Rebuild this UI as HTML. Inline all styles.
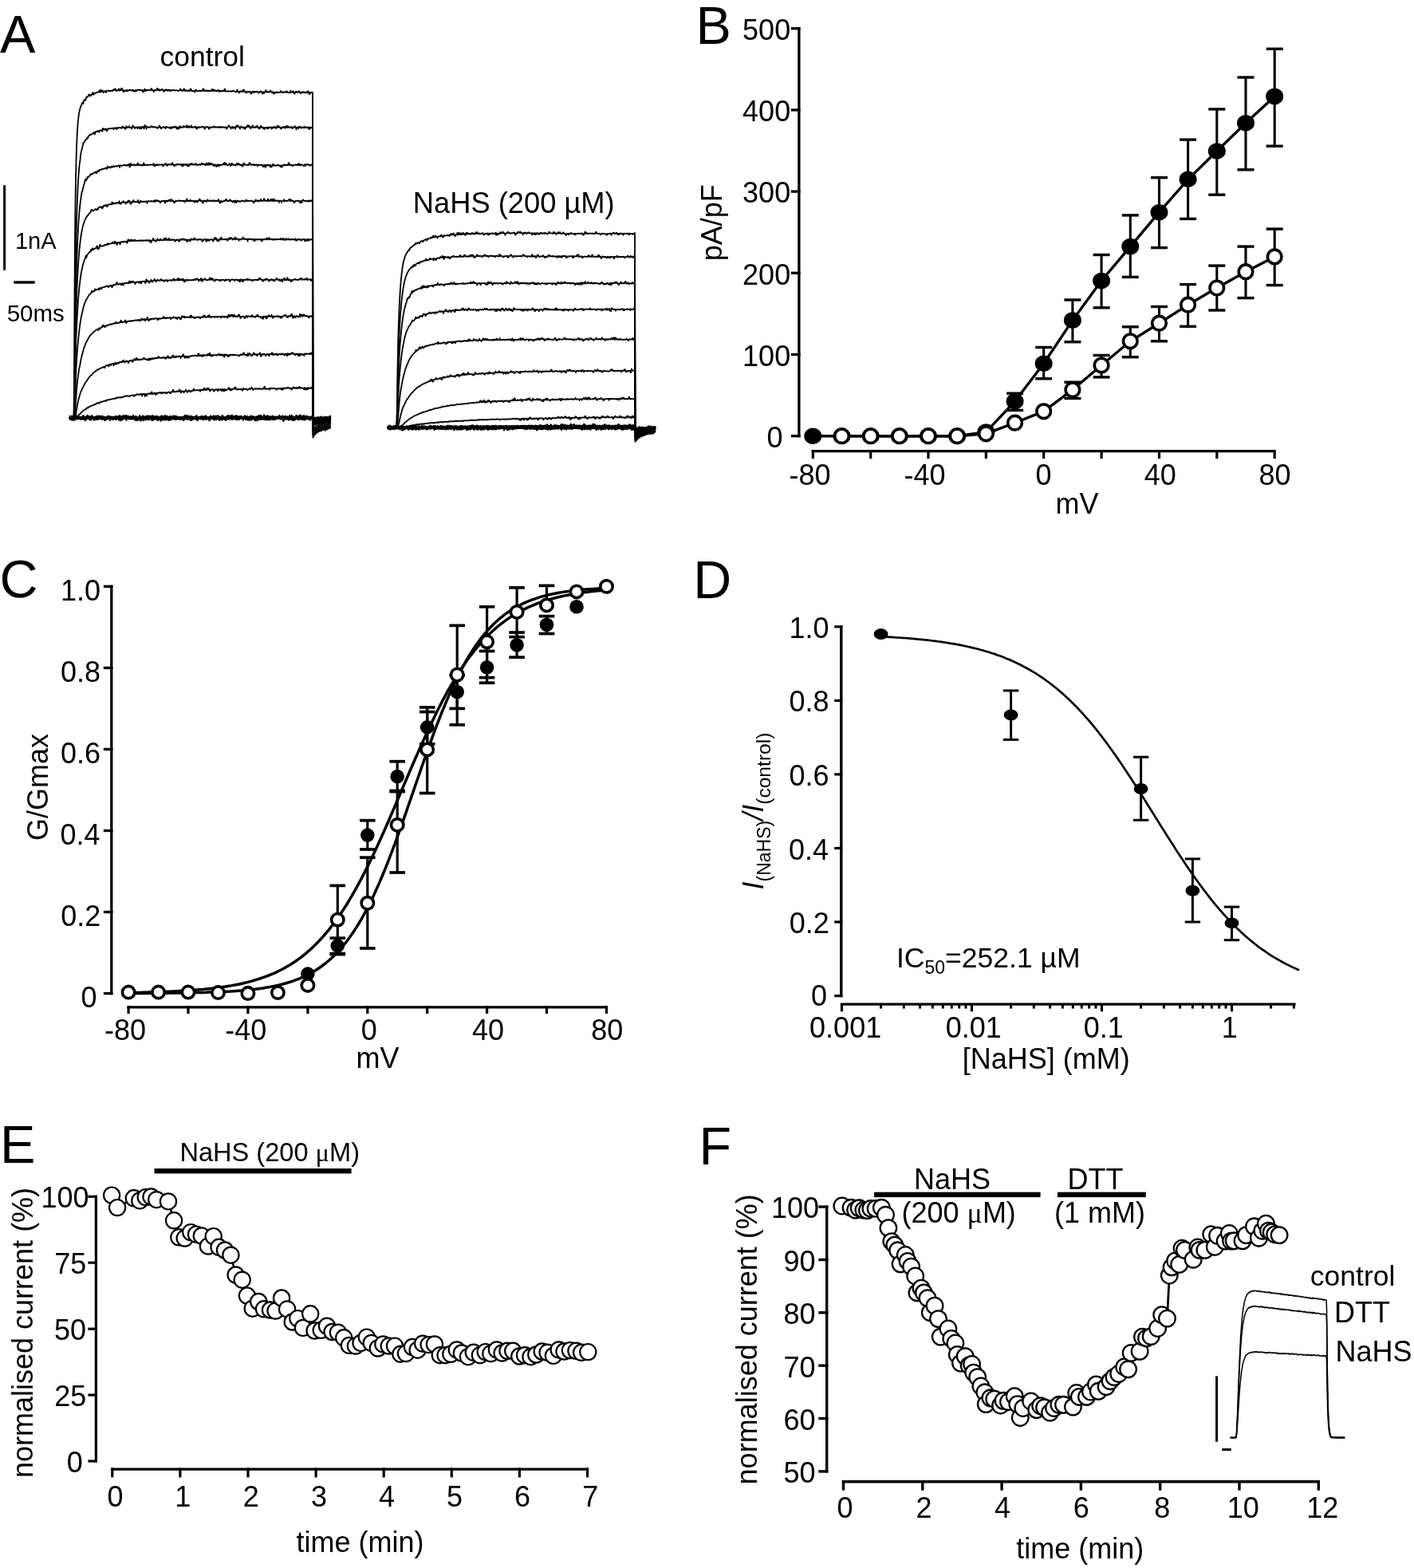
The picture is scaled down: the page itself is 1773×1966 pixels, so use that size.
<!DOCTYPE html>
<html><head><meta charset="utf-8"><title>Figure</title>
<style>html,body{margin:0;padding:0;background:#fff;}svg{display:block;}</style></head>
<body><svg width="1773" height="1966" viewBox="0 0 1773 1966" font-family="'Liberation Sans', Arial, sans-serif" fill="#000">
<rect width="1773" height="1966" fill="#fff"/>
<text x="0.1" y="65.8" font-size="66.5">A</text>
<text x="872.5" y="55.1" font-size="66.5">B</text>
<text x="-0.6" y="748.7" font-size="66.5">C</text>
<text x="869.3" y="749.9" font-size="66.5">D</text>
<text x="-0.1" y="1458" font-size="66.5">E</text>
<text x="876.5" y="1460.2" font-size="66.5">F</text>
<g stroke="#000" stroke-linecap="square">
<line x1="1001.9" y1="35.7" x2="1001.9" y2="546.7" stroke-width="3.3"/>
<line x1="993.5" y1="546.7" x2="1001.9" y2="546.7" stroke-width="3.3"/>
<line x1="993.5" y1="444.5" x2="1001.9" y2="444.5" stroke-width="3.3"/>
<line x1="993.5" y1="342.3" x2="1001.9" y2="342.3" stroke-width="3.3"/>
<line x1="993.5" y1="240.1" x2="1001.9" y2="240.1" stroke-width="3.3"/>
<line x1="993.5" y1="137.9" x2="1001.9" y2="137.9" stroke-width="3.3"/>
<line x1="993.5" y1="35.7" x2="1001.9" y2="35.7" stroke-width="3.3"/>
<line x1="1019.3" y1="565.7" x2="1597.5" y2="565.7" stroke-width="3.2"/>
<line x1="1019.3" y1="565.7" x2="1019.3" y2="573.5" stroke-width="3.2"/>
<line x1="1091.7" y1="565.7" x2="1091.7" y2="573.5" stroke-width="3.2"/>
<line x1="1164" y1="565.7" x2="1164" y2="573.5" stroke-width="3.2"/>
<line x1="1236.4" y1="565.7" x2="1236.4" y2="573.5" stroke-width="3.2"/>
<line x1="1308.7" y1="565.7" x2="1308.7" y2="573.5" stroke-width="3.2"/>
<line x1="1381.1" y1="565.7" x2="1381.1" y2="573.5" stroke-width="3.2"/>
<line x1="1453.5" y1="565.7" x2="1453.5" y2="573.5" stroke-width="3.2"/>
<line x1="1525.8" y1="565.7" x2="1525.8" y2="573.5" stroke-width="3.2"/>
<line x1="1598.2" y1="565.7" x2="1598.2" y2="573.5" stroke-width="3.2"/>
</g>
<text x="931.1" y="458.8" font-size="36">100</text>
<text x="931.1" y="356.6" font-size="36">200</text>
<text x="931.1" y="254.4" font-size="36">300</text>
<text x="931.1" y="152.2" font-size="36">400</text>
<text x="931.1" y="50" font-size="36">500</text>
<text x="961.5" y="560.8" font-size="36">0</text>
<text x="989.5" y="607.9" font-size="36">-80</text>
<text x="1133.6" y="607.9" font-size="36">-40</text>
<text x="1298.4" y="607.9" font-size="36">0</text>
<text x="1434.8" y="607.9" font-size="36">40</text>
<text x="1578.4" y="607.9" font-size="36">80</text>
<text x="1323.4" y="644.1" font-size="36">mV</text>
<text transform="translate(904.5 327.2) rotate(-90)" font-size="36">pA/pF</text>
<g stroke="#000" stroke-linecap="butt">
<line x1="1272.6" y1="493.2" x2="1272.6" y2="514.4" stroke-width="3.1"/>
<line x1="1262.1" y1="493.2" x2="1283.1" y2="493.2" stroke-width="3.4" stroke-linecap="butt"/>
<line x1="1262.1" y1="514.4" x2="1283.1" y2="514.4" stroke-width="3.4" stroke-linecap="butt"/>
<line x1="1308.7" y1="435.5" x2="1308.7" y2="474.8" stroke-width="3.1"/>
<line x1="1298.2" y1="435.5" x2="1319.2" y2="435.5" stroke-width="3.4" stroke-linecap="butt"/>
<line x1="1298.2" y1="474.8" x2="1319.2" y2="474.8" stroke-width="3.4" stroke-linecap="butt"/>
<line x1="1344.9" y1="376" x2="1344.9" y2="428.7" stroke-width="3.1"/>
<line x1="1334.4" y1="376" x2="1355.4" y2="376" stroke-width="3.4" stroke-linecap="butt"/>
<line x1="1334.4" y1="428.7" x2="1355.4" y2="428.7" stroke-width="3.4" stroke-linecap="butt"/>
<line x1="1381.1" y1="319.5" x2="1381.1" y2="385.8" stroke-width="3.1"/>
<line x1="1370.6" y1="319.5" x2="1391.6" y2="319.5" stroke-width="3.4" stroke-linecap="butt"/>
<line x1="1370.6" y1="385.8" x2="1391.6" y2="385.8" stroke-width="3.4" stroke-linecap="butt"/>
<line x1="1417.3" y1="269.9" x2="1417.3" y2="347.4" stroke-width="3.1"/>
<line x1="1406.8" y1="269.9" x2="1427.8" y2="269.9" stroke-width="3.4" stroke-linecap="butt"/>
<line x1="1406.8" y1="347.4" x2="1427.8" y2="347.4" stroke-width="3.4" stroke-linecap="butt"/>
<line x1="1453.5" y1="222.7" x2="1453.5" y2="310.6" stroke-width="3.1"/>
<line x1="1443" y1="222.7" x2="1464" y2="222.7" stroke-width="3.4" stroke-linecap="butt"/>
<line x1="1443" y1="310.6" x2="1464" y2="310.6" stroke-width="3.4" stroke-linecap="butt"/>
<line x1="1489.6" y1="175.1" x2="1489.6" y2="274.4" stroke-width="3.1"/>
<line x1="1479.1" y1="175.1" x2="1500.1" y2="175.1" stroke-width="3.4" stroke-linecap="butt"/>
<line x1="1479.1" y1="274.4" x2="1500.1" y2="274.4" stroke-width="3.4" stroke-linecap="butt"/>
<line x1="1525.8" y1="136.9" x2="1525.8" y2="244.2" stroke-width="3.1"/>
<line x1="1515.3" y1="136.9" x2="1536.3" y2="136.9" stroke-width="3.4" stroke-linecap="butt"/>
<line x1="1515.3" y1="244.2" x2="1536.3" y2="244.2" stroke-width="3.4" stroke-linecap="butt"/>
<line x1="1562" y1="97" x2="1562" y2="212.8" stroke-width="3.1"/>
<line x1="1551.5" y1="97" x2="1572.5" y2="97" stroke-width="3.4" stroke-linecap="butt"/>
<line x1="1551.5" y1="212.8" x2="1572.5" y2="212.8" stroke-width="3.4" stroke-linecap="butt"/>
<line x1="1598.2" y1="61.3" x2="1598.2" y2="183.2" stroke-width="3.1"/>
<line x1="1587.7" y1="61.3" x2="1608.7" y2="61.3" stroke-width="3.4" stroke-linecap="butt"/>
<line x1="1587.7" y1="183.2" x2="1608.7" y2="183.2" stroke-width="3.4" stroke-linecap="butt"/>
<polyline points="1019.3,546.7 1055.5,546.7 1091.7,546.7 1127.8,546.7 1164,546.7 1200.2,546.7 1236.4,541.6 1272.6,503.2 1308.7,455.7 1344.9,401.6 1381.1,352 1417.3,309.1 1453.5,266.2 1489.6,224.8 1525.8,189.5 1562,154.3 1598.2,120.9" fill="none" stroke-width="3.4"/>
<ellipse cx="1019.3" cy="546.7" rx="11" ry="10.3" fill="#000" stroke="none"/>
<ellipse cx="1055.5" cy="546.7" rx="11" ry="10.3" fill="#000" stroke="none"/>
<ellipse cx="1091.7" cy="546.7" rx="11" ry="10.3" fill="#000" stroke="none"/>
<ellipse cx="1127.8" cy="546.7" rx="11" ry="10.3" fill="#000" stroke="none"/>
<ellipse cx="1164" cy="546.7" rx="11" ry="10.3" fill="#000" stroke="none"/>
<ellipse cx="1200.2" cy="546.7" rx="11" ry="10.3" fill="#000" stroke="none"/>
<ellipse cx="1236.4" cy="541.6" rx="11" ry="10.3" fill="#000" stroke="none"/>
<ellipse cx="1272.6" cy="503.2" rx="11" ry="10.3" fill="#000" stroke="none"/>
<ellipse cx="1308.7" cy="455.7" rx="11" ry="10.3" fill="#000" stroke="none"/>
<ellipse cx="1344.9" cy="401.6" rx="11" ry="10.3" fill="#000" stroke="none"/>
<ellipse cx="1381.1" cy="352" rx="11" ry="10.3" fill="#000" stroke="none"/>
<ellipse cx="1417.3" cy="309.1" rx="11" ry="10.3" fill="#000" stroke="none"/>
<ellipse cx="1453.5" cy="266.2" rx="11" ry="10.3" fill="#000" stroke="none"/>
<ellipse cx="1489.6" cy="224.8" rx="11" ry="10.3" fill="#000" stroke="none"/>
<ellipse cx="1525.8" cy="189.5" rx="11" ry="10.3" fill="#000" stroke="none"/>
<ellipse cx="1562" cy="154.3" rx="11" ry="10.3" fill="#000" stroke="none"/>
<ellipse cx="1598.2" cy="120.9" rx="11" ry="10.3" fill="#000" stroke="none"/>
<line x1="1344.9" y1="479.2" x2="1344.9" y2="499.5" stroke-width="3.1"/>
<line x1="1334.4" y1="479.2" x2="1355.4" y2="479.2" stroke-width="3.4" stroke-linecap="butt"/>
<line x1="1334.4" y1="499.5" x2="1355.4" y2="499.5" stroke-width="3.4" stroke-linecap="butt"/>
<line x1="1381.1" y1="445.5" x2="1381.1" y2="472.9" stroke-width="3.1"/>
<line x1="1370.6" y1="445.5" x2="1391.6" y2="445.5" stroke-width="3.4" stroke-linecap="butt"/>
<line x1="1370.6" y1="472.9" x2="1391.6" y2="472.9" stroke-width="3.4" stroke-linecap="butt"/>
<line x1="1417.3" y1="409.8" x2="1417.3" y2="447.7" stroke-width="3.1"/>
<line x1="1406.8" y1="409.8" x2="1427.8" y2="409.8" stroke-width="3.4" stroke-linecap="butt"/>
<line x1="1406.8" y1="447.7" x2="1427.8" y2="447.7" stroke-width="3.4" stroke-linecap="butt"/>
<line x1="1453.5" y1="384.5" x2="1453.5" y2="427.8" stroke-width="3.1"/>
<line x1="1443" y1="384.5" x2="1464" y2="384.5" stroke-width="3.4" stroke-linecap="butt"/>
<line x1="1443" y1="427.8" x2="1464" y2="427.8" stroke-width="3.4" stroke-linecap="butt"/>
<line x1="1489.6" y1="356.6" x2="1489.6" y2="409.3" stroke-width="3.1"/>
<line x1="1479.1" y1="356.6" x2="1500.1" y2="356.6" stroke-width="3.4" stroke-linecap="butt"/>
<line x1="1479.1" y1="409.3" x2="1500.1" y2="409.3" stroke-width="3.4" stroke-linecap="butt"/>
<line x1="1525.8" y1="333.1" x2="1525.8" y2="389" stroke-width="3.1"/>
<line x1="1515.3" y1="333.1" x2="1536.3" y2="333.1" stroke-width="3.4" stroke-linecap="butt"/>
<line x1="1515.3" y1="389" x2="1536.3" y2="389" stroke-width="3.4" stroke-linecap="butt"/>
<line x1="1562" y1="309.1" x2="1562" y2="373.6" stroke-width="3.1"/>
<line x1="1551.5" y1="309.1" x2="1572.5" y2="309.1" stroke-width="3.4" stroke-linecap="butt"/>
<line x1="1551.5" y1="373.6" x2="1572.5" y2="373.6" stroke-width="3.4" stroke-linecap="butt"/>
<line x1="1598.2" y1="287.1" x2="1598.2" y2="357.6" stroke-width="3.1"/>
<line x1="1587.7" y1="287.1" x2="1608.7" y2="287.1" stroke-width="3.4" stroke-linecap="butt"/>
<line x1="1587.7" y1="357.6" x2="1608.7" y2="357.6" stroke-width="3.4" stroke-linecap="butt"/>
<polyline points="1055.5,546.7 1091.7,546.7 1127.8,546.7 1164,546.7 1200.2,546.7 1236.4,543.8 1272.6,530.2 1308.7,515.8 1344.9,488.7 1381.1,458 1417.3,427.8 1453.5,405.2 1489.6,382.2 1525.8,361 1562,340.7 1598.2,321.9" fill="none" stroke-width="3.4"/>
<circle cx="1055.5" cy="546.7" r="8.8" fill="#fff" stroke-width="3.6"/>
<circle cx="1091.7" cy="546.7" r="8.8" fill="#fff" stroke-width="3.6"/>
<circle cx="1127.8" cy="546.7" r="8.8" fill="#fff" stroke-width="3.6"/>
<circle cx="1164" cy="546.7" r="8.8" fill="#fff" stroke-width="3.6"/>
<circle cx="1200.2" cy="546.7" r="8.8" fill="#fff" stroke-width="3.6"/>
<circle cx="1236.4" cy="543.8" r="8.8" fill="#fff" stroke-width="3.6"/>
<circle cx="1272.6" cy="530.2" r="8.8" fill="#fff" stroke-width="3.6"/>
<circle cx="1308.7" cy="515.8" r="8.8" fill="#fff" stroke-width="3.6"/>
<circle cx="1344.9" cy="488.7" r="8.8" fill="#fff" stroke-width="3.6"/>
<circle cx="1381.1" cy="458" r="8.8" fill="#fff" stroke-width="3.6"/>
<circle cx="1417.3" cy="427.8" r="8.8" fill="#fff" stroke-width="3.6"/>
<circle cx="1453.5" cy="405.2" r="8.8" fill="#fff" stroke-width="3.6"/>
<circle cx="1489.6" cy="382.2" r="8.8" fill="#fff" stroke-width="3.6"/>
<circle cx="1525.8" cy="361" r="8.8" fill="#fff" stroke-width="3.6"/>
<circle cx="1562" cy="340.7" r="8.8" fill="#fff" stroke-width="3.6"/>
<circle cx="1598.2" cy="321.9" r="8.8" fill="#fff" stroke-width="3.6"/>
</g>
<g stroke="#000" stroke-linecap="square">
<line x1="139.8" y1="735.3" x2="139.8" y2="1245.6" stroke-width="3.3"/>
<line x1="131.5" y1="1245.6" x2="139.8" y2="1245.6" stroke-width="3.3"/>
<line x1="131.5" y1="1143.5" x2="139.8" y2="1143.5" stroke-width="3.3"/>
<line x1="131.5" y1="1041.5" x2="139.8" y2="1041.5" stroke-width="3.3"/>
<line x1="131.5" y1="939.4" x2="139.8" y2="939.4" stroke-width="3.3"/>
<line x1="131.5" y1="837.4" x2="139.8" y2="837.4" stroke-width="3.3"/>
<line x1="131.5" y1="735.3" x2="139.8" y2="735.3" stroke-width="3.3"/>
<line x1="161.1" y1="1262.9" x2="760.4" y2="1262.9" stroke-width="3.2"/>
<line x1="161.1" y1="1262.9" x2="161.1" y2="1269.5" stroke-width="3.2"/>
<line x1="236" y1="1262.9" x2="236" y2="1269.5" stroke-width="3.2"/>
<line x1="310.9" y1="1262.9" x2="310.9" y2="1269.5" stroke-width="3.2"/>
<line x1="385.9" y1="1262.9" x2="385.9" y2="1269.5" stroke-width="3.2"/>
<line x1="460.8" y1="1262.9" x2="460.8" y2="1269.5" stroke-width="3.2"/>
<line x1="535.7" y1="1262.9" x2="535.7" y2="1269.5" stroke-width="3.2"/>
<line x1="610.6" y1="1262.9" x2="610.6" y2="1269.5" stroke-width="3.2"/>
<line x1="685.5" y1="1262.9" x2="685.5" y2="1269.5" stroke-width="3.2"/>
<line x1="760.5" y1="1262.9" x2="760.5" y2="1269.5" stroke-width="3.2"/>
</g>
<text x="101.4" y="1262.9" font-size="36">0</text>
<text x="76.2" y="1160.8" font-size="36">0.2</text>
<text x="75.5" y="1058.8" font-size="36">0.4</text>
<text x="76" y="956.7" font-size="36">0.6</text>
<text x="76" y="854.6" font-size="36">0.8</text>
<text x="75.9" y="752.6" font-size="36">1.0</text>
<text x="131" y="1303.7" font-size="36">-80</text>
<text x="282.3" y="1303.7" font-size="36">-40</text>
<text x="452.8" y="1303.7" font-size="36">0</text>
<text x="591.9" y="1303.7" font-size="36">40</text>
<text x="741.3" y="1303.7" font-size="36">80</text>
<text x="446.4" y="1338.8" font-size="36">mV</text>
<text transform="translate(59.9 1054) rotate(-90)" font-size="36">G/Gmax</text>
<g stroke="#000" fill="none">
<polyline points="161.1,1244.7 164.8,1244.6 168.6,1244.5 172.3,1244.5 176.1,1244.4 179.8,1244.3 183.6,1244.2 187.3,1244.1 191.1,1244 194.8,1243.9 198.6,1243.8 202.3,1243.6 206.1,1243.5 209.8,1243.3 213.5,1243.2 217.3,1243 221,1242.8 224.8,1242.6 228.5,1242.4 232.3,1242.2 236,1241.9 239.8,1241.7 243.5,1241.4 247.3,1241.1 251,1240.8 254.8,1240.5 258.5,1240.1 262.2,1239.7 266,1239.3 269.7,1238.8 273.5,1238.4 277.2,1237.9 281,1237.3 284.7,1236.7 288.5,1236.1 292.2,1235.4 296,1234.7 299.7,1234 303.4,1233.2 307.2,1232.3 310.9,1231.4 314.7,1230.4 318.4,1229.3 322.2,1228.2 325.9,1227 329.7,1225.7 333.4,1224.4 337.2,1222.9 340.9,1221.4 344.7,1219.8 348.4,1218 352.1,1216.2 355.9,1214.2 359.6,1212.1 363.4,1209.9 367.1,1207.5 370.9,1205 374.6,1202.3 378.4,1199.5 382.1,1196.6 385.9,1193.4 389.6,1190.1 393.4,1186.6 397.1,1182.9 400.8,1179 404.6,1174.9 408.3,1170.6 412.1,1166.1 415.8,1161.3 419.6,1156.4 423.3,1151.2 427.1,1145.8 430.8,1140.1 434.6,1134.2 438.3,1128.1 442,1121.7 445.8,1115.2 449.5,1108.4 453.3,1101.3 457,1094.1 460.8,1086.6 464.5,1079 468.3,1071.2 472,1063.2 475.8,1055 479.5,1046.7 483.3,1038.3 487,1029.7 490.7,1021.1 494.5,1012.4 498.2,1003.6 502,994.8 505.7,986.1 509.5,977.3 513.2,968.5 517,959.8 520.7,951.2 524.5,942.6 528.2,934.2 532,925.9 535.7,917.7 539.4,909.7 543.2,901.9 546.9,894.3 550.7,886.8 554.4,879.6 558.2,872.5 561.9,865.7 565.7,859.2 569.4,852.8 573.2,846.7 576.9,840.8 580.7,835.1 584.4,829.7 588.1,824.5 591.9,819.6 595.6,814.8 599.4,810.3 603.1,806 606.9,801.9 610.6,798 614.4,794.3 618.1,790.8 621.9,787.5 625.6,784.3 629.4,781.4 633.1,778.6 636.8,775.9 640.6,773.4 644.3,771 648.1,768.8 651.8,766.7 655.6,764.7 659.3,762.9 663.1,761.1 666.8,759.5 670.6,758 674.3,756.5 678,755.2 681.8,753.9 685.5,752.7 689.3,751.6 693,750.5 696.8,749.5 700.5,748.6 704.3,747.7 708,746.9 711.8,746.2 715.5,745.5 719.3,744.8 723,744.2 726.7,743.6 730.5,743 734.2,742.5 738,742.1 741.7,741.6 745.5,741.2 749.2,740.8 753,740.4 756.7,740.1 760.5,739.8" fill="none" stroke-width="3.5"/>
<polyline points="161.1,1245.5 164.8,1245.4 168.6,1245.4 172.3,1245.4 176.1,1245.4 179.8,1245.4 183.6,1245.4 187.3,1245.3 191.1,1245.3 194.8,1245.3 198.6,1245.3 202.3,1245.2 206.1,1245.2 209.8,1245.2 213.5,1245.1 217.3,1245.1 221,1245 224.8,1245 228.5,1244.9 232.3,1244.9 236,1244.8 239.8,1244.7 243.5,1244.6 247.3,1244.6 251,1244.5 254.8,1244.4 258.5,1244.3 262.2,1244.1 266,1244 269.7,1243.9 273.5,1243.7 277.2,1243.5 281,1243.4 284.7,1243.2 288.5,1243 292.2,1242.7 296,1242.5 299.7,1242.2 303.4,1241.9 307.2,1241.6 310.9,1241.2 314.7,1240.8 318.4,1240.4 322.2,1239.9 325.9,1239.4 329.7,1238.9 333.4,1238.3 337.2,1237.6 340.9,1236.9 344.7,1236.2 348.4,1235.4 352.1,1234.5 355.9,1233.5 359.6,1232.5 363.4,1231.3 367.1,1230.1 370.9,1228.7 374.6,1227.3 378.4,1225.7 382.1,1224 385.9,1222.2 389.6,1220.2 393.4,1218 397.1,1215.7 400.8,1213.2 404.6,1210.5 408.3,1207.6 412.1,1204.5 415.8,1201.2 419.6,1197.6 423.3,1193.7 427.1,1189.6 430.8,1185.2 434.6,1180.5 438.3,1175.5 442,1170.2 445.8,1164.5 449.5,1158.5 453.3,1152.2 457,1145.5 460.8,1138.4 464.5,1131 468.3,1123.2 472,1115.1 475.8,1106.6 479.5,1097.8 483.3,1088.7 487,1079.3 490.7,1069.5 494.5,1059.6 498.2,1049.3 502,1038.9 505.7,1028.3 509.5,1017.6 513.2,1006.8 517,995.9 520.7,985 524.5,974.1 528.2,963.3 532,952.6 535.7,942 539.4,931.6 543.2,921.3 546.9,911.4 550.7,901.6 554.4,892.2 558.2,883.1 561.9,874.3 565.7,865.8 569.4,857.7 573.2,849.9 576.9,842.5 580.7,835.4 584.4,828.7 588.1,822.4 591.9,816.4 595.6,810.7 599.4,805.4 603.1,800.4 606.9,795.7 610.6,791.3 614.4,787.2 618.1,783.3 621.9,779.7 625.6,776.4 629.4,773.3 633.1,770.4 636.8,767.7 640.6,765.2 644.3,762.9 648.1,760.7 651.8,758.7 655.6,756.9 659.3,755.2 663.1,753.6 666.8,752.2 670.6,750.8 674.3,749.6 678,748.4 681.8,747.4 685.5,746.4 689.3,745.5 693,744.7 696.8,744 700.5,743.3 704.3,742.6 708,742 711.8,741.5 715.5,741 719.3,740.5 723,740.1 726.7,739.7 730.5,739.3 734.2,739 738,738.7 741.7,738.4 745.5,738.2 749.2,737.9 753,737.7 756.7,737.5 760.5,737.4" fill="none" stroke-width="3.5"/>
</g>
<g stroke="#000" stroke-linecap="butt">
<line x1="423.3" y1="1176.2" x2="423.3" y2="1196.6" stroke-width="3.2"/>
<line x1="413.5" y1="1176.2" x2="433.1" y2="1176.2" stroke-width="3.7"/>
<line x1="413.5" y1="1196.6" x2="433.1" y2="1196.6" stroke-width="3.7"/>
<line x1="460.8" y1="1028.7" x2="460.8" y2="1065" stroke-width="3.2"/>
<line x1="451" y1="1028.7" x2="470.6" y2="1028.7" stroke-width="3.7"/>
<line x1="451" y1="1065" x2="470.6" y2="1065" stroke-width="3.7"/>
<line x1="498.2" y1="954.7" x2="498.2" y2="992.5" stroke-width="3.2"/>
<line x1="488.4" y1="954.7" x2="508" y2="954.7" stroke-width="3.7"/>
<line x1="488.4" y1="992.5" x2="508" y2="992.5" stroke-width="3.7"/>
<line x1="535.7" y1="886.9" x2="535.7" y2="932.8" stroke-width="3.2"/>
<line x1="525.9" y1="886.9" x2="545.5" y2="886.9" stroke-width="3.7"/>
<line x1="525.9" y1="932.8" x2="545.5" y2="932.8" stroke-width="3.7"/>
<line x1="573.2" y1="846.5" x2="573.2" y2="888.4" stroke-width="3.2"/>
<line x1="563.4" y1="846.5" x2="583" y2="846.5" stroke-width="3.7"/>
<line x1="563.4" y1="888.4" x2="583" y2="888.4" stroke-width="3.7"/>
<line x1="610.6" y1="816.4" x2="610.6" y2="856.2" stroke-width="3.2"/>
<line x1="600.8" y1="816.4" x2="620.4" y2="816.4" stroke-width="3.7"/>
<line x1="600.8" y1="856.2" x2="620.4" y2="856.2" stroke-width="3.7"/>
<line x1="648.1" y1="793" x2="648.1" y2="824.1" stroke-width="3.2"/>
<line x1="638.3" y1="793" x2="657.9" y2="793" stroke-width="3.7"/>
<line x1="638.3" y1="824.1" x2="657.9" y2="824.1" stroke-width="3.7"/>
<line x1="685.5" y1="772.6" x2="685.5" y2="794.5" stroke-width="3.2"/>
<line x1="675.7" y1="772.6" x2="695.3" y2="772.6" stroke-width="3.7"/>
<line x1="675.7" y1="794.5" x2="695.3" y2="794.5" stroke-width="3.7"/>
<circle cx="161.1" cy="1244.1" r="8.8" fill="#000" stroke="none"/>
<circle cx="198.6" cy="1244.1" r="8.8" fill="#000" stroke="none"/>
<circle cx="236" cy="1244.1" r="8.8" fill="#000" stroke="none"/>
<circle cx="273.5" cy="1244.1" r="8.8" fill="#000" stroke="none"/>
<circle cx="310.9" cy="1244.6" r="8.8" fill="#000" stroke="none"/>
<circle cx="348.4" cy="1244.1" r="8.8" fill="#000" stroke="none"/>
<circle cx="385.9" cy="1221.1" r="8.8" fill="#000" stroke="none"/>
<circle cx="423.3" cy="1185.9" r="8.8" fill="#000" stroke="none"/>
<circle cx="460.8" cy="1047.1" r="8.8" fill="#000" stroke="none"/>
<circle cx="498.2" cy="973.6" r="8.8" fill="#000" stroke="none"/>
<circle cx="535.7" cy="911.9" r="8.8" fill="#000" stroke="none"/>
<circle cx="573.2" cy="867.5" r="8.8" fill="#000" stroke="none"/>
<circle cx="610.6" cy="836.8" r="8.8" fill="#000" stroke="none"/>
<circle cx="648.1" cy="808.8" r="8.8" fill="#000" stroke="none"/>
<circle cx="685.5" cy="783.3" r="8.8" fill="#000" stroke="none"/>
<circle cx="723" cy="760.8" r="8.8" fill="#000" stroke="none"/>
<line x1="423.3" y1="1110.4" x2="423.3" y2="1195.6" stroke-width="3.2"/>
<line x1="413.5" y1="1110.4" x2="433.1" y2="1110.4" stroke-width="3.7"/>
<line x1="413.5" y1="1195.6" x2="433.1" y2="1195.6" stroke-width="3.7"/>
<line x1="460.8" y1="1075.2" x2="460.8" y2="1189" stroke-width="3.2"/>
<line x1="451" y1="1075.2" x2="470.6" y2="1075.2" stroke-width="3.7"/>
<line x1="451" y1="1189" x2="470.6" y2="1189" stroke-width="3.7"/>
<line x1="498.2" y1="991.5" x2="498.2" y2="1094" stroke-width="3.2"/>
<line x1="488.4" y1="991.5" x2="508" y2="991.5" stroke-width="3.7"/>
<line x1="488.4" y1="1094" x2="508" y2="1094" stroke-width="3.7"/>
<line x1="535.7" y1="892.5" x2="535.7" y2="994.5" stroke-width="3.2"/>
<line x1="525.9" y1="892.5" x2="545.5" y2="892.5" stroke-width="3.7"/>
<line x1="525.9" y1="994.5" x2="545.5" y2="994.5" stroke-width="3.7"/>
<line x1="573.2" y1="784.3" x2="573.2" y2="908.8" stroke-width="3.2"/>
<line x1="563.4" y1="784.3" x2="583" y2="784.3" stroke-width="3.7"/>
<line x1="563.4" y1="908.8" x2="583" y2="908.8" stroke-width="3.7"/>
<line x1="610.6" y1="760.8" x2="610.6" y2="849.6" stroke-width="3.2"/>
<line x1="600.8" y1="760.8" x2="620.4" y2="760.8" stroke-width="3.7"/>
<line x1="600.8" y1="849.6" x2="620.4" y2="849.6" stroke-width="3.7"/>
<line x1="648.1" y1="736.8" x2="648.1" y2="798.6" stroke-width="3.2"/>
<line x1="638.3" y1="736.8" x2="657.9" y2="736.8" stroke-width="3.7"/>
<line x1="638.3" y1="798.6" x2="657.9" y2="798.6" stroke-width="3.7"/>
<line x1="685.5" y1="734.3" x2="685.5" y2="758.8" stroke-width="3.2"/>
<line x1="675.7" y1="734.3" x2="695.3" y2="734.3" stroke-width="3.7"/>
<circle cx="161.1" cy="1244.1" r="7.7" fill="#fff" stroke-width="3.6"/>
<circle cx="198.6" cy="1244.1" r="7.7" fill="#fff" stroke-width="3.6"/>
<circle cx="236" cy="1244.1" r="7.7" fill="#fff" stroke-width="3.6"/>
<circle cx="273.5" cy="1244.6" r="7.7" fill="#fff" stroke-width="3.6"/>
<circle cx="310.9" cy="1245.6" r="7.7" fill="#fff" stroke-width="3.6"/>
<circle cx="348.4" cy="1244.6" r="7.7" fill="#fff" stroke-width="3.6"/>
<circle cx="385.9" cy="1235.4" r="7.7" fill="#fff" stroke-width="3.6"/>
<circle cx="423.3" cy="1153.2" r="7.7" fill="#fff" stroke-width="3.6"/>
<circle cx="460.8" cy="1132.3" r="7.7" fill="#fff" stroke-width="3.6"/>
<circle cx="498.2" cy="1034.3" r="7.7" fill="#fff" stroke-width="3.6"/>
<circle cx="535.7" cy="939.9" r="7.7" fill="#fff" stroke-width="3.6"/>
<circle cx="573.2" cy="846" r="7.7" fill="#fff" stroke-width="3.6"/>
<circle cx="610.6" cy="804.7" r="7.7" fill="#fff" stroke-width="3.6"/>
<circle cx="648.1" cy="767.4" r="7.7" fill="#fff" stroke-width="3.6"/>
<circle cx="685.5" cy="758.8" r="7.7" fill="#fff" stroke-width="3.6"/>
<circle cx="723" cy="741.9" r="7.7" fill="#fff" stroke-width="3.6"/>
<circle cx="760.5" cy="735.3" r="7.7" fill="#fff" stroke-width="3.6"/>
</g>
<g stroke="#000" stroke-linecap="square">
<line x1="1054.8" y1="785.8" x2="1054.8" y2="1248.6" stroke-width="3.4"/>
<line x1="1047.8" y1="1248.6" x2="1054.8" y2="1248.6" stroke-width="3.2"/>
<line x1="1047.8" y1="1156" x2="1054.8" y2="1156" stroke-width="3.2"/>
<line x1="1047.8" y1="1063.5" x2="1054.8" y2="1063.5" stroke-width="3.2"/>
<line x1="1047.8" y1="970.9" x2="1054.8" y2="970.9" stroke-width="3.2"/>
<line x1="1047.8" y1="878.4" x2="1054.8" y2="878.4" stroke-width="3.2"/>
<line x1="1047.8" y1="785.8" x2="1054.8" y2="785.8" stroke-width="3.2"/>
</g>
<g stroke="#000" stroke-linecap="butt">
<line x1="1053.8" y1="1259.2" x2="1624.6" y2="1259.2" stroke-width="3.2"/>
<line x1="1055.5" y1="1259.2" x2="1055.5" y2="1268.3" stroke-width="3.2"/>
<line x1="1104.6" y1="1259.2" x2="1104.6" y2="1264.6" stroke-width="3"/>
<line x1="1133.3" y1="1259.2" x2="1133.3" y2="1264.6" stroke-width="3"/>
<line x1="1153.6" y1="1259.2" x2="1153.6" y2="1264.6" stroke-width="3"/>
<line x1="1169.4" y1="1259.2" x2="1169.4" y2="1264.6" stroke-width="3"/>
<line x1="1182.3" y1="1259.2" x2="1182.3" y2="1264.6" stroke-width="3"/>
<line x1="1193.3" y1="1259.2" x2="1193.3" y2="1264.6" stroke-width="3"/>
<line x1="1202.7" y1="1259.2" x2="1202.7" y2="1264.6" stroke-width="3"/>
<line x1="1211" y1="1259.2" x2="1211" y2="1264.6" stroke-width="3"/>
<line x1="1218.5" y1="1259.2" x2="1218.5" y2="1268.3" stroke-width="3.2"/>
<line x1="1267.6" y1="1259.2" x2="1267.6" y2="1264.6" stroke-width="3"/>
<line x1="1296.3" y1="1259.2" x2="1296.3" y2="1264.6" stroke-width="3"/>
<line x1="1316.6" y1="1259.2" x2="1316.6" y2="1264.6" stroke-width="3"/>
<line x1="1332.4" y1="1259.2" x2="1332.4" y2="1264.6" stroke-width="3"/>
<line x1="1345.3" y1="1259.2" x2="1345.3" y2="1264.6" stroke-width="3"/>
<line x1="1356.3" y1="1259.2" x2="1356.3" y2="1264.6" stroke-width="3"/>
<line x1="1365.7" y1="1259.2" x2="1365.7" y2="1264.6" stroke-width="3"/>
<line x1="1374" y1="1259.2" x2="1374" y2="1264.6" stroke-width="3"/>
<line x1="1381.5" y1="1259.2" x2="1381.5" y2="1268.3" stroke-width="3.2"/>
<line x1="1430.6" y1="1259.2" x2="1430.6" y2="1264.6" stroke-width="3"/>
<line x1="1459.3" y1="1259.2" x2="1459.3" y2="1264.6" stroke-width="3"/>
<line x1="1479.6" y1="1259.2" x2="1479.6" y2="1264.6" stroke-width="3"/>
<line x1="1495.4" y1="1259.2" x2="1495.4" y2="1264.6" stroke-width="3"/>
<line x1="1508.3" y1="1259.2" x2="1508.3" y2="1264.6" stroke-width="3"/>
<line x1="1519.3" y1="1259.2" x2="1519.3" y2="1264.6" stroke-width="3"/>
<line x1="1528.7" y1="1259.2" x2="1528.7" y2="1264.6" stroke-width="3"/>
<line x1="1537" y1="1259.2" x2="1537" y2="1264.6" stroke-width="3"/>
<line x1="1544.5" y1="1259.2" x2="1544.5" y2="1268.3" stroke-width="3.2"/>
<line x1="1593.6" y1="1259.2" x2="1593.6" y2="1264.6" stroke-width="3"/>
<line x1="1622.3" y1="1259.2" x2="1622.3" y2="1264.6" stroke-width="3"/>
</g>
<text x="1017.1" y="1260.8" font-size="36">0</text>
<text x="989.8" y="1170" font-size="36">0.2</text>
<text x="989" y="1077.5" font-size="36">0.4</text>
<text x="989.5" y="984.9" font-size="36">0.6</text>
<text x="989.5" y="892.3" font-size="36">0.8</text>
<text x="989.4" y="799.8" font-size="36">1.0</text>
<text x="1015.1" y="1300.9" font-size="36">0.001</text>
<text x="1185.7" y="1300.9" font-size="36">0.01</text>
<text x="1358.7" y="1300.9" font-size="36">0.1</text>
<text x="1531.7" y="1301.3" font-size="36">1</text>
<text x="1206.8" y="1339.6" font-size="36">[NaHS] (mM)</text>
<g stroke="#000" fill="none">
<polyline points="1102.8,798.1 1105.4,798.2 1108.1,798.3 1110.7,798.5 1113.4,798.6 1116,798.8 1118.6,798.9 1121.3,799.1 1123.9,799.3 1126.6,799.5 1129.2,799.6 1131.9,799.8 1134.5,800 1137.2,800.2 1139.8,800.4 1142.4,800.7 1145.1,800.9 1147.7,801.1 1150.4,801.4 1153,801.6 1155.7,801.9 1158.3,802.2 1161,802.4 1163.6,802.7 1166.2,803 1168.9,803.4 1171.5,803.7 1174.2,804 1176.8,804.4 1179.5,804.7 1182.1,805.1 1184.8,805.5 1187.4,805.9 1190,806.3 1192.7,806.8 1195.3,807.2 1198,807.7 1200.6,808.2 1203.3,808.7 1205.9,809.2 1208.6,809.7 1211.2,810.3 1213.8,810.9 1216.5,811.4 1219.1,812.1 1221.8,812.7 1224.4,813.4 1227.1,814 1229.7,814.8 1232.4,815.5 1235,816.2 1237.6,817 1240.3,817.8 1242.9,818.7 1245.6,819.5 1248.2,820.4 1250.9,821.4 1253.5,822.3 1256.2,823.3 1258.8,824.3 1261.4,825.4 1264.1,826.5 1266.7,827.6 1269.4,828.8 1272,830 1274.7,831.2 1277.3,832.5 1280,833.8 1282.6,835.2 1285.2,836.6 1287.9,838 1290.5,839.5 1293.2,841 1295.8,842.6 1298.5,844.2 1301.1,845.9 1303.8,847.6 1306.4,849.4 1309,851.2 1311.7,853.1 1314.3,855 1317,857 1319.6,859.1 1322.3,861.2 1324.9,863.3 1327.6,865.5 1330.2,867.8 1332.8,870.1 1335.5,872.5 1338.1,874.9 1340.8,877.4 1343.4,880 1346.1,882.6 1348.7,885.3 1351.4,888 1354,890.8 1356.6,893.7 1359.3,896.6 1361.9,899.6 1364.6,902.6 1367.2,905.7 1369.9,908.9 1372.5,912.1 1375.2,915.4 1377.8,918.8 1380.4,922.2 1383.1,925.6 1385.7,929.1 1388.4,932.7 1391,936.3 1393.7,940 1396.3,943.7 1399,947.4 1401.6,951.3 1404.2,955.1 1406.9,959 1409.5,962.9 1412.2,966.9 1414.8,970.9 1417.5,975 1420.1,979.1 1422.8,983.2 1425.4,987.3 1428,991.4 1430.7,995.6 1433.3,999.8 1436,1004 1438.6,1008.2 1441.3,1012.5 1443.9,1016.7 1446.6,1020.9 1449.2,1025.2 1451.8,1029.4 1454.5,1033.7 1457.1,1037.9 1459.8,1042.1 1462.4,1046.3 1465.1,1050.5 1467.7,1054.6 1470.4,1058.8 1473,1062.9 1475.6,1067 1478.3,1071 1480.9,1075 1483.6,1079 1486.2,1083 1488.9,1086.9 1491.5,1090.8 1494.2,1094.6 1496.8,1098.4 1499.4,1102.1 1502.1,1105.8 1504.7,1109.4 1507.4,1113 1510,1116.5 1512.7,1120 1515.3,1123.4 1518,1126.8 1520.6,1130.1 1523.2,1133.3 1525.9,1136.5 1528.5,1139.6 1531.2,1142.7 1533.8,1145.7 1536.5,1148.6 1539.1,1151.5 1541.8,1154.3 1544.4,1157.1 1547,1159.8 1549.7,1162.4 1552.3,1165 1555,1167.5 1557.6,1170 1560.3,1172.4 1562.9,1174.7 1565.6,1177 1568.2,1179.2 1570.8,1181.4 1573.5,1183.5 1576.1,1185.6 1578.8,1187.6 1581.4,1189.5 1584.1,1191.4 1586.7,1193.2 1589.4,1195 1592,1196.8 1594.6,1198.5 1597.3,1200.1 1599.9,1201.7 1602.6,1203.2 1605.2,1204.7 1607.9,1206.2 1610.5,1207.6 1613.2,1209 1615.8,1210.3 1618.4,1211.6 1621.1,1212.9 1623.7,1214.1 1626.4,1215.2 1629,1216.4" fill="none" stroke-width="2.7"/>
</g>
<g stroke="#000" stroke-linecap="butt">
<line x1="1267.6" y1="865.9" x2="1267.6" y2="927.4" stroke-width="3"/>
<line x1="1257.9" y1="865.9" x2="1277.3" y2="865.9" stroke-width="3"/>
<line x1="1257.9" y1="927.4" x2="1277.3" y2="927.4" stroke-width="3"/>
<line x1="1430.6" y1="949.2" x2="1430.6" y2="1028.3" stroke-width="3"/>
<line x1="1420.9" y1="949.2" x2="1440.3" y2="949.2" stroke-width="3"/>
<line x1="1420.9" y1="1028.3" x2="1440.3" y2="1028.3" stroke-width="3"/>
<line x1="1495.4" y1="1076.9" x2="1495.4" y2="1156" stroke-width="3"/>
<line x1="1485.7" y1="1076.9" x2="1505.1" y2="1076.9" stroke-width="3"/>
<line x1="1485.7" y1="1156" x2="1505.1" y2="1156" stroke-width="3"/>
<line x1="1544.5" y1="1137.1" x2="1544.5" y2="1178.7" stroke-width="3"/>
<line x1="1534.8" y1="1137.1" x2="1554.2" y2="1137.1" stroke-width="3"/>
<line x1="1534.8" y1="1178.7" x2="1554.2" y2="1178.7" stroke-width="3"/>
<ellipse cx="1104.6" cy="795.1" rx="8.9" ry="7.0" fill="#000" stroke="none"/>
<ellipse cx="1267.6" cy="896.4" rx="8.9" ry="7.0" fill="#000" stroke="none"/>
<ellipse cx="1430.6" cy="989" rx="8.9" ry="7.0" fill="#000" stroke="none"/>
<ellipse cx="1495.4" cy="1116.7" rx="8.9" ry="7.0" fill="#000" stroke="none"/>
<ellipse cx="1544.5" cy="1157.4" rx="8.9" ry="7.0" fill="#000" stroke="none"/>
</g>
<text x="1124.0" y="1213.1" font-size="35.5">IC<tspan font-size="23" dy="7.8">50</tspan><tspan dy="-7.8">=252.1 µM</tspan></text>
<text transform="translate(957.4 1115.5) rotate(-90)" font-size="36"><tspan font-style="italic">I</tspan><tspan font-size="23" dy="8.8">(NaHS)</tspan><tspan dy="-8.8" font-style="italic">/I</tspan><tspan font-size="24.6" dy="8.8">(control)</tspan></text>
<g stroke="#000" stroke-linecap="square">
<line x1="120.4" y1="1500.3" x2="120.4" y2="1832" stroke-width="3.2"/>
<line x1="112" y1="1832" x2="120.4" y2="1832" stroke-width="3.2"/>
<line x1="112" y1="1749.1" x2="120.4" y2="1749.1" stroke-width="3.2"/>
<line x1="112" y1="1666.2" x2="120.4" y2="1666.2" stroke-width="3.2"/>
<line x1="112" y1="1583.2" x2="120.4" y2="1583.2" stroke-width="3.2"/>
<line x1="112" y1="1500.3" x2="120.4" y2="1500.3" stroke-width="3.2"/>
<line x1="140.8" y1="1842.1" x2="736.5" y2="1842.1" stroke-width="3.2"/>
<line x1="140.8" y1="1842.1" x2="140.8" y2="1850.8" stroke-width="3.2"/>
<line x1="225.9" y1="1842.1" x2="225.9" y2="1850.8" stroke-width="3.2"/>
<line x1="311" y1="1842.1" x2="311" y2="1850.8" stroke-width="3.2"/>
<line x1="396.1" y1="1842.1" x2="396.1" y2="1850.8" stroke-width="3.2"/>
<line x1="481.2" y1="1842.1" x2="481.2" y2="1850.8" stroke-width="3.2"/>
<line x1="566.3" y1="1842.1" x2="566.3" y2="1850.8" stroke-width="3.2"/>
<line x1="651.4" y1="1842.1" x2="651.4" y2="1850.8" stroke-width="3.2"/>
<line x1="736.5" y1="1842.1" x2="736.5" y2="1850.8" stroke-width="3.2"/>
</g>
<text x="83.8" y="1845.7" font-size="36">0</text>
<text x="68.2" y="1762.8" font-size="36">25</text>
<text x="68.1" y="1679.8" font-size="36">50</text>
<text x="68.2" y="1596.7" font-size="36">75</text>
<text x="51.4" y="1514" font-size="36">100</text>
<text x="134.6" y="1888.8" font-size="36">0</text>
<text x="219.2" y="1889.2" font-size="36">1</text>
<text x="304.8" y="1889.2" font-size="36">2</text>
<text x="390" y="1888.8" font-size="36">3</text>
<text x="475.1" y="1889.2" font-size="36">4</text>
<text x="560.1" y="1888.8" font-size="36">5</text>
<text x="645" y="1888.8" font-size="36">6</text>
<text x="730.2" y="1889.2" font-size="36">7</text>
<text x="371.4" y="1946" font-size="36">time (min)</text>
<text transform="translate(41.3 1853) rotate(-90)" font-size="36">normalised current (%)</text>
<rect x="193.5" y="1465.1" width="247.1" height="6.3"/>
<text x="225.4" y="1455.8" font-size="32.6">NaHS (200 <tspan font-family="'Liberation Serif', serif">μ</tspan>M)</text>
<g stroke="#000">
<polyline points="140.1,1498.6 147.1,1514.1 167.8,1502.3 175.3,1505.4 182.7,1501.1 189.5,1500.5 196.3,1504.2 211,1506.4 218.1,1530.3 224.3,1551.3 231.7,1552.6 239.2,1545.1 246,1547.6 252.8,1549.5 260.9,1562.5 267.7,1550.1 274.5,1563.8 282,1567.5 289.4,1573.7 295.6,1598.5 303.7,1604.7 309.9,1624.6 316.7,1640.7 324.2,1632 331,1641.3 339,1642.5 345.5,1643.6 353.1,1627.5 360.1,1641.4 366.7,1657.5 373.3,1653.1 379.9,1664.9 389.2,1647.3 394.6,1668.5 402.7,1667.8 410,1662.7 416.6,1670 423.9,1670.7 431.2,1677.3 437.9,1686.9 445.9,1687.6 452.5,1683.9 459.8,1676.6 465.7,1683.9 473.8,1690.5 480.4,1685.4 487.7,1687.6 495,1687.6 502.4,1697.8 509,1697.1 517,1689 523.6,1692.7 530.2,1684.7 537.6,1686.1 544.9,1685.4 551.8,1699.2 558.6,1699.2 565.3,1697.8 572.8,1692.4 578.9,1696.5 587,1701.2 593.8,1695.8 601.9,1699.2 608.7,1695.1 615.4,1697.2 622.9,1692.4 629.6,1696.5 636.4,1693.8 643.2,1693.8 651.3,1700.5 658.1,1699.2 665.5,1701.2 672.3,1698.5 679.7,1694.5 686.5,1695.8 693.9,1699.9 700.7,1692.4 707.5,1694.5 714.9,1693.1 722.4,1693.8 729.1,1695.8 737.3,1695.1" fill="none" stroke-width="2.6"/>
<circle cx="140.1" cy="1498.6" r="10.1" fill="#fff" stroke-width="2.2"/>
<circle cx="147.1" cy="1514.1" r="10.1" fill="#fff" stroke-width="2.2"/>
<circle cx="167.8" cy="1502.3" r="10.1" fill="#fff" stroke-width="2.2"/>
<circle cx="175.3" cy="1505.4" r="10.1" fill="#fff" stroke-width="2.2"/>
<circle cx="182.7" cy="1501.1" r="10.1" fill="#fff" stroke-width="2.2"/>
<circle cx="189.5" cy="1500.5" r="10.1" fill="#fff" stroke-width="2.2"/>
<circle cx="196.3" cy="1504.2" r="10.1" fill="#fff" stroke-width="2.2"/>
<circle cx="211" cy="1506.4" r="10.1" fill="#fff" stroke-width="2.2"/>
<circle cx="218.1" cy="1530.3" r="10.1" fill="#fff" stroke-width="2.2"/>
<circle cx="224.3" cy="1551.3" r="10.1" fill="#fff" stroke-width="2.2"/>
<circle cx="231.7" cy="1552.6" r="10.1" fill="#fff" stroke-width="2.2"/>
<circle cx="239.2" cy="1545.1" r="10.1" fill="#fff" stroke-width="2.2"/>
<circle cx="246" cy="1547.6" r="10.1" fill="#fff" stroke-width="2.2"/>
<circle cx="252.8" cy="1549.5" r="10.1" fill="#fff" stroke-width="2.2"/>
<circle cx="260.9" cy="1562.5" r="10.1" fill="#fff" stroke-width="2.2"/>
<circle cx="267.7" cy="1550.1" r="10.1" fill="#fff" stroke-width="2.2"/>
<circle cx="274.5" cy="1563.8" r="10.1" fill="#fff" stroke-width="2.2"/>
<circle cx="282" cy="1567.5" r="10.1" fill="#fff" stroke-width="2.2"/>
<circle cx="289.4" cy="1573.7" r="10.1" fill="#fff" stroke-width="2.2"/>
<circle cx="295.6" cy="1598.5" r="10.1" fill="#fff" stroke-width="2.2"/>
<circle cx="303.7" cy="1604.7" r="10.1" fill="#fff" stroke-width="2.2"/>
<circle cx="309.9" cy="1624.6" r="10.1" fill="#fff" stroke-width="2.2"/>
<circle cx="316.7" cy="1640.7" r="10.1" fill="#fff" stroke-width="2.2"/>
<circle cx="324.2" cy="1632" r="10.1" fill="#fff" stroke-width="2.2"/>
<circle cx="331" cy="1641.3" r="10.1" fill="#fff" stroke-width="2.2"/>
<circle cx="339" cy="1642.5" r="10.1" fill="#fff" stroke-width="2.2"/>
<circle cx="345.5" cy="1643.6" r="10.1" fill="#fff" stroke-width="2.2"/>
<circle cx="353.1" cy="1627.5" r="10.1" fill="#fff" stroke-width="2.2"/>
<circle cx="360.1" cy="1641.4" r="10.1" fill="#fff" stroke-width="2.2"/>
<circle cx="366.7" cy="1657.5" r="10.1" fill="#fff" stroke-width="2.2"/>
<circle cx="373.3" cy="1653.1" r="10.1" fill="#fff" stroke-width="2.2"/>
<circle cx="379.9" cy="1664.9" r="10.1" fill="#fff" stroke-width="2.2"/>
<circle cx="389.2" cy="1647.3" r="10.1" fill="#fff" stroke-width="2.2"/>
<circle cx="394.6" cy="1668.5" r="10.1" fill="#fff" stroke-width="2.2"/>
<circle cx="402.7" cy="1667.8" r="10.1" fill="#fff" stroke-width="2.2"/>
<circle cx="410" cy="1662.7" r="10.1" fill="#fff" stroke-width="2.2"/>
<circle cx="416.6" cy="1670" r="10.1" fill="#fff" stroke-width="2.2"/>
<circle cx="423.9" cy="1670.7" r="10.1" fill="#fff" stroke-width="2.2"/>
<circle cx="431.2" cy="1677.3" r="10.1" fill="#fff" stroke-width="2.2"/>
<circle cx="437.9" cy="1686.9" r="10.1" fill="#fff" stroke-width="2.2"/>
<circle cx="445.9" cy="1687.6" r="10.1" fill="#fff" stroke-width="2.2"/>
<circle cx="452.5" cy="1683.9" r="10.1" fill="#fff" stroke-width="2.2"/>
<circle cx="459.8" cy="1676.6" r="10.1" fill="#fff" stroke-width="2.2"/>
<circle cx="465.7" cy="1683.9" r="10.1" fill="#fff" stroke-width="2.2"/>
<circle cx="473.8" cy="1690.5" r="10.1" fill="#fff" stroke-width="2.2"/>
<circle cx="480.4" cy="1685.4" r="10.1" fill="#fff" stroke-width="2.2"/>
<circle cx="487.7" cy="1687.6" r="10.1" fill="#fff" stroke-width="2.2"/>
<circle cx="495" cy="1687.6" r="10.1" fill="#fff" stroke-width="2.2"/>
<circle cx="502.4" cy="1697.8" r="10.1" fill="#fff" stroke-width="2.2"/>
<circle cx="509" cy="1697.1" r="10.1" fill="#fff" stroke-width="2.2"/>
<circle cx="517" cy="1689" r="10.1" fill="#fff" stroke-width="2.2"/>
<circle cx="523.6" cy="1692.7" r="10.1" fill="#fff" stroke-width="2.2"/>
<circle cx="530.2" cy="1684.7" r="10.1" fill="#fff" stroke-width="2.2"/>
<circle cx="537.6" cy="1686.1" r="10.1" fill="#fff" stroke-width="2.2"/>
<circle cx="544.9" cy="1685.4" r="10.1" fill="#fff" stroke-width="2.2"/>
<circle cx="551.8" cy="1699.2" r="10.1" fill="#fff" stroke-width="2.2"/>
<circle cx="558.6" cy="1699.2" r="10.1" fill="#fff" stroke-width="2.2"/>
<circle cx="565.3" cy="1697.8" r="10.1" fill="#fff" stroke-width="2.2"/>
<circle cx="572.8" cy="1692.4" r="10.1" fill="#fff" stroke-width="2.2"/>
<circle cx="578.9" cy="1696.5" r="10.1" fill="#fff" stroke-width="2.2"/>
<circle cx="587" cy="1701.2" r="10.1" fill="#fff" stroke-width="2.2"/>
<circle cx="593.8" cy="1695.8" r="10.1" fill="#fff" stroke-width="2.2"/>
<circle cx="601.9" cy="1699.2" r="10.1" fill="#fff" stroke-width="2.2"/>
<circle cx="608.7" cy="1695.1" r="10.1" fill="#fff" stroke-width="2.2"/>
<circle cx="615.4" cy="1697.2" r="10.1" fill="#fff" stroke-width="2.2"/>
<circle cx="622.9" cy="1692.4" r="10.1" fill="#fff" stroke-width="2.2"/>
<circle cx="629.6" cy="1696.5" r="10.1" fill="#fff" stroke-width="2.2"/>
<circle cx="636.4" cy="1693.8" r="10.1" fill="#fff" stroke-width="2.2"/>
<circle cx="643.2" cy="1693.8" r="10.1" fill="#fff" stroke-width="2.2"/>
<circle cx="651.3" cy="1700.5" r="10.1" fill="#fff" stroke-width="2.2"/>
<circle cx="658.1" cy="1699.2" r="10.1" fill="#fff" stroke-width="2.2"/>
<circle cx="665.5" cy="1701.2" r="10.1" fill="#fff" stroke-width="2.2"/>
<circle cx="672.3" cy="1698.5" r="10.1" fill="#fff" stroke-width="2.2"/>
<circle cx="679.7" cy="1694.5" r="10.1" fill="#fff" stroke-width="2.2"/>
<circle cx="686.5" cy="1695.8" r="10.1" fill="#fff" stroke-width="2.2"/>
<circle cx="693.9" cy="1699.9" r="10.1" fill="#fff" stroke-width="2.2"/>
<circle cx="700.7" cy="1692.4" r="10.1" fill="#fff" stroke-width="2.2"/>
<circle cx="707.5" cy="1694.5" r="10.1" fill="#fff" stroke-width="2.2"/>
<circle cx="714.9" cy="1693.1" r="10.1" fill="#fff" stroke-width="2.2"/>
<circle cx="722.4" cy="1693.8" r="10.1" fill="#fff" stroke-width="2.2"/>
<circle cx="729.1" cy="1695.8" r="10.1" fill="#fff" stroke-width="2.2"/>
<circle cx="737.3" cy="1695.1" r="10.1" fill="#fff" stroke-width="2.2"/>
</g>
<g stroke="#000" stroke-linecap="square">
<line x1="1036.7" y1="1513.1" x2="1036.7" y2="1844.9" stroke-width="3.4"/>
<line x1="1028" y1="1844.9" x2="1036.7" y2="1844.9" stroke-width="3.4"/>
<line x1="1028" y1="1778.5" x2="1036.7" y2="1778.5" stroke-width="3.4"/>
<line x1="1028" y1="1712.2" x2="1036.7" y2="1712.2" stroke-width="3.4"/>
<line x1="1028" y1="1645.8" x2="1036.7" y2="1645.8" stroke-width="3.4"/>
<line x1="1028" y1="1579.5" x2="1036.7" y2="1579.5" stroke-width="3.4"/>
<line x1="1028" y1="1513.1" x2="1036.7" y2="1513.1" stroke-width="3.4"/>
<line x1="1057.5" y1="1857.7" x2="1653.3" y2="1857.7" stroke-width="3.4"/>
<line x1="1057.5" y1="1857.7" x2="1057.5" y2="1867" stroke-width="3.4"/>
<line x1="1156.8" y1="1857.7" x2="1156.8" y2="1867" stroke-width="3.4"/>
<line x1="1256.1" y1="1857.7" x2="1256.1" y2="1867" stroke-width="3.4"/>
<line x1="1355.4" y1="1857.7" x2="1355.4" y2="1867" stroke-width="3.4"/>
<line x1="1454.7" y1="1857.7" x2="1454.7" y2="1867" stroke-width="3.4"/>
<line x1="1554" y1="1857.7" x2="1554" y2="1867" stroke-width="3.4"/>
<line x1="1653.3" y1="1857.7" x2="1653.3" y2="1867" stroke-width="3.4"/>
</g>
<text x="982.4" y="1859.2" font-size="36">50</text>
<text x="982.4" y="1792.8" font-size="36">60</text>
<text x="982.4" y="1726.5" font-size="36">70</text>
<text x="982.4" y="1660.1" font-size="36">80</text>
<text x="982.4" y="1593.7" font-size="36">90</text>
<text x="966.9" y="1527.4" font-size="36">100</text>
<text x="1049.5" y="1902.6" font-size="36">0</text>
<text x="1148.5" y="1903" font-size="36">2</text>
<text x="1247.1" y="1903" font-size="36">4</text>
<text x="1345.8" y="1902.6" font-size="36">6</text>
<text x="1447.2" y="1902.6" font-size="36">8</text>
<text x="1538.7" y="1902.6" font-size="36">10</text>
<text x="1638.2" y="1903" font-size="36">12</text>
<text x="1274.3" y="1953.9" font-size="36">time (min)</text>
<text transform="translate(948.7 1861.4) rotate(-90)" font-size="36">normalised current (%)</text>
<rect x="1096.1" y="1494.7" width="208.5" height="6.4"/>
<rect x="1326" y="1494.7" width="110.8" height="6.4"/>
<text x="1146" y="1491" font-size="36">NaHS</text>
<text x="1338.5" y="1491.4" font-size="36">DTT</text>
<text x="1130.5" y="1533.2" font-size="36">(200 <tspan font-family="'Liberation Serif', serif">μ</tspan>M)</text>
<text x="1322" y="1533.2" font-size="36">(1 mM)</text>
<g stroke="#000">
<polyline points="1055.8,1512 1067.1,1514.3 1072.7,1517.1 1077.2,1514.8 1082.9,1517.1 1087.4,1517.6 1091.9,1515.4 1098.1,1515.4 1105.4,1514.3 1110.5,1523.3 1113.9,1539.6 1117.8,1556.6 1121.8,1561.1 1125.7,1567.8 1129.1,1584.8 1135.3,1573.5 1138.1,1581.4 1142.6,1588.1 1147.7,1600 1150,1620.9 1155.1,1615.2 1158.4,1620.9 1163,1627.6 1166.3,1645.7 1172,1637.2 1176.5,1653.6 1179.3,1676.1 1188.9,1666 1192.8,1678.4 1197.9,1684 1200.3,1698.5 1204.5,1709.1 1210.2,1700.6 1215.1,1711.9 1218.6,1710.5 1220.8,1721.1 1225.7,1726.7 1229.9,1738 1234.9,1745.8 1236.3,1760.6 1241.9,1752.8 1246.8,1754.2 1254.6,1762 1258.1,1756.3 1264.5,1757.7 1272.2,1750.7 1275.8,1760.6 1279.3,1777.5 1282.8,1765.5 1292.7,1757 1299.7,1767.6 1304.7,1762.7 1309.6,1764.8 1316.6,1771.1 1321.6,1765.5 1327.9,1761.3 1333.6,1761.3 1345.5,1764.1 1349.8,1746.5 1353.3,1751.4 1362.5,1751.4 1367.4,1745 1374.5,1735.9 1377.3,1744.3 1387.1,1738.7 1392.1,1731.7 1397,1726.7 1402.7,1722.5 1409.7,1714 1414.6,1716.8 1418.2,1696.4 1429.1,1694.3 1432.5,1676.2 1437.5,1677.9 1443.2,1675.7 1451.6,1665.5 1456.7,1648.6 1463.5,1653.1 1466.3,1599 1469.1,1588.8 1473.6,1580.9 1478.7,1585.4 1482.1,1565.1 1485.5,1567.4 1496.2,1579.2 1501.8,1564 1504.1,1567.4 1510.9,1567.4 1518.7,1547.6 1523.3,1563.4 1526.6,1549.3 1536.2,1556.1 1541.3,1546.5 1543.6,1556.1 1547.2,1555.8 1558,1555.8 1562.6,1548.6 1572.5,1537.8 1578.4,1552.2 1582.9,1543.2 1587.4,1534.2 1590.5,1543.2 1594.2,1545 1598.7,1547.7 1604.1,1548.6" fill="none" stroke-width="2.8"/>
<circle cx="1055.8" cy="1512" r="10.3" fill="#fff" stroke-width="2.3"/>
<circle cx="1067.1" cy="1514.3" r="10.3" fill="#fff" stroke-width="2.3"/>
<circle cx="1072.7" cy="1517.1" r="10.3" fill="#fff" stroke-width="2.3"/>
<circle cx="1077.2" cy="1514.8" r="10.3" fill="#fff" stroke-width="2.3"/>
<circle cx="1082.9" cy="1517.1" r="10.3" fill="#fff" stroke-width="2.3"/>
<circle cx="1087.4" cy="1517.6" r="10.3" fill="#fff" stroke-width="2.3"/>
<circle cx="1091.9" cy="1515.4" r="10.3" fill="#fff" stroke-width="2.3"/>
<circle cx="1098.1" cy="1515.4" r="10.3" fill="#fff" stroke-width="2.3"/>
<circle cx="1105.4" cy="1514.3" r="10.3" fill="#fff" stroke-width="2.3"/>
<circle cx="1110.5" cy="1523.3" r="10.3" fill="#fff" stroke-width="2.3"/>
<circle cx="1113.9" cy="1539.6" r="10.3" fill="#fff" stroke-width="2.3"/>
<circle cx="1117.8" cy="1556.6" r="10.3" fill="#fff" stroke-width="2.3"/>
<circle cx="1121.8" cy="1561.1" r="10.3" fill="#fff" stroke-width="2.3"/>
<circle cx="1125.7" cy="1567.8" r="10.3" fill="#fff" stroke-width="2.3"/>
<circle cx="1129.1" cy="1584.8" r="10.3" fill="#fff" stroke-width="2.3"/>
<circle cx="1135.3" cy="1573.5" r="10.3" fill="#fff" stroke-width="2.3"/>
<circle cx="1138.1" cy="1581.4" r="10.3" fill="#fff" stroke-width="2.3"/>
<circle cx="1142.6" cy="1588.1" r="10.3" fill="#fff" stroke-width="2.3"/>
<circle cx="1147.7" cy="1600" r="10.3" fill="#fff" stroke-width="2.3"/>
<circle cx="1150" cy="1620.9" r="10.3" fill="#fff" stroke-width="2.3"/>
<circle cx="1155.1" cy="1615.2" r="10.3" fill="#fff" stroke-width="2.3"/>
<circle cx="1158.4" cy="1620.9" r="10.3" fill="#fff" stroke-width="2.3"/>
<circle cx="1163" cy="1627.6" r="10.3" fill="#fff" stroke-width="2.3"/>
<circle cx="1166.3" cy="1645.7" r="10.3" fill="#fff" stroke-width="2.3"/>
<circle cx="1172" cy="1637.2" r="10.3" fill="#fff" stroke-width="2.3"/>
<circle cx="1176.5" cy="1653.6" r="10.3" fill="#fff" stroke-width="2.3"/>
<circle cx="1179.3" cy="1676.1" r="10.3" fill="#fff" stroke-width="2.3"/>
<circle cx="1188.9" cy="1666" r="10.3" fill="#fff" stroke-width="2.3"/>
<circle cx="1192.8" cy="1678.4" r="10.3" fill="#fff" stroke-width="2.3"/>
<circle cx="1197.9" cy="1684" r="10.3" fill="#fff" stroke-width="2.3"/>
<circle cx="1200.3" cy="1698.5" r="10.3" fill="#fff" stroke-width="2.3"/>
<circle cx="1204.5" cy="1709.1" r="10.3" fill="#fff" stroke-width="2.3"/>
<circle cx="1210.2" cy="1700.6" r="10.3" fill="#fff" stroke-width="2.3"/>
<circle cx="1215.1" cy="1711.9" r="10.3" fill="#fff" stroke-width="2.3"/>
<circle cx="1218.6" cy="1710.5" r="10.3" fill="#fff" stroke-width="2.3"/>
<circle cx="1220.8" cy="1721.1" r="10.3" fill="#fff" stroke-width="2.3"/>
<circle cx="1225.7" cy="1726.7" r="10.3" fill="#fff" stroke-width="2.3"/>
<circle cx="1229.9" cy="1738" r="10.3" fill="#fff" stroke-width="2.3"/>
<circle cx="1234.9" cy="1745.8" r="10.3" fill="#fff" stroke-width="2.3"/>
<circle cx="1236.3" cy="1760.6" r="10.3" fill="#fff" stroke-width="2.3"/>
<circle cx="1241.9" cy="1752.8" r="10.3" fill="#fff" stroke-width="2.3"/>
<circle cx="1246.8" cy="1754.2" r="10.3" fill="#fff" stroke-width="2.3"/>
<circle cx="1254.6" cy="1762" r="10.3" fill="#fff" stroke-width="2.3"/>
<circle cx="1258.1" cy="1756.3" r="10.3" fill="#fff" stroke-width="2.3"/>
<circle cx="1264.5" cy="1757.7" r="10.3" fill="#fff" stroke-width="2.3"/>
<circle cx="1272.2" cy="1750.7" r="10.3" fill="#fff" stroke-width="2.3"/>
<circle cx="1275.8" cy="1760.6" r="10.3" fill="#fff" stroke-width="2.3"/>
<circle cx="1279.3" cy="1777.5" r="10.3" fill="#fff" stroke-width="2.3"/>
<circle cx="1282.8" cy="1765.5" r="10.3" fill="#fff" stroke-width="2.3"/>
<circle cx="1292.7" cy="1757" r="10.3" fill="#fff" stroke-width="2.3"/>
<circle cx="1299.7" cy="1767.6" r="10.3" fill="#fff" stroke-width="2.3"/>
<circle cx="1304.7" cy="1762.7" r="10.3" fill="#fff" stroke-width="2.3"/>
<circle cx="1309.6" cy="1764.8" r="10.3" fill="#fff" stroke-width="2.3"/>
<circle cx="1316.6" cy="1771.1" r="10.3" fill="#fff" stroke-width="2.3"/>
<circle cx="1321.6" cy="1765.5" r="10.3" fill="#fff" stroke-width="2.3"/>
<circle cx="1327.9" cy="1761.3" r="10.3" fill="#fff" stroke-width="2.3"/>
<circle cx="1333.6" cy="1761.3" r="10.3" fill="#fff" stroke-width="2.3"/>
<circle cx="1345.5" cy="1764.1" r="10.3" fill="#fff" stroke-width="2.3"/>
<circle cx="1349.8" cy="1746.5" r="10.3" fill="#fff" stroke-width="2.3"/>
<circle cx="1353.3" cy="1751.4" r="10.3" fill="#fff" stroke-width="2.3"/>
<circle cx="1362.5" cy="1751.4" r="10.3" fill="#fff" stroke-width="2.3"/>
<circle cx="1367.4" cy="1745" r="10.3" fill="#fff" stroke-width="2.3"/>
<circle cx="1374.5" cy="1735.9" r="10.3" fill="#fff" stroke-width="2.3"/>
<circle cx="1377.3" cy="1744.3" r="10.3" fill="#fff" stroke-width="2.3"/>
<circle cx="1387.1" cy="1738.7" r="10.3" fill="#fff" stroke-width="2.3"/>
<circle cx="1392.1" cy="1731.7" r="10.3" fill="#fff" stroke-width="2.3"/>
<circle cx="1397" cy="1726.7" r="10.3" fill="#fff" stroke-width="2.3"/>
<circle cx="1402.7" cy="1722.5" r="10.3" fill="#fff" stroke-width="2.3"/>
<circle cx="1409.7" cy="1714" r="10.3" fill="#fff" stroke-width="2.3"/>
<circle cx="1414.6" cy="1716.8" r="10.3" fill="#fff" stroke-width="2.3"/>
<circle cx="1418.2" cy="1696.4" r="10.3" fill="#fff" stroke-width="2.3"/>
<circle cx="1429.1" cy="1694.3" r="10.3" fill="#fff" stroke-width="2.3"/>
<circle cx="1432.5" cy="1676.2" r="10.3" fill="#fff" stroke-width="2.3"/>
<circle cx="1437.5" cy="1677.9" r="10.3" fill="#fff" stroke-width="2.3"/>
<circle cx="1443.2" cy="1675.7" r="10.3" fill="#fff" stroke-width="2.3"/>
<circle cx="1451.6" cy="1665.5" r="10.3" fill="#fff" stroke-width="2.3"/>
<circle cx="1456.7" cy="1648.6" r="10.3" fill="#fff" stroke-width="2.3"/>
<circle cx="1463.5" cy="1653.1" r="10.3" fill="#fff" stroke-width="2.3"/>
<circle cx="1466.3" cy="1599" r="10.3" fill="#fff" stroke-width="2.3"/>
<circle cx="1469.1" cy="1588.8" r="10.3" fill="#fff" stroke-width="2.3"/>
<circle cx="1473.6" cy="1580.9" r="10.3" fill="#fff" stroke-width="2.3"/>
<circle cx="1478.7" cy="1585.4" r="10.3" fill="#fff" stroke-width="2.3"/>
<circle cx="1482.1" cy="1565.1" r="10.3" fill="#fff" stroke-width="2.3"/>
<circle cx="1485.5" cy="1567.4" r="10.3" fill="#fff" stroke-width="2.3"/>
<circle cx="1496.2" cy="1579.2" r="10.3" fill="#fff" stroke-width="2.3"/>
<circle cx="1501.8" cy="1564" r="10.3" fill="#fff" stroke-width="2.3"/>
<circle cx="1504.1" cy="1567.4" r="10.3" fill="#fff" stroke-width="2.3"/>
<circle cx="1510.9" cy="1567.4" r="10.3" fill="#fff" stroke-width="2.3"/>
<circle cx="1518.7" cy="1547.6" r="10.3" fill="#fff" stroke-width="2.3"/>
<circle cx="1523.3" cy="1563.4" r="10.3" fill="#fff" stroke-width="2.3"/>
<circle cx="1526.6" cy="1549.3" r="10.3" fill="#fff" stroke-width="2.3"/>
<circle cx="1536.2" cy="1556.1" r="10.3" fill="#fff" stroke-width="2.3"/>
<circle cx="1541.3" cy="1546.5" r="10.3" fill="#fff" stroke-width="2.3"/>
<circle cx="1543.6" cy="1556.1" r="10.3" fill="#fff" stroke-width="2.3"/>
<circle cx="1547.2" cy="1555.8" r="10.3" fill="#fff" stroke-width="2.3"/>
<circle cx="1558" cy="1555.8" r="10.3" fill="#fff" stroke-width="2.3"/>
<circle cx="1562.6" cy="1548.6" r="10.3" fill="#fff" stroke-width="2.3"/>
<circle cx="1572.5" cy="1537.8" r="10.3" fill="#fff" stroke-width="2.3"/>
<circle cx="1578.4" cy="1552.2" r="10.3" fill="#fff" stroke-width="2.3"/>
<circle cx="1582.9" cy="1543.2" r="10.3" fill="#fff" stroke-width="2.3"/>
<circle cx="1587.4" cy="1534.2" r="10.3" fill="#fff" stroke-width="2.3"/>
<circle cx="1590.5" cy="1543.2" r="10.3" fill="#fff" stroke-width="2.3"/>
<circle cx="1594.2" cy="1545" r="10.3" fill="#fff" stroke-width="2.3"/>
<circle cx="1598.7" cy="1547.7" r="10.3" fill="#fff" stroke-width="2.3"/>
<circle cx="1604.1" cy="1548.6" r="10.3" fill="#fff" stroke-width="2.3"/>
</g>
<g stroke="#000" fill="none" stroke-linejoin="round">
<line x1="1525.6" y1="1725.4" x2="1525.6" y2="1807.7" stroke-width="3"/>
<line x1="1532.3" y1="1817.5" x2="1543.8" y2="1817.5" stroke-width="3"/>
<polyline points="1542.6,1802.5 1543.1,1802.6 1543.6,1802.4 1544.1,1802.3 1544.6,1802.4 1545.1,1802.3 1545.6,1802.5 1546.1,1802.8 1546.6,1802.4 1547.1,1802.3 1547.6,1802.6 1548.1,1802.6 1548.6,1802.5 1549.1,1802.3 1549.6,1802.5 1550.1,1801.8 1550.6,1795.4 1551.1,1785.8 1551.6,1773 1552.1,1759.7 1552.6,1745.6 1553.1,1732.5 1553.6,1719.2 1554.1,1707.8 1554.6,1696.7 1555.1,1686.7 1555.6,1677 1556.1,1669.9 1556.6,1663.1 1557.1,1657.1 1557.6,1651.2 1558.1,1646.9 1558.6,1642.7 1559.1,1639.3 1559.6,1636.9 1560.1,1633.7 1560.6,1631.7 1561.1,1630.1 1561.6,1627.9 1562.1,1626.6 1562.6,1625.5 1563.1,1624.4 1563.6,1623.1 1564.1,1622.7 1564.6,1622.5 1565.1,1620.9 1565.6,1621.3 1566.1,1620.6 1566.6,1620 1567.1,1620.6 1567.6,1619.9 1568.1,1619 1568.6,1619.3 1569.1,1619.3 1569.6,1618.9 1570.1,1619.1 1570.6,1618.7 1571.1,1618.9 1571.6,1619 1572.1,1618.3 1572.6,1618.6 1573.1,1618.4 1573.6,1618.6 1574.1,1618.2 1574.6,1618.4 1575.1,1618.6 1575.6,1619 1576.1,1619.1 1576.6,1618.3 1577.1,1618.6 1577.6,1619.1 1578.1,1618.3 1578.6,1618.9 1579.1,1619 1579.6,1619.6 1580.1,1619.4 1580.6,1619.1 1581.1,1619.2 1581.6,1619.3 1582.1,1620 1582.6,1619.4 1583.1,1619.5 1583.6,1619.8 1584.1,1619.7 1584.6,1619.7 1585.1,1619.4 1585.6,1619.9 1586.1,1619.8 1586.6,1620.4 1587.1,1620.3 1587.6,1620.1 1588.1,1620.4 1588.6,1620.2 1589.1,1620.7 1589.6,1620.4 1590.1,1620.7 1590.6,1620.1 1591.1,1620.7 1591.6,1620.1 1592.1,1620 1592.6,1620.7 1593.1,1620.5 1593.6,1621 1594.1,1621.8 1594.6,1620.8 1595.1,1620.9 1595.6,1621.3 1596.1,1621.4 1596.6,1621.3 1597.1,1621.3 1597.6,1621.7 1598.1,1621.7 1598.6,1621.2 1599.1,1621.6 1599.6,1621.7 1600.1,1621.4 1600.6,1621.9 1601.1,1621.6 1601.6,1622.3 1602.1,1622.1 1602.6,1622.1 1603.1,1622 1603.6,1622.2 1604.1,1621.6 1604.6,1622 1605.1,1622.6 1605.6,1621.8 1606.1,1622.9 1606.6,1622 1607.1,1623 1607.6,1622.5 1608.1,1623.1 1608.6,1622.9 1609.1,1622.4 1609.6,1623.5 1610.1,1623.6 1610.6,1623.1 1611.1,1623.1 1611.6,1623.2 1612.1,1623 1612.6,1623.8 1613.1,1623.3 1613.6,1623.5 1614.1,1623.3 1614.6,1623.5 1615.1,1623.3 1615.6,1624.3 1616.1,1623.8 1616.6,1624.3 1617.1,1624 1617.6,1623.8 1618.1,1624 1618.6,1624 1619.1,1624.3 1619.6,1624.2 1620.1,1624.3 1620.6,1624 1621.1,1624.2 1621.6,1625.2 1622.1,1624.4 1622.6,1624.4 1623.1,1624.9 1623.6,1625.4 1624.1,1624.4 1624.6,1624.9 1625.1,1624.8 1625.6,1624.5 1626.1,1625.4 1626.6,1625.2 1627.1,1625.3 1627.6,1625.1 1628.1,1625.6 1628.6,1625.3 1629.1,1625.5 1629.6,1625.3 1630.1,1625.3 1630.6,1626.2 1631.1,1625.7 1631.6,1626 1632.1,1626 1632.6,1625.9 1633.1,1625.9 1633.6,1626.4 1634.1,1626.1 1634.6,1626.2 1635.1,1626.4 1635.6,1626.8 1636.1,1626.7 1636.6,1626.7 1637.1,1626.4 1637.6,1626.2 1638.1,1627.1 1638.6,1627.2 1639.1,1626.8 1639.6,1627.1 1640.1,1627.3 1640.6,1627.4 1641.1,1627.5 1641.6,1627.1 1642.1,1627.8 1642.6,1626.9 1643.1,1627.7 1643.6,1627.7 1644.1,1627.9 1644.6,1628.3 1645.1,1628.2 1645.6,1627.3 1646.1,1627.2 1646.6,1628.2 1647.1,1627.6 1647.6,1628 1648.1,1628.4 1648.6,1627.6 1649.1,1627.5 1649.6,1628.4 1650.1,1628.3 1650.6,1628.3 1651.1,1628.5 1651.6,1628.2 1652.1,1628.1 1652.6,1628.6 1653.1,1628.4 1653.6,1628.2 1654.1,1629 1654.6,1628.9 1655.1,1629.1 1655.6,1628.7 1656.1,1628.9 1656.6,1628.8 1657.1,1628.9 1657.6,1629.4 1658.1,1629.1 1658.6,1629.6 1659.1,1629.6 1659.6,1630.3 1660.1,1629.2 1660.6,1630 1661.1,1629.7 1661.6,1629.8 1662.1,1629.4 1662.6,1629.8 1663.1,1630.3 1663.6,1644.1 1664.1,1699 1664.6,1734.8 1665.1,1758.7 1665.6,1773.7 1666.1,1783 1666.6,1790.1 1667.1,1794 1667.6,1796.3 1668.1,1799.1 1668.6,1801 1669.1,1801.3 1669.6,1801.3 1670.1,1801.7 1670.6,1802.7 1671.1,1802.4 1671.6,1802.5 1672.1,1802.5 1672.6,1802.5 1673.1,1802.8 1673.6,1802.7 1674.1,1802.6 1674.6,1802.2 1675.1,1802.7 1675.6,1802.3 1676.1,1802.9 1676.6,1802.1 1677.1,1802.5 1677.6,1802.5 1678.1,1802.1 1678.6,1803.1 1679.1,1803 1679.6,1802.3 1680.1,1802.8 1680.6,1802.6 1681.1,1801.6 1681.6,1802.6 1682.1,1802.5 1682.6,1802.5 1683.1,1802.1 1683.6,1802.4 1684.1,1802.4 1684.6,1802.9 1685.1,1802.6 1685.6,1802.5 1686.1,1803" fill="none" stroke-width="1.5"/>
<polyline points="1542.6,1802.4 1543.1,1802.4 1543.6,1802 1544.1,1802.9 1544.6,1802.7 1545.1,1802.7 1545.6,1802.7 1546.1,1802.5 1546.6,1802.6 1547.1,1802.4 1547.6,1802.4 1548.1,1802.5 1548.6,1802.9 1549.1,1802.6 1549.6,1802.5 1550.1,1801.5 1550.6,1796.3 1551.1,1788.3 1551.6,1776.9 1552.1,1764.6 1552.6,1752 1553.1,1739.6 1553.6,1728.4 1554.1,1718 1554.6,1707.7 1555.1,1698.9 1555.6,1690.9 1556.1,1684 1556.6,1677.2 1557.1,1672.2 1557.6,1667.3 1558.1,1663.7 1558.6,1659.5 1559.1,1656.9 1559.6,1654.5 1560.1,1651.6 1560.6,1649.5 1561.1,1648 1561.6,1646.5 1562.1,1644.8 1562.6,1644.2 1563.1,1643.8 1563.6,1642.2 1564.1,1641.6 1564.6,1640.7 1565.1,1640.6 1565.6,1639.7 1566.1,1639.3 1566.6,1639.8 1567.1,1638.8 1567.6,1639.3 1568.1,1639.2 1568.6,1638.6 1569.1,1638.6 1569.6,1638.9 1570.1,1638.1 1570.6,1637.8 1571.1,1637.5 1571.6,1637.9 1572.1,1638.4 1572.6,1638.2 1573.1,1637.5 1573.6,1637.6 1574.1,1637.8 1574.6,1638.1 1575.1,1637.9 1575.6,1638.1 1576.1,1638.2 1576.6,1638 1577.1,1638.2 1577.6,1638.3 1578.1,1638.2 1578.6,1638.5 1579.1,1639 1579.6,1638.6 1580.1,1638.5 1580.6,1637.9 1581.1,1638.7 1581.6,1638 1582.1,1638.2 1582.6,1639.1 1583.1,1639.1 1583.6,1638.8 1584.1,1638.3 1584.6,1638.9 1585.1,1638.8 1585.6,1639.3 1586.1,1639.9 1586.6,1639.3 1587.1,1639 1587.6,1638.9 1588.1,1639.4 1588.6,1639.4 1589.1,1639.1 1589.6,1639.6 1590.1,1639.2 1590.6,1640.1 1591.1,1640.1 1591.6,1640.2 1592.1,1639.7 1592.6,1640.1 1593.1,1639.9 1593.6,1639.9 1594.1,1640 1594.6,1639.7 1595.1,1639.7 1595.6,1640.5 1596.1,1640.3 1596.6,1640.5 1597.1,1640.8 1597.6,1639.9 1598.1,1640.3 1598.6,1640.7 1599.1,1640.8 1599.6,1640.6 1600.1,1641.2 1600.6,1640.9 1601.1,1640.5 1601.6,1640.6 1602.1,1641.3 1602.6,1641.2 1603.1,1640.5 1603.6,1641.7 1604.1,1641.5 1604.6,1641.8 1605.1,1641.2 1605.6,1641.3 1606.1,1641.1 1606.6,1642.4 1607.1,1641.6 1607.6,1642.2 1608.1,1641.5 1608.6,1641.8 1609.1,1641.3 1609.6,1641.8 1610.1,1642.3 1610.6,1641.6 1611.1,1642.5 1611.6,1642.3 1612.1,1641.8 1612.6,1642.1 1613.1,1642.2 1613.6,1642.4 1614.1,1642.2 1614.6,1642.2 1615.1,1642.4 1615.6,1642.3 1616.1,1642.2 1616.6,1642.7 1617.1,1643.1 1617.6,1642.3 1618.1,1642.9 1618.6,1642.7 1619.1,1642.7 1619.6,1643.4 1620.1,1643 1620.6,1643.7 1621.1,1643 1621.6,1643.4 1622.1,1643.3 1622.6,1643.2 1623.1,1643.7 1623.6,1643.5 1624.1,1643.8 1624.6,1643.6 1625.1,1643.3 1625.6,1643.7 1626.1,1643.9 1626.6,1644.2 1627.1,1643.6 1627.6,1644 1628.1,1643.5 1628.6,1644.4 1629.1,1643.8 1629.6,1643.6 1630.1,1644.3 1630.6,1644.8 1631.1,1643.9 1631.6,1644.1 1632.1,1644.3 1632.6,1644.2 1633.1,1644.8 1633.6,1644.4 1634.1,1644.5 1634.6,1645 1635.1,1644.6 1635.6,1645.1 1636.1,1644.7 1636.6,1644.6 1637.1,1644.5 1637.6,1645.8 1638.1,1645.1 1638.6,1645.4 1639.1,1645.4 1639.6,1645.5 1640.1,1645.5 1640.6,1646.2 1641.1,1645.2 1641.6,1645.1 1642.1,1645.4 1642.6,1645.3 1643.1,1646.1 1643.6,1646.2 1644.1,1645.6 1644.6,1645.5 1645.1,1645.9 1645.6,1646.6 1646.1,1645.2 1646.6,1646.4 1647.1,1645.9 1647.6,1646.7 1648.1,1646 1648.6,1646.4 1649.1,1646 1649.6,1646.3 1650.1,1647.1 1650.6,1647 1651.1,1646.6 1651.6,1646.5 1652.1,1646.2 1652.6,1646.8 1653.1,1647 1653.6,1647 1654.1,1647.1 1654.6,1646.8 1655.1,1647.2 1655.6,1647.3 1656.1,1647.8 1656.6,1648.1 1657.1,1647.4 1657.6,1647.3 1658.1,1647.6 1658.6,1647.4 1659.1,1647.4 1659.6,1647.7 1660.1,1647.5 1660.6,1648.1 1661.1,1647.9 1661.6,1648.1 1662.1,1648 1662.6,1647.9 1663.1,1647.8 1663.6,1660.8 1664.1,1709.8 1664.6,1742.2 1665.1,1763.1 1665.6,1776.4 1666.1,1785.9 1666.6,1791.2 1667.1,1795.3 1667.6,1798 1668.1,1799 1668.6,1800.8 1669.1,1801.5 1669.6,1801.8 1670.1,1802 1670.6,1802.2 1671.1,1802.1 1671.6,1802.4 1672.1,1802.3 1672.6,1802.6 1673.1,1802.1 1673.6,1802.6 1674.1,1802.6 1674.6,1802.5 1675.1,1802.4 1675.6,1802.7 1676.1,1802 1676.6,1802.7 1677.1,1802.6 1677.6,1802.6 1678.1,1802.7 1678.6,1802.3 1679.1,1802.4 1679.6,1802.7 1680.1,1802.7 1680.6,1802.6 1681.1,1802 1681.6,1802.7 1682.1,1802.9 1682.6,1802.9 1683.1,1802.6 1683.6,1802 1684.1,1802.8 1684.6,1802.5 1685.1,1801.6 1685.6,1802.6 1686.1,1802" fill="none" stroke-width="1.5"/>
<polyline points="1542.6,1802.2 1543.1,1802.3 1543.6,1802.8 1544.1,1802.4 1544.6,1802.6 1545.1,1802.9 1545.6,1802.9 1546.1,1802.5 1546.6,1802.4 1547.1,1802.2 1547.6,1802.3 1548.1,1802.6 1548.6,1802.6 1549.1,1802.5 1549.6,1802.7 1550.1,1801.7 1550.6,1798.6 1551.1,1793.1 1551.6,1785.9 1552.1,1778.1 1552.6,1769.8 1553.1,1761.6 1553.6,1754.3 1554.1,1746.8 1554.6,1740.2 1555.1,1735.2 1555.6,1729.8 1556.1,1725.3 1556.6,1720.6 1557.1,1717.5 1557.6,1714.3 1558.1,1711.5 1558.6,1708.7 1559.1,1707.3 1559.6,1706 1560.1,1704.3 1560.6,1702.6 1561.1,1701.7 1561.6,1701 1562.1,1698.9 1562.6,1699.1 1563.1,1698.8 1563.6,1698.3 1564.1,1698.2 1564.6,1697.6 1565.1,1697 1565.6,1696.7 1566.1,1696.6 1566.6,1695.9 1567.1,1695.9 1567.6,1696.1 1568.1,1696.4 1568.6,1695.5 1569.1,1695.5 1569.6,1695.5 1570.1,1695.8 1570.6,1695.2 1571.1,1695.7 1571.6,1694.8 1572.1,1695.1 1572.6,1695.1 1573.1,1695.4 1573.6,1695.5 1574.1,1694.6 1574.6,1694.8 1575.1,1695.3 1575.6,1695 1576.1,1694.7 1576.6,1695.6 1577.1,1695.4 1577.6,1695.4 1578.1,1695.1 1578.6,1695.7 1579.1,1695.3 1579.6,1695.8 1580.1,1695.1 1580.6,1695.1 1581.1,1695.5 1581.6,1695.2 1582.1,1695.7 1582.6,1695.6 1583.1,1695.2 1583.6,1695.6 1584.1,1695.5 1584.6,1696 1585.1,1695.5 1585.6,1695.5 1586.1,1696.2 1586.6,1696.5 1587.1,1696.5 1587.6,1695.8 1588.1,1695.9 1588.6,1696.4 1589.1,1695.9 1589.6,1695.6 1590.1,1696 1590.6,1696.2 1591.1,1695.7 1591.6,1695.5 1592.1,1695.6 1592.6,1696.3 1593.1,1695.9 1593.6,1696.1 1594.1,1696.3 1594.6,1696.4 1595.1,1696.1 1595.6,1696.5 1596.1,1696 1596.6,1696.2 1597.1,1696 1597.6,1696.8 1598.1,1696.4 1598.6,1696.2 1599.1,1696.4 1599.6,1696.4 1600.1,1696.8 1600.6,1696 1601.1,1696.2 1601.6,1696.5 1602.1,1697.6 1602.6,1697 1603.1,1696.7 1603.6,1697 1604.1,1697.5 1604.6,1696.7 1605.1,1696.7 1605.6,1697.3 1606.1,1697.1 1606.6,1697.2 1607.1,1696.8 1607.6,1697.7 1608.1,1697.6 1608.6,1697.3 1609.1,1697.3 1609.6,1696.4 1610.1,1697.4 1610.6,1697.1 1611.1,1697.4 1611.6,1697.5 1612.1,1697.1 1612.6,1696.7 1613.1,1697.4 1613.6,1697.1 1614.1,1697.3 1614.6,1697.2 1615.1,1697.3 1615.6,1696.7 1616.1,1697.9 1616.6,1697.6 1617.1,1697.9 1617.6,1698.3 1618.1,1697.6 1618.6,1697 1619.1,1697.4 1619.6,1697.3 1620.1,1697.6 1620.6,1697.8 1621.1,1697.1 1621.6,1697.9 1622.1,1697.3 1622.6,1698 1623.1,1697.9 1623.6,1697.8 1624.1,1697.9 1624.6,1697.8 1625.1,1697.8 1625.6,1697.5 1626.1,1698.1 1626.6,1698.8 1627.1,1698.8 1627.6,1698.6 1628.1,1698.4 1628.6,1698 1629.1,1698.8 1629.6,1698.3 1630.1,1698.3 1630.6,1698.2 1631.1,1698.4 1631.6,1698.3 1632.1,1698.4 1632.6,1698.1 1633.1,1698.4 1633.6,1699.3 1634.1,1698.5 1634.6,1698.5 1635.1,1698.8 1635.6,1698.9 1636.1,1698.3 1636.6,1698.6 1637.1,1699 1637.6,1698.9 1638.1,1698.8 1638.6,1699.4 1639.1,1698.6 1639.6,1698.9 1640.1,1698.7 1640.6,1699.5 1641.1,1698.3 1641.6,1698.8 1642.1,1698.8 1642.6,1699.3 1643.1,1699.3 1643.6,1699.6 1644.1,1698.6 1644.6,1699.4 1645.1,1699.1 1645.6,1699 1646.1,1699.4 1646.6,1699 1647.1,1698.6 1647.6,1699.2 1648.1,1698.9 1648.6,1699.2 1649.1,1699.6 1649.6,1699.6 1650.1,1700 1650.6,1699.5 1651.1,1699 1651.6,1699.3 1652.1,1699.3 1652.6,1699.2 1653.1,1699.8 1653.6,1699.5 1654.1,1699 1654.6,1700 1655.1,1699.7 1655.6,1699.9 1656.1,1699.9 1656.6,1700.1 1657.1,1699.9 1657.6,1700.4 1658.1,1700.1 1658.6,1700.1 1659.1,1700.2 1659.6,1699.5 1660.1,1700 1660.6,1700 1661.1,1700.2 1661.6,1699.7 1662.1,1700.8 1662.6,1700.3 1663.1,1699.8 1663.6,1708.1 1664.1,1741.5 1664.6,1762.9 1665.1,1776.6 1665.6,1785.9 1666.1,1791.6 1666.6,1795.8 1667.1,1797.9 1667.6,1799.8 1668.1,1801.2 1668.6,1802.4 1669.1,1801.6 1669.6,1802 1670.1,1802.1 1670.6,1802.7 1671.1,1802.1 1671.6,1802.4 1672.1,1802.6 1672.6,1802.2 1673.1,1802.2 1673.6,1802.4 1674.1,1801.8 1674.6,1802 1675.1,1802.4 1675.6,1802.6 1676.1,1802.5 1676.6,1801.9 1677.1,1802.4 1677.6,1802.8 1678.1,1802.7 1678.6,1802.5 1679.1,1802.2 1679.6,1802.7 1680.1,1802.3 1680.6,1802.1 1681.1,1802.2 1681.6,1803 1682.1,1802.6 1682.6,1802.9 1683.1,1802.3 1683.6,1802.8 1684.1,1802.3 1684.6,1802.4 1685.1,1803.4 1685.6,1802.8 1686.1,1802.3" fill="none" stroke-width="1.5"/>
</g>
<text x="1642.8" y="1611.8" font-size="35.5">control</text>
<text x="1673.1" y="1657.9" font-size="36">DTT</text>
<text x="1674.6" y="1707.2" font-size="36">NaHS</text>
<g stroke="#000" fill="none" stroke-linejoin="round">
<polyline points="87,524 87.5,523.7 88,524.1 88.5,524.2 89,523.5 89.5,523.7 90,524 90.5,523.9 91,524 91.5,523.8 92,524.2 92.5,523.6 93,483.3 93.5,371.7 94,296.7 94.5,254 95,224.2 95.5,201.8 96,185.3 96.5,172.7 97,163.2 97.5,155.9 98,150.8 98.5,146.1 99,142.5 99.5,139.8 100,137.8 100.5,135.9 101,134.2 101.5,132.9 102,132.2 102.5,130.3 103,129.3 103.5,128.4 104,130.2 104.5,129.7 105,126.3 105.5,125.5 106,125 106.5,126.1 107,125.6 107.5,124.9 108,122.8 108.5,121.4 109,122.2 109.5,121.7 110,121.5 110.5,121 111,119.2 111.5,118.6 112,118.4 112.5,119.8 113,120.2 113.5,120.3 114,120 114.5,118.3 115,118.2 115.5,118.5 116,117.6 116.5,115.8 117,116.9 117.5,118.8 118,117.1 118.5,117.1 119,117 119.5,116.9 120,116.4 120.5,116.2 121,116.4 121.5,116 122,115.6 122.5,115.5 123,115.5 123.5,115.8 124,115.6 124.5,113.7 125,113.3 125.5,115.3 126,115.3 126.5,112.8 127,115.1 127.5,113.5 128,113.5 128.5,113.4 129,114.2 129.5,116.1 130,115.7 130.5,115.7 131,114.5 131.5,114.4 132,114.4 132.5,114.2 133,115.9 133.5,114.1 134,113.7 134.5,113.7 135,113.7 135.5,113.8 136,114.1 136.5,113.7 137,113.8 137.5,114.4 138,113.8 138.5,114.1 139,113.6 139.5,113.8 140,113.6 140.5,113.8 141,114.1 141.5,113.3 142,112.4 142.5,112.3 143,112.1 143.5,113.3 144,111.7 144.5,111.5 145,111.7 145.5,113.6 146,114 146.5,113.5 147,113.1 147.5,113.4 148,113.5 148.5,111.9 149,111.6 149.5,111.5 150,113.7 150.5,113 151,113.1 151.5,113 152,110.9 152.5,110.6 153,111.2 153.5,113.2 154,112.8 154.5,115 155,115.4 155.5,113.4 156,113.8 156.5,114 157,113.3 157.5,114.3 158,114 158.5,113.2 159,112.9 159.5,113.1 160,114.4 160.5,113.1 161,113.5 161.5,113.2 162,113.1 162.5,112.9 163,112.7 163.5,112.9 164,113 164.5,113.6 165,113.1 165.5,113.4 166,113 166.5,112.8 167,114.5 167.5,112.8 168,113.7 168.5,114.3 169,114.8 169.5,114.3 170,113.2 170.5,113 171,114.1 171.5,114.2 172,112.6 172.5,112.9 173,112.7 173.5,112.5 174,112.5 174.5,112.9 175,113.4 175.5,113 176,112.9 176.5,113 177,113.3 177.5,113.1 178,112.9 178.5,113.3 179,115.2 179.5,115.5 180,115.1 180.5,112.6 181,112.5 181.5,111.5 182,113.5 182.5,114.5 183,112.9 183.5,113.4 184,112.6 184.5,112.7 185,113.1 185.5,112.8 186,112.9 186.5,112.9 187,113 187.5,113.3 188,113 188.5,113.1 189,112.3 189.5,112.9 190,110.8 190.5,112.6 191,112.8 191.5,112.9 192,113.2 192.5,114.7 193,115.1 193.5,112.8 194,112.9 194.5,113.2 195,113.1 195.5,113.3 196,112.8 196.5,112.7 197,110.6 197.5,113 198,113 198.5,112.6 199,111.5 199.5,113 200,113.7 200.5,113.6 201,112.8 201.5,113 202,112.6 202.5,112.9 203,111.6 203.5,111.8 204,112.8 204.5,112.8 205,114.2 205.5,114.8 206,114.5 206.5,112.8 207,112.7 207.5,112.9 208,112.4 208.5,112.5 209,113.6 209.5,112.7 210,112.7 210.5,113.6 211,113.9 211.5,112.7 212,112.9 212.5,113.1 213,113.6 213.5,112.8 214,114.3 214.5,113.3 215,113.2 215.5,113 216,113.1 216.5,112.8 217,113.1 217.5,113.1 218,113.3 218.5,113.1 219,113.4 219.5,113.6 220,113.3 220.5,113.4 221,113.3 221.5,113.3 222,113.2 222.5,113.5 223,113.4 223.5,114.1 224,113.9 224.5,113.6 225,113.3 225.5,113.2 226,111.6 226.5,111.4 227,113.7 227.5,113 228,113.9 228.5,113.7 229,113.3 229.5,113.5 230,113.7 230.5,111.4 231,111.3 231.5,113.5 232,113.5 232.5,113.6 233,114.1 233.5,112.9 234,113.6 234.5,113.8 235,113.8 235.5,113.6 236,113.3 236.5,113.9 237,114.3 237.5,113.4 238,114.1 238.5,111.7 239,111.7 239.5,111.4 240,113.7 240.5,114.2 241,114 241.5,114.3 242,114.2 242.5,114 243,114.4 243.5,114 244,115.6 244.5,115.3 245,113.9 245.5,112.4 246,112.9 246.5,113.5 247,114.1 247.5,113.9 248,114.2 248.5,114.1 249,114.5 249.5,114.1 250,113.4 250.5,113.9 251,113.5 251.5,113.7 252,114.3 252.5,114 253,113.6 253.5,113.6 254,113.9 254.5,111.3 255,111.5 255.5,111.8 256,114.2 256.5,114.1 257,113.2 257.5,113.9 258,113.9 258.5,114 259,114.4 259.5,113.3 260,113.7 260.5,114.1 261,113.4 261.5,114.4 262,114 262.5,114.2 263,113.8 263.5,114.2 264,114.3 264.5,114.1 265,114.1 265.5,112.2 266,111.8 266.5,112.1 267,114 267.5,114.1 268,114.4 268.5,112.4 269,112.7 269.5,113.2 270,113.8 270.5,113.8 271,114.1 271.5,114.3 272,114.1 272.5,113.2 273,113 273.5,113 274,114.2 274.5,114.8 275,114 275.5,113.5 276,114.6 276.5,114 277,114.2 277.5,114.5 278,113.7 278.5,113.8 279,113.7 279.5,113.9 280,114.3 280.5,114.4 281,114.3 281.5,111.7 282,111.4 282.5,114.3 283,114.1 283.5,114.4 284,114.5 284.5,114.3 285,114.5 285.5,114.4 286,114.5 286.5,114.1 287,114.3 287.5,114.5 288,114.7 288.5,114.4 289,114.7 289.5,114.4 290,114.5 290.5,114.8 291,113.9 291.5,114.1 292,114.1 292.5,113.8 293,114.3 293.5,114.7 294,114.4 294.5,114.6 295,114.9 295.5,115 296,114.6 296.5,115 297,114.7 297.5,112.4 298,114.5 298.5,114.3 299,115.7 299.5,115.9 300,116.3 300.5,115.3 301,114.4 301.5,114.9 302,114.4 302.5,114.9 303,114.7 303.5,114.3 304,115.1 304.5,114.7 305,112.7 305.5,112.5 306,112.6 306.5,115 307,114.8 307.5,115 308,115 308.5,116.6 309,116.2 309.5,115.8 310,115.2 310.5,114.8 311,115.3 311.5,115 312,114.9 312.5,115.1 313,115.5 313.5,115.6 314,115 314.5,117.3 315,117.6 315.5,117 316,115.1 316.5,115 317,115.1 317.5,114.8 318,116.1 318.5,115.9 319,114.6 319.5,114.9 320,114.9 320.5,115.6 321,115.4 321.5,114.8 322,115.2 322.5,115 323,115.1 323.5,115.3 324,116.7 324.5,116.4 325,115.5 325.5,114.9 326,115.3 326.5,114.9 327,114.2 327.5,115.7 328,115.3 328.5,115.5 329,117.4 329.5,117.4 330,115.1 330.5,115.4 331,117.1 331.5,115.6 332,115.7 332.5,115.5 333,113.2 333.5,113.4 334,115.2 334.5,115.6 335,114.8 335.5,115.2 336,114.8 336.5,114.9 337,115.8 337.5,115.7 338,115.2 338.5,115 339,113.3 339.5,114 340,114.9 340.5,115.7 341,115.3 341.5,115.7 342,115.1 342.5,115.5 343,117.3 343.5,117.3 344,117.6 344.5,115.8 345,115.9 345.5,115.5 346,116 346.5,116.3 347,115.5 347.5,115.5 348,116.1 348.5,115.7 349,116.2 349.5,115.7 350,116.2 350.5,115.9 351,115.9 351.5,114.5 352,113.9 352.5,115.5 353,115.7 353.5,115.9 354,115.3 354.5,116 355,115.6 355.5,116.2 356,115.1 356.5,115.6 357,115.3 357.5,115.5 358,115.8 358.5,115.7 359,114.3 359.5,114.3 360,115.8 360.5,115.4 361,116 361.5,116 362,115.9 362.5,116 363,116 363.5,116.5 364,114.1 364.5,114 365,115.7 365.5,115.6 366,115.6 366.5,115.7 367,114.3 367.5,114.4 368,115.9 368.5,115.7 369,117.7 369.5,117.7 370,115.9 370.5,115.7 371,114.7 371.5,114.5 372,115.5 372.5,115.9 373,116 373.5,115.6 374,115.9 374.5,114.2 375,115.1 375.5,115 376,115.8 376.5,116 377,117.2 377.5,115.6 378,116 378.5,115.7 379,116.2 379.5,115 380,115.6 380.5,115.7 381,116 381.5,116.4 382,115.5 382.5,116 383,116.4 383.5,115.4 384,115.5 384.5,115.8 385,115.8 385.5,116.2 386,114.7 386.5,114.1 387,116.2 387.5,117.7 388,118.2 388.5,117.7 389,115.9 389.5,116.2 390,116.3 390.5,116.3 391,115.6 391.5,116.3 392,115.8 392.5,548.6 393,547.3 393.5,546.9 394,545.8 394.5,545 395,544.8 395.5,544.1 396,543.4 396.5,543.4 397,542.6 397.5,540.9 398,542 398.5,541.5 399,541.4 399.5,540.9 400,540.7 400.5,540.8 401,540 401.5,539.5 402,540.1 402.5,540.1 403,540.4 403.5,539.9 404,539 404.5,538.8 405,538.6 405.5,537 406,537.2 406.5,538.4 407,537.8 407.5,539.6 408,539.8 408.5,537.8 409,537.6 409.5,537.5 410,538.6 410.5,538 411,537.2 411.5,537 412,537.4 412.5,536.8 413,537.1 413.5,536.5 414,536.7 414.5,536.6" fill="none" stroke-width="1.8"/>
<polyline points="87,523.5 87.5,524.2 88,522.5 88.5,522.3 89,522.7 89.5,523.8 90,523.7 90.5,523.6 91,523.9 91.5,523.8 92,523.7 92.5,523.7 93,509.8 93.5,453.6 94,390.7 94.5,347.9 95,318.9 95.5,295.7 96,277 96.5,261.1 97,248.1 97.5,236.3 98,227.1 98.5,219.2 99,213.3 99.5,207.7 100,203.5 100.5,201 101,194.9 101.5,192.2 102,189.8 102.5,187.5 103,185.9 103.5,183.4 104,181.7 104.5,179.3 105,178.6 105.5,178.7 106,177.6 106.5,176.3 107,176.1 107.5,174.8 108,174.8 108.5,174.7 109,173.4 109.5,172.8 110,173.5 110.5,171.1 111,171 111.5,170.4 112,169.9 112.5,169.2 113,168.4 113.5,169.3 114,168.7 114.5,168.4 115,168.4 115.5,167.8 116,167.7 116.5,167.2 117,166.9 117.5,166.2 118,165.8 118.5,168.4 119,168.2 119.5,165.3 120,165.5 120.5,165.3 121,164.4 121.5,164.6 122,164.8 122.5,164.7 123,164.1 123.5,164.3 124,165.6 124.5,165.4 125,163.7 125.5,163.5 126,163.3 126.5,163.5 127,163.2 127.5,163.2 128,164.8 128.5,163 129,161 129.5,161.1 130,162.7 130.5,162.1 131,161.7 131.5,162.6 132,162.2 132.5,161.5 133,161.7 133.5,164.3 134,164 134.5,163.8 135,162 135.5,161.2 136,161.2 136.5,161.4 137,161.4 137.5,161.4 138,161.5 138.5,161.1 139,161.2 139.5,160.9 140,160.9 140.5,160.9 141,160.8 141.5,161 142,160.8 142.5,162.2 143,160.3 143.5,160.6 144,160.5 144.5,160.6 145,161.1 145.5,160.3 146,162.1 146.5,160.6 147,160.3 147.5,161 148,160.1 148.5,160.3 149,159.9 149.5,160.1 150,160.2 150.5,160.4 151,160.2 151.5,160.5 152,160 152.5,159.9 153,160.8 153.5,158.7 154,158.4 154.5,159.7 155,159.6 155.5,160.1 156,159.7 156.5,161.5 157,161.5 157.5,161.7 158,159.5 158.5,158.2 159,158.5 159.5,159.9 160,159.8 160.5,159.4 161,159.8 161.5,159.4 162,158.2 162.5,159.3 163,160 163.5,159.8 164,159.8 164.5,160 165,161.7 165.5,160.4 166,159.4 166.5,157.2 167,159.3 167.5,159.2 168,159.4 168.5,159.1 169,160.9 169.5,160.9 170,159.6 170.5,159.6 171,159.6 171.5,159.4 172,160.1 172.5,161.1 173,160.4 173.5,159.1 174,158.9 174.5,159.4 175,161.1 175.5,161 176,159.9 176.5,159.5 177,161.5 177.5,160.9 178,159 178.5,159.3 179,159.4 179.5,158.8 180,159.3 180.5,161.6 181,159.3 181.5,157.2 182,157.3 182.5,157.4 183,159.4 183.5,161.5 184,159.6 184.5,159.2 185,159.2 185.5,159.5 186,159.5 186.5,159.2 187,159.6 187.5,159.7 188,159.8 188.5,159.9 189,159.2 189.5,158.2 190,158.3 190.5,158.3 191,159.2 191.5,159 192,159.5 192.5,159.2 193,159.5 193.5,159.2 194,159.2 194.5,159.5 195,159.5 195.5,159.6 196,160.1 196.5,159.6 197,159.7 197.5,160.9 198,160.9 198.5,160 199,159.3 199.5,159.2 200,157.3 200.5,159.5 201,159.2 201.5,159.4 202,161.3 202.5,160.7 203,160.6 203.5,159.8 204,159.7 204.5,159.4 205,159 205.5,159.3 206,159.5 206.5,159.9 207,159.2 207.5,161.2 208,159.7 208.5,158.8 209,159.8 209.5,159.1 210,159.6 210.5,159.6 211,159.8 211.5,159.7 212,160 212.5,160.5 213,160.8 213.5,159.5 214,159.7 214.5,161.1 215,161.1 215.5,160.8 216,159 216.5,159.4 217,159.6 217.5,159.2 218,159.7 218.5,159.7 219,159.4 219.5,158.5 220,159.1 220.5,160.1 221,159.3 221.5,160.8 222,161.7 222.5,159.5 223,159.8 223.5,159.6 224,161.4 224.5,161.4 225,159.7 225.5,158.2 226,159.8 226.5,159 227,159.6 227.5,159.8 228,159.8 228.5,159.3 229,159.8 229.5,159.7 230,158.8 230.5,157.7 231,159.2 231.5,159.3 232,159.2 232.5,159.1 233,158.6 233.5,159.3 234,157.4 234.5,157.1 235,160 235.5,159.4 236,159.8 236.5,159.5 237,158.2 237.5,158.1 238,159.8 238.5,159.4 239,159.5 239.5,159.4 240,157.4 240.5,159.5 241,160.1 241.5,159.3 242,159.5 242.5,159.7 243,159.7 243.5,159.4 244,158.7 244.5,159.5 245,158.7 245.5,159.8 246,159.4 246.5,161.7 247,161.1 247.5,160.9 248,159.4 248.5,159.3 249,159.2 249.5,159.3 250,160.2 250.5,159.5 251,159.6 251.5,159.5 252,159.7 252.5,159.2 253,158.6 253.5,159.2 254,159.4 254.5,158.9 255,159.1 255.5,159 256,159.7 256.5,161.5 257,161.5 257.5,159.5 258,159.3 258.5,159.4 259,159 259.5,158.7 260,159.4 260.5,159.5 261,159.8 261.5,159.9 262,161.9 262.5,159.2 263,159.4 263.5,159.7 264,160.3 264.5,159.9 265,159.9 265.5,159.4 266,159.3 266.5,159.7 267,159.1 267.5,159.4 268,159.4 268.5,158.4 269,159.4 269.5,158.8 270,159.7 270.5,159.3 271,159.5 271.5,159.4 272,159.4 272.5,159.7 273,159.1 273.5,159.3 274,159.7 274.5,159.3 275,159 275.5,159.7 276,159.9 276.5,159.5 277,159 277.5,159.8 278,159.1 278.5,159.7 279,159.4 279.5,159.3 280,159.5 280.5,159.6 281,159.5 281.5,159.9 282,159.5 282.5,159.9 283,159.7 283.5,159.5 284,161.7 284.5,161.4 285,159.8 285.5,159.6 286,158.9 286.5,157.5 287,157.4 287.5,158.1 288,159.1 288.5,159.2 289,159.9 289.5,161.5 290,159.3 290.5,159.4 291,159.7 291.5,158.9 292,160.9 292.5,159.4 293,160 293.5,159.4 294,159.6 294.5,159.8 295,161.6 295.5,159.3 296,158 296.5,158.5 297,159.1 297.5,157.7 298,157.1 298.5,157.4 299,159.4 299.5,159.2 300,159.2 300.5,159.6 301,161.6 301.5,159.5 302,159.5 302.5,158.4 303,159.2 303.5,159.7 304,159.8 304.5,160.3 305,159.4 305.5,159.4 306,159.8 306.5,161.4 307,159.5 307.5,161.7 308,159.8 308.5,159.4 309,159.5 309.5,159.6 310,157.9 310.5,157.4 311,157 311.5,159 312,159.2 312.5,157.8 313,158.2 313.5,159.2 314,161.3 314.5,159.4 315,159.5 315.5,160 316,159.9 316.5,157.4 317,157.3 317.5,159.6 318,159.8 318.5,159.9 319,159.4 319.5,159.7 320,159.1 320.5,159.8 321,158.7 321.5,159.6 322,158.3 322.5,157.5 323,159.7 323.5,159.7 324,159.6 324.5,161.2 325,161.3 325.5,161.5 326,160.1 326.5,158.1 327,158.4 327.5,157.9 328,159.9 328.5,159.4 329,160 329.5,160.4 330,159.7 330.5,161 331,161.5 331.5,162 332,159.9 332.5,159.8 333,160 333.5,159.8 334,160.1 334.5,161.2 335,160.1 335.5,159.7 336,161.4 336.5,161 337,159.4 337.5,160.1 338,159.7 338.5,159.9 339,159.7 339.5,159.5 340,159.6 340.5,161.6 341,161.3 341.5,160.6 342,159.5 342.5,160 343,159.4 343.5,159 344,160 344.5,159.6 345,159.4 345.5,159.3 346,161.1 346.5,159.4 347,159.9 347.5,159.7 348,157.6 348.5,159.5 349,157.9 349.5,159.8 350,159.2 350.5,158.9 351,159.6 351.5,159.6 352,161.4 352.5,161.4 353,161.2 353.5,159.7 354,159.4 354.5,159.3 355,159.4 355.5,160.1 356,159 356.5,159.7 357,159 357.5,160.6 358,160.5 358.5,158.9 359,159.7 359.5,157.6 360,158.9 360.5,159.7 361,159.9 361.5,158.3 362,159.6 362.5,159.5 363,159.9 363.5,160.1 364,159.9 364.5,159.3 365,159.7 365.5,159.8 366,159.1 366.5,161.3 367,160.3 367.5,159.8 368,160.1 368.5,159.7 369,158.5 369.5,158.7 370,158.3 370.5,159.4 371,160.1 371.5,162.3 372,159.5 372.5,160.1 373,159.8 373.5,160 374,161.2 374.5,160.2 375,158.7 375.5,159.1 376,158.8 376.5,160 377,159.6 377.5,160.6 378,160 378.5,160.1 379,159.4 379.5,159.6 380,160.3 380.5,160 381,159.3 381.5,160.2 382,159.6 382.5,158.7 383,159.9 383.5,160 384,160.3 384.5,159.7 385,159.7 385.5,159.9 386,160.2 386.5,159.6 387,159.5 387.5,162.2 388,161.7 388.5,161.7 389,159.4 389.5,159.7 390,159.9 390.5,160.3 391,159.8 391.5,159.3 392,158.6 392.5,545.9 393,545.5 393.5,544.4 394,543.6 394.5,543 395,542.8 395.5,542.3 396,541.3 396.5,541 397,540.7 397.5,540.1 398,540 398.5,539.7 399,539.7 399.5,539.4 400,538.9 400.5,537.2 401,537.2 401.5,538.2 402,539.2 402.5,538.9 403,538.5 403.5,537.5 404,537.8 404.5,537.4 405,538.8 405.5,538.2 406,537.1 406.5,537.4 407,536.5 407.5,536.2 408,536.7 408.5,536.1 409,536.2 409.5,536 410,536.1 410.5,535.7 411,535.8 411.5,535.8 412,537 412.5,536.9 413,535.3 413.5,536.5 414,535.1 414.5,533.8" fill="none" stroke-width="1.8"/>
<polyline points="87,523.9 87.5,524.1 88,524.1 88.5,522.7 89,524.1 89.5,523.7 90,523.8 90.5,524.1 91,524.1 91.5,524 92,524.1 92.5,524 93,516.4 93.5,481 94,434 94.5,396.1 95,369.9 95.5,349.8 96,333.1 96.5,318.8 97,306.4 97.5,295.7 98,286.5 98.5,278.2 99,271.1 99.5,265.4 100,260.3 100.5,255.7 101,251.6 101.5,248.1 102,245 102.5,241.7 103,239.8 103.5,239 104,235.8 104.5,234.6 105,232.3 105.5,231 106,229.2 106.5,226.5 107,225.5 107.5,224.5 108,226.3 108.5,225.5 109,224.5 109.5,222 110,221.8 110.5,222.6 111,221.8 111.5,221 112,220.9 112.5,220.8 113,219.4 113.5,218.2 114,219 114.5,218.5 115,218.6 115.5,217.6 116,217.9 116.5,217.7 117,217.2 117.5,216.7 118,216.6 118.5,216.3 119,215.7 119.5,216.3 120,215.4 120.5,217.3 121,216 121.5,216.9 122,214.9 122.5,214.2 123,214.2 123.5,213.9 124,214.9 124.5,213.5 125,212.9 125.5,212.8 126,213.1 126.5,212.9 127,212.3 127.5,212.1 128,212 128.5,212.3 129,211.6 129.5,211.8 130,211.7 130.5,211.4 131,211.5 131.5,211 132,210.8 132.5,210.5 133,211 133.5,210.4 134,212 134.5,210.4 135,208.3 135.5,209.9 136,210.4 136.5,209.9 137,209.4 137.5,209.7 138,209.5 138.5,210.5 139,209.4 139.5,209.1 140,209.6 140.5,208.5 141,209.1 141.5,209.5 142,208.8 142.5,208.2 143,208.5 143.5,209.1 144,208.7 144.5,208.3 145,208.2 145.5,208.2 146,208.4 146.5,208.7 147,208.5 147.5,208.3 148,207.7 148.5,207.6 149,208.1 149.5,207.5 150,210 150.5,207.9 151,207.4 151.5,207.4 152,207.6 152.5,207.8 153,207.9 153.5,207.7 154,207.5 154.5,207.2 155,207 155.5,207.2 156,207.4 156.5,207.4 157,206.6 157.5,206.9 158,207.5 158.5,207.1 159,206.7 159.5,207.8 160,207 160.5,207.2 161,207.2 161.5,205.4 162,206.8 162.5,209.5 163,209.1 163.5,207.2 164,205 164.5,206.6 165,207.2 165.5,206.6 166,207 166.5,206.5 167,206.3 167.5,207 168,206.7 168.5,206.3 169,207.1 169.5,207.5 170,207.3 170.5,206.8 171,206.8 171.5,207.1 172,207.2 172.5,204.6 173,204.7 173.5,206.9 174,207 174.5,206.7 175,206.7 175.5,207.2 176,207.1 176.5,206.9 177,207.2 177.5,206.6 178,207.2 178.5,206.9 179,207.7 179.5,206.3 180,204.4 180.5,204.8 181,206.8 181.5,207.3 182,206.5 182.5,206.9 183,207 183.5,206.9 184,206.4 184.5,207.1 185,207.1 185.5,206.9 186,206.8 186.5,206.8 187,206.7 187.5,207 188,206.7 188.5,206.4 189,206.3 189.5,206.4 190,206.7 190.5,206.6 191,206.7 191.5,206.8 192,206.5 192.5,205 193,206.6 193.5,208.3 194,208.6 194.5,207.9 195,206.4 195.5,207 196,206.1 196.5,207 197,207.1 197.5,206.5 198,206.7 198.5,206.9 199,206.4 199.5,206.8 200,206.4 200.5,206.4 201,206.3 201.5,206.6 202,206.9 202.5,206.5 203,206.1 203.5,206.1 204,206.6 204.5,208.5 205,208.1 205.5,206.4 206,206.7 206.5,206.4 207,206.4 207.5,204.9 208,205.6 208.5,205.7 209,206.7 209.5,208 210,206.3 210.5,206.9 211,206.2 211.5,206.2 212,206.3 212.5,206.5 213,206.2 213.5,205.8 214,206.1 214.5,206.7 215,206.4 215.5,206.4 216,204.2 216.5,206.1 217,206.8 217.5,206.2 218,206.2 218.5,208.3 219,207.7 219.5,207.7 220,206.3 220.5,206.3 221,206.4 221.5,206.9 222,206.4 222.5,205.5 223,206.3 223.5,206.2 224,206.2 224.5,206.3 225,206.2 225.5,206.2 226,206.4 226.5,206 227,205.9 227.5,207.1 228,205.9 228.5,208.3 229,207.9 229.5,208.4 230,205.9 230.5,206.2 231,206.6 231.5,206.4 232,206.5 232.5,205.8 233,207 233.5,206.1 234,206.8 234.5,206.7 235,208.3 235.5,206.1 236,206.4 236.5,208.1 237,208.2 237.5,206.2 238,205.7 238.5,206.7 239,206.4 239.5,206.3 240,204.9 240.5,205.2 241,206.2 241.5,205.7 242,206.6 242.5,206.6 243,206.4 243.5,206.1 244,206.5 244.5,206.1 245,206.2 245.5,204.9 246,206.8 246.5,206.4 247,206.4 247.5,207.2 248,206.7 248.5,206.6 249,206.4 249.5,206.4 250,205.9 250.5,206.8 251,206.6 251.5,206.5 252,206.5 252.5,205.4 253,204.6 253.5,205 254,206.2 254.5,205.5 255,205.3 255.5,205.9 256,206.1 256.5,206.5 257,206.4 257.5,206.2 258,207.2 258.5,204.8 259,204.8 259.5,204.4 260,206.8 260.5,206.4 261,206.4 261.5,206.7 262,204.1 262.5,205 263,204.6 263.5,206.8 264,206.1 264.5,206.2 265,204.9 265.5,205.4 266,205.3 266.5,206.3 267,206.2 267.5,207.9 268,206.5 268.5,206.4 269,206.3 269.5,208.2 270,206.5 270.5,206.9 271,208.6 271.5,208.9 272,208.7 272.5,206.2 273,207.1 273.5,206.6 274,206.9 274.5,208.6 275,206.6 275.5,206.4 276,207 276.5,206.7 277,206.6 277.5,206.9 278,206.9 278.5,206.8 279,206.2 279.5,206.4 280,206.3 280.5,204.7 281,204.5 281.5,204 282,206.6 282.5,204.6 283,205 283.5,204.6 284,206.9 284.5,206.9 285,207.3 285.5,207 286,206.6 286.5,206.9 287,206.3 287.5,205.1 288,205.5 288.5,206 289,207.9 289.5,207.7 290,206.7 290.5,204.8 291,205.2 291.5,206.7 292,205.8 292.5,206.8 293,206.5 293.5,206.7 294,206.4 294.5,206.9 295,207 295.5,207.5 296,206.6 296.5,206.7 297,204.8 297.5,205 298,205 298.5,206.7 299,205.6 299.5,205.1 300,205.5 300.5,206.9 301,206.7 301.5,206.6 302,207.4 302.5,206.4 303,206.6 303.5,208 304,208.8 304.5,208.5 305,206.3 305.5,204.6 306,204.6 306.5,206.4 307,206.8 307.5,206.7 308,206.7 308.5,206.6 309,206.8 309.5,206.8 310,206.7 310.5,206.5 311,207.2 311.5,206.4 312,206.8 312.5,204.4 313,205 313.5,204.2 314,206.4 314.5,206.4 315,206.8 315.5,206.3 316,206.6 316.5,206.1 317,206.8 317.5,206.6 318,206.2 318.5,207 319,206.3 319.5,207 320,206.6 320.5,207.3 321,207 321.5,206.5 322,206.5 322.5,206.9 323,208.5 323.5,206.7 324,207.2 324.5,206.6 325,206.8 325.5,207.1 326,207.1 326.5,206.8 327,206.8 327.5,206.4 328,206.6 328.5,207 329,206.9 329.5,208.8 330,209.1 330.5,208.5 331,207 331.5,207.1 332,206.9 332.5,209.8 333,209.7 333.5,207.2 334,207.7 334.5,206.8 335,207.2 335.5,207.4 336,207 336.5,207.3 337,206.9 337.5,207.5 338,207.6 338.5,208.9 339,206.6 339.5,206.9 340,209.5 340.5,209.4 341,208.5 341.5,207.6 342,206 342.5,205.7 343,207.6 343.5,207.1 344,207.1 344.5,207.4 345,207.8 345.5,207.7 346,207.3 346.5,207.4 347,207.5 347.5,206.9 348,207.5 348.5,207 349,207.4 349.5,207.2 350,207.4 350.5,207.3 351,208.1 351.5,209 352,207.4 352.5,207.3 353,209.1 353.5,209.6 354,209.2 354.5,207.2 355,207.4 355.5,207.2 356,206.8 356.5,206.3 357,206.8 357.5,207.2 358,206.8 358.5,207.2 359,206.9 359.5,207.3 360,206.9 360.5,207 361,207 361.5,205.1 362,204.1 362.5,204.5 363,207.1 363.5,207.2 364,206.8 364.5,206.6 365,207 365.5,207 366,206.6 366.5,208 367,208.3 367.5,207.3 368,207 368.5,206.8 369,206.8 369.5,206.9 370,206.7 370.5,206.8 371,206.4 371.5,207.1 372,206.4 372.5,206.6 373,206.8 373.5,207.3 374,206.6 374.5,204.9 375,206.5 375.5,207.2 376,205.8 376.5,206.3 377,207.5 377.5,206.8 378,206.3 378.5,206.7 379,206.7 379.5,206.9 380,207.2 380.5,208.1 381,207.8 381.5,206.9 382,206.4 382.5,208.3 383,206.1 383.5,206.2 384,206.4 384.5,206.3 385,206.7 385.5,206.3 386,205.8 386.5,206.4 387,206.6 387.5,206.5 388,207.2 388.5,207.8 389,207 389.5,206.7 390,206.6 390.5,206.4 391,206.6 391.5,208.3 392,208.6 392.5,544.4 393,542.1 393.5,541.9 394,541.2 394.5,540.5 395,540.1 395.5,539.6 396,539 396.5,538.8 397,538.4 397.5,537.9 398,538.5 398.5,538.5 399,537.5 399.5,537 400,537.4 400.5,538.3 401,538.2 401.5,536.5 402,536.6 402.5,535.8 403,535.3 403.5,535.6 404,535.7 404.5,535.5 405,535.4 405.5,537 406,535.2 406.5,535.2 407,534.7 407.5,534.6 408,535 408.5,534.6 409,534.4 409.5,535.2 410,535.1 410.5,534.1 411,534.7 411.5,534.6 412,534.8 412.5,533.8 413,534.1 413.5,533.8 414,534.6 414.5,534.3" fill="none" stroke-width="1.8"/>
<polyline points="87,523.7 87.5,523.6 88,523.8 88.5,523.9 89,524.2 89.5,523.9 90,522.9 90.5,522.9 91,522.4 91.5,523.5 92,524.4 92.5,524.1 93,519.6 93.5,495.9 94,460.8 94.5,428.9 95,405.9 95.5,388.2 96,374.2 96.5,361.5 97,350.8 97.5,341.1 98,333 98.5,325.5 99,319 99.5,313.2 100,308.3 100.5,303.8 101,299.9 101.5,296.2 102,293.1 102.5,290.1 103,287.7 103.5,285.4 104,283.4 104.5,281.8 105,280.2 105.5,278.2 106,277.5 106.5,275.9 107,274.7 107.5,273.6 108,272.7 108.5,272.6 109,271.4 109.5,270.6 110,269.8 110.5,270 111,269.1 111.5,267.9 112,267.5 112.5,267 113,266.7 113.5,266.1 114,264 114.5,263.9 115,262.8 115.5,264.4 116,264.3 116.5,264 117,264.4 117.5,263.9 118,263.6 118.5,262.9 119,262.7 119.5,262.1 120,262.5 120.5,262.2 121,262.1 121.5,263.4 122,263.2 122.5,263.1 123,261.2 123.5,260.2 124,260.6 124.5,260.2 125,259.7 125.5,259.3 126,259.7 126.5,260 127,259.8 127.5,259.2 128,261.3 128.5,260.4 129,260.6 129.5,258.3 130,258.1 130.5,257.9 131,257.4 131.5,258.2 132,257.5 132.5,257.3 133,257 133.5,257.2 134,259.1 134.5,259 135,257.7 135.5,256.6 136,256.2 136.5,256.7 137,256.5 137.5,256.1 138,256.2 138.5,255.9 139,256.5 139.5,256.1 140,256 140.5,253.7 141,255.6 141.5,254 142,255.8 142.5,254.8 143,255.1 143.5,254.8 144,255.6 144.5,255.1 145,254.7 145.5,254.9 146,254 146.5,254.4 147,254.7 147.5,254.8 148,253.9 148.5,254.4 149,254.7 149.5,252.2 150,254.4 150.5,255.5 151,255.9 151.5,255.3 152,254.1 152.5,254.3 153,253.6 153.5,253.9 154,253.8 154.5,252.1 155,252.3 155.5,254 156,253.5 156.5,253.8 157,254.2 157.5,253.5 158,255.6 158.5,253.6 159,253.7 159.5,253.1 160,254 160.5,252 161,252.5 161.5,253.4 162,251.5 162.5,252 163,253.8 163.5,255.6 164,255.8 164.5,255.4 165,253.3 165.5,253.1 166,253.6 166.5,253.1 167,251.4 167.5,250.9 168,253.2 168.5,253.4 169,253.1 169.5,253 170,253.1 170.5,253.3 171,252.8 171.5,253 172,253.1 172.5,253.4 173,250.9 173.5,253.6 174,254.6 174.5,254.5 175,254.5 175.5,252.5 176,252.6 176.5,251.5 177,253.2 177.5,252.8 178,252.7 178.5,253.2 179,253.2 179.5,253.1 180,252.4 180.5,252.5 181,253.2 181.5,252.7 182,252.6 182.5,252.8 183,252.9 183.5,252.4 184,252.7 184.5,254.9 185,252.2 185.5,252.5 186,252.2 186.5,252.2 187,252.3 187.5,252.6 188,252.4 188.5,252.3 189,252.4 189.5,252 190,252.5 190.5,252.7 191,252.3 191.5,252.3 192,252.5 192.5,251.8 193,252.5 193.5,253.3 194,252.3 194.5,250.9 195,251.2 195.5,251.4 196,252.6 196.5,251.6 197,251.3 197.5,251.9 198,251.3 198.5,251.9 199,252.4 199.5,251.9 200,252.7 200.5,253.8 201,254.1 201.5,253.8 202,252.1 202.5,252.7 203,252.2 203.5,252 204,251.8 204.5,251.6 205,251.8 205.5,252.2 206,252.5 206.5,252 207,254.7 207.5,251.8 208,251.9 208.5,251.7 209,252.3 209.5,252.7 210,251.5 210.5,251.9 211,252.4 211.5,251.6 212,250.7 212.5,250.9 213,250.5 213.5,252.1 214,252.5 214.5,250.6 215,250 215.5,251.8 216,251.7 216.5,252.3 217,251.6 217.5,252 218,254 218.5,253.8 219,254.1 219.5,252.8 220,252 220.5,251.8 221,252.3 221.5,252 222,252.3 222.5,252 223,251.8 223.5,251.3 224,251.4 224.5,251.3 225,251.9 225.5,251.5 226,252.3 226.5,251.9 227,251.8 227.5,251.6 228,252 228.5,251.6 229,251.6 229.5,252.2 230,251.9 230.5,251.8 231,252 231.5,253.6 232,252 232.5,251.6 233,252.4 233.5,251.6 234,250 234.5,249.5 235,252.1 235.5,252 236,252.1 236.5,251.6 237,252.2 237.5,252.5 238,251.9 238.5,250.5 239,251.7 239.5,251.8 240,252.4 240.5,251.7 241,251.7 241.5,252.4 242,252.1 242.5,252.5 243,251.8 243.5,251.9 244,253.6 244.5,253.9 245,251.4 245.5,252.1 246,252 246.5,251.9 247,253.6 247.5,253.4 248,252 248.5,251.4 249,252 249.5,250.6 250,250.4 250.5,249.5 251,251.7 251.5,252 252,251.8 252.5,251.5 253,251.9 253.5,251.9 254,254.4 254.5,253.7 255,254.2 255.5,251.5 256,251.5 256.5,252.1 257,252.1 257.5,251.5 258,251.8 258.5,252.6 259,253 259.5,252 260,250.3 260.5,251.7 261,251.4 261.5,251.5 262,252.3 262.5,251.7 263,251.4 263.5,251.7 264,251.3 264.5,251.5 265,252.2 265.5,251.7 266,252.3 266.5,251.8 267,251.8 267.5,252 268,251 268.5,251.9 269,251.8 269.5,252.3 270,252.1 270.5,251.5 271,252.2 271.5,251.8 272,251.6 272.5,251.9 273,251.8 273.5,252.3 274,249.8 274.5,251.9 275,252.1 275.5,254.3 276,254.2 276.5,254.4 277,252 277.5,251.9 278,253.4 278.5,253 279,253 279.5,252.3 280,252.3 280.5,251.8 281,251.7 281.5,252.2 282,252.1 282.5,251.9 283,249.8 283.5,250 284,249.9 284.5,251.7 285,251.9 285.5,251.9 286,251.7 286.5,252.1 287,252.3 287.5,252.2 288,250.5 288.5,250.8 289,250.6 289.5,251.5 290,252 290.5,251.9 291,252.6 291.5,253.7 292,252.1 292.5,252 293,252 293.5,251.7 294,253.7 294.5,253.9 295,251.9 295.5,251.3 296,253.7 296.5,253.8 297,251.9 297.5,251.8 298,251.9 298.5,252.6 299,252.3 299.5,251.9 300,252 300.5,253.3 301,253.1 301.5,253.1 302,252.3 302.5,251.9 303,251.7 303.5,252 304,252 304.5,251.4 305,252 305.5,252.3 306,252.1 306.5,252.7 307,252.4 307.5,252.5 308,251.4 308.5,250.7 309,250.5 309.5,252.4 310,251.9 310.5,252.1 311,251.9 311.5,252.2 312,251.9 312.5,251.8 313,252.1 313.5,252 314,251.5 314.5,251.6 315,251.7 315.5,251.8 316,252.2 316.5,252.1 317,252.4 317.5,254 318,254.2 318.5,254 319,252.1 319.5,252.5 320,252.4 320.5,250.5 321,250.7 321.5,251.4 322,252 322.5,252 323,252.4 323.5,251.2 324,251.6 324.5,252.5 325,251.7 325.5,251.7 326,251.9 326.5,251.9 327,249.6 327.5,252.1 328,252.1 328.5,252.2 329,251.7 329.5,251.8 330,251.8 330.5,250.3 331,249 331.5,249.6 332,251.9 332.5,251.6 333,251.9 333.5,251.9 334,251.7 334.5,251.9 335,252.1 335.5,251.8 336,249.5 336.5,251.8 337,251.8 337.5,251.3 338,251.9 338.5,251.6 339,252.1 339.5,249.9 340,250 340.5,251.4 341,251.6 341.5,250 342,250.2 342.5,252.2 343,252.3 343.5,249.5 344,251.7 344.5,251.8 345,252 345.5,251.3 346,251.3 346.5,251.9 347,251.2 347.5,251.6 348,251.8 348.5,251.9 349,251.7 349.5,251.6 350,253.8 350.5,251.8 351,251.6 351.5,251.8 352,251.9 352.5,252.3 353,253.9 353.5,252.1 354,251.6 354.5,251.6 355,251.7 355.5,251.8 356,250.2 356.5,252.2 357,252.1 357.5,251.8 358,252.1 358.5,252 359,252.1 359.5,251.4 360,251.8 360.5,251.8 361,252.1 361.5,251.6 362,251 362.5,249.8 363,250.1 363.5,250.1 364,252.3 364.5,250.5 365,250.4 365.5,251.8 366,252.1 366.5,251.7 367,251.8 367.5,251.6 368,252.3 368.5,253.9 369,253.6 369.5,253.8 370,252.2 370.5,251.9 371,251.9 371.5,251.8 372,252.1 372.5,251.8 373,251.8 373.5,251.6 374,252 374.5,252 375,251.9 375.5,252.1 376,254 376.5,253.9 377,252.2 377.5,252 378,254.2 378.5,254 379,251.9 379.5,250.7 380,250.5 380.5,250.8 381,251.8 381.5,251.6 382,252.3 382.5,251.9 383,251.8 383.5,251.8 384,252.2 384.5,252.5 385,252 385.5,252 386,252.4 386.5,251.5 387,252.6 387.5,252.7 388,251.2 388.5,251.9 389,251.7 389.5,251.9 390,251.9 390.5,252.3 391,250.8 391.5,250.6 392,252.1 392.5,540.5 393,539.5 393.5,538.8 394,540.4 394.5,538.1 395,537.8 395.5,537.3 396,537.2 396.5,538.5 397,536.6 397.5,535.9 398,535.7 398.5,535.7 399,535.5 399.5,535 400,535.3 400.5,534.7 401,535.1 401.5,535 402,534.5 402.5,535.8 403,535.4 403.5,535.6 404,533.9 404.5,533.7 405,533.7 405.5,533.5 406,533.5 406.5,532.6 407,532.1 407.5,532.6 408,532.9 408.5,533.5 409,532.8 409.5,533 410,532.8 410.5,532.7 411,532.9 411.5,533 412,532.9 412.5,531.3 413,531.4 413.5,531.1 414,532.1 414.5,530.4" fill="none" stroke-width="1.8"/>
<polyline points="87,525.4 87.5,525.8 88,524.3 88.5,524.4 89,524.1 89.5,521.9 90,522.2 90.5,524.4 91,522.7 91.5,523.9 92,524.2 92.5,524 93,521.3 93.5,506.5 94,481.8 94.5,457.2 95,436.9 95.5,422.3 96,410.6 96.5,400.6 97,391.6 97.5,383.7 98,376.5 98.5,370.4 99,364.9 99.5,359.6 100,355.5 100.5,351.3 101,347.3 101.5,344 102,341.1 102.5,338.5 103,336.3 103.5,334.1 104,332 104.5,330.2 105,328.8 105.5,327.1 106,325.4 106.5,324.9 107,323.9 107.5,320.6 108,321.4 108.5,322.8 109,320.3 109.5,319.2 110,318.5 110.5,318.3 111,317.4 111.5,317.1 112,316.1 112.5,315.6 113,315.8 113.5,315.3 114,312.9 114.5,314.3 115,313.8 115.5,312.5 116,311.3 116.5,311.8 117,313.2 117.5,312.8 118,312.1 118.5,311.8 119,311.7 119.5,311.2 120,311 120.5,311.3 121,311.1 121.5,308.4 122,308.8 122.5,310.5 123,312.5 123.5,312 124,311.9 124.5,309.7 125,307.8 125.5,306.9 126,307.1 126.5,308.9 127,308.7 127.5,308.7 128,308.7 128.5,308.5 129,308.1 129.5,307.8 130,308.2 130.5,307.8 131,307.2 131.5,307.3 132,306.7 132.5,307.1 133,306.9 133.5,306.6 134,307.1 134.5,306.2 135,305.1 135.5,305.5 136,306.5 136.5,306.1 137,305.7 137.5,305.5 138,305.7 138.5,305.5 139,305.4 139.5,305.4 140,305.3 140.5,304.1 141,303.5 141.5,303.6 142,305 142.5,304.9 143,305.4 143.5,304.8 144,302.6 144.5,303.1 145,304.7 145.5,304.4 146,304 146.5,307 147,306.1 147.5,304.3 148,304.1 148.5,304.2 149,304.5 149.5,304.1 150,303.7 150.5,306.3 151,305.7 151.5,303.8 152,303.2 152.5,303.2 153,303.4 153.5,303.5 154,302.8 154.5,303.5 155,303 155.5,303.6 156,303 156.5,302.7 157,303 157.5,302.6 158,303.2 158.5,302.8 159,304.6 159.5,304.7 160,302.3 160.5,300.5 161,301 161.5,300.5 162,302.2 162.5,302.7 163,301.5 163.5,300.9 164,301 164.5,302.1 165,300.7 165.5,300.4 166,302 166.5,302.3 167,301.7 167.5,301.9 168,302.1 168.5,300.8 169,300.6 169.5,300.7 170,302 170.5,301.9 171,301.8 171.5,301.8 172,301.9 172.5,301.9 173,301.8 173.5,301.3 174,301.4 174.5,301.8 175,302.1 175.5,301.7 176,301.5 176.5,301.7 177,301.3 177.5,302.1 178,301.7 178.5,301.4 179,301.5 179.5,301.3 180,301.9 180.5,301.5 181,301.6 181.5,301.7 182,301.3 182.5,301.5 183,301.6 183.5,301 184,301.5 184.5,301.4 185,301.5 185.5,301.4 186,301.5 186.5,301.8 187,301 187.5,301.3 188,303.2 188.5,301.5 189,301.6 189.5,304 190,303.3 190.5,301.8 191,301.3 191.5,301 192,299 192.5,299.3 193,301.3 193.5,301.4 194,301.2 194.5,302.5 195,302.6 195.5,302.8 196,301.4 196.5,300.8 197,301.4 197.5,299.3 198,301.2 198.5,301 199,301.6 199.5,301 200,301.2 200.5,301.4 201,299.3 201.5,301 202,301 202.5,300.9 203,301 203.5,301.4 204,300.9 204.5,301.2 205,301.1 205.5,299.1 206,299.7 206.5,299 207,301.1 207.5,300.7 208,300.9 208.5,298.4 209,300.9 209.5,301.1 210,300.6 210.5,300.7 211,300.9 211.5,299.7 212,298.8 212.5,301.4 213,300.9 213.5,301 214,300.7 214.5,300.2 215,301 215.5,300.6 216,300.9 216.5,300.7 217,300.8 217.5,300.4 218,300.9 218.5,300.3 219,301.3 219.5,302.7 220,302.6 220.5,301 221,300.6 221.5,301 222,300.6 222.5,300.2 223,301.1 223.5,301 224,302.6 224.5,302.2 225,302.4 225.5,300.2 226,301 226.5,300.3 227,300.8 227.5,300.5 228,300.3 228.5,299.6 229,299.4 229.5,300.8 230,300.2 230.5,300.3 231,299.9 231.5,299.9 232,301.1 232.5,301.2 233,300.5 233.5,300.3 234,300.4 234.5,303 235,302.6 235.5,302.9 236,300.5 236.5,300.3 237,300.3 237.5,300.5 238,302 238.5,302.4 239,300.3 239.5,300.5 240,299.3 240.5,300.3 241,300.6 241.5,299.9 242,300.2 242.5,300.4 243,300.9 243.5,298.3 244,298.8 244.5,299.3 245,300.1 245.5,300.3 246,300.5 246.5,300.4 247,300.9 247.5,300.5 248,300.8 248.5,300.2 249,300.1 249.5,300.3 250,300 250.5,300.5 251,300.2 251.5,300.1 252,300.5 252.5,300 253,300.6 253.5,302.4 254,302.8 254.5,302.3 255,300.5 255.5,300.4 256,300.5 256.5,300.3 257,299.7 257.5,300.5 258,300.2 258.5,302.7 259,302.7 259.5,302.2 260,300 260.5,300.5 261,300.2 261.5,301.7 262,301.4 262.5,301.7 263,300.3 263.5,300.3 264,300.1 264.5,300.3 265,300.6 265.5,300.2 266,300.4 266.5,300.3 267,302.1 267.5,302.6 268,300.6 268.5,300.3 269,298.2 269.5,298 270,298.1 270.5,300.4 271,300.5 271.5,298.9 272,299.9 272.5,302.4 273,302.1 273.5,301.8 274,300.5 274.5,302.2 275,300.2 275.5,300.4 276,300.3 276.5,298.5 277,298.3 277.5,297.7 278,300.7 278.5,300.4 279,299.9 279.5,299.7 280,300.2 280.5,300 281,300.1 281.5,300.3 282,299.8 282.5,299.6 283,300 283.5,299.7 284,300 284.5,301 285,299.8 285.5,301.8 286,300.1 286.5,299.7 287,299.6 287.5,298.1 288,298.3 288.5,300.1 289,299.8 289.5,298.2 290,298.5 290.5,298.1 291,299.4 291.5,300 292,300.5 292.5,299.5 293,300 293.5,299.9 294,300 294.5,297.9 295,298.2 295.5,297.8 296,300.3 296.5,299.9 297,299.8 297.5,299.7 298,299.3 298.5,299.9 299,300.5 299.5,301.7 300,300.1 300.5,299.8 301,299.8 301.5,300.2 302,300.5 302.5,300.3 303,300.1 303.5,299.9 304,298.3 304.5,298 305,297.8 305.5,299.6 306,300 306.5,299.8 307,299.5 307.5,299.9 308,299.8 308.5,299.6 309,299.9 309.5,299.9 310,299.8 310.5,302.5 311,299.4 311.5,299.3 312,299.9 312.5,299.9 313,300.1 313.5,299.8 314,299.7 314.5,300 315,299.9 315.5,300.5 316,299.8 316.5,299.9 317,300.7 317.5,299.9 318,300.1 318.5,300.2 319,302.3 319.5,302.2 320,300 320.5,300 321,299.9 321.5,300.2 322,300.7 322.5,300.5 323,300.2 323.5,300.3 324,299.8 324.5,300 325,300.4 325.5,300.6 326,299.9 326.5,299.9 327,300.7 327.5,300.1 328,302.5 328.5,302 329,300.1 329.5,300 330,300.4 330.5,300.5 331,299.7 331.5,300 332,300.3 332.5,300 333,299.9 333.5,300.4 334,300.5 334.5,298.3 335,298.5 335.5,299.8 336,299.9 336.5,300.3 337,300.2 337.5,298 338,300 338.5,299.9 339,300.4 339.5,299.6 340,299.9 340.5,299.7 341,300.4 341.5,299.8 342,300.4 342.5,300.9 343,300.8 343.5,299.7 344,300.3 344.5,299.9 345,299.9 345.5,300.2 346,300.6 346.5,300.4 347,300 347.5,300.4 348,299.6 348.5,300 349,300 349.5,300.3 350,300.2 350.5,300.2 351,300.2 351.5,298.9 352,299.1 352.5,300.3 353,300.1 353.5,300.4 354,300.5 354.5,298.7 355,300.2 355.5,300.6 356,299.9 356.5,300.8 357,299.8 357.5,300.2 358,300 358.5,301 359,299 359.5,300.2 360,300.2 360.5,300.3 361,300.2 361.5,300.3 362,299.2 362.5,300.3 363,300.3 363.5,300.5 364,300.6 364.5,300.1 365,300.4 365.5,299.8 366,300.4 366.5,300 367,299.8 367.5,300.1 368,300.6 368.5,300.3 369,300.6 369.5,300 370,299.3 370.5,300 371,301.7 371.5,301.7 372,301.8 372.5,300.3 373,300 373.5,300.5 374,300.8 374.5,300.1 375,299.7 375.5,300.4 376,300.2 376.5,300.3 377,300.5 377.5,301.8 378,300.2 378.5,300.3 379,300.7 379.5,300.3 380,299.9 380.5,300 381,300.3 381.5,299.9 382,301.6 382.5,302.3 383,302.3 383.5,300.2 384,301.6 384.5,301.6 385,301.6 385.5,300.4 386,299.5 386.5,300.2 387,301.8 387.5,301.5 388,300.2 388.5,300.4 389,300.2 389.5,300.6 390,300.6 390.5,300.2 391,300.2 391.5,299.4 392,300.1 392.5,537.1 393,538.5 393.5,536.5 394,536.2 394.5,536 395,535.4 395.5,535.6 396,534.8 396.5,534.2 397,534.1 397.5,534.8 398,534.8 398.5,534.3 399,533.4 399.5,533.3 400,532.2 400.5,532.4 401,533 401.5,533 402,532.5 402.5,532.7 403,532.1 403.5,532 404,530.6 404.5,530.8 405,532.2 405.5,531.7 406,531.7 406.5,531.6 407,531.7 407.5,532.4 408,531.4 408.5,531.2 409,531.2 409.5,531.5 410,532.1 410.5,531 411,531.3 411.5,529.5 412,529.9 412.5,531.2 413,529.4 413.5,529 414,529.7 414.5,530.7" fill="none" stroke-width="1.8"/>
<polyline points="87,523.7 87.5,523.4 88,524.2 88.5,523.9 89,525.3 89.5,525.5 90,525.3 90.5,523.8 91,523.9 91.5,525.3 92,525.6 92.5,524 93,522.9 93.5,516.4 94,504.2 94.5,488.7 95,474.3 95.5,462.4 96,453 96.5,445.1 97,438.6 97.5,432.4 98,427.6 98.5,422.4 99,417.9 99.5,413.2 100,409.5 100.5,405.6 101,402.4 101.5,399.3 102,396.6 102.5,394.5 103,392.3 103.5,390 104,387.8 104.5,385.8 105,383.9 105.5,382.4 106,380.9 106.5,379.7 107,378.2 107.5,377.1 108,376.1 108.5,375.2 109,374.5 109.5,373.6 110,372.6 110.5,371.7 111,371.3 111.5,370 112,369.2 112.5,369.3 113,368.3 113.5,368.1 114,367.6 114.5,367.2 115,364.9 115.5,366.6 116,366 116.5,365.5 117,365.3 117.5,364.7 118,364.6 118.5,365.1 119,362.3 119.5,363.9 120,363.3 120.5,363.6 121,363.3 121.5,363.1 122,362.7 122.5,362.7 123,362.6 123.5,362.1 124,361.8 124.5,363.4 125,361.1 125.5,361 126,361.1 126.5,361.8 127,362.4 127.5,361.7 128,360.4 128.5,360.3 129,360.3 129.5,360.1 130,360.1 130.5,359.9 131,359.7 131.5,359.4 132,359.9 132.5,358.8 133,359.2 133.5,359.1 134,359.2 134.5,358.5 135,358.6 135.5,358.6 136,360.1 136.5,359.8 137,359.2 137.5,358.2 138,358.5 138.5,357.8 139,358.1 139.5,358 140,359.6 140.5,360.4 141,359.4 141.5,357.7 142,357.2 142.5,357.6 143,357.5 143.5,357 144,357.1 144.5,356.7 145,356.5 145.5,357.1 146,354.7 146.5,354 147,355.2 147.5,356.2 148,356.3 148.5,356.8 149,356.2 149.5,356.1 150,355.7 150.5,355.5 151,355.9 151.5,356 152,357.4 152.5,355.6 153,355.7 153.5,355.1 154,357.1 154.5,357 155,357.4 155.5,355.3 156,355 156.5,355.2 157,355 157.5,355.2 158,355 158.5,354.6 159,354.4 159.5,354.8 160,355.2 160.5,354.8 161,355 161.5,355 162,352.8 162.5,352.4 163,352.7 163.5,354.8 164,353.3 164.5,353.3 165,352.9 165.5,354.2 166,354.1 166.5,352.7 167,353 167.5,353.2 168,353.9 168.5,353.8 169,355.4 169.5,356 170,355.5 170.5,353.5 171,354 171.5,353.7 172,353.6 172.5,353.5 173,353.3 173.5,354 174,353.6 174.5,353.1 175,354.8 175.5,353.4 176,353.2 176.5,354.8 177,355.3 177.5,353 178,353.2 178.5,353.1 179,352.8 179.5,353.1 180,352.7 180.5,352.7 181,352.6 181.5,353 182,354.7 182.5,355.1 183,353.1 183.5,350.1 184,351.7 184.5,352.8 185,352.4 185.5,352.2 186,352.3 186.5,354.1 187,354.6 187.5,354.2 188,352.6 188.5,352.4 189,352.2 189.5,350.8 190,352.3 190.5,353.5 191,353.5 191.5,353.1 192,351.9 192.5,352 193,351.7 193.5,349.8 194,349.9 194.5,351.8 195,352 195.5,352.1 196,353.3 196.5,351.5 197,351.6 197.5,350.7 198,351.5 198.5,351.6 199,351.3 199.5,351.8 200,351.6 200.5,351.4 201,351.6 201.5,350.7 202,350.1 202.5,350.2 203,352 203.5,351.6 204,351.8 204.5,351.7 205,351.5 205.5,351.4 206,353 206.5,351.9 207,351.8 207.5,351.1 208,351.8 208.5,351.3 209,351.1 209.5,351.3 210,352.9 210.5,351.6 211,351.4 211.5,351.7 212,351.6 212.5,351.4 213,351.3 213.5,351.6 214,351.4 214.5,351.1 215,351.7 215.5,351.3 216,351.9 216.5,351 217,351.3 217.5,349.7 218,349.6 218.5,349.7 219,351.9 219.5,351.4 220,351.2 220.5,350.9 221,350.9 221.5,351.2 222,351.2 222.5,349.6 223,349 223.5,351.4 224,351.7 224.5,350.4 225,349.3 225.5,351.1 226,351.1 226.5,351.4 227,351 227.5,350.5 228,350 228.5,349.9 229,351.7 229.5,349.7 230,351.3 230.5,352.7 231,350.8 231.5,352.4 232,353.2 232.5,352.7 233,351.2 233.5,350.8 234,351.4 234.5,350.7 235,350.7 235.5,351 236,351.8 236.5,351.8 237,351.1 237.5,351 238,350.7 238.5,351.3 239,351.3 239.5,351.4 240,351.4 240.5,351 241,351.2 241.5,350.8 242,351.2 242.5,350.8 243,351.1 243.5,351.1 244,351 244.5,349.6 245,350.5 245.5,350.6 246,350.9 246.5,350.5 247,349.3 247.5,349.2 248,349.7 248.5,350.9 249,352.6 249.5,351 250,350.7 250.5,350.9 251,351.1 251.5,351.3 252,348.9 252.5,350.3 253,352.5 253.5,352.9 254,350.1 254.5,351.3 255,351 255.5,350.6 256,350.5 256.5,349.7 257,349.1 257.5,350.6 258,350.6 258.5,350.9 259,351.1 259.5,351.3 260,351.3 260.5,350.9 261,351.2 261.5,350.7 262,350.3 262.5,350.7 263,348.3 263.5,348.3 264,350.5 264.5,349.4 265,349.7 265.5,351.2 266,348.8 266.5,350.2 267,350.4 267.5,350.8 268,350.6 268.5,352.1 269,352.5 269.5,352.6 270,350.7 270.5,350.4 271,350.8 271.5,350.6 272,350.6 272.5,350.6 273,351.1 273.5,350.8 274,351.1 274.5,351.2 275,350.9 275.5,351.8 276,351 276.5,352.4 277,351.5 277.5,350.9 278,351 278.5,350.9 279,350.8 279.5,350.7 280,350.9 280.5,351 281,351.2 281.5,352.2 282,352 282.5,352 283,350.4 283.5,351.3 284,350.6 284.5,351.1 285,350.8 285.5,350.8 286,350.7 286.5,350.5 287,350.4 287.5,351.3 288,352.8 288.5,353.1 289,351.2 289.5,350.6 290,350.8 290.5,350.7 291,350.4 291.5,350.7 292,350.9 292.5,350.6 293,350.7 293.5,350.7 294,351.4 294.5,352 295,350.9 295.5,350.7 296,350.5 296.5,350.6 297,350.9 297.5,351 298,350.8 298.5,351.1 299,352.4 299.5,352.3 300,350.6 300.5,353 301,353 301.5,350.5 302,350.3 302.5,351.4 303,352.1 303.5,352.2 304,350.4 304.5,353.1 305,352.9 305.5,351.1 306,350.9 306.5,350.4 307,350.9 307.5,351 308,350.6 308.5,350.4 309,350.9 309.5,350.5 310,351.2 310.5,349.5 311,350.2 311.5,350.2 312,350.9 312.5,351.3 313,350.6 313.5,350.8 314,350.8 314.5,350.7 315,351 315.5,351.7 316,352.1 316.5,351.1 317,350.9 317.5,351.8 318,351.3 318.5,351.2 319,350.7 319.5,350.6 320,350.7 320.5,351.1 321,351 321.5,351.2 322,350.8 322.5,350.6 323,351.2 323.5,350.7 324,350.9 324.5,349.2 325,350.7 325.5,349 326,348.6 326.5,349 327,350.2 327.5,350.7 328,350.8 328.5,351.4 329,350.5 329.5,352.5 330,352.6 330.5,352.1 331,350.7 331.5,350.9 332,350.3 332.5,350.6 333,351.1 333.5,350.8 334,349.4 334.5,349.6 335,349.7 335.5,351 336,350.6 336.5,351.3 337,351.2 337.5,352.7 338,352.2 338.5,350.4 339,350.7 339.5,350.8 340,350.2 340.5,350.9 341,351.1 341.5,350.9 342,350.5 342.5,350.5 343,352.3 343.5,352.1 344,352.3 344.5,350.9 345,351.1 345.5,350.4 346,350.8 346.5,349 347,349.1 347.5,349.4 348,350.9 348.5,351.1 349,350.8 349.5,350.7 350,350.6 350.5,350.2 351,352.3 351.5,351.8 352,352.1 352.5,351 353,350.5 353.5,350.5 354,353.3 354.5,350.9 355,350.6 355.5,350.7 356,349.2 356.5,351.1 357,348.7 357.5,351.3 358,351.1 358.5,350.7 359,350.4 359.5,351.1 360,348.8 360.5,348.2 361,350.7 361.5,351.6 362,350.7 362.5,350.5 363,350.4 363.5,351.3 364,351.1 364.5,353 365,350.8 365.5,352.7 366,352.1 366.5,352.4 367,350.7 367.5,351 368,350.7 368.5,350.4 369,350.5 369.5,350 370,349.8 370.5,350.8 371,350.5 371.5,350.5 372,350.8 372.5,350.9 373,350.6 373.5,351.1 374,350.7 374.5,350.6 375,350.5 375.5,350 376,350.7 376.5,349.7 377,348.9 377.5,349.1 378,348.8 378.5,350.3 379,351 379.5,350.8 380,350.3 380.5,350.3 381,350.1 381.5,350.7 382,350.4 382.5,349.9 383,350.5 383.5,350.6 384,349.2 384.5,348.9 385,348.8 385.5,351.1 386,350.5 386.5,350.7 387,350.4 387.5,350.7 388,350.1 388.5,350.4 389,350.1 389.5,350.4 390,352.2 390.5,350.4 391,350.8 391.5,351 392,350.6 392.5,535.8 393,535.3 393.5,533.7 394,532.7 394.5,532.6 395,532.7 395.5,532.4 396,532.2 396.5,532.4 397,532.3 397.5,530.8 398,530.3 398.5,530.5 399,531.6 399.5,531.3 400,531.2 400.5,531 401,531.2 401.5,530.9 402,530.9 402.5,530.7 403,530.8 403.5,530.7 404,530.4 404.5,530.6 405,530.6 405.5,530.6 406,530.4 406.5,530 407,528.8 407.5,530 408,530.1 408.5,529.9 409,529.7 409.5,529.6 410,529.3 410.5,527.7 411,529.6 411.5,530 412,529.9 412.5,529.2 413,529.5 413.5,529.1 414,529 414.5,529" fill="none" stroke-width="1.8"/>
<polyline points="87,523.8 87.5,524 88,524 88.5,523.7 89,525.7 89.5,524.1 90,525.7 90.5,523.8 91,525.3 91.5,525.6 92,525.8 92.5,524.2 93,524.2 93.5,522.5 94,518.2 94.5,511.6 95,504.1 95.5,496.6 96,489.8 96.5,484 97,479 97.5,474.7 98,470.8 98.5,467.4 99,464.2 99.5,461.1 100,459 100.5,456.5 101,453.9 101.5,450.9 102,448.6 102.5,446.5 103,444.5 103.5,442.7 104,440.9 104.5,439.2 105,437 105.5,435.6 106,434.8 106.5,433.4 107,431.5 107.5,430.5 108,429.3 108.5,428.6 109,427.8 109.5,426.6 110,425.9 110.5,424.9 111,423.9 111.5,423.3 112,422.2 112.5,421.4 113,420.7 113.5,420.5 114,419.5 114.5,418.8 115,418.5 115.5,418.2 116,417.6 116.5,416.9 117,417 117.5,415.9 118,415.9 118.5,415.3 119,414.8 119.5,414.3 120,414.1 120.5,413.9 121,413.7 121.5,413 122,413 122.5,412.9 123,413.9 123.5,414.1 124,411.5 124.5,411.3 125,411.4 125.5,412.2 126,411.8 126.5,411.1 127,410.8 127.5,409.7 128,409.7 128.5,410.1 129,407.7 129.5,408 130,407.6 130.5,409.3 131,408.8 131.5,410.3 132,409.7 132.5,408.9 133,408.5 133.5,408 134,408.3 134.5,408.6 135,407.7 135.5,407.8 136,407.4 136.5,407.4 137,406.8 137.5,407.2 138,407.1 138.5,406.1 139,406.3 139.5,406.6 140,406.9 140.5,406.3 141,406.2 141.5,405.9 142,405.8 142.5,405.4 143,405.6 143.5,405.5 144,405.7 144.5,405.3 145,405.4 145.5,403.6 146,405.3 146.5,405 147,404.8 147.5,405 148,405.3 148.5,404.9 149,404.6 149.5,404.7 150,403.9 150.5,404.4 151,404.3 151.5,402 152,402 152.5,404 153,404.3 153.5,404.3 154,403.6 154.5,403.6 155,403.5 155.5,403.8 156,403.5 156.5,403.4 157,401.4 157.5,403.1 158,405 158.5,404.5 159,402.8 159.5,402.9 160,403.3 160.5,402.7 161,403.1 161.5,402.6 162,402.5 162.5,402.8 163,402.3 163.5,402.8 164,402.6 164.5,402.2 165,402.4 165.5,402.2 166,402.3 166.5,402.7 167,401.9 167.5,402.1 168,401.9 168.5,401.8 169,401.7 169.5,401.4 170,401.8 170.5,401.5 171,401.3 171.5,401.8 172,401.5 172.5,401.4 173,401.8 173.5,400.7 174,401.6 174.5,400.9 175,401.2 175.5,402.3 176,402.1 176.5,401.4 177,400 177.5,399.4 178,401 178.5,400.9 179,401.4 179.5,400.2 180,400.9 180.5,400.5 181,399.9 181.5,400.5 182,402.3 182.5,400.3 183,400.7 183.5,400.8 184,400.4 184.5,398.5 185,397.9 185.5,400.1 186,402.1 186.5,401.8 187,401.9 187.5,400.2 188,400.8 188.5,399.9 189,400.5 189.5,400 190,400.3 190.5,399.4 191,399.8 191.5,399.6 192,399.7 192.5,400.1 193,399.8 193.5,400 194,399.3 194.5,399.2 195,399.4 195.5,399.4 196,399.4 196.5,399.1 197,399.8 197.5,399.3 198,401.3 198.5,400.8 199,399.6 199.5,399.5 200,399.1 200.5,399.4 201,399.9 201.5,399.3 202,399.4 202.5,399.3 203,399.2 203.5,399.2 204,399.3 204.5,397.7 205,397 205.5,397.5 206,398.9 206.5,398.8 207,399.3 207.5,398.7 208,398.4 208.5,399 209,398.3 209.5,398.2 210,399 210.5,398.7 211,398.8 211.5,398.5 212,398.2 212.5,398.2 213,398.5 213.5,398.2 214,400 214.5,399.8 215,398.6 215.5,398.5 216,398.6 216.5,398.6 217,398.3 217.5,397.3 218,398.5 218.5,397.7 219,398.6 219.5,398.5 220,398.6 220.5,398 221,398.3 221.5,399.4 222,400 222.5,399.3 223,397.9 223.5,398.4 224,398.1 224.5,398 225,398.5 225.5,398.5 226,400.3 226.5,400.3 227,400 227.5,398 228,396.5 228.5,396.8 229,396.5 229.5,397.8 230,396.8 230.5,396.9 231,396.7 231.5,398.4 232,397.7 232.5,397.4 233,398.1 233.5,397.7 234,397.8 234.5,397.3 235,397.6 235.5,397.4 236,397.7 236.5,397.8 237,397.9 237.5,398.2 238,396.8 238.5,396.1 239,398 239.5,397.8 240,395.5 240.5,397.8 241,397.9 241.5,397.6 242,397.8 242.5,398.2 243,397.6 243.5,397.5 244,399 244.5,398.6 245,398.4 245.5,397.7 246,398.2 246.5,397.8 247,397.9 247.5,397.2 248,398 248.5,397.8 249,397.6 249.5,397.8 250,397.8 250.5,397.5 251,399.5 251.5,398.1 252,397.6 252.5,397.4 253,397.6 253.5,397.9 254,397.2 254.5,397.8 255,397.3 255.5,395.4 256,397.4 256.5,395.6 257,396.2 257.5,397.1 258,397.7 258.5,398.1 259,397.9 259.5,397.3 260,397.2 260.5,396 261,397.6 261.5,397.6 262,395.1 262.5,395.2 263,397.3 263.5,397.4 264,398 264.5,397.1 265,397.1 265.5,397 266,397.6 266.5,397.3 267,397 267.5,397.2 268,397.1 268.5,397.4 269,398.1 269.5,397.5 270,397.2 270.5,397.1 271,396.9 271.5,397.5 272,397.5 272.5,397.1 273,397.6 273.5,397.2 274,397.4 274.5,397.2 275,397.1 275.5,396.8 276,397 276.5,397.3 277,396.9 277.5,398.5 278,396.7 278.5,397.3 279,397.1 279.5,396.7 280,396.9 280.5,397.3 281,397.8 281.5,396.6 282,396.9 282.5,397.6 283,396.7 283.5,397.1 284,397 284.5,396.8 285,398.8 285.5,396.8 286,396.9 286.5,394.7 287,396.9 287.5,397.2 288,396.9 288.5,395.2 289,395 289.5,394.7 290,396.6 290.5,394.8 291,394.5 291.5,394.9 292,396.9 292.5,397.3 293,395.3 293.5,394.9 294,394.7 294.5,396.7 295,397 295.5,396.7 296,396.9 296.5,396.7 297,397 297.5,396.2 298,397.2 298.5,396.4 299,394.9 299.5,394.6 300,394.6 300.5,396.7 301,396.9 301.5,399.2 302,397 302.5,397.2 303,396.9 303.5,397.3 304,396.7 304.5,397 305,396.9 305.5,396.6 306,396.8 306.5,399 307,398.8 307.5,398.9 308,396.9 308.5,396.6 309,395.8 309.5,397.2 310,397.9 310.5,396.4 311,396.3 311.5,396.6 312,396.6 312.5,396.5 313,396.5 313.5,396.8 314,397.3 314.5,397 315,397 315.5,396.6 316,395 316.5,396.9 317,396.6 317.5,396.6 318,397 318.5,397 319,396.8 319.5,397.7 320,397.9 320.5,396.3 321,396.7 321.5,396.8 322,396.6 322.5,394.6 323,394.7 323.5,396.8 324,396.4 324.5,396.7 325,396.9 325.5,397.2 326,396.7 326.5,397 327,398.4 327.5,398 328,398.5 328.5,397.2 329,397.2 329.5,399.2 330,399.8 330.5,396.6 331,397.4 331.5,397 332,397.2 332.5,396.6 333,397 333.5,399.3 334,396.4 334.5,398.9 335,398.3 335.5,396.7 336,396.5 336.5,396.7 337,395.6 337.5,395.2 338,396.3 338.5,396.9 339,397 339.5,396.6 340,396.8 340.5,394.7 341,396.3 341.5,396.4 342,398.7 342.5,398.7 343,396.6 343.5,396.5 344,396.7 344.5,397 345,396.6 345.5,397.1 346,396.4 346.5,396.7 347,396.5 347.5,396.8 348,396.3 348.5,397.2 349,396.1 349.5,397.1 350,396.6 350.5,396.7 351,396.9 351.5,398.7 352,398.1 352.5,396.7 353,398.7 353.5,397.9 354,397.1 354.5,396.6 355,396.3 355.5,396.2 356,396.4 356.5,395.9 357,394.9 357.5,394.9 358,394.7 358.5,396.6 359,396.3 359.5,396.1 360,397.8 360.5,398 361,397.9 361.5,396.2 362,396.5 362.5,396.4 363,396.1 363.5,396.4 364,396.7 364.5,396.7 365,394.1 365.5,394.4 366,393.9 366.5,396.1 367,398.2 367.5,398.7 368,398.3 368.5,396.4 369,396.9 369.5,396.4 370,397.1 370.5,398.3 371,396.1 371.5,396.4 372,396.3 372.5,396.2 373,397.2 373.5,396.6 374,396.6 374.5,397.7 375,397.8 375.5,396.9 376,393.9 376.5,396.2 377,394.4 377.5,396.9 378,396.4 378.5,394.5 379,396.5 379.5,396.8 380,396 380.5,394.6 381,394.3 381.5,394.6 382,396.2 382.5,396.4 383,396.4 383.5,396.1 384,396 384.5,396.2 385,396.4 385.5,396.2 386,396.2 386.5,397.5 387,398 387.5,398.4 388,396.6 388.5,396.3 389,396.4 389.5,396.1 390,396.9 390.5,397 391,396.4 391.5,397.1 392,396.1 392.5,532.3 393,532.1 393.5,532 394,532.2 394.5,531.4 395,531 395.5,530.8 396,531.1 396.5,530.9 397,529.5 397.5,530 398,531 398.5,531.5 399,530.1 399.5,529.8 400,530.1 400.5,530 401,529.5 401.5,529.4 402,530.2 402.5,530.1 403,528.9 403.5,528.8 404,528.7 404.5,529.3 405,528.7 405.5,529.4 406,528.7 406.5,530.3 407,528.7 407.5,529.3 408,529.9 408.5,529 409,528.5 409.5,527 410,526.8 410.5,528.5 411,528.5 411.5,528.3 412,528 412.5,528.2 413,528.4 413.5,528.2 414,528.2 414.5,528" fill="none" stroke-width="1.8"/>
<polyline points="87,524.3 87.5,524.1 88,525.6 88.5,525.2 89,524 89.5,524.1 90,523.8 90.5,522.3 91,522.1 91.5,522.4 92,523.6 92.5,524 93,523.9 93.5,523.5 94,522.2 94.5,521.1 95,519.6 95.5,516.4 96,513.6 96.5,510.6 97,508.4 97.5,505.2 98,502.8 98.5,500.8 99,498.8 99.5,497 100,495.4 100.5,494 101,492.1 101.5,490.8 102,489.7 102.5,488.9 103,487.5 103.5,486.6 104,485.6 104.5,484.5 105,483.6 105.5,482.5 106,481.9 106.5,480.7 107,480 107.5,478.8 108,478.3 108.5,477.8 109,477.2 109.5,476.7 110,475.4 110.5,475.1 111,474.1 111.5,473.4 112,472.8 112.5,472.3 113,471.7 113.5,471.1 114,470.6 114.5,470.4 115,470.1 115.5,469.5 116,468.8 116.5,468.1 117,467.5 117.5,467.4 118,466.9 118.5,466.6 119,466.1 119.5,465.8 120,464.9 120.5,464.6 121,464.9 121.5,463.9 122,463.5 122.5,463.2 123,463.5 123.5,463.2 124,462.8 124.5,462.8 125,462.4 125.5,462 126,461.8 126.5,461.6 127,461.3 127.5,461.2 128,461 128.5,460.6 129,460.6 129.5,460.4 130,460 130.5,459.9 131,461.1 131.5,460.9 132,459 132.5,458.8 133,458.7 133.5,458.4 134,457.9 134.5,458.4 135,458.1 135.5,457.4 136,459.4 136.5,459.2 137,457.3 137.5,456.8 138,456.6 138.5,457 139,458.2 139.5,456.5 140,456.3 140.5,456.3 141,456.3 141.5,456.6 142,455.6 142.5,458.4 143,457.3 143.5,456.2 144,455 144.5,456.3 145,455.3 145.5,455.7 146,456.8 146.5,454.9 147,454.8 147.5,454.6 148,454.9 148.5,455.8 149,455.5 149.5,454.5 150,454 150.5,454.1 151,454.1 151.5,453.8 152,453.8 152.5,454.3 153,453.7 153.5,452.3 154,452.3 154.5,453.7 155,451.6 155.5,453.5 156,453.4 156.5,454.5 157,453.6 157.5,453.5 158,452.7 158.5,452.6 159,452.9 159.5,452.4 160,453.1 160.5,454.5 161,455.1 161.5,454.2 162,452.3 162.5,452.7 163,452.2 163.5,452.3 164,452.5 164.5,451.9 165,451.7 165.5,451.5 166,453.8 166.5,453.7 167,452.2 167.5,451.7 168,451.3 168.5,449.8 169,451.3 169.5,450.6 170,451.6 170.5,451.5 171,448.9 171.5,449 172,449.7 172.5,451.4 173,450.9 173.5,450.6 174,450.8 174.5,450.8 175,451.5 175.5,450.8 176,450.5 176.5,450.7 177,450.8 177.5,450.3 178,450.7 178.5,450.9 179,450.6 179.5,450.2 180,449 180.5,448.6 181,449 181.5,450.3 182,449.9 182.5,450.7 183,450.3 183.5,451 184,451 184.5,451.2 185,450.4 185.5,450.2 186,451.8 186.5,449.9 187,449.8 187.5,449.4 188,451.3 188.5,449.6 189,451 189.5,450.1 190,449.5 190.5,449.9 191,449 191.5,450.3 192,449.3 192.5,449.5 193,449.5 193.5,449.1 194,449.4 194.5,449.5 195,449 195.5,448.9 196,449.1 196.5,449 197,449.4 197.5,449.1 198,447.7 198.5,447.8 199,447 199.5,448.5 200,448.8 200.5,449 201,448.7 201.5,449 202,448.8 202.5,448.4 203,448.4 203.5,448.6 204,448.3 204.5,448.8 205,448 205.5,448.4 206,448.4 206.5,448.1 207,449.5 207.5,449.6 208,449.8 208.5,448 209,447.8 209.5,448.5 210,448.2 210.5,446.2 211,448.3 211.5,448.7 212,448.3 212.5,447.8 213,448.1 213.5,449.2 214,449.2 214.5,448.8 215,447.7 215.5,447.9 216,447.6 216.5,445.8 217,445.6 217.5,448.1 218,447.6 218.5,447.2 219,447.6 219.5,448 220,447.6 220.5,446.5 221,448.1 221.5,446.7 222,447.1 222.5,446.8 223,446.9 223.5,447.2 224,446.5 224.5,447 225,447.4 225.5,446.9 226,446.7 226.5,449 227,447 227.5,446.9 228,446.7 228.5,447.2 229,445.1 229.5,444.5 230,444.5 230.5,446.9 231,446.6 231.5,448.3 232,448.7 232.5,448.2 233,446.5 233.5,447 234,448.4 234.5,448.4 235,447 235.5,447 236,446.8 236.5,448.8 237,447.3 237.5,447 238,446.9 238.5,446.6 239,446.2 239.5,446.7 240,446.4 240.5,446.1 241,446.1 241.5,445.9 242,446.4 242.5,446.3 243,446.1 243.5,446.1 244,445.9 244.5,445.5 245,445.6 245.5,445.9 246,445.8 246.5,446.2 247,446.3 247.5,446 248,446.4 248.5,443.5 249,443.7 249.5,443.7 250,446.2 250.5,445.9 251,445.9 251.5,445.3 252,445.6 252.5,446.2 253,445.2 253.5,446.2 254,447.1 254.5,445.5 255,445.4 255.5,444.9 256,446 256.5,445.5 257,445.5 257.5,445.3 258,445.5 258.5,445.2 259,445.5 259.5,445.9 260,445.4 260.5,443.8 261,443.7 261.5,445.3 262,445 262.5,445.3 263,442.6 263.5,445.3 264,446.3 264.5,445.1 265,445 265.5,445.6 266,446.7 266.5,445.6 267,445.2 267.5,445.5 268,445 268.5,445.2 269,445.4 269.5,445.3 270,445.2 270.5,445 271,445.1 271.5,445.5 272,445.6 272.5,445 273,444.9 273.5,444.8 274,444.1 274.5,443.5 275,445.4 275.5,445.2 276,444.8 276.5,445.4 277,444.5 277.5,445.5 278,445.1 278.5,444.3 279,445.4 279.5,445.2 280,446.4 280.5,446.3 281,444.5 281.5,447.6 282,444.7 282.5,444.6 283,445 283.5,444.5 284,444.7 284.5,445.3 285,445.1 285.5,446.9 286,447 286.5,446.9 287,445 287.5,446 288,446 288.5,444.8 289,444.7 289.5,445.3 290,445.2 290.5,444.7 291,444.6 291.5,444.9 292,445.6 292.5,444.7 293,445 293.5,445 294,445 294.5,444.8 295,445.3 295.5,445.1 296,445.2 296.5,445.1 297,445.2 297.5,445.3 298,445.3 298.5,445.5 299,446.4 299.5,445.9 300,446.3 300.5,445 301,445.4 301.5,444.4 302,444.9 302.5,444.5 303,444.9 303.5,444.6 304,444.8 304.5,444.2 305,442.6 305.5,442.4 306,442.4 306.5,445.2 307,444.5 307.5,444.8 308,444.7 308.5,444.8 309,445.4 309.5,446.4 310,444.5 310.5,443.2 311,444.5 311.5,446 312,444.4 312.5,442.9 313,442.8 313.5,444.4 314,444.5 314.5,444.8 315,446.3 315.5,446.2 316,445.8 316.5,444.6 317,444.7 317.5,442.8 318,442.9 318.5,442.4 319,444.6 319.5,444.8 320,444.3 320.5,444.1 321,444.2 321.5,444.1 322,445.8 322.5,446.1 323,444.3 323.5,444.5 324,444.4 324.5,444 325,444.1 325.5,442.4 326,442.4 326.5,444.8 327,446.8 327.5,446.5 328,446.3 328.5,443.9 329,444.3 329.5,444 330,444.7 330.5,443.7 331,444.3 331.5,444 332,444.3 332.5,444.4 333,446.2 333.5,445.8 334,444.4 334.5,444 335,444.2 335.5,444.5 336,444.2 336.5,444 337,446 337.5,446.4 338,443.7 338.5,443.7 339,444.2 339.5,443.9 340,443.6 340.5,444.4 341,442.1 341.5,442.4 342,443.8 342.5,445.2 343,445 343.5,444.2 344,444.1 344.5,444.4 345,443.9 345.5,444.7 346,443.5 346.5,443.6 347,444.5 347.5,444.2 348,445.5 348.5,445.5 349,444.2 349.5,444.1 350,443.7 350.5,444.2 351,444.2 351.5,444.4 352,444.5 352.5,444 353,443.5 353.5,444.4 354,443.5 354.5,443.9 355,443.7 355.5,443.6 356,444.1 356.5,445.6 357,445.7 357.5,445.3 358,443.7 358.5,443.5 359,443.6 359.5,443.7 360,446.3 360.5,445.7 361,443.1 361.5,444.2 362,443.8 362.5,445 363,443.6 363.5,443.5 364,444.3 364.5,443.8 365,443.2 365.5,443.8 366,442.5 366.5,442.2 367,441.9 367.5,443.5 368,443.6 368.5,444.3 369,443.8 369.5,443.4 370,445.3 370.5,445.2 371,443.7 371.5,443.6 372,443.5 372.5,444.2 373,443.9 373.5,444 374,446.1 374.5,446.2 375,443.7 375.5,443.7 376,445.8 376.5,445.8 377,443.5 377.5,443.7 378,444.1 378.5,444.4 379,444.4 379.5,445.3 380,444.2 380.5,443.9 381,444.1 381.5,446 382,443.4 382.5,443.9 383,444.1 383.5,443.7 384,443.7 384.5,443.3 385,443.9 385.5,443.8 386,443.5 386.5,443.7 387,443.8 387.5,443.6 388,443.8 388.5,443.3 389,444.2 389.5,442.1 390,443.5 390.5,443.1 391,444.1 391.5,443.9 392,442.1 392.5,529.7 393,530.6 393.5,530.3 394,530 394.5,529.8 395,531 395.5,529.8 396,529.4 396.5,529.6 397,529.2 397.5,529.1 398,530.4 398.5,529.2 399,529.1 399.5,528.5 400,529 400.5,528.4 401,528.4 401.5,527.9 402,529.5 402.5,529.2 403,528.3 403.5,527.9 404,528.5 404.5,529.1 405,529.4 405.5,528.7 406,528.3 406.5,527.6 407,528 407.5,529 408,527.8 408.5,527.8 409,528.8 409.5,527.5 410,527.6 410.5,527.7 411,529 411.5,528.8 412,527.9 412.5,527.3 413,527.5 413.5,527.7 414,527.6 414.5,527.3" fill="none" stroke-width="1.8"/>
<polyline points="87,524.2 87.5,523.9 88,524.3 88.5,524.2 89,523.7 89.5,523.9 90,523.9 90.5,523.6 91,523.6 91.5,524.8 92,523.8 92.5,524 93,524.1 93.5,524 94,524.5 94.5,523.8 95,523.7 95.5,523.4 96,523.1 96.5,523 97,522.2 97.5,521.8 98,521.6 98.5,521 99,519.7 99.5,519.8 100,519.2 100.5,518.8 101,518.3 101.5,517.8 102,516.9 102.5,516.5 103,516 103.5,515.8 104,515.2 104.5,514.8 105,514.4 105.5,514 106,513.6 106.5,513.4 107,513.5 107.5,513.1 108,512.9 108.5,512 109,511.8 109.5,510.9 110,511.3 110.5,511.6 111,510.6 111.5,510.4 112,509.7 112.5,509.9 113,509.7 113.5,509.3 114,509.2 114.5,508.8 115,508.7 115.5,508.4 116,508.4 116.5,508 117,507.8 117.5,507.4 118,507.3 118.5,507.1 119,507.1 119.5,507.3 120,506.5 120.5,506.3 121,505.4 121.5,505.9 122,505.8 122.5,505.1 123,505.2 123.5,505.2 124,505.8 124.5,505.6 125,504.8 125.5,504.4 126,504.4 126.5,503.5 127,504.1 127.5,503.8 128,503.9 128.5,503.6 129,503.3 129.5,503.2 130,502.9 130.5,503.1 131,502.7 131.5,502.8 132,502.4 132.5,502.2 133,502.8 133.5,502 134,501.9 134.5,501.6 135,501.1 135.5,501.5 136,501.2 136.5,501.2 137,501.1 137.5,501 138,501 138.5,500.7 139,500.6 139.5,500.7 140,500.3 140.5,500.3 141,500.1 141.5,500 142,500 142.5,499.9 143,499.8 143.5,499.7 144,499.6 144.5,499.4 145,500 145.5,499.3 146,498.5 146.5,498.7 147,498.3 147.5,498.8 148,498.6 148.5,498.5 149,498.2 149.5,498.6 150,498.3 150.5,498.3 151,498.1 151.5,498.8 152,498.1 152.5,498 153,497.8 153.5,498.2 154,498.1 154.5,497.5 155,497.3 155.5,497.3 156,496.8 156.5,496.7 157,496.5 157.5,497 158,497 158.5,496.3 159,496.3 159.5,496.4 160,496.6 160.5,496.4 161,496.4 161.5,497.1 162,496.7 162.5,496.9 163,496.1 163.5,495.9 164,496 164.5,495.9 165,495.9 165.5,495.8 166,495.3 166.5,495.2 167,495.6 167.5,496 168,496.9 168.5,496.7 169,495.1 169.5,495.3 170,495.5 170.5,495.3 171,495 171.5,494.3 172,494.7 172.5,494.7 173,494.5 173.5,494.6 174,495 174.5,494.7 175,494.9 175.5,494.1 176,494.4 176.5,493.8 177,494.3 177.5,494 178,496.6 178.5,494.4 179,494.5 179.5,494 180,493.9 180.5,493.8 181,494.2 181.5,496.8 182,494.1 182.5,495.9 183,495.9 183.5,493.8 184,496.4 184.5,494.1 185,493.8 185.5,493.7 186,493.7 186.5,493.7 187,493.4 187.5,493.2 188,493.8 188.5,493.4 189,493.6 189.5,493.8 190,491.5 190.5,491.5 191,494.2 191.5,493.3 192,494.1 192.5,493.1 193,493.6 193.5,492.7 194,492.8 194.5,493.2 195,495 195.5,495 196,493.1 196.5,492.5 197,493.7 197.5,493.7 198,492.8 198.5,492.6 199,492.3 199.5,492.1 200,492.4 200.5,492.8 201,492.2 201.5,492.2 202,492 202.5,493.4 203,492.4 203.5,493 204,492.3 204.5,492.2 205,492.5 205.5,492.4 206,492 206.5,492.8 207,492.1 207.5,492.1 208,492.1 208.5,493.2 209,493.4 209.5,492.8 210,492 210.5,491.7 211,491.9 211.5,491.6 212,491.5 212.5,491.7 213,493 213.5,492.6 214,493.3 214.5,491.7 215,491.4 215.5,491.2 216,491.4 216.5,491.5 217,488.7 217.5,489.3 218,491.4 218.5,490.5 219,491.2 219.5,491.4 220,491.3 220.5,491.3 221,490.9 221.5,490.6 222,490.4 222.5,491.2 223,491.1 223.5,491.2 224,490.6 224.5,489.2 225,488.5 225.5,488.7 226,490.8 226.5,490.9 227,492.6 227.5,490.6 228,490.3 228.5,490.3 229,490.4 229.5,491.2 230,490.7 230.5,492.2 231,491.7 231.5,490.4 232,490.6 232.5,490.2 233,488.5 233.5,490 234,490.1 234.5,491.7 235,491.4 235.5,491.7 236,490.1 236.5,489.9 237,489.7 237.5,489.9 238,489.7 238.5,491.3 239,491.6 239.5,490.9 240,490.5 240.5,489.7 241,489.9 241.5,489.5 242,490 242.5,489.6 243,487.4 243.5,489.4 244,489.5 244.5,489.6 245,489.5 245.5,489.4 246,489.2 246.5,489.1 247,489.2 247.5,489.4 248,489.5 248.5,489.5 249,489.2 249.5,489.3 250,489.1 250.5,488.6 251,490.9 251.5,488.9 252,488.7 252.5,488.9 253,489.1 253.5,488.7 254,488.8 254.5,489.4 255,488.4 255.5,488.9 256,486.5 256.5,486.6 257,488.8 257.5,488.6 258,489 258.5,489.2 259,487.4 259.5,487.5 260,486.8 260.5,488.7 261,486.8 261.5,486.9 262,487.1 262.5,489 263,489 263.5,490.7 264,488.7 264.5,488.5 265,488.7 265.5,488.3 266,488.6 266.5,488 267,488.4 267.5,488.5 268,490.5 268.5,490.5 269,489.8 269.5,489 270,488.5 270.5,488.5 271,487.9 271.5,488.2 272,488.7 272.5,488.5 273,490.1 273.5,490.1 274,488 274.5,488.4 275,488.9 275.5,488.8 276,488.4 276.5,488.9 277,488 277.5,488 278,490.2 278.5,489.7 279,488.2 279.5,488.3 280,488 280.5,490.6 281,490.6 281.5,488.3 282,487.9 282.5,489.6 283,489.4 283.5,489.2 284,488.5 284.5,488.8 285,488.7 285.5,488.3 286,488 286.5,486.3 287,486.5 287.5,486.2 288,488.5 288.5,487.5 289,489.6 289.5,488.3 290,489.2 290.5,487.9 291,488.2 291.5,488.4 292,487.6 292.5,487.5 293,487.7 293.5,487.5 294,487.5 294.5,485.6 295,486.2 295.5,485.7 296,487.9 296.5,487.7 297,488.1 297.5,488.5 298,487.7 298.5,488.5 299,488.1 299.5,487.9 300,488 300.5,488 301,488.4 301.5,487.9 302,488 302.5,487.6 303,488 303.5,489.5 304,489.8 304.5,488.5 305,486.9 305.5,487.7 306,487.8 306.5,487.7 307,487.6 307.5,487.8 308,487.7 308.5,487.8 309,487.5 309.5,488.3 310,488.8 310.5,489 311,488.6 311.5,487.9 312,487.8 312.5,487.7 313,487.3 313.5,487.3 314,488 314.5,487.3 315,486.3 315.5,485.8 316,486.4 316.5,487.3 317,488.6 317.5,488.6 318,488.7 318.5,487.6 319,487.5 319.5,487.2 320,487.5 320.5,487.1 321,487.6 321.5,487.6 322,487.3 322.5,487.4 323,487.8 323.5,487.3 324,487.1 324.5,487.6 325,487.2 325.5,487.5 326,487.4 326.5,487.3 327,487.4 327.5,487.8 328,487.8 328.5,487.8 329,487.6 329.5,487.3 330,486.7 330.5,487.5 331,486.8 331.5,484.6 332,485.1 332.5,487.5 333,487.3 333.5,487.9 334,487.6 334.5,487.4 335,487.8 335.5,487.8 336,487.5 336.5,487.1 337,487.2 337.5,486.9 338,488.8 338.5,486.9 339,487.1 339.5,487.3 340,486.6 340.5,486.8 341,487 341.5,487.1 342,487 342.5,487.1 343,486.9 343.5,486.7 344,487 344.5,487.1 345,487.1 345.5,487.2 346,487.3 346.5,488.8 347,488.4 347.5,488.1 348,487.5 348.5,487.2 349,486.7 349.5,487.1 350,487.3 350.5,487.5 351,487.1 351.5,487.4 352,488 352.5,487 353,486.9 353.5,487.1 354,489 354.5,488.6 355,486.5 355.5,486.3 356,487.2 356.5,486.9 357,486.8 357.5,486.6 358,486.8 358.5,486.4 359,486.8 359.5,486.3 360,486.6 360.5,486.5 361,485.7 361.5,486.6 362,486.4 362.5,486.6 363,486.6 363.5,487.1 364,486.7 364.5,486.7 365,486.7 365.5,488.6 366,488.4 366.5,486.6 367,486.7 367.5,485.8 368,485.6 368.5,485.5 369,486.6 369.5,486.1 370,486.9 370.5,486.4 371,486.8 371.5,486.2 372,487.2 372.5,486.1 373,486.5 373.5,485.9 374,486.5 374.5,486.4 375,485.5 375.5,485 376,486.9 376.5,486.2 377,486.4 377.5,486.4 378,486.6 378.5,486.6 379,486.7 379.5,486.5 380,486.7 380.5,487.4 381,487.8 381.5,488.2 382,486 382.5,486.6 383,488.4 383.5,488.6 384,488.4 384.5,486.5 385,486.7 385.5,486.3 386,488.2 386.5,486.2 387,487 387.5,486.7 388,486.3 388.5,486.6 389,486.9 389.5,486.9 390,486.3 390.5,485.7 391,486.8 391.5,486.4 392,486.9 392.5,529.2 393,529 393.5,529 394,528.8 394.5,528.8 395,528.6 395.5,528.5 396,528.1 396.5,527.7 397,528.4 397.5,527.9 398,528 398.5,527.6 399,527.9 399.5,527.1 400,527.4 400.5,527.5 401,527.6 401.5,527.7 402,528.1 402.5,527.6 403,527.7 403.5,527.9 404,526.3 404.5,526 405,527 405.5,527.6 406,525.9 406.5,527.2 407,526.8 407.5,526.9 408,527.2 408.5,527.2 409,525.5 409.5,526 410,526.8 410.5,527.3 411,527 411.5,526.9 412,527.2 412.5,527 413,527.2 413.5,526.9 414,526.9 414.5,528.3" fill="none" stroke-width="1.8"/>
<polyline points="87,524.3 87.5,524.5 88,523.6 88.5,524.1 89,525 89.5,524.8 90,524.1 90.5,527.2 91,526.6 91.5,525 92,524.6 92.5,524.5 93,523.3 93.5,524.5 94,524.3 94.5,524.7 95,524.9 95.5,524.2 96,522.2 96.5,522.7 97,523.3 97.5,524.5 98,524.5 98.5,525 99,524.2 99.5,524.5 100,523.9 100.5,524.7 101,524.6 101.5,524.9 102,524 102.5,524.4 103,524 103.5,522.2 104,525.2 104.5,524.4 105,522.4 105.5,522.7 106,523.9 106.5,524 107,524.9 107.5,524 108,524.8 108.5,524.6 109,524.4 109.5,524.8 110,524.2 110.5,525 111,524.4 111.5,524.5 112,524.4 112.5,525 113,524.9 113.5,525.5 114,526.8 114.5,523.8 115,524.4 115.5,524.5 116,524.5 116.5,524.9 117,525 117.5,524.2 118,524.2 118.5,524.5 119,523.9 119.5,524.3 120,525.2 120.5,523.9 121,525.6 121.5,524.3 122,525.5 122.5,524.4 123,524.4 123.5,524.1 124,524.6 124.5,524.7 125,524.2 125.5,525 126,524.7 126.5,524.9 127,524.4 127.5,524.6 128,524.5 128.5,525.2 129,524.6 129.5,524.6 130,524.5 130.5,524.5 131,524.9 131.5,527.3 132,526.6 132.5,524.8 133,524.9 133.5,526.4 134,525.4 134.5,525.8 135,524.1 135.5,524.7 136,523 136.5,523.2 137,524.1 137.5,524.4 138,524.2 138.5,525 139,524.9 139.5,524.8 140,524.5 140.5,525.2 141,525.9 141.5,525.8 142,524.7 142.5,524.9 143,524.8 143.5,525.2 144,524.4 144.5,524.5 145,525.2 145.5,524.8 146,524.6 146.5,525.5 147,524.9 147.5,524.6 148,524.4 148.5,525.3 149,526.6 149.5,526.5 150,526.8 150.5,525.2 151,525.1 151.5,527.3 152,527.1 152.5,527.1 153,524.5 153.5,525.6 154,524.3 154.5,524.9 155,524.2 155.5,523 156,522.8 156.5,524.9 157,525 157.5,524.4 158,524.8 158.5,527.2 159,524.3 159.5,524.5 160,525.2 160.5,524.9 161,524.9 161.5,525.3 162,524.5 162.5,524.6 163,524.5 163.5,524.7 164,525.5 164.5,524.1 165,522.5 165.5,524.3 166,525.6 166.5,524.7 167,524.8 167.5,524.3 168,524.9 168.5,525.4 169,525.1 169.5,525 170,524.3 170.5,524.9 171,525.1 171.5,526.5 172,527.2 172.5,527.3 173,524.8 173.5,525.3 174,524.9 174.5,525.5 175,525.9 175.5,524.5 176,527.5 176.5,527.8 177,526.8 177.5,524.8 178,524.9 178.5,525.1 179,525 179.5,525 180,523.9 180.5,522.6 181,523 181.5,525.4 182,525.3 182.5,526.1 183,526.9 183.5,525.7 184,525.1 184.5,524.7 185,525.5 185.5,525.9 186,526.2 186.5,526.6 187,525.6 187.5,525.1 188,524.3 188.5,525.3 189,524.6 189.5,524.5 190,524.3 190.5,527.3 191,526.4 191.5,526.9 192,525.3 192.5,522.7 193,522.8 193.5,525.2 194,525 194.5,524.6 195,524.5 195.5,524.9 196,524.9 196.5,525.1 197,525.4 197.5,522.8 198,522.3 198.5,523.9 199,524.5 199.5,524.2 200,524.5 200.5,525 201,524.9 201.5,527.9 202,527.3 202.5,525.8 203,525.2 203.5,525.4 204,524.8 204.5,524.4 205,526.4 205.5,526.6 206,524.5 206.5,524.3 207,524.9 207.5,524.3 208,524 208.5,524.2 209,526.1 209.5,524.3 210,524.6 210.5,525 211,527.3 211.5,526.8 212,524.1 212.5,524.4 213,525 213.5,525.1 214,524.9 214.5,525.2 215,525.5 215.5,524.5 216,525.5 216.5,524.7 217,525.3 217.5,525.2 218,523.9 218.5,522 219,521.9 219.5,524 220,525.2 220.5,525.7 221,524.7 221.5,523 222,523.2 222.5,524.9 223,524.8 223.5,524.7 224,525.1 224.5,525.3 225,525.1 225.5,525.1 226,524.9 226.5,524.3 227,525.4 227.5,524.4 228,525.2 228.5,525.3 229,524.4 229.5,526 230,527.2 230.5,525 231,524.5 231.5,525.4 232,524.7 232.5,524.1 233,525.2 233.5,524.5 234,525.1 234.5,524.6 235,526.5 235.5,526.3 236,525.1 236.5,525.1 237,524.8 237.5,525.5 238,525 238.5,525.2 239,526.7 239.5,526.7 240,527 240.5,524.8 241,523.4 241.5,524.9 242,523.1 242.5,524.6 243,525.4 243.5,524.9 244,524.8 244.5,525.4 245,524.5 245.5,523.9 246,524.5 246.5,525 247,524.8 247.5,524.1 248,527.3 248.5,524.9 249,523.6 249.5,523.6 250,522.8 250.5,525 251,525.3 251.5,525.3 252,525.2 252.5,525 253,524 253.5,523.1 254,524.3 254.5,525.3 255,526.8 255.5,525.8 256,524.7 256.5,524.8 257,525 257.5,523.9 258,523.7 258.5,524.7 259,523.5 259.5,524.7 260,524.9 260.5,525.1 261,524.3 261.5,524.7 262,527.2 262.5,526.4 263,527.4 263.5,524.8 264,524.4 264.5,524.7 265,524.6 265.5,525 266,524.5 266.5,524.8 267,524.4 267.5,524.3 268,524.8 268.5,524.4 269,525.2 269.5,525.1 270,524.4 270.5,524.9 271,524.4 271.5,524.1 272,523.3 272.5,523.5 273,525 273.5,524.9 274,525.2 274.5,524.4 275,524.6 275.5,525.5 276,523.9 276.5,524.5 277,524.3 277.5,524.7 278,524.6 278.5,525.1 279,524.9 279.5,524.1 280,524.4 280.5,524.7 281,525.1 281.5,525.9 282,525.1 282.5,526.6 283,527.1 283.5,527.2 284,524.6 284.5,525.1 285,523.8 285.5,523.5 286,524.6 286.5,524.8 287,525.6 287.5,524.4 288,525 288.5,525.3 289,525 289.5,524.3 290,523.3 290.5,524.9 291,524.7 291.5,524.8 292,524.8 292.5,524.4 293,525.1 293.5,524.8 294,525.3 294.5,523.7 295,525.8 295.5,525 296,524.7 296.5,524.4 297,526.1 297.5,525.4 298,524.7 298.5,525.8 299,525.6 299.5,524.4 300,524.7 300.5,524.9 301,524.5 301.5,524.9 302,523.5 302.5,524.4 303,523.1 303.5,523.5 304,523.2 304.5,525 305,524.7 305.5,525.4 306,524.5 306.5,525.1 307,525 307.5,525.5 308,522.8 308.5,522.9 309,524.5 309.5,525.3 310,525 310.5,524.7 311,522.8 311.5,523.4 312,522.6 312.5,524.6 313,525.5 313.5,525 314,525.5 314.5,524.9 315,525.1 315.5,526.7 316,525.7 316.5,523.5 317,523.4 317.5,524.8 318,524.6 318.5,525.4 319,525.7 319.5,525.6 320,525.1 320.5,525.4 321,525.4 321.5,525.1 322,525.1 322.5,525.1 323,524.6 323.5,526.6 324,524.6 324.5,524.2 325,524.9 325.5,524.8 326,525.2 326.5,525.5 327,525.5 327.5,525.6 328,524.6 328.5,524.3 329,525.4 329.5,525.6 330,524.2 330.5,523.7 331,522.6 331.5,525.1 332,525.2 332.5,525.5 333,525.6 333.5,525.4 334,524.7 334.5,526 335,526.7 335.5,526.1 336,525.6 336.5,524.2 337,525.2 337.5,525.1 338,522.8 338.5,524.5 339,524 339.5,524.7 340,524.7 340.5,525.4 341,524.5 341.5,525.1 342,524.4 342.5,525.2 343,523.9 343.5,525.8 344,523.6 344.5,522.3 345,524.5 345.5,524.5 346,524.6 346.5,523.2 347,523 347.5,524.5 348,524.4 348.5,523 349,523.2 349.5,522.5 350,524.9 350.5,524.4 351,525 351.5,525 352,523.2 352.5,523.4 353,525.1 353.5,524.5 354,525.5 354.5,524.9 355,528.1 355.5,527.5 356,526 356.5,527 357,525.1 357.5,524.7 358,524.6 358.5,525.2 359,524.9 359.5,524.7 360,525.3 360.5,525 361,525.4 361.5,526 362,526.8 362.5,526.6 363,525.5 363.5,525.5 364,523.3 364.5,524.9 365,525.8 365.5,524.9 366,526.8 366.5,524.8 367,524.2 367.5,524.5 368,525.1 368.5,525.3 369,525.2 369.5,525.5 370,526.7 370.5,526.2 371,525.2 371.5,525 372,524.7 372.5,525.2 373,525 373.5,524.7 374,524.9 374.5,525.7 375,525.6 375.5,525.1 376,525 376.5,524.3 377,525.7 377.5,525.4 378,525.2 378.5,523.9 379,524.8 379.5,524.8 380,525.1 380.5,524.6 381,524.7 381.5,525.1 382,524.4 382.5,524.5 383,524.9 383.5,525.4 384,525.1 384.5,525.2 385,524.8 385.5,525.5 386,524 386.5,525.7 387,525.7 387.5,524.9 388,525.1 388.5,524.8 389,527 389.5,524.6 390,524.8 390.5,525.1 391,525 391.5,525.7 392,524.9 392.5,528 393,529.2 393.5,527.8 394,528 394.5,528.2 395,528.2 395.5,529.6 396,527.5 396.5,527.1 397,527.9 397.5,528.2 398,525.8 398.5,526.7 399,526.6 399.5,527.1 400,526.5 400.5,526.8 401,525 401.5,525.9 402,525.2 402.5,526.7 403,527.3 403.5,526.6 404,527.4 404.5,526.6 405,526.7 405.5,527.2 406,527.9 406.5,528 407,526.6 407.5,526.8 408,525.7 408.5,526 409,526.1 409.5,527.1 410,526.8 410.5,526.1 411,526.4 411.5,526.7 412,526.9 412.5,527.3 413,527 413.5,527.3 414,525.3 414.5,525" fill="none" stroke-width="1.8"/>
<polyline points="87,524.4 87.5,524.1 88,524.2 88.5,524.8 89,523.1 89.5,524.1 90,524.4 90.5,524.4 91,525.5 91.5,524.3 92,524.9 92.5,525.2 93,527.1 93.5,526.5 94,523.9 94.5,524.7 95,525.2 95.5,524.6 96,524.9 96.5,525.6 97,524.7 97.5,523.8 98,524.3 98.5,524.9 99,524.1 99.5,524.9 100,524.2 100.5,524.4 101,524.2 101.5,524.4 102,524.5 102.5,525.6 103,526.1 103.5,525.7 104,524.2 104.5,524 105,522.5 105.5,522.6 106,524.7 106.5,523.9 107,523 107.5,523.8 108,524.3 108.5,524.6 109,524.8 109.5,524.5 110,524.8 110.5,524.3 111,524.2 111.5,524.7 112,524.7 112.5,524 113,524.4 113.5,524 114,523.2 114.5,524.3 115,523.5 115.5,524.2 116,523.5 116.5,523.8 117,523.9 117.5,524.7 118,523.9 118.5,523.6 119,524.2 119.5,523.9 120,524.4 120.5,523.6 121,524.1 121.5,525.2 122,524 122.5,524.2 123,523.4 123.5,523.7 124,524.3 124.5,524 125,524.5 125.5,522.2 126,521.4 126.5,522.4 127,523.7 127.5,525.8 128,526.2 128.5,525 129,523.8 129.5,524.3 130,522.5 130.5,522.7 131,524.8 131.5,524.1 132,524.7 132.5,524.8 133,525 133.5,524.5 134,524.4 134.5,524.1 135,523.6 135.5,524.1 136,524.3 136.5,524.1 137,524.5 137.5,523.6 138,524.1 138.5,525.1 139,524.7 139.5,524.5 140,524.4 140.5,524.1 141,525.8 141.5,524.5 142,525.4 142.5,526.4 143,524.2 143.5,522.4 144,523.6 144.5,525.2 145,524.8 145.5,524 146,523.5 146.5,524.6 147,525.1 147.5,524.4 148,524.8 148.5,524.1 149,524.4 149.5,524.6 150,523.9 150.5,524.3 151,524 151.5,522.9 152,522.1 152.5,524.5 153,523.7 153.5,523.8 154,523.9 154.5,524.3 155,524.5 155.5,524.5 156,521.4 156.5,522.1 157,521.8 157.5,524.6 158,524.2 158.5,524.2 159,521.8 159.5,525.1 160,523.7 160.5,524.1 161,522.3 161.5,522.2 162,521.9 162.5,523.5 163,523.9 163.5,523.8 164,524.9 164.5,525.1 165,524.1 165.5,524.8 166,525.8 166.5,523.7 167,523.9 167.5,523.8 168,523.9 168.5,524 169,523.5 169.5,523.9 170,524.6 170.5,524.1 171,524.2 171.5,523.1 172,524.5 172.5,523.8 173,524.6 173.5,524.2 174,523.8 174.5,523.3 175,525 175.5,524.4 176,524.4 176.5,524.9 177,524.1 177.5,524.6 178,523.8 178.5,524.4 179,523.7 179.5,521.8 180,522.1 180.5,523.4 181,524.1 181.5,523.8 182,523.1 182.5,523.8 183,523.8 183.5,524.4 184,524.1 184.5,524.6 185,524.2 185.5,523.8 186,523.9 186.5,523.8 187,524.2 187.5,524 188,523.7 188.5,524 189,524.2 189.5,523.5 190,524.1 190.5,523.3 191,524.5 191.5,524.2 192,524.7 192.5,523.5 193,524.5 193.5,524.4 194,523.9 194.5,523.8 195,523.5 195.5,523.4 196,521.6 196.5,521.4 197,524.8 197.5,523.3 198,522.6 198.5,522.7 199,522.7 199.5,524.2 200,526.3 200.5,523.8 201,524 201.5,523.8 202,526.9 202.5,527.3 203,525.7 203.5,523 204,522.3 204.5,522.5 205,522.9 205.5,524.4 206,524.7 206.5,526.7 207,526.7 207.5,526.4 208,523.4 208.5,524 209,524.2 209.5,521.9 210,521.9 210.5,522.7 211,523.7 211.5,524.5 212,524.2 212.5,523.7 213,523.6 213.5,523.3 214,524.3 214.5,524.1 215,523.7 215.5,523.2 216,524.3 216.5,524.1 217,523.8 217.5,523.7 218,524.1 218.5,522.2 219,521.8 219.5,521.4 220,524.1 220.5,524.5 221,524.1 221.5,522.3 222,522.2 222.5,523.7 223,525.6 223.5,525.3 224,524.8 224.5,524.4 225,524.3 225.5,526.1 226,526.1 226.5,523.8 227,524 227.5,524 228,525.4 228.5,524.7 229,524.2 229.5,524.7 230,524.7 230.5,523.5 231,524 231.5,524.1 232,524.4 232.5,524 233,524.1 233.5,523.9 234,524.6 234.5,521.6 235,523.9 235.5,523.2 236,523.5 236.5,524.1 237,522.1 237.5,523.8 238,524.5 238.5,524.6 239,524 239.5,526.4 240,526.1 240.5,526.6 241,523.4 241.5,524.8 242,524.5 242.5,523.4 243,523.5 243.5,522.7 244,522.4 244.5,524.2 245,523.8 245.5,524.7 246,524 246.5,525 247,526.5 247.5,525.6 248,527.1 248.5,524.4 249,524.1 249.5,524.3 250,523.5 250.5,523.2 251,524 251.5,522.4 252,521.9 252.5,524.7 253,522.3 253.5,521.8 254,522.2 254.5,524.6 255,523.8 255.5,523.8 256,523.9 256.5,522.9 257,524.1 257.5,524.2 258,522 258.5,524.1 259,523.9 259.5,523 260,524.7 260.5,523.8 261,523.7 261.5,524.6 262,524.5 262.5,524.1 263,524.3 263.5,523.4 264,523.9 264.5,524.5 265,523.7 265.5,523.6 266,524.1 266.5,524.1 267,524.4 267.5,523.5 268,521.1 268.5,522.7 269,523.5 269.5,523.7 270,523 270.5,524.5 271,524.1 271.5,526.3 272,524.1 272.5,523 273,523.5 273.5,523.8 274,523.6 274.5,523.8 275,524 275.5,524.4 276,523.2 276.5,523.9 277,524.2 277.5,523.5 278,523.8 278.5,524.1 279,523.9 279.5,524.1 280,523.9 280.5,523.7 281,523.4 281.5,524 282,523.9 282.5,523.5 283,524.2 283.5,524.5 284,523.6 284.5,523.6 285,523.6 285.5,523.2 286,524.8 286.5,523.7 287,523.5 287.5,523.4 288,523.8 288.5,523.6 289,524.6 289.5,523.4 290,523.2 290.5,524.2 291,523.9 291.5,526.2 292,524.2 292.5,524.1 293,524 293.5,523.4 294,523.3 294.5,523.7 295,525.5 295.5,526.1 296,523.3 296.5,522.6 297,522.7 297.5,524.1 298,524.3 298.5,524 299,523.9 299.5,526.5 300,525.8 300.5,524.8 301,524.1 301.5,524.1 302,524.1 302.5,524.3 303,524 303.5,524.3 304,525 304.5,524.7 305,527 305.5,523.7 306,523.7 306.5,524.4 307,524.7 307.5,524.1 308,524.1 308.5,525 309,524.7 309.5,526.6 310,525.9 310.5,524.1 311,524.7 311.5,524.2 312,524.1 312.5,523.9 313,524 313.5,524.7 314,523.6 314.5,524.5 315,524 315.5,522.4 316,522.4 316.5,522.4 317,524.1 317.5,524.1 318,523.9 318.5,524.8 319,524.3 319.5,524.2 320,524 320.5,524.1 321,524 321.5,524.6 322,523.9 322.5,523.2 323,524.2 323.5,524.1 324,524 324.5,524.6 325,523 325.5,524.9 326,524.7 326.5,523.9 327,524 327.5,524.4 328,524.4 328.5,523.9 329,523.5 329.5,525.1 330,524.6 330.5,524.3 331,524.2 331.5,522.6 332,522.6 332.5,523.2 333,524 333.5,523.8 334,525.9 334.5,526.4 335,523.2 335.5,523.4 336,523.7 336.5,524.1 337,524.4 337.5,524.7 338,523.9 338.5,525.8 339,525.7 339.5,524.2 340,524 340.5,523.9 341,523.6 341.5,521.5 342,524.2 342.5,523.9 343,525.8 343.5,524.3 344,523.9 344.5,523.6 345,523.9 345.5,524.4 346,523.5 346.5,524.1 347,524 347.5,523.7 348,523.9 348.5,523.3 349,524.1 349.5,523.4 350,524.5 350.5,522.5 351,522.3 351.5,524.5 352,523.6 352.5,523.7 353,523.3 353.5,524.6 354,524.9 354.5,523.3 355,523.7 355.5,524.1 356,523.8 356.5,524.1 357,524 357.5,524.2 358,523.6 358.5,524 359,523.5 359.5,523.8 360,525.3 360.5,523.8 361,523.7 361.5,524.4 362,524 362.5,524 363,524 363.5,523.1 364,523.1 364.5,523.9 365,524.2 365.5,524 366,523.7 366.5,524 367,523.9 367.5,524.4 368,524.3 368.5,523.7 369,524 369.5,524 370,524.2 370.5,524.7 371,524 371.5,524.5 372,525.3 372.5,525.6 373,524.9 373.5,524.2 374,526.6 374.5,525.1 375,524.2 375.5,524.4 376,524.4 376.5,523.6 377,524.6 377.5,522.1 378,522.4 378.5,522.1 379,524.4 379.5,524.7 380,524.1 380.5,524.3 381,524.7 381.5,524.1 382,523.6 382.5,526.4 383,524.8 383.5,524.7 384,524.4 384.5,521.3 385,522 385.5,522 386,524.1 386.5,524.8 387,523.6 387.5,525 388,523.8 388.5,523.7 389,524.4 389.5,524.4 390,524.3 390.5,522.2 391,522.8 391.5,523.6 392,523.7 392.5,527.3 393,526.9 393.5,527.6 394,526.8 394.5,526.8 395,526.4 395.5,527.2 396,525.2 396.5,525.9 397,525.8 397.5,526.3 398,526.5 398.5,526.2 399,526.6 399.5,526.3 400,526.1 400.5,526.3 401,525.5 401.5,526.1 402,526.4 402.5,526.2 403,526.5 403.5,525.9 404,525.8 404.5,525.5 405,525.9 405.5,528.8 406,528 406.5,527.6 407,525.5 407.5,525.2 408,525.5 408.5,526.2 409,525.7 409.5,525.4 410,525.4 410.5,527.5 411,527.2 411.5,525.4 412,525.6 412.5,526.7 413,526.2 413.5,526.4 414,524.9 414.5,524.3" fill="none" stroke-width="1.8"/>
<polyline points="87,523.1 87.5,524.3 88,523.4 88.5,524.3 89,523.2 89.5,524.1 90,524.7 90.5,525 91,522.8 91.5,523.5 92,522.8 92.5,523.4 93,522.6 93.5,523.2 94,523.7 94.5,523.4 95,520.8 95.5,520.5 96,523.5 96.5,523.9 97,522.8 97.5,524.2 98,523.3 98.5,522.4 99,522.6 99.5,525.3 100,525 100.5,525.6 101,522.8 101.5,523.4 102,523.3 102.5,523.2 103,523.1 103.5,523.1 104,523.4 104.5,523.5 105,523.5 105.5,523.9 106,522.8 106.5,522.6 107,525.3 107.5,524.4 108,524.6 108.5,523.1 109,523.1 109.5,520.7 110,521.1 110.5,523.6 111,523.4 111.5,523.6 112,523.2 112.5,522.1 113,523.3 113.5,523.8 114,525 114.5,525.2 115,523.3 115.5,524.1 116,523.2 116.5,523.9 117,522.8 117.5,523.6 118,523.5 118.5,523.4 119,524.2 119.5,523.6 120,524.4 120.5,523.5 121,521.6 121.5,521.6 122,521.9 122.5,522.5 123,523.2 123.5,523.2 124,523.6 124.5,524.3 125,523.5 125.5,524 126,523 126.5,523.5 127,523.5 127.5,524.1 128,523.8 128.5,523.9 129,523.4 129.5,523.9 130,523 130.5,523.8 131,523.2 131.5,522.7 132,523.6 132.5,524 133,523.2 133.5,524 134,522.6 134.5,522.8 135,523.2 135.5,523.1 136,521.6 136.5,521.9 137,521.6 137.5,523 138,523.3 138.5,522.9 139,523.1 139.5,525.3 140,522.7 140.5,523.6 141,524 141.5,523.7 142,523.3 142.5,522.9 143,523.1 143.5,525.2 144,523.7 144.5,523 145,523.5 145.5,522.7 146,522 146.5,523.4 147,522.5 147.5,523.3 148,523 148.5,523.4 149,523.5 149.5,521.1 150,521 150.5,521.1 151,522.7 151.5,523.3 152,523 152.5,523.8 153,523.6 153.5,523.6 154,524 154.5,523.2 155,523 155.5,521.9 156,521.3 156.5,521.3 157,523.5 157.5,522.6 158,520.8 158.5,523.1 159,522.9 159.5,523.5 160,523.1 160.5,522.7 161,523.5 161.5,523.5 162,522.5 162.5,523.3 163,522.9 163.5,522.9 164,524 164.5,523.2 165,523.1 165.5,523.2 166,523.6 166.5,522.9 167,520.7 167.5,521.3 168,522.6 168.5,523.7 169,522.6 169.5,523.2 170,522.6 170.5,522.8 171,523.8 171.5,523.7 172,525.7 172.5,524.5 173,524.7 173.5,523.4 174,523.6 174.5,522.9 175,523 175.5,522.7 176,524 176.5,523 177,523.3 177.5,523.3 178,523.7 178.5,521.3 179,522.3 179.5,522.8 180,523.9 180.5,522.6 181,524.5 181.5,525.3 182,523.6 182.5,522.3 183,521.6 183.5,523 184,524 184.5,523.6 185,523.8 185.5,523.4 186,523.3 186.5,525.6 187,525.3 187.5,525.1 188,522.8 188.5,522.1 189,523.7 189.5,521.6 190,522.5 190.5,523.6 191,523.6 191.5,525.3 192,525.2 192.5,523.6 193,523.4 193.5,524.4 194,523.2 194.5,523.9 195,523.5 195.5,525.9 196,526.3 196.5,525.5 197,523.7 197.5,523.6 198,523.2 198.5,524 199,523.8 199.5,523.2 200,523.9 200.5,523.1 201,523.5 201.5,523.3 202,523.8 202.5,521.7 203,523.8 203.5,523.7 204,523.2 204.5,524.2 205,523.1 205.5,522.8 206,523.8 206.5,522.5 207,524.1 207.5,523.5 208,522.9 208.5,523.1 209,522.7 209.5,523.6 210,522.9 210.5,523.7 211,523.4 211.5,523.3 212,523.7 212.5,522.2 213,522.4 213.5,521.6 214,523.4 214.5,523.1 215,523.5 215.5,523.1 216,523.2 216.5,523.2 217,523.6 217.5,523.5 218,523.7 218.5,523.5 219,523.2 219.5,523.5 220,525.4 220.5,526 221,523.3 221.5,521.8 222,523.5 222.5,524.1 223,523.5 223.5,523.4 224,523.1 224.5,525.9 225,525.5 225.5,524.9 226,523.3 226.5,523.5 227,523 227.5,525 228,523.4 228.5,523.4 229,524 229.5,522.8 230,524.4 230.5,523.4 231,523.7 231.5,525.5 232,524.7 232.5,523 233,523.3 233.5,524 234,522.9 234.5,523.1 235,525.9 235.5,523.7 236,523.7 236.5,523.1 237,522.8 237.5,523.8 238,524.2 238.5,523.4 239,523 239.5,525 240,525.3 240.5,525.1 241,524.2 241.5,523.9 242,523.6 242.5,522.6 243,523.2 243.5,523.2 244,523.2 244.5,523.6 245,523.6 245.5,522.7 246,525.7 246.5,525.4 247,525.5 247.5,523.7 248,523 248.5,524 249,523.3 249.5,524.2 250,523.1 250.5,524.2 251,523.1 251.5,524.7 252,524.6 252.5,525.5 253,523.4 253.5,523.9 254,523.5 254.5,523.1 255,522.3 255.5,524.7 256,523.6 256.5,522.3 257,523.7 257.5,521.6 258,521 258.5,523.3 259,523.5 259.5,524.1 260,523.6 260.5,524.2 261,524.1 261.5,523.5 262,522.9 262.5,523.4 263,523.8 263.5,522.3 264,522.5 264.5,522.7 265,523.8 265.5,523.4 266,523.7 266.5,524.5 267,522.8 267.5,523.6 268,524.2 268.5,522.8 269,523.8 269.5,521.6 270,522.7 270.5,523.7 271,523.2 271.5,523.3 272,523.2 272.5,523.9 273,523.3 273.5,521.1 274,521.1 274.5,523.2 275,522.9 275.5,523.1 276,523.4 276.5,523.6 277,524 277.5,523.5 278,523.2 278.5,520.8 279,521.4 279.5,521.2 280,523.4 280.5,523.5 281,523.6 281.5,523.5 282,523.3 282.5,523 283,523.1 283.5,523.7 284,523.1 284.5,522.8 285,523.9 285.5,523 286,523.4 286.5,523.5 287,522.1 287.5,521 288,523.5 288.5,523.9 289,523.7 289.5,522.3 290,524.3 290.5,522.8 291,520.5 291.5,521.3 292,523.5 292.5,523.3 293,523 293.5,523.9 294,523.3 294.5,522.6 295,525 295.5,524.6 296,523.8 296.5,523.5 297,522.4 297.5,523.1 298,523.3 298.5,523.6 299,523.1 299.5,523.7 300,522 300.5,525.1 301,525.1 301.5,523.3 302,523 302.5,523.8 303,523.2 303.5,523.5 304,524.8 304.5,525 305,525.4 305.5,523.5 306,523.8 306.5,521.6 307,521.3 307.5,523.2 308,524.7 308.5,523.6 309,523.4 309.5,523 310,523.2 310.5,522.6 311,523.1 311.5,525.2 312,526 312.5,523.9 313,522.8 313.5,523.4 314,523.4 314.5,521.4 315,523.1 315.5,523.1 316,525.9 316.5,524.9 317,525.2 317.5,522.1 318,523.5 318.5,523.7 319,522.7 319.5,524.8 320,525.1 320.5,524.9 321,523.3 321.5,523 322,523.9 322.5,524.3 323,525.8 323.5,523.7 324,522 324.5,521.1 325,523.6 325.5,521.8 326,520.6 326.5,520.9 327,523.3 327.5,523.1 328,521.2 328.5,521.9 329,522.8 329.5,523 330,522.8 330.5,523.4 331,520.1 331.5,520.6 332,522.3 332.5,522.9 333,523.3 333.5,523.3 334,522.6 334.5,521.3 335,521 335.5,523.6 336,522.9 336.5,521.6 337,523.4 337.5,522.8 338,522.8 338.5,523.1 339,522.3 339.5,523 340,523.2 340.5,523.1 341,522.7 341.5,521.6 342,522.5 342.5,522.7 343,522.9 343.5,523.1 344,522.8 344.5,523.5 345,523.1 345.5,523 346,523 346.5,523.3 347,523.1 347.5,522.2 348,523.6 348.5,523.1 349,523.4 349.5,522.9 350,520.9 350.5,520.6 351,522.6 351.5,523.4 352,523.8 352.5,523.3 353,522.7 353.5,522.8 354,523.7 354.5,522.5 355,524 355.5,523.9 356,524 356.5,523.3 357,523 357.5,523.3 358,523.5 358.5,522.8 359,522.6 359.5,523 360,522.7 360.5,525.5 361,524.6 361.5,523.2 362,523.6 362.5,523.7 363,523.3 363.5,523.4 364,522.7 364.5,523.7 365,523.8 365.5,522.3 366,523.9 366.5,522.8 367,523.4 367.5,523.2 368,523.2 368.5,523.1 369,522.8 369.5,523.4 370,523.1 370.5,522.6 371,522.8 371.5,520.7 372,521.1 372.5,521.5 373,522.9 373.5,521.5 374,523.1 374.5,524.3 375,523.2 375.5,521.5 376,520.2 376.5,523.9 377,523.6 377.5,523.1 378,523.7 378.5,523 379,523.2 379.5,522.9 380,523.6 380.5,522.9 381,523.2 381.5,523.5 382,523.7 382.5,522.9 383,523.6 383.5,522.8 384,522.3 384.5,522.9 385,523.6 385.5,523.2 386,523 386.5,523.2 387,523.2 387.5,524.8 388,523.8 388.5,523.1 389,523.3 389.5,522.6 390,522.7 390.5,523.1 391,523.3 391.5,523.3 392,523 392.5,525.9 393,525.9 393.5,526.1 394,526.5 394.5,524.8 395,526 395.5,525.6 396,525.8 396.5,526.1 397,525.2 397.5,525.9 398,524.8 398.5,525.4 399,525.2 399.5,525.3 400,524.9 400.5,525.5 401,526 401.5,524.9 402,525.4 402.5,525.7 403,526.7 403.5,527.4 404,525 404.5,525.1 405,524.8 405.5,525.2 406,525.1 406.5,525.4 407,524.8 407.5,524.7 408,525.3 408.5,525.7 409,525.3 409.5,525.8 410,525.3 410.5,525.2 411,525.2 411.5,525.6 412,525.4 412.5,524.4 413,525.2 413.5,524.9 414,524.7 414.5,524" fill="none" stroke-width="1.8"/>
<polyline points="87,525.2 87.5,524 88,524.7 88.5,525.1 89,524.8 89.5,524.5 90,524.9 90.5,525.2 91,524.7 91.5,523.7 92,525.3 92.5,524.9 93,523.1 93.5,522.2 94,523 94.5,524.4 95,524.2 95.5,524.6 96,524.4 96.5,524.5 97,525.1 97.5,523.5 98,524.5 98.5,524.5 99,522.6 99.5,524.6 100,525 100.5,524.2 101,525.4 101.5,525 102,523.4 102.5,524.7 103,525.1 103.5,523 104,522.7 104.5,522.8 105,524.6 105.5,524.9 106,526.1 106.5,526.4 107,527.5 107.5,524.6 108,525.2 108.5,525.8 109,524.3 109.5,523.9 110,524.4 110.5,525.1 111,525.1 111.5,523.2 112,524.5 112.5,524.7 113,524.2 113.5,523.3 114,524.5 114.5,524 115,524.8 115.5,523.7 116,524.2 116.5,524.7 117,524.7 117.5,524.5 118,527.1 118.5,526.9 119,524.2 119.5,524 120,525.3 120.5,522.4 121,524.6 121.5,522.6 122,524.3 122.5,524.3 123,525.1 123.5,524.7 124,524.3 124.5,522.8 125,522.9 125.5,523.1 126,524.9 126.5,524.1 127,524.8 127.5,524.5 128,524.5 128.5,524.9 129,524.8 129.5,523.8 130,523.9 130.5,526.6 131,526.9 131.5,525 132,524.5 132.5,525.2 133,524.1 133.5,524.2 134,524.3 134.5,524 135,525 135.5,523.2 136,524.3 136.5,525 137,524.3 137.5,524.9 138,527.3 138.5,524.5 139,525 139.5,523.3 140,522.3 140.5,524.4 141,524.9 141.5,525 142,524.4 142.5,524.2 143,523.1 143.5,524.3 144,524.9 144.5,524.5 145,525.1 145.5,523.9 146,523.9 146.5,524.7 147,523.8 147.5,524.4 148,525 148.5,523.5 149,526.2 149.5,526.6 150,524.3 150.5,523.9 151,525.4 151.5,523.9 152,524.3 152.5,524.1 153,522.2 153.5,522.6 154,523.1 154.5,524.4 155,524.9 155.5,525.1 156,524.1 156.5,523 157,522.7 157.5,522.2 158,524.5 158.5,523.9 159,524.6 159.5,523.7 160,524.4 160.5,522.1 161,523.1 161.5,524.2 162,524.1 162.5,524.9 163,524.2 163.5,524.4 164,524.2 164.5,524.6 165,524.8 165.5,524.7 166,524.1 166.5,524.9 167,523.9 167.5,524 168,524.3 168.5,524.8 169,526.1 169.5,527 170,526.6 170.5,524.2 171,526.7 171.5,525.9 172,527.3 172.5,524.4 173,524.5 173.5,525.1 174,524.5 174.5,525 175,523.6 175.5,524.3 176,526.9 176.5,527.3 177,527.1 177.5,524.8 178,525 178.5,524.7 179,523.5 179.5,527.3 180,526.3 180.5,526.9 181,524.7 181.5,524.6 182,524.2 182.5,523.8 183,524.2 183.5,525 184,524 184.5,524.3 185,524.8 185.5,524.1 186,524.3 186.5,524.6 187,524.7 187.5,524.1 188,524.6 188.5,524.8 189,524 189.5,526.1 190,525.7 190.5,524.6 191,524.9 191.5,524.5 192,522.8 192.5,524.9 193,526.4 193.5,526.2 194,525.1 194.5,524.8 195,523.9 195.5,524.3 196,524.5 196.5,524.5 197,524.7 197.5,524.2 198,527.3 198.5,526.3 199,526.4 199.5,524.2 200,524 200.5,526.1 201,524.4 201.5,524.4 202,525.1 202.5,524.4 203,524.4 203.5,524.8 204,524.4 204.5,524.7 205,523.9 205.5,523.9 206,524.5 206.5,524.3 207,522.5 207.5,522.9 208,524.5 208.5,524.1 209,524.1 209.5,524.5 210,523.9 210.5,524 211,524.6 211.5,524.4 212,524.1 212.5,523.9 213,523.9 213.5,524.3 214,526.6 214.5,524.6 215,523.8 215.5,524.7 216,524.1 216.5,524.4 217,524.1 217.5,525.3 218,523.9 218.5,524.6 219,525.8 219.5,526.4 220,524.5 220.5,525 221,524.7 221.5,524.1 222,525.7 222.5,524.6 223,524.1 223.5,524.5 224,524.7 224.5,524.7 225,524.6 225.5,524.8 226,524.8 226.5,524 227,525.4 227.5,525.3 228,524.8 228.5,524.4 229,526 229.5,525.8 230,524.4 230.5,524.8 231,526.4 231.5,526.2 232,523.7 232.5,522.6 233,522.2 233.5,524.3 234,524.6 234.5,521.6 235,522.3 235.5,522.4 236,524.4 236.5,523.8 237,524.6 237.5,524.9 238,524.6 238.5,525.8 239,527.2 239.5,524 240,524.8 240.5,524.5 241,525.3 241.5,524.6 242,522.9 242.5,522.9 243,524 243.5,524 244,524.3 244.5,524.8 245,524.5 245.5,524.2 246,522.6 246.5,521.1 247,523.7 247.5,523.2 248,524.8 248.5,524.2 249,523.4 249.5,523 250,523.5 250.5,524.3 251,523 251.5,522.9 252,522.9 252.5,525.1 253,523.6 253.5,524.3 254,524.5 254.5,524.4 255,524.2 255.5,522.3 256,523.2 256.5,524.4 257,525.5 257.5,524.7 258,524.3 258.5,525.9 259,525.7 259.5,525 260,523.9 260.5,523.6 261,523 261.5,523.3 262,523.1 262.5,524.7 263,524.6 263.5,523.7 264,524.5 264.5,525 265,524.5 265.5,523.8 266,524.3 266.5,524.6 267,525.2 267.5,525.5 268,526.6 268.5,524 269,524.7 269.5,524.7 270,524.2 270.5,524.6 271,524.8 271.5,521.8 272,521.3 272.5,522.6 273,524.7 273.5,524.6 274,524 274.5,524.8 275,527.2 275.5,526.2 276,526.3 276.5,523.8 277,523.9 277.5,523.8 278,524.3 278.5,526.2 279,524.4 279.5,523.8 280,524.1 280.5,523.7 281,524.2 281.5,523.4 282,524.2 282.5,524 283,524.2 283.5,523.4 284,524.4 284.5,523.9 285,524.2 285.5,523.2 286,523.5 286.5,522 287,522.7 287.5,524.2 288,524 288.5,523.6 289,523.5 289.5,524.1 290,524.3 290.5,526.1 291,524.7 291.5,523.7 292,524.1 292.5,523.3 293,524.2 293.5,522.7 294,521.5 294.5,524.4 295,524.7 295.5,523.8 296,524.3 296.5,524.8 297,524.3 297.5,524.5 298,523.4 298.5,524.4 299,524.3 299.5,523.5 300,523.8 300.5,524.4 301,524 301.5,524.7 302,524.3 302.5,524.1 303,524.1 303.5,524.3 304,524.5 304.5,524.4 305,524 305.5,524.8 306,522.4 306.5,524.4 307,524.4 307.5,524.6 308,524.8 308.5,525.7 309,526.4 309.5,524.5 310,524.4 310.5,524.1 311,526.6 311.5,526.3 312,527 312.5,524.1 313,524.3 313.5,524.2 314,525.3 314.5,524.4 315,524.3 315.5,523.6 316,524.1 316.5,524.7 317,522.5 317.5,524.2 318,524.3 318.5,525.4 319,525.8 319.5,527.3 320,527.5 320.5,525.4 321,525.6 321.5,524.4 322,526.3 322.5,527.6 323,526.3 323.5,524 324,524 324.5,524.4 325,523.6 325.5,526.1 326,524.2 326.5,523.9 327,524.9 327.5,524.4 328,524.6 328.5,524.6 329,524.3 329.5,524.8 330,522.7 330.5,522.4 331,523.6 331.5,526.4 332,525.6 332.5,524.6 333,524.4 333.5,523.7 334,523 334.5,523 335,523 335.5,524.4 336,524 336.5,524.6 337,524 337.5,523.8 338,524.6 338.5,524.7 339,526 339.5,524.2 340,523.4 340.5,525 341,523.4 341.5,524.5 342,525.2 342.5,524.3 343,524.4 343.5,525.7 344,525.6 344.5,525.2 345,525.1 345.5,525.1 346,525.4 346.5,525 347,522.2 347.5,524.4 348,524.7 348.5,524.6 349,524.7 349.5,524.9 350,524.4 350.5,524 351,524.3 351.5,524.1 352,525.4 352.5,525.5 353,524.4 353.5,523.6 354,524.3 354.5,524.1 355,524.6 355.5,524.6 356,524.9 356.5,524.9 357,524.2 357.5,523.8 358,523.9 358.5,524.4 359,524.3 359.5,522.8 360,522.5 360.5,525 361,523.6 361.5,524 362,523.8 362.5,524.2 363,524.9 363.5,524.2 364,524.4 364.5,524.7 365,524.2 365.5,524.6 366,524.5 366.5,523.9 367,524.2 367.5,526.9 368,527.3 368.5,525 369,525.4 369.5,524.6 370,524.2 370.5,524.4 371,524.4 371.5,524.2 372,524.7 372.5,524.7 373,524 373.5,525 374,523.7 374.5,524.4 375,525 375.5,524.7 376,524.3 376.5,525.4 377,524.3 377.5,523.6 378,526 378.5,523.7 379,524.1 379.5,524.8 380,524.2 380.5,524.7 381,525.9 381.5,526.8 382,525.6 382.5,525 383,524.3 383.5,525.2 384,524.1 384.5,525.4 385,524.1 385.5,523.7 386,524.5 386.5,525.1 387,524.9 387.5,525 388,524.9 388.5,524.2 389,524.9 389.5,524.6 390,524.2 390.5,524.6 391,524.5 391.5,523.9 392,524.2 392.5,526.6 393,526.4 393.5,526.3 394,525.1 394.5,525.9 395,526 395.5,526.6 396,526.5 396.5,526.9 397,526.7 397.5,526.3 398,524.4 398.5,525.4 399,524.3 399.5,525.1 400,525.3 400.5,525.4 401,526.3 401.5,527 402,525 402.5,525.5 403,525.9 403.5,526.6 404,527.4 404.5,528 405,527.7 405.5,527 406,525.9 406.5,525.9 407,525.9 407.5,525.6 408,527.4 408.5,526.5 409,524.9 409.5,525.7 410,526.1 410.5,525.5 411,525.8 411.5,525.3 412,526.3 412.5,526.1 413,525.8 413.5,525.8 414,525 414.5,525" fill="none" stroke-width="1.8"/>
<polyline points="87,523.8 87.5,523.7 88,521.3 88.5,522.5 89,524 89.5,523.8 90,522.8 90.5,524.9 91,524 91.5,523.8 92,523.9 92.5,522.8 93,523.9 93.5,524.1 94,523.4 94.5,523.2 95,522.5 95.5,524.1 96,524.1 96.5,523.9 97,523.7 97.5,523.9 98,524 98.5,524 99,525 99.5,523.4 100,525.3 100.5,523.3 101,524.1 101.5,523.3 102,524 102.5,524.4 103,524 103.5,524.4 104,521.6 104.5,520.8 105,524.2 105.5,524 106,523.7 106.5,523.7 107,524.1 107.5,523.5 108,524 108.5,524.4 109,524.7 109.5,524.4 110,523.9 110.5,523.9 111,521.6 111.5,521.6 112,524.1 112.5,523.6 113,523.9 113.5,523.3 114,524.4 114.5,521.3 115,521.9 115.5,521 116,523.4 116.5,524.4 117,523.4 117.5,523 118,525.2 118.5,524 119,525.3 119.5,524.6 120,523.4 120.5,524 121,524.3 121.5,523.6 122,523.9 122.5,524 123,526.1 123.5,524.6 124,523.3 124.5,523.4 125,524 125.5,525.2 126,523.8 126.5,523.7 127,523.7 127.5,523.7 128,522.3 128.5,521.4 129,523.6 129.5,523.1 130,523.8 130.5,523.6 131,524.2 131.5,523.7 132,523.5 132.5,523.5 133,524.4 133.5,522.9 134,523.4 134.5,523.7 135,523.4 135.5,523.8 136,523.6 136.5,522.3 137,522.3 137.5,522.2 138,523.2 138.5,523.8 139,522.9 139.5,523.4 140,523.9 140.5,524.2 141,524.8 141.5,523.5 142,523.3 142.5,523.9 143,524.5 143.5,524.3 144,523.1 144.5,523.6 145,526 145.5,526.1 146,526 146.5,523.5 147,524 147.5,524.2 148,523.4 148.5,524.4 149,524.3 149.5,523.5 150,524.2 150.5,524.1 151,524.2 151.5,524.5 152,523.9 152.5,524 153,522.7 153.5,524.4 154,524.3 154.5,524.4 155,523.4 155.5,524.2 156,524.2 156.5,522 157,522.7 157.5,523.9 158,521.3 158.5,522.3 159,521.7 159.5,522.9 160,523.9 160.5,521.5 161,522.1 161.5,523.8 162,525.4 162.5,525.2 163,525.5 163.5,523.4 164,522.2 164.5,522 165,524 165.5,523.9 166,523.5 166.5,523.6 167,524.5 167.5,523 168,524.1 168.5,524.4 169,524 169.5,524.7 170,524.2 170.5,523.9 171,523.5 171.5,524 172,524.1 172.5,523.8 173,523.5 173.5,525.7 174,526.4 174.5,523.2 175,523.7 175.5,522.8 176,524.3 176.5,524.5 177,524 177.5,524.8 178,524.5 178.5,524.1 179,523.9 179.5,523.7 180,524.2 180.5,523.9 181,524.3 181.5,524.3 182,523.9 182.5,524.5 183,523.8 183.5,523.9 184,523.5 184.5,523.8 185,524.9 185.5,523.6 186,524.2 186.5,523.8 187,523 187.5,524.3 188,523.8 188.5,524.1 189,524.4 189.5,524.1 190,524.1 190.5,523.6 191,524.3 191.5,523.9 192,523.1 192.5,524.3 193,524.4 193.5,524.6 194,524.9 194.5,524.3 195,521.9 195.5,522.2 196,523.5 196.5,523.2 197,523.6 197.5,524.4 198,523.6 198.5,524 199,524.1 199.5,524 200,523.3 200.5,524 201,523.6 201.5,524.6 202,524.3 202.5,523.6 203,524.6 203.5,523.9 204,523 204.5,523.7 205,524.5 205.5,523.3 206,523.7 206.5,523.1 207,523.1 207.5,523.3 208,523.1 208.5,523.4 209,524.5 209.5,523.7 210,524 210.5,524.1 211,523.1 211.5,523.2 212,523.9 212.5,523.3 213,523.9 213.5,524.4 214,525.1 214.5,525.7 215,525.7 215.5,523.5 216,523.4 216.5,521.3 217,521.6 217.5,523.8 218,524.2 218.5,523.8 219,524.3 219.5,523.5 220,525.4 220.5,525.8 221,526.1 221.5,524.1 222,524.4 222.5,523.8 223,524 223.5,524.3 224,523.4 224.5,523.6 225,525 225.5,524.1 226,524 226.5,524.1 227,525.3 227.5,523.4 228,523.3 228.5,523.9 229,523.6 229.5,523.8 230,523.6 230.5,523 231,524.2 231.5,520.9 232,521.3 232.5,523.1 233,523.4 233.5,523.8 234,524.3 234.5,523.1 235,523.6 235.5,520.8 236,523.6 236.5,523.9 237,524.2 237.5,522.9 238,524.1 238.5,523.5 239,521.5 239.5,522.1 240,524.2 240.5,522.6 241,522.1 241.5,523.9 242,523.6 242.5,524.2 243,524.4 243.5,524.4 244,524 244.5,524.4 245,523.4 245.5,524.7 246,524.9 246.5,524.4 247,524.4 247.5,523.4 248,523.8 248.5,523.2 249,524.8 249.5,524.6 250,524.5 250.5,523.8 251,524.2 251.5,523.7 252,524.3 252.5,523.6 253,524.6 253.5,525.7 254,525.7 254.5,525.6 255,523.9 255.5,523.6 256,524 256.5,523.6 257,524.1 257.5,524.5 258,523.9 258.5,524.8 259,524.3 259.5,524.8 260,523.8 260.5,523.1 261,523.5 261.5,523.6 262,523.5 262.5,522.9 263,525.5 263.5,523 264,524.3 264.5,524.8 265,523.5 265.5,524 266,523.7 266.5,524.2 267,523.2 267.5,522.2 268,522.7 268.5,522.1 269,522.9 269.5,526.5 270,523 270.5,523.6 271,523.9 271.5,523.7 272,524.8 272.5,524 273,523.6 273.5,524 274,523.8 274.5,525.9 275,526 275.5,525.7 276,523.8 276.5,523.5 277,522.9 277.5,524.3 278,523.5 278.5,523.8 279,523.4 279.5,523.4 280,523.3 280.5,524.2 281,524.2 281.5,523.7 282,525.3 282.5,524.7 283,524 283.5,523.3 284,523.1 284.5,521.6 285,521.4 285.5,521 286,523.1 286.5,523.9 287,523.5 287.5,524 288,523.8 288.5,524.2 289,523.3 289.5,523.8 290,524 290.5,523.4 291,526 291.5,524.7 292,523.4 292.5,523 293,523.5 293.5,523.7 294,524.1 294.5,523.7 295,523.5 295.5,523 296,523.1 296.5,523.8 297,522 297.5,521.4 298,524.3 298.5,523.3 299,523.6 299.5,522 300,524.5 300.5,523.9 301,523 301.5,524.3 302,524.6 302.5,523.6 303,523.4 303.5,524.1 304,524.6 304.5,524.1 305,523 305.5,524 306,523.9 306.5,523.2 307,524.2 307.5,523.9 308,525.9 308.5,523.2 309,523.9 309.5,523.3 310,523.8 310.5,524.3 311,523.1 311.5,523.1 312,524.2 312.5,523.7 313,524.3 313.5,524.7 314,525.1 314.5,524.1 315,523.9 315.5,523 316,525.1 316.5,523.9 317,523.2 317.5,522.4 318,522.4 318.5,524.2 319,524.1 319.5,523.6 320,522.9 320.5,523.9 321,523 321.5,524.3 322,523.4 322.5,524 323,523.4 323.5,523.5 324,523.3 324.5,524 325,523.4 325.5,524 326,523.4 326.5,523.6 327,525.7 327.5,523.8 328,523.3 328.5,524 329,523.5 329.5,523.8 330,523.6 330.5,523.8 331,523.4 331.5,523.2 332,523.8 332.5,522.1 333,522.9 333.5,523.6 334,523 334.5,523.4 335,523.2 335.5,524.1 336,524 336.5,522.2 337,522.3 337.5,522.2 338,524.1 338.5,522.5 339,522.6 339.5,523.6 340,523.3 340.5,523.9 341,524.3 341.5,526 342,526.2 342.5,525.6 343,523 343.5,523 344,524.1 344.5,522.6 345,524.1 345.5,523 346,524.2 346.5,523.3 347,523.7 347.5,524.5 348,523.3 348.5,523.3 349,523.2 349.5,523 350,523.4 350.5,523.3 351,522.9 351.5,525.6 352,523.7 352.5,523 353,521.9 353.5,524.1 354,522.9 354.5,524.3 355,523.2 355.5,523.6 356,524.1 356.5,524.2 357,523.7 357.5,523.1 358,523.1 358.5,523.3 359,524.4 359.5,523.4 360,523.7 360.5,523.1 361,523.1 361.5,523.6 362,523.4 362.5,523.5 363,520.9 363.5,523.6 364,524.4 364.5,523.3 365,522.6 365.5,520.6 366,523.3 366.5,522.8 367,524.2 367.5,526.3 368,525.4 368.5,526 369,524.2 369.5,524.3 370,523.5 370.5,522.7 371,523.3 371.5,522.2 372,522.8 372.5,523.7 373,523.4 373.5,524.7 374,523.8 374.5,523.1 375,523.6 375.5,524.1 376,523.7 376.5,524.1 377,523 377.5,523.1 378,521.1 378.5,523.6 379,523.9 379.5,522 380,522.7 380.5,523.3 381,523.6 381.5,521.5 382,524.2 382.5,524.3 383,523.5 383.5,524.6 384,523.4 384.5,521.8 385,524.3 385.5,523.1 386,524 386.5,522.5 387,524.1 387.5,523.3 388,524 388.5,524.1 389,524.2 389.5,524.1 390,523.7 390.5,523.5 391,523.6 391.5,525.5 392,525.9 392.5,525.4 393,525.1 393.5,524.6 394,524.7 394.5,523.8 395,525 395.5,525.3 396,523.9 396.5,525.2 397,525 397.5,524.4 398,524.7 398.5,525.4 399,524.5 399.5,524.9 400,525 400.5,524.5 401,525.3 401.5,525 402,524.8 402.5,526 403,525.4 403.5,524.2 404,524.8 404.5,526 405,524.5 405.5,523.3 406,525.5 406.5,525.3 407,525.3 407.5,525.3 408,524.9 408.5,526.1 409,526.7 409.5,524.8 410,522.7 410.5,523.6 411,522.7 411.5,525.6 412,525 412.5,524.8 413,524 413.5,525.8 414,526.1 414.5,525.1" fill="none" stroke-width="1.8"/>
<polyline points="87,523.6 87.5,523.9 88,523.9 88.5,522.4 89,522.3 89.5,522.9 90,524 90.5,522.9 91,523.3 91.5,521.6 92,523.5 92.5,523.1 93,523.2 93.5,524.1 94,522.8 94.5,523.4 95,522.9 95.5,523.7 96,523 96.5,525.7 97,525 97.5,524 98,521.6 98.5,523.5 99,523.8 99.5,522.8 100,523.1 100.5,523.5 101,522.6 101.5,522.7 102,523 102.5,522.9 103,523.2 103.5,523.6 104,525.6 104.5,524.2 105,523.3 105.5,523.4 106,523.4 106.5,523.5 107,523.6 107.5,523.8 108,523.8 108.5,523.6 109,524.1 109.5,523.4 110,523.2 110.5,524.6 111,524.8 111.5,524.4 112,523.2 112.5,522.9 113,523.6 113.5,523.6 114,522.6 114.5,523 115,524.1 115.5,523.6 116,523.5 116.5,523 117,523.4 117.5,523.3 118,522.9 118.5,523.1 119,523.1 119.5,522.6 120,522.7 120.5,523.3 121,523 121.5,523.2 122,522.7 122.5,523.8 123,524.4 123.5,523.9 124,523.9 124.5,523.6 125,523.5 125.5,524.8 126,523 126.5,523.7 127,523.7 127.5,523.2 128,523.6 128.5,523 129,523.2 129.5,523.8 130,523.6 130.5,523.3 131,523.3 131.5,523.5 132,524.7 132.5,525.1 133,524.9 133.5,523.4 134,523.9 134.5,524.9 135,524.5 135.5,524.4 136,523.1 136.5,524.3 137,523.5 137.5,523.5 138,522.5 138.5,522.9 139,523.5 139.5,523.3 140,523.5 140.5,523.6 141,523.8 141.5,522.7 142,523 142.5,523.5 143,523.3 143.5,523.5 144,523.7 144.5,523.3 145,523.7 145.5,523.8 146,523.6 146.5,525.7 147,524.4 147.5,525.1 148,524 148.5,523.2 149,523.1 149.5,523.5 150,523.6 150.5,523.4 151,524.5 151.5,523.8 152,523.2 152.5,523 153,525.1 153.5,524.5 154,525.9 154.5,523.8 155,523.9 155.5,523.8 156,524.1 156.5,522.6 157,523.1 157.5,524.1 158,524.3 158.5,523.2 159,522.9 159.5,523.8 160,523.9 160.5,523.7 161,523.6 161.5,522.8 162,523.5 162.5,523.6 163,523.5 163.5,522.9 164,524.1 164.5,524.2 165,523.4 165.5,523.7 166,523.6 166.5,523.6 167,524.1 167.5,524.1 168,524.3 168.5,523 169,523.7 169.5,523.2 170,522.6 170.5,521.6 171,523.7 171.5,524.6 172,525.5 172.5,524.4 173,524.8 173.5,523.5 174,523.7 174.5,523.9 175,524.5 175.5,523.2 176,524.8 176.5,523.5 177,523.2 177.5,523.6 178,523.4 178.5,523.9 179,523 179.5,523.8 180,524.1 180.5,524.4 181,524.1 181.5,522.8 182,523.4 182.5,523.8 183,522.6 183.5,523.6 184,522.2 184.5,522.2 185,521.3 185.5,523.4 186,523.5 186.5,521.4 187,521.9 187.5,521.4 188,523.5 188.5,523.2 189,523.9 189.5,523.9 190,523.3 190.5,524.7 191,520.8 191.5,523.9 192,523 192.5,523.8 193,523.6 193.5,522.8 194,523.3 194.5,524.2 195,523 195.5,523.5 196,523.4 196.5,523.2 197,524.8 197.5,526 198,525.6 198.5,523.8 199,523.4 199.5,525.5 200,523.5 200.5,522.9 201,524.1 201.5,523.2 202,525.6 202.5,526.3 203,525.8 203.5,523.2 204,521.6 204.5,523.6 205,525.3 205.5,525.8 206,522.7 206.5,523.4 207,523.6 207.5,521.4 208,522.3 208.5,521.3 209,522.7 209.5,523.8 210,523 210.5,523.8 211,522.7 211.5,523.4 212,524.9 212.5,526.2 213,525.4 213.5,523.8 214,524.2 214.5,525.6 215,523.2 215.5,523.2 216,523.5 216.5,522.1 217,523.4 217.5,523.4 218,523.3 218.5,522.6 219,523.3 219.5,522.7 220,524.2 220.5,523.3 221,522.4 221.5,523.3 222,523.8 222.5,523.5 223,523.1 223.5,523.1 224,523.2 224.5,523.2 225,522.7 225.5,523.3 226,522.7 226.5,523.7 227,523.7 227.5,522.8 228,523 228.5,523.1 229,523.3 229.5,523.4 230,523.5 230.5,523.5 231,524.1 231.5,523.4 232,522.8 232.5,520.5 233,522 233.5,521.4 234,523.5 234.5,523.6 235,523.5 235.5,521.4 236,523.2 236.5,523.8 237,523.1 237.5,524.4 238,522.6 238.5,523.3 239,524 239.5,523.2 240,522.8 240.5,523.5 241,523 241.5,524 242,526 242.5,522.7 243,523.2 243.5,523 244,522.8 244.5,523.3 245,523.7 245.5,521.9 246,521.7 246.5,520.9 247,523 247.5,523.6 248,522.7 248.5,523.9 249,523 249.5,523.3 250,523.1 250.5,522.7 251,523.4 251.5,522.9 252,524.8 252.5,522.1 253,523.7 253.5,523.2 254,523.7 254.5,523.5 255,526.1 255.5,525.3 256,522.7 256.5,523.6 257,523.4 257.5,523.1 258,523.6 258.5,523.4 259,523.6 259.5,522.8 260,523.7 260.5,523.2 261,524.9 261.5,524.8 262,523.5 262.5,523.1 263,523.5 263.5,523.7 264,523.5 264.5,521.2 265,523.5 265.5,523 266,523.9 266.5,522.5 267,523.3 267.5,523.1 268,523 268.5,523.4 269,522.8 269.5,524.3 270,522.8 270.5,522.9 271,522.9 271.5,523.4 272,523.8 272.5,523.6 273,524 273.5,524.4 274,523.6 274.5,524.6 275,524.8 275.5,525.1 276,522.5 276.5,524.2 277,523.2 277.5,522.6 278,523 278.5,523.4 279,523.1 279.5,522.5 280,523.5 280.5,523.2 281,525.7 281.5,523 282,524.6 282.5,523.8 283,523.7 283.5,525.7 284,524.6 284.5,523.4 285,524.4 285.5,523.5 286,525.7 286.5,523.4 287,526.1 287.5,523.5 288,523.1 288.5,524.8 289,523 289.5,521.3 290,521 290.5,521.1 291,523.2 291.5,523.5 292,524.3 292.5,522.9 293,524.4 293.5,521.9 294,521.6 294.5,523.9 295,523.9 295.5,522.3 296,520.9 296.5,522 297,523.5 297.5,524.1 298,523.4 298.5,524 299,523 299.5,524.4 300,523.6 300.5,524.3 301,523.9 301.5,521.8 302,522 302.5,521.4 303,523.9 303.5,523.4 304,523.5 304.5,523.6 305,523.5 305.5,523.7 306,523.6 306.5,523.4 307,523.7 307.5,522.2 308,521.7 308.5,522.4 309,523.4 309.5,523.8 310,521.6 310.5,522.4 311,522.3 311.5,523.2 312,523.9 312.5,524.2 313,523.2 313.5,523.2 314,522.4 314.5,521.5 315,521.7 315.5,523.2 316,524 316.5,523.3 317,523.6 317.5,523.3 318,524.2 318.5,523.3 319,523.1 319.5,523 320,523.9 320.5,524 321,524.2 321.5,523.1 322,523.5 322.5,524.7 323,523.5 323.5,521.6 324,521.9 324.5,523.8 325,523.8 325.5,523.2 326,523.3 326.5,523.4 327,523.2 327.5,523 328,524.4 328.5,525.4 329,525.4 329.5,523.5 330,523.6 330.5,525.7 331,525.4 331.5,524.3 332,524.1 332.5,523.8 333,523.6 333.5,524.3 334,525.8 334.5,523.3 335,524.3 335.5,523.5 336,524.3 336.5,522.8 337,523.7 337.5,524.5 338,524 338.5,525.5 339,524.8 339.5,525.3 340,523.9 340.5,524 341,524.8 341.5,524.5 342,524.3 342.5,524.4 343,522.2 343.5,523.7 344,523.2 344.5,524.6 345,524.8 345.5,525.3 346,523.3 346.5,523.9 347,523.8 347.5,523.4 348,524.5 348.5,523.2 349,524.3 349.5,522.8 350,523.8 350.5,523.2 351,523.5 351.5,524.6 352,523.6 352.5,523.3 353,523.9 353.5,523.6 354,523.8 354.5,521.1 355,523.4 355.5,523.4 356,524.1 356.5,522.3 357,521.9 357.5,523.9 358,521.6 358.5,524.1 359,525.6 359.5,525.8 360,524 360.5,523.3 361,524.1 361.5,523.7 362,523.1 362.5,523.1 363,523.6 363.5,521.4 364,522 364.5,523.5 365,525.7 365.5,525.2 366,523.5 366.5,524.1 367,521.7 367.5,523.3 368,523.1 368.5,523.5 369,524.1 369.5,524.8 370,523.4 370.5,522.7 371,523.3 371.5,523.6 372,522.7 372.5,523.2 373,523.5 373.5,523.5 374,523.6 374.5,523 375,523.6 375.5,523.2 376,525.6 376.5,524.3 377,523.4 377.5,522.2 378,522.7 378.5,522.2 379,523.6 379.5,526 380,526.4 380.5,523.3 381,522.9 381.5,522.9 382,523.9 382.5,523.6 383,523.4 383.5,523.3 384,523.6 384.5,523.6 385,523.7 385.5,523 386,522.8 386.5,523.1 387,522.9 387.5,522.8 388,524.2 388.5,522.4 389,523.7 389.5,523.8 390,523.9 390.5,523.6 391,524.1 391.5,524.3 392,523.4 392.5,524.7 393,525 393.5,524 394,524.3 394.5,524.1 395,524.5 395.5,523.4 396,525 396.5,525.9 397,525.9 397.5,523.1 398,523.7 398.5,523 399,524.1 399.5,523.3 400,524.2 400.5,524.5 401,523 401.5,522.7 402,524.7 402.5,523.9 403,522.3 403.5,522.1 404,524.1 404.5,524 405,524 405.5,524.1 406,523.9 406.5,524.4 407,523.9 407.5,524.8 408,523.8 408.5,524.5 409,523 409.5,522.6 410,524.1 410.5,523.8 411,523.8 411.5,524.1 412,524 412.5,524.6 413,521.9 413.5,521.9 414,521.4 414.5,524.4" fill="none" stroke-width="1.8"/>
<polyline points="87,524.1 87.5,523.5 88,523.3 88.5,524.1 89,525.8 89.5,525.3 90,525.9 90.5,524.3 91,524.6 91.5,525.1 92,525.2 92.5,526 93,523.8 93.5,525.5 94,526.2 94.5,525 95,524.6 95.5,523.9 96,524.1 96.5,521.9 97,523.5 97.5,523.9 98,524.6 98.5,523.7 99,524.8 99.5,523.8 100,523.6 100.5,524.2 101,525.8 101.5,524.2 102,524.2 102.5,523.3 103,524.1 103.5,523.8 104,523.5 104.5,524.5 105,523.8 105.5,523.8 106,526.5 106.5,526.9 107,526.1 107.5,523.8 108,522.1 108.5,521.9 109,523.7 109.5,523.7 110,524.2 110.5,523.8 111,524.5 111.5,523.8 112,523.7 112.5,526.7 113,526.1 113.5,526.1 114,523.9 114.5,526 115,525.5 115.5,524.5 116,523.8 116.5,524.4 117,524.1 117.5,524.3 118,524.4 118.5,523.6 119,524 119.5,525.7 120,525.7 120.5,524.5 121,525.2 121.5,525.8 122,524.8 122.5,523.3 123,521.6 123.5,522.3 124,521.2 124.5,523.4 125,521.8 125.5,524.3 126,523.4 126.5,524.3 127,523.9 127.5,523.7 128,523.5 128.5,524 129,523.5 129.5,523.9 130,524 130.5,524.2 131,524.3 131.5,525.5 132,524.9 132.5,524 133,524.1 133.5,523.7 134,523.7 134.5,523.3 135,521.6 135.5,524 136,524.3 136.5,523.7 137,523.8 137.5,523.6 138,523.9 138.5,524.3 139,523.8 139.5,525.3 140,523.7 140.5,524.5 141,524.1 141.5,523.9 142,524.5 142.5,523.1 143,524.1 143.5,523.5 144,523.6 144.5,523.6 145,521.9 145.5,521.6 146,522.5 146.5,523.7 147,523.6 147.5,524 148,522.3 148.5,522 149,523.5 149.5,524.1 150,524.7 150.5,523.4 151,523.7 151.5,523 152,525.1 152.5,524.9 153,525 153.5,523.3 154,523.5 154.5,520.6 155,521.5 155.5,523.2 156,524 156.5,522.7 157,523.5 157.5,522.7 158,523.4 158.5,521.6 159,521.5 159.5,521.6 160,524.1 160.5,524.7 161,525 161.5,523.3 162,523.7 162.5,523.6 163,524.2 163.5,523.9 164,523.1 164.5,524.3 165,524.2 165.5,524.5 166,523.5 166.5,523.9 167,523.2 167.5,523.7 168,523.9 168.5,523.4 169,523.9 169.5,523.8 170,523.5 170.5,524.4 171,523.6 171.5,523.8 172,523.1 172.5,524 173,523.6 173.5,524.2 174,523.1 174.5,523.9 175,520.7 175.5,521.9 176,523.7 176.5,524 177,523.6 177.5,523.4 178,523.6 178.5,523.9 179,524 179.5,522 180,521.4 180.5,524.6 181,524 181.5,523.6 182,524 182.5,523.9 183,523.7 183.5,523.6 184,524.2 184.5,524.5 185,522.9 185.5,524.3 186,523.8 186.5,523.9 187,524.4 187.5,522.6 188,524.1 188.5,524.3 189,523.4 189.5,523.1 190,524.5 190.5,522.9 191,523.9 191.5,524.2 192,523.9 192.5,521.9 193,521.5 193.5,523.9 194,523.4 194.5,523.5 195,523.8 195.5,523.1 196,524 196.5,522.7 197,526.1 197.5,524 198,523.5 198.5,523.3 199,523.7 199.5,524.1 200,523.9 200.5,523.3 201,523.8 201.5,523.9 202,521.6 202.5,521.1 203,523.8 203.5,524.2 204,524 204.5,522.3 205,524.5 205.5,523.8 206,523.4 206.5,521 207,523.8 207.5,523.1 208,523.6 208.5,523.9 209,524.3 209.5,523 210,523.8 210.5,523.7 211,523.7 211.5,523.6 212,523.6 212.5,524.3 213,524.2 213.5,526.7 214,525.7 214.5,523.5 215,523.2 215.5,523.4 216,524 216.5,524.1 217,524 217.5,523.4 218,521.5 218.5,522.7 219,523.4 219.5,524.4 220,522.6 220.5,522 221,521.9 221.5,523.4 222,523.9 222.5,523.3 223,524.4 223.5,525.3 224,524 224.5,524 225,522.9 225.5,523.5 226,523.7 226.5,523 227,523.8 227.5,524.2 228,523.8 228.5,524.8 229,522.5 229.5,523.5 230,524 230.5,523.1 231,523.4 231.5,523.2 232,523.8 232.5,523.7 233,524.3 233.5,523.7 234,523.3 234.5,524.4 235,522.4 235.5,523.8 236,523.9 236.5,523.8 237,524 237.5,523.8 238,524.1 238.5,523.6 239,523.2 239.5,522.1 240,521.7 240.5,523.6 241,524.5 241.5,524.8 242,524.5 242.5,524.4 243,524 243.5,524.5 244,524.1 244.5,524.9 245,525 245.5,525.8 246,523.4 246.5,524.2 247,525.2 247.5,525.4 248,525.4 248.5,524 249,524 249.5,525 250,523.8 250.5,524.2 251,524 251.5,524.2 252,524 252.5,524.5 253,523.5 253.5,522.8 254,524.1 254.5,523.1 255,524.6 255.5,523.7 256,523.5 256.5,525.2 257,524 257.5,523.9 258,524.3 258.5,526.1 259,526.2 259.5,525.1 260,524.3 260.5,523.9 261,523.6 261.5,524.1 262,523.2 262.5,524.5 263,524 263.5,523.9 264,522.4 264.5,522.4 265,522.9 265.5,523.6 266,523.9 266.5,524 267,523.6 267.5,524.2 268,523.8 268.5,523.4 269,524.3 269.5,522.4 270,521.7 270.5,521.6 271,524 271.5,522.1 272,524.6 272.5,524.1 273,523.1 273.5,524.6 274,524.5 274.5,524.3 275,522.8 275.5,524 276,524.4 276.5,524.2 277,524.1 277.5,524.5 278,526.3 278.5,526.8 279,524.2 279.5,524.1 280,524.5 280.5,524 281,523.6 281.5,524.1 282,524.3 282.5,524.4 283,524.5 283.5,524 284,524 284.5,523.8 285,524.2 285.5,523.3 286,524 286.5,523.3 287,521.3 287.5,524.1 288,524.2 288.5,524.3 289,523.5 289.5,524.2 290,523.7 290.5,523.3 291,524.3 291.5,524.2 292,523.5 292.5,523.7 293,523.6 293.5,523.1 294,524.2 294.5,524.3 295,523.8 295.5,524 296,524 296.5,524.1 297,523.3 297.5,526 298,523.4 298.5,524.2 299,523.5 299.5,523.3 300,523.9 300.5,523.9 301,523.9 301.5,523.5 302,523.9 302.5,524 303,524.4 303.5,524 304,523.7 304.5,523.3 305,523.3 305.5,522.4 306,522.6 306.5,521.8 307,524.1 307.5,523.9 308,524.3 308.5,526 309,524.6 309.5,524.4 310,524.1 310.5,523.7 311,523.7 311.5,524 312,523.8 312.5,523.6 313,523.7 313.5,525.8 314,526.8 314.5,526.2 315,525 315.5,524.1 316,524.2 316.5,523.4 317,522.4 317.5,522.5 318,522.2 318.5,523.7 319,524.1 319.5,524.1 320,523.3 320.5,524.1 321,524.2 321.5,522.2 322,522.1 322.5,524.1 323,522.7 323.5,523.9 324,524.6 324.5,522.7 325,524.3 325.5,524.2 326,523.3 326.5,524.2 327,526.4 327.5,523.5 328,523.6 328.5,523.9 329,524.3 329.5,523.7 330,523.9 330.5,522.1 331,523.9 331.5,524.4 332,526.2 332.5,523.7 333,523.8 333.5,523.5 334,523.3 334.5,524.3 335,524.5 335.5,523 336,526 336.5,526.2 337,525.3 337.5,523.6 338,525.7 338.5,526.8 339,524.6 339.5,523.5 340,523.3 340.5,524.2 341,524.1 341.5,524.3 342,523.3 342.5,525.4 343,523.4 343.5,526.1 344,525.8 344.5,526.6 345,523.9 345.5,523.6 346,523.8 346.5,523.7 347,523.3 347.5,524.6 348,524.4 348.5,523.7 349,524.1 349.5,523.3 350,522.9 350.5,523.7 351,523.8 351.5,523 352,524.1 352.5,524.4 353,524.4 353.5,524.1 354,524 354.5,523.4 355,523.9 355.5,523.4 356,523.9 356.5,523.3 357,523.9 357.5,524.3 358,523.9 358.5,523.9 359,524.1 359.5,523 360,522.1 360.5,522.4 361,524.5 361.5,524.1 362,522.9 362.5,523.5 363,524.2 363.5,523.6 364,524.5 364.5,524.7 365,525.7 365.5,523.4 366,523.8 366.5,523.7 367,524.6 367.5,523.4 368,524.2 368.5,524.4 369,524.2 369.5,524 370,525.7 370.5,524.7 371,521.4 371.5,524.4 372,523.9 372.5,523.1 373,523.8 373.5,523.8 374,523.9 374.5,523.6 375,524.2 375.5,524.2 376,523.8 376.5,523.8 377,523.5 377.5,524.1 378,524.6 378.5,524.6 379,523.6 379.5,524.7 380,523.6 380.5,523.3 381,520.8 381.5,521 382,524 382.5,523.8 383,523.6 383.5,523.5 384,523.4 384.5,523.5 385,524.4 385.5,524.8 386,524.9 386.5,524.3 387,523.8 387.5,523.7 388,524.4 388.5,523.9 389,525.4 389.5,526.1 390,524.1 390.5,525 391,523.5 391.5,524.2 392,524.1 392.5,523.5 393,524.3 393.5,524.7 394,526.4 394.5,525.6 395,524.6 395.5,524.1 396,524.2 396.5,523.8 397,524 397.5,523.7 398,523.9 398.5,524.4 399,524.5 399.5,525.1 400,525.5 400.5,525 401,524.8 401.5,524.4 402,523.1 402.5,524 403,523.9 403.5,523.8 404,524.6 404.5,524.6 405,524.3 405.5,523.8 406,525.7 406.5,524.1 407,522.5 407.5,522.7 408,522.9 408.5,523.4 409,523.7 409.5,524.1 410,526.8 410.5,526.4 411,524.2 411.5,524.4 412,524.1 412.5,523.2 413,524.3 413.5,524.7 414,523.5 414.5,526.1" fill="none" stroke-width="1.8"/>
<polyline points="486,536.1 486.5,535.9 487,536.3 487.5,536.4 488,536.3 488.5,537.2 489,536.1 489.5,536.4 490,536.4 490.5,536.5 491,536.4 491.5,536.5 492,536.7 492.5,537.5 493,537.4 493.5,536.9 494,536.6 494.5,537.7 495,536.4 495.5,536.1 496,536.8 496.5,535.8 497,536.4 497.5,529.6 498,500.2 498.5,463.6 499,435.5 499.5,416 500,401.3 500.5,389 501,378.5 501.5,369.4 502,361.5 502.5,355.2 503,349.5 503.5,344.4 504,340.4 504.5,336.4 505,333.1 505.5,330.8 506,327.2 506.5,326.3 507,324.6 507.5,323.1 508,320.9 508.5,320.2 509,319.1 509.5,318.1 510,316.9 510.5,316.5 511,315.7 511.5,314.6 512,314 512.5,313.5 513,314.3 513.5,312 514,311.5 514.5,311.3 515,310.4 515.5,309.8 516,309.6 516.5,309.5 517,309.4 517.5,308.4 518,308.2 518.5,307.9 519,307.4 519.5,307 520,306.9 520.5,306.2 521,304.8 521.5,305.9 522,305.7 522.5,305 523,305.1 523.5,304.5 524,304.4 524.5,304.5 525,304.1 525.5,304.2 526,305.4 526.5,303.6 527,303.3 527.5,302.9 528,302.3 528.5,302.4 529,302.1 529.5,301.9 530,303.3 530.5,302.6 531,302.6 531.5,301.1 532,301.1 532.5,300.7 533,300.5 533.5,300.6 534,300.2 534.5,300.2 535,301.7 535.5,299.7 536,300.2 536.5,299.4 537,298.9 537.5,299.3 538,298.9 538.5,299 539,298.8 539.5,298.8 540,297.5 540.5,298.3 541,298.6 541.5,297.5 542,297.7 542.5,297.7 543,295.7 543.5,297.6 544,297.4 544.5,297.7 545,297.3 545.5,295.5 546,295.4 546.5,296.8 547,297.1 547.5,297.1 548,297.9 548.5,298.6 549,296.5 549.5,296.4 550,296.6 550.5,296.6 551,296.3 551.5,296.2 552,296.4 552.5,295.9 553,294.6 553.5,296.3 554,295.4 554.5,295.5 555,297.4 555.5,297.3 556,297.3 556.5,295.1 557,295.5 557.5,295.3 558,295.9 558.5,295.5 559,295.2 559.5,295.2 560,295.1 560.5,295.3 561,294.9 561.5,295.4 562,294.6 562.5,295 563,294.7 563.5,296.2 564,295.1 564.5,294.3 565,294.7 565.5,293.3 566,293.6 566.5,293.3 567,294.7 567.5,294.5 568,292.8 568.5,292.8 569,292.5 569.5,294.7 570,294.8 570.5,295.7 571,296.2 571.5,294.3 572,294 572.5,294.2 573,294.1 573.5,291.8 574,291.9 574.5,294.5 575,294.1 575.5,292.7 576,292.2 576.5,293.8 577,292.2 577.5,294.1 578,294 578.5,293.7 579,292.5 579.5,294 580,293.6 580.5,293.5 581,291.7 581.5,293.4 582,293.7 582.5,293.1 583,294.7 583.5,294.9 584,293.4 584.5,292 585,292.1 585.5,293.7 586,293.3 586.5,291.8 587,293.4 587.5,293.1 588,293.1 588.5,293 589,293.8 589.5,293.1 590,293.4 590.5,292.8 591,293.5 591.5,292.9 592,291.7 592.5,292.5 593,293.3 593.5,293.3 594,292.6 594.5,293.2 595,293.6 595.5,293 596,292.8 596.5,291.6 597,291.3 597.5,293 598,291.5 598.5,291.1 599,292.8 599.5,292.5 600,292.7 600.5,293.3 601,292.9 601.5,292.5 602,293.2 602.5,292.9 603,293 603.5,292.9 604,292.9 604.5,292.3 605,293.1 605.5,292.2 606,293 606.5,294.3 607,294.5 607.5,294.3 608,293 608.5,292.7 609,292.8 609.5,292.8 610,293.2 610.5,292.9 611,292.4 611.5,294 612,294.3 612.5,294.5 613,292.6 613.5,293.4 614,293.9 614.5,292.9 615,292.5 615.5,293.1 616,292.6 616.5,292.5 617,292.7 617.5,293.1 618,292.9 618.5,292.5 619,292.6 619.5,293.1 620,292.7 620.5,292.9 621,292.9 621.5,291.8 622,294.9 622.5,292.4 623,292.6 623.5,294.4 624,294.4 624.5,294.1 625,292.8 625.5,292.9 626,293 626.5,293 627,291.3 627.5,291.1 628,292.6 628.5,292.7 629,292.6 629.5,292.3 630,291.1 630.5,290.6 631,291 631.5,292.5 632,292.5 632.5,292.6 633,292.6 633.5,294.8 634,292.3 634.5,292.5 635,292.4 635.5,292.4 636,292 636.5,292.1 637,290.5 637.5,292 638,292.3 638.5,292.2 639,292.3 639.5,292.7 640,292.1 640.5,292.6 641,292.2 641.5,292.2 642,292.5 642.5,292.3 643,292.1 643.5,292.2 644,291.9 644.5,292.4 645,291.5 645.5,292.5 646,294.2 646.5,294.5 647,292.8 647.5,292.5 648,292.1 648.5,292.8 649,292 649.5,290.5 650,291.5 650.5,291.2 651,291.8 651.5,292 652,290.9 652.5,290.5 653,292.1 653.5,291.7 654,291.7 654.5,292.4 655,292.4 655.5,294 656,293.7 656.5,291.9 657,291.7 657.5,292.4 658,292.7 658.5,292.5 659,291.4 659.5,292.7 660,292.8 660.5,292.5 661,292.5 661.5,292.5 662,291.4 662.5,291.1 663,291.8 663.5,292.4 664,292.4 664.5,292.4 665,292.2 665.5,292.6 666,292.7 666.5,292.4 667,294.4 667.5,292.4 668,292.1 668.5,292.8 669,292.6 669.5,293.8 670,293.8 670.5,292.2 671,294.1 671.5,292.7 672,294 672.5,293.5 673,292.3 673.5,292.9 674,292.3 674.5,292.6 675,292.4 675.5,293.7 676,293.4 676.5,293.5 677,292.4 677.5,292.7 678,291.6 678.5,292.8 679,292.3 679.5,292.5 680,292.7 680.5,292.7 681,292.1 681.5,292.5 682,292.3 682.5,292.7 683,293 683.5,291.8 684,292.3 684.5,292.5 685,292.4 685.5,292.7 686,293.5 686.5,293.4 687,293.3 687.5,292.1 688,292.2 688.5,290.6 689,290.9 689.5,292.4 690,292.3 690.5,292.3 691,292.4 691.5,292.4 692,292.4 692.5,292.7 693,292.9 693.5,292.2 694,291 694.5,292.7 695,291.4 695.5,291.7 696,291.4 696.5,292.7 697,293.7 697.5,293.8 698,292.8 698.5,292.8 699,292.9 699.5,291.3 700,291.2 700.5,291.3 701,292.7 701.5,291.5 702,291.1 702.5,291.4 703,292.9 703.5,292.7 704,293.2 704.5,293.1 705,292.9 705.5,292.9 706,291.6 706.5,291.2 707,292.7 707.5,293.1 708,292.6 708.5,292.8 709,294.2 709.5,295.1 710,294.6 710.5,293.3 711,292.8 711.5,293.2 712,292.6 712.5,293 713,294.5 713.5,292.7 714,293.1 714.5,293.2 715,292.9 715.5,292.8 716,291.8 716.5,292.9 717,292.9 717.5,293.1 718,292.9 718.5,293.4 719,293.4 719.5,293.1 720,292.9 720.5,292.8 721,294.3 721.5,294.4 722,292.9 722.5,292.8 723,293.1 723.5,292.9 724,292.8 724.5,293 725,292.8 725.5,292.7 726,292.9 726.5,292.8 727,292.7 727.5,293.1 728,292.7 728.5,293.2 729,292.9 729.5,292.5 730,293.1 730.5,292.6 731,294.8 731.5,294.3 732,294.4 732.5,292.8 733,292.8 733.5,290.9 734,290.7 734.5,292.8 735,292.9 735.5,292.3 736,293 736.5,292.8 737,292.5 737.5,292.5 738,293.1 738.5,292.9 739,292.9 739.5,292.5 740,292.7 740.5,292.7 741,292.6 741.5,292.7 742,292.9 742.5,293.1 743,292.6 743.5,292.4 744,293.1 744.5,293.1 745,292.8 745.5,293.2 746,292.8 746.5,292.5 747,290.8 747.5,290.8 748,292.8 748.5,292.7 749,292.7 749.5,292.8 750,293.1 750.5,292.8 751,292.8 751.5,292.8 752,293.2 752.5,292.9 753,294.4 753.5,293.4 754,293.7 754.5,293.1 755,293.1 755.5,292.7 756,293 756.5,292.9 757,293.1 757.5,292.9 758,293 758.5,293.2 759,293.5 759.5,293.4 760,293.3 760.5,294.9 761,294.6 761.5,293.2 762,292.8 762.5,292.9 763,293.5 763.5,293.1 764,293.1 764.5,293.1 765,293 765.5,292.5 766,292.7 766.5,294.7 767,292.8 767.5,293 768,292.7 768.5,292.8 769,291.6 769.5,291.9 770,291.9 770.5,292.8 771,293.1 771.5,292.7 772,293 772.5,292 773,291.8 773.5,292.1 774,293.2 774.5,294.2 775,294 775.5,292.9 776,294.2 776.5,292.6 777,293.2 777.5,293.4 778,292.7 778.5,292.9 779,292.6 779.5,292.7 780,293 780.5,292.8 781,293.8 781.5,294.7 782,294.2 782.5,292.6 783,292.9 783.5,292.8 784,293 784.5,292.8 785,293 785.5,293.1 786,292.5 786.5,292.7 787,293.1 787.5,292.7 788,292.8 788.5,294.3 789,294.3 789.5,292.8 790,292.6 790.5,293 791,293.1 791.5,292.8 792,293.2 792.5,292.9 793,293.9 793.5,293.1 794,293.1 794.5,293 795,293.2 795.5,292.8 796,292 796.5,553.7 797,552.8 797.5,552.8 798,552.3 798.5,551.4 799,550.6 799.5,550.4 800,550.1 800.5,548.4 801,549 801.5,548.6 802,548.2 802.5,548 803,547.4 803.5,547.4 804,547.2 804.5,547.6 805,546.6 805.5,546.3 806,546.1 806.5,545.9 807,545.9 807.5,545.5 808,545.9 808.5,545.1 809,545.1 809.5,544.8 810,544.6 810.5,544.8 811,544.6 811.5,544 812,544 812.5,544 813,543.8 813.5,543.5 814,543.7 814.5,543.2 815,544.2 815.5,544.2 816,544.1 816.5,543.1 817,543.3 817.5,543 818,543 818.5,542.6 819,544 819.5,542.5 820,542.7 820.5,541.4 821,541.2 821.5,541.1 822,542" fill="none" stroke-width="1.8"/>
<polyline points="486,535.8 486.5,536.3 487,536.3 487.5,536.2 488,535.7 488.5,536 489,536.2 489.5,536 490,536.3 490.5,536.3 491,536.2 491.5,536.2 492,536.2 492.5,536.1 493,535.9 493.5,536 494,536.1 494.5,536.4 495,536.3 495.5,536.4 496,535.9 496.5,536.1 497,536.3 497.5,532.6 498,514.7 498.5,488.3 499,463.9 499.5,446 500,432.3 500.5,421.1 501,411.3 501.5,402.4 502,394.8 502.5,388.8 503,383 503.5,377.6 504,372.9 504.5,369 505,365.1 505.5,361.8 506,359 506.5,356.3 507,354 507.5,352 508,349.9 508.5,348.2 509,346.4 509.5,345.4 510,343.9 510.5,342.6 511,342 511.5,340.9 512,339.7 512.5,338.9 513,338.5 513.5,337.3 514,337.2 514.5,336.8 515,336.2 515.5,335.3 516,335 516.5,335.6 517,334.2 517.5,333.6 518,333 518.5,334.4 519,332.1 519.5,332 520,333.2 520.5,333.1 521,333.2 521.5,331.3 522,330.9 522.5,330.6 523,330.3 523.5,330.4 524,329.4 524.5,329.8 525,329.3 525.5,330.6 526,329.1 526.5,328.9 527,329 527.5,328 528,328.5 528.5,328 529,327.7 529.5,328.2 530,327.7 530.5,327.2 531,327.4 531.5,327.1 532,326.9 532.5,326.7 533,326.8 533.5,326.4 534,324.6 534.5,326.5 535,326.2 535.5,326.5 536,325.9 536.5,326.1 537,325.9 537.5,325.9 538,325.9 538.5,324.9 539,324.2 539.5,324 540,325.2 540.5,324.9 541,324.8 541.5,324.6 542,324.8 542.5,324.9 543,324.5 543.5,326.3 544,324.2 544.5,324.1 545,324.2 545.5,324.3 546,326.1 546.5,325.4 547,325.6 547.5,324.2 548,323.5 548.5,324.1 549,323.6 549.5,323.8 550,323.5 550.5,323.6 551,323.8 551.5,323.3 552,322.2 552.5,321.9 553,322.9 553.5,323.1 554,323 554.5,320.8 555,321.3 555.5,321.3 556,323.1 556.5,325.1 557,323.1 557.5,321.6 558,321.6 558.5,322.9 559,322.7 559.5,322.6 560,322.4 560.5,322.4 561,322.7 561.5,322 562,323.6 562.5,322.6 563,322.2 563.5,322.5 564,324.3 564.5,323.6 565,323.4 565.5,322.1 566,322 566.5,322.2 567,322.3 567.5,322.3 568,320.9 568.5,321.1 569,320.9 569.5,321.9 570,322.1 570.5,321.6 571,322.2 571.5,322 572,321.6 572.5,321.8 573,322.2 573.5,321.7 574,322 574.5,322.1 575,321.9 575.5,321.6 576,320.8 576.5,321.5 577,321.7 577.5,320 578,321.8 578.5,321.5 579,321.8 579.5,322 580,322.1 580.5,321.4 581,321.5 581.5,321.9 582,319.9 582.5,319.6 583,319.7 583.5,321.6 584,321.1 584.5,321.7 585,321.8 585.5,321.3 586,321.1 586.5,321.8 587,321.5 587.5,321.7 588,321.2 588.5,321.2 589,320.4 589.5,321.8 590,319.8 590.5,320 591,319.6 591.5,321.3 592,321.3 592.5,320.3 593,319.7 593.5,320.6 594,321.3 594.5,323 595,322.9 595.5,323 596,321.8 596.5,321.1 597,321.3 597.5,321 598,319.4 598.5,319.6 599,321.5 599.5,321.1 600,320.8 600.5,321.1 601,320.9 601.5,320.9 602,321.2 602.5,321.2 603,321.3 603.5,321 604,321.4 604.5,322.5 605,321 605.5,320.8 606,320.5 606.5,320.7 607,321.1 607.5,319.7 608,319.5 608.5,319.8 609,321 609.5,321.1 610,320.9 610.5,321 611,320.9 611.5,321.1 612,321 612.5,322.5 613,321.2 613.5,321.2 614,320.9 614.5,320.9 615,320.9 615.5,320.5 616,321.3 616.5,320.8 617,321.2 617.5,321 618,321.3 618.5,321.1 619,321.2 619.5,320.8 620,322 620.5,322.3 621,321.8 621.5,320.8 622,320.6 622.5,320.8 623,321.2 623.5,321.1 624,321 624.5,321.2 625,321 625.5,321.7 626,319.3 626.5,319 627,319.4 627.5,321.4 628,320.9 628.5,320.7 629,320.8 629.5,320.9 630,321.2 630.5,322.1 631,322.4 631.5,322.4 632,321.2 632.5,321.3 633,321.1 633.5,321.5 634,321.3 634.5,321.1 635,320.8 635.5,320.9 636,320.7 636.5,322.9 637,322.9 637.5,321.3 638,321.1 638.5,321.3 639,321.4 639.5,320.9 640,319.5 640.5,319.6 641,319.4 641.5,321.1 642,321.2 642.5,321.1 643,321.2 643.5,322.8 644,321.2 644.5,321.2 645,320.9 645.5,320.8 646,321.4 646.5,321.6 647,321.2 647.5,321.1 648,321.5 648.5,321.3 649,321.1 649.5,321.4 650,320.9 650.5,321 651,321.2 651.5,321.2 652,321.4 652.5,321.4 653,320.7 653.5,321.1 654,321.6 654.5,321 655,321 655.5,320.6 656,319.3 656.5,319.5 657,319.5 657.5,320.9 658,321.2 658.5,321.3 659,321.2 659.5,320.9 660,321.2 660.5,321 661,322.5 661.5,321.4 662,321.3 662.5,321.4 663,321.2 663.5,321.4 664,321.6 664.5,321.8 665,321.5 665.5,321.5 666,321 666.5,321.4 667,319.2 667.5,321.2 668,321.9 668.5,321.2 669,320.8 669.5,321.6 670,321.2 670.5,321.6 671,321.1 671.5,321.3 672,323.3 672.5,321.1 673,321.4 673.5,321.5 674,319.5 674.5,319.7 675,319.7 675.5,321.7 676,322 676.5,322.2 677,321.6 677.5,321.5 678,321.6 678.5,321.5 679,321.1 679.5,321.5 680,321.8 680.5,321.2 681,320.1 681.5,321.3 682,321.6 682.5,322.1 683,323 683.5,321.6 684,322.5 684.5,322.4 685,322.5 685.5,321.4 686,322.2 686.5,321.6 687,321.3 687.5,320.2 688,320 688.5,319.9 689,321.4 689.5,321.3 690,321.1 690.5,320.9 691,321.5 691.5,321.3 692,321.6 692.5,321.1 693,321 693.5,321.5 694,321.2 694.5,321.5 695,321.3 695.5,321.7 696,321.4 696.5,321.3 697,321.4 697.5,322.3 698,322 698.5,322.5 699,321.7 699.5,320.6 700,322.5 700.5,322 701,322.4 701.5,321.2 702,321.4 702.5,321.3 703,322.8 703.5,321.5 704,321.1 704.5,321.5 705,322.6 705.5,321 706,320.9 706.5,321.5 707,321.1 707.5,320.6 708,321.3 708.5,321.1 709,321.1 709.5,321.2 710,322.6 710.5,323.4 711,321.7 711.5,321.5 712,321.4 712.5,321.7 713,321.4 713.5,321.6 714,321.5 714.5,321.4 715,321.6 715.5,321.3 716,321.4 716.5,321.2 717,321.2 717.5,320.8 718,323 718.5,323 719,323.1 719.5,321.1 720,321.5 720.5,321.4 721,321.6 721.5,321.3 722,321.4 722.5,321.1 723,321.3 723.5,319.7 724,321.6 724.5,319.2 725,319.5 725.5,319.7 726,322 726.5,321.5 727,321.8 727.5,321.6 728,321.6 728.5,321.5 729,321.5 729.5,321.6 730,323.3 730.5,322.9 731,322.8 731.5,321.8 732,321.7 732.5,321.7 733,321.8 733.5,321.5 734,321.6 734.5,322 735,321.8 735.5,322 736,322.1 736.5,322 737,321.4 737.5,320.1 738,320.4 738.5,322 739,320.5 739.5,321.4 740,321.6 740.5,321.8 741,321.4 741.5,322 742,321.7 742.5,319.3 743,319.7 743.5,321.7 744,321.8 744.5,322.2 745,321.9 745.5,321.5 746,321.4 746.5,321.7 747,321.8 747.5,322 748,322.2 748.5,322.3 749,321.8 749.5,320.3 750,322 750.5,321.6 751,319.8 751.5,321.9 752,321.5 752.5,321.7 753,321.7 753.5,323.7 754,324 754.5,323.6 755,321.7 755.5,321.3 756,322 756.5,321.9 757,321.8 757.5,322.1 758,322.6 758.5,322.7 759,321.8 759.5,321.7 760,322.1 760.5,323.3 761,323.5 761.5,322.1 762,322 762.5,321.9 763,322.1 763.5,323.2 764,323.3 764.5,322.2 765,323.3 765.5,322.1 766,321.8 766.5,322.4 767,321.8 767.5,322.1 768,321.9 768.5,322.3 769,322.2 769.5,323.8 770,324.3 770.5,322 771,322.3 771.5,321.9 772,322.2 772.5,321.8 773,322 773.5,320.8 774,321 774.5,321.8 775,322.8 775.5,321.6 776,322.1 776.5,322.1 777,322.2 777.5,322 778,322.1 778.5,321.9 779,322.5 779.5,321.9 780,322 780.5,321.9 781,321.8 781.5,321.7 782,322.2 782.5,321.9 783,323.5 783.5,323.4 784,322.2 784.5,322.2 785,322.1 785.5,321.9 786,322.2 786.5,321.9 787,320.6 787.5,320.6 788,321.7 788.5,322.6 789,322.3 789.5,322.1 790,322.1 790.5,322.6 791,320.8 791.5,322.1 792,321.8 792.5,321.9 793,322.7 793.5,323 794,322.2 794.5,321.1 795,321.1 795.5,320.8 796,322.2 796.5,552.7 797,551.5 797.5,550.3 798,550 798.5,550 799,549.9 799.5,549.7 800,549.1 800.5,548.2 801,547.7 801.5,547.8 802,547.4 802.5,547 803,546.9 803.5,546.3 804,546.2 804.5,546.4 805,545.9 805.5,545.7 806,545.2 806.5,545.1 807,544.8 807.5,545.1 808,545.2 808.5,545.5 809,544.4 809.5,543.8 810,544.2 810.5,543.8 811,543.5 811.5,542.4 812,543.3 812.5,543.3 813,543.1 813.5,542.9 814,541.9 814.5,542.2 815,541.9 815.5,542.6 816,542.3 816.5,542.3 817,542 817.5,541.9 818,542.2 818.5,542 819,541.6 819.5,541.4 820,542.2 820.5,541.3 821,541.4 821.5,541.3 822,541.2" fill="none" stroke-width="1.8"/>
<polyline points="486,537.5 486.5,537.8 487,537.6 487.5,535.9 488,535.4 488.5,535.4 489,535.7 489.5,536.5 490,536.3 490.5,536.5 491,537.3 491.5,537.5 492,537.3 492.5,536.5 493,536.5 493.5,534.9 494,534.6 494.5,534.7 495,536.4 495.5,536.4 496,536.3 496.5,536.2 497,536.3 497.5,534.3 498,523.8 498.5,505.3 499,486.5 499.5,470.7 500,458.9 500.5,449.2 501,440.6 501.5,433.5 502,426.9 502.5,421.7 503,416.2 503.5,411.5 504,407 504.5,403 505,399.5 505.5,396.2 506,393.4 506.5,390.5 507,387.9 507.5,386.3 508,384.1 508.5,382.6 509,380.8 509.5,379.3 510,378 510.5,375.1 511,373.9 511.5,374.6 512,373.7 512.5,372.4 513,373.4 513.5,372.6 514,371.6 514.5,369.3 515,369 515.5,368.5 516,365.9 516.5,365.3 517,367 517.5,366.8 518,364.7 518.5,364.4 519,364.8 519.5,365 520,364.2 520.5,364.1 521,363.7 521.5,363.8 522,363.5 522.5,363 523,363.4 523.5,362.7 524,362.3 524.5,361.9 525,361.8 525.5,361.6 526,361.6 526.5,361.3 527,361.5 527.5,360.9 528,362.1 528.5,360.9 529,358.9 529.5,358.9 530,361 530.5,360.1 531,360.4 531.5,358.2 532,360.2 532.5,359.9 533,360 533.5,359.2 534,360.5 534.5,360.6 535,359.1 535.5,359.1 536,358.8 536.5,360.3 537,360.3 537.5,358.2 538,358.5 538.5,358.4 539,358.5 539.5,358.3 540,358.6 540.5,358.3 541,358.2 541.5,358.1 542,358 542.5,359.4 543,359.4 543.5,358.1 544,357.6 544.5,357.2 545,357.7 545.5,357.6 546,357.4 546.5,356.9 547,357.6 547.5,357.3 548,357.1 548.5,355.7 549,354.8 549.5,357.1 550,356.9 550.5,357.4 551,357.1 551.5,356.7 552,357.2 552.5,356.2 553,356.9 553.5,356.4 554,356.6 554.5,356.6 555,356.8 555.5,357.1 556,357.2 556.5,357.8 557,358.2 557.5,356.3 558,356.3 558.5,356.5 559,356.5 559.5,356.4 560,356.2 560.5,356.1 561,356.6 561.5,356 562,355.7 562.5,355.7 563,355.9 563.5,356.5 564,355.7 564.5,356.4 565,356.4 565.5,354.2 566,355.4 566.5,355.8 567,355.9 567.5,356.4 568,355.8 568.5,354.3 569,354.5 569.5,354.1 570,356 570.5,355.7 571,356.6 571.5,355.6 572,356.4 572.5,355.6 573,355.9 573.5,356 574,355.9 574.5,355.8 575,356 575.5,355.9 576,355.7 576.5,355.6 577,355.7 577.5,355.6 578,355.6 578.5,355.6 579,355.3 579.5,355.4 580,355.9 580.5,355 581,355.9 581.5,355.4 582,356 582.5,355.8 583,355.4 583.5,355.4 584,355.8 584.5,355.7 585,355.7 585.5,355.7 586,355.1 586.5,355.4 587,355.1 587.5,355 588,355.2 588.5,355.1 589,355.2 589.5,355.1 590,353.5 590.5,354.3 591,355.2 591.5,354.9 592,355.3 592.5,353.9 593,353.7 593.5,353.3 594,355.1 594.5,353.4 595,355 595.5,355.1 596,354.8 596.5,355.1 597,355.3 597.5,355.1 598,356.9 598.5,357.2 599,355.7 599.5,355.2 600,355.4 600.5,355.2 601,355.1 601.5,354.9 602,355.2 602.5,357.3 603,356.6 603.5,355 604,355 604.5,355.2 605,355.2 605.5,355.3 606,355.6 606.5,354.9 607,354.9 607.5,355.2 608,355.6 608.5,354.8 609,356.7 609.5,356.6 610,356.9 610.5,355.4 611,356.9 611.5,355.4 612,353.3 612.5,353.7 613,355.7 613.5,355.4 614,355.3 614.5,353.8 615,354.1 615.5,353.9 616,355 616.5,355.6 617,355.1 617.5,357.3 618,354.9 618.5,355.4 619,355.4 619.5,354.9 620,355.5 620.5,355 621,355.3 621.5,355.1 622,354.8 622.5,355 623,355 623.5,355.5 624,355.4 624.5,355.8 625,355.1 625.5,355.1 626,355.3 626.5,355.1 627,355.1 627.5,355.2 628,355.4 628.5,354.7 629,355.1 629.5,356.1 630,356.4 630.5,356.6 631,355.6 631.5,355.2 632,355.4 632.5,354.9 633,355.2 633.5,355.4 634,355 634.5,355.6 635,353.5 635.5,353.2 636,354.9 636.5,355.1 637,355 637.5,355 638,354.9 638.5,355.2 639,355.5 639.5,356.4 640,355.4 640.5,353.3 641,353.5 641.5,355 642,355.3 642.5,355.2 643,355.5 643.5,355.2 644,355.1 644.5,354.7 645,354.9 645.5,354.9 646,353.3 646.5,353.5 647,353.6 647.5,355.2 648,355.4 648.5,355.3 649,353.1 649.5,353.4 650,355.3 650.5,356.5 651,356.1 651.5,355.1 652,355.4 652.5,355.1 653,354.6 653.5,354.6 654,355.5 654.5,354.6 655,355 655.5,355.3 656,354.6 656.5,354.8 657,354.7 657.5,355.5 658,355.6 658.5,354.8 659,355.1 659.5,355.1 660,354.9 660.5,356.4 661,355.6 661.5,354.6 662,355.1 662.5,354.9 663,355.3 663.5,356.5 664,356.1 664.5,356.2 665,354.7 665.5,355.1 666,355.2 666.5,355 667,355.1 667.5,354.3 668,354.1 668.5,355.4 669,354.5 669.5,355.2 670,356.5 670.5,354.8 671,354.9 671.5,356.6 672,356.2 672.5,356.4 673,355 673.5,356.6 674,356.3 674.5,355.1 675,355.5 675.5,354.8 676,355.3 676.5,355.4 677,356.4 677.5,356.1 678,356 678.5,355.6 679,355.1 679.5,355 680,355.4 680.5,355.2 681,355.6 681.5,355.3 682,355.6 682.5,355.5 683,355.3 683.5,355.7 684,355.2 684.5,356.5 685,355.5 685.5,355.4 686,356.2 686.5,356 687,355.3 687.5,355.2 688,355.3 688.5,355.2 689,355.2 689.5,355.3 690,355.3 690.5,355.5 691,355.4 691.5,355.7 692,355.2 692.5,356.6 693,355.2 693.5,355.4 694,355.5 694.5,355.6 695,355 695.5,355.6 696,355.2 696.5,356.5 697,356.7 697.5,357.1 698,355.4 698.5,354.9 699,355 699.5,353.7 700,353.8 700.5,355.3 701,354.9 701.5,355.1 702,355.6 702.5,355.7 703,355.6 703.5,353.7 704,355.6 704.5,355.3 705,355.3 705.5,355.5 706,354.1 706.5,354.8 707,355.1 707.5,355.2 708,353.4 708.5,353.9 709,354 709.5,355.1 710,355.1 710.5,355 711,355.1 711.5,355.4 712,354.6 712.5,355.2 713,355 713.5,354.8 714,354.9 714.5,355.6 715,354.7 715.5,355 716,355.5 716.5,354.7 717,355 717.5,355.1 718,355.2 718.5,355.1 719,354.8 719.5,355.1 720,355 720.5,357.1 721,357.2 721.5,356.6 722,355.4 722.5,355.1 723,355.3 723.5,356.3 724,356.6 724.5,355.1 725,356.5 725.5,356.4 726,355 726.5,355.4 727,354.8 727.5,357.1 728,355 728.5,354.6 729,355.5 729.5,354.2 730,356.7 730.5,355.2 731,354.5 731.5,355.2 732,354.9 732.5,355 733,355.5 733.5,353.4 734,353.2 734.5,355.1 735,355.6 735.5,355.2 736,354.9 736.5,355 737,353.7 737.5,353.9 738,354.4 738.5,355.1 739,354.8 739.5,355.3 740,355.2 740.5,355.4 741,355.2 741.5,354 742,355.1 742.5,355 743,355.5 743.5,354.8 744,355.3 744.5,355.5 745,354.7 745.5,355.4 746,355 746.5,354.9 747,355 747.5,355.3 748,355.2 748.5,355.6 749,355.4 749.5,355.3 750,355.1 750.5,355.4 751,355.9 751.5,356.3 752,356.3 752.5,355.1 753,355.7 753.5,355.6 754,354.1 754.5,354 755,353.9 755.5,355.2 756,355.5 756.5,355.3 757,355.6 757.5,356.9 758,356.4 758.5,355.9 759,355.3 759.5,355.4 760,356.4 760.5,356.3 761,355.2 761.5,354.6 762,355.1 762.5,355.4 763,356.7 763.5,356.7 764,357 764.5,355.2 765,354.6 765.5,356.5 766,357 766.5,354.9 767,356.8 767.5,355.2 768,354.8 768.5,354.7 769,355.1 769.5,355.4 770,354.6 770.5,355 771,354.5 771.5,354.9 772,353.3 772.5,353.9 773,353.5 773.5,355.4 774,354.9 774.5,354.9 775,356.5 775.5,357 776,357 776.5,355.4 777,355.3 777.5,355.2 778,355.3 778.5,353.5 779,355.3 779.5,354.8 780,355 780.5,354.7 781,355.2 781.5,355.5 782,355.3 782.5,355 783,355.3 783.5,353.4 784,353.3 784.5,353 785,355.6 785.5,354.9 786,355.2 786.5,355.5 787,354.2 787.5,354.3 788,355.4 788.5,356.4 789,356.4 789.5,355.4 790,355.4 790.5,355.1 791,355 791.5,355.7 792,355.7 792.5,355.5 793,354.1 793.5,355.2 794,354.8 794.5,355.3 795,355 795.5,355.5 796,355.9 796.5,551.4 797,550.8 797.5,549.3 798,549 798.5,548.5 799,547.8 799.5,549.1 800,549.1 800.5,548.4 801,546.6 801.5,546.3 802,545.9 802.5,544.4 803,544.4 803.5,545.4 804,544.8 804.5,546 805,546 805.5,545.5 806,544.1 806.5,544.1 807,543.9 807.5,543.8 808,543.6 808.5,543.5 809,543.2 809.5,541.9 810,541.7 810.5,542.9 811,542 811.5,542 812,541.6 812.5,542.3 813,542.2 813.5,543.3 814,543.2 814.5,541.7 815,541.8 815.5,541.5 816,541 816.5,541.7 817,541.3 817.5,541.4 818,541 818.5,540.9 819,540.9 819.5,541 820,540.9 820.5,540.8 821,540.6 821.5,540.6 822,540.4" fill="none" stroke-width="1.8"/>
<polyline points="486,535.6 486.5,535.7 487,536 487.5,536.1 488,536.1 488.5,536.4 489,535.7 489.5,536.4 490,536.4 490.5,536.1 491,536.2 491.5,536 492,537 492.5,537.5 493,537.4 493.5,536.1 494,536.1 494.5,537 495,537.4 495.5,537.1 496,536.2 496.5,536 497,536.2 497.5,535.2 498,529.4 498.5,519 499,506.3 499.5,494.3 500,484.2 500.5,476.2 501,469.6 501.5,463.9 502,458.7 502.5,454.1 503,449.8 503.5,445.8 504,441.9 504.5,438.5 505,435.3 505.5,432.7 506,430.2 506.5,427.9 507,425.1 507.5,423.1 508,421.6 508.5,419.6 509,418 509.5,416.4 510,415.2 510.5,413.9 511,412.8 511.5,411.8 512,410.5 512.5,409.6 513,408.9 513.5,408 514,407.9 514.5,406.3 515,405.6 515.5,405 516,404.3 516.5,403.6 517,401.5 517.5,402.9 518,402.2 518.5,401.8 519,401.8 519.5,401.3 520,400.5 520.5,400.3 521,397.8 521.5,397.9 522,399.2 522.5,398.8 523,398.6 523.5,398.3 524,397.7 524.5,398.2 525,398.9 525.5,398.3 526,396.6 526.5,396.2 527,397.1 527.5,396.3 528,396.4 528.5,395.8 529,395.8 529.5,397.2 530,395.5 530.5,394.2 531,393.8 531.5,393.5 532,394.7 532.5,394.1 533,394.2 533.5,396 534,396 534.5,394.3 535,393.7 535.5,393.7 536,393 536.5,393.5 537,393.1 537.5,393.1 538,392.1 538.5,392 539,391.4 539.5,392.9 540,392.6 540.5,392.8 541,392.8 541.5,392.7 542,391.8 542.5,392.2 543,391.6 543.5,392.3 544,392.3 544.5,392.1 545,391.6 545.5,393.2 546,391.4 546.5,391.5 547,391.4 547.5,392.1 548,392.3 548.5,391.8 549,391.2 549.5,391.2 550,391.1 550.5,390.9 551,389.8 551.5,389.6 552,390.2 552.5,391 553,391.1 553.5,390.4 554,390.5 554.5,390.9 555,390.2 555.5,390.5 556,393.2 556.5,390.5 557,390.3 557.5,390.5 558,390.4 558.5,388.5 559,388.1 559.5,388.7 560,390.2 560.5,389.8 561,390.3 561.5,390.2 562,391.3 562.5,391 563,389.2 563.5,389.6 564,389.2 564.5,389.1 565,389.8 565.5,391.6 566,390.8 566.5,389.5 567,389.5 567.5,389.4 568,389.1 568.5,389.7 569,389 569.5,388.8 570,390.8 570.5,391.2 571,389.1 571.5,387.9 572,388.2 572.5,389.1 573,388.4 573.5,389.1 574,389.2 574.5,388.8 575,388.7 575.5,389.2 576,388.6 576.5,388.7 577,388.8 577.5,388.8 578,388.6 578.5,388.7 579,387.2 579.5,387 580,388.5 580.5,386.6 581,386.7 581.5,388.7 582,388 582.5,389.1 583,388.4 583.5,388 584,387.4 584.5,388.2 585,388.3 585.5,389.1 586,389.4 586.5,387.8 587,388.2 587.5,386.3 588,386.4 588.5,388.1 589,388.3 589.5,388.5 590,388.3 590.5,388.5 591,388.1 591.5,388.3 592,388.3 592.5,388.5 593,388.1 593.5,388.5 594,388.1 594.5,388.1 595,388.1 595.5,388.3 596,388 596.5,388 597,389.4 597.5,389.5 598,389.3 598.5,388.4 599,388.2 599.5,388.5 600,389.8 600.5,388.7 601,388.3 601.5,387.9 602,388.1 602.5,388.1 603,388 603.5,388.6 604,388.1 604.5,388 605,388.3 605.5,388 606,388.5 606.5,388.4 607,388.2 607.5,387.1 608,386.8 608.5,387.8 609,388.1 609.5,388 610,387.7 610.5,386.7 611,387.9 611.5,388 612,388.6 612.5,388.4 613,388.4 613.5,388.4 614,388.5 614.5,388.2 615,388.7 615.5,387.9 616,388.2 616.5,387.9 617,388.5 617.5,388.4 618,388.5 618.5,387.8 619,388 619.5,387.7 620,388.3 620.5,388.1 621,390 621.5,388.2 622,387.6 622.5,389.6 623,390.1 623.5,388.2 624,387.5 624.5,388.1 625,387.9 625.5,388.8 626,388.9 626.5,389.2 627,387.9 627.5,387.6 628,389.6 628.5,387.9 629,387.8 629.5,386.6 630,386.6 630.5,386.6 631,388 631.5,388.1 632,389.4 632.5,389.6 633,388.5 633.5,388.1 634,387.9 634.5,386.5 635,388.3 635.5,387.9 636,388.7 636.5,388.8 637,389.1 637.5,387.7 638,388.3 638.5,386.9 639,387.7 639.5,388.6 640,389.3 640.5,387.7 641,388.2 641.5,388.4 642,389.9 642.5,389.9 643,390.1 643.5,388.4 644,386.3 644.5,386.2 645,386.7 645.5,388.2 646,388.2 646.5,387.9 647,388.2 647.5,387.8 648,388.1 648.5,388.1 649,388.1 649.5,388.2 650,387.8 650.5,388.2 651,388.1 651.5,387.9 652,387.8 652.5,388.7 653,388.1 653.5,388.1 654,387.8 654.5,389.6 655,389.6 655.5,389.6 656,388.1 656.5,389.5 657,387.9 657.5,389.3 658,388.1 658.5,388.1 659,387.6 659.5,388.5 660,388.5 660.5,387.8 661,389.5 661.5,388.9 662,389.4 662.5,387.6 663,388 663.5,388 664,388.4 664.5,388.6 665,388.5 665.5,388.4 666,388.2 666.5,388.3 667,388.3 667.5,386.3 668,386.9 668.5,388.4 669,388.4 669.5,387.6 670,388.3 670.5,390.2 671,389.9 671.5,389.8 672,387.8 672.5,387.9 673,388.3 673.5,388.2 674,388.2 674.5,388.6 675,389.4 675.5,389.7 676,390.2 676.5,388.1 677,388.2 677.5,388.2 678,388.4 678.5,387.7 679,388.2 679.5,388.3 680,389.4 680.5,389.8 681,388.5 681.5,388.4 682,387.3 682.5,386.7 683,387 683.5,388.3 684,386.7 684.5,387 685,386.9 685.5,387.9 686,388.4 686.5,388.1 687,387.1 687.5,387.2 688,388.5 688.5,388.6 689,388.2 689.5,388.3 690,387.8 690.5,388.1 691,388 691.5,388.3 692,388.3 692.5,388.1 693,388.4 693.5,388.3 694,387.7 694.5,388.6 695,388.6 695.5,388.3 696,388.4 696.5,386.6 697,386.3 697.5,388.9 698,388.6 698.5,387 699,388.3 699.5,388.6 700,387.9 700.5,388.3 701,388.5 701.5,388.2 702,388.5 702.5,388.3 703,388.3 703.5,388.1 704,388.3 704.5,388.8 705,388.3 705.5,388.4 706,389.7 706.5,387.9 707,388.2 707.5,389.2 708,387.7 708.5,388.4 709,387.9 709.5,388.4 710,388 710.5,388.7 711,388.1 711.5,388.7 712,388.2 712.5,388.2 713,389.7 713.5,388 714,388.3 714.5,388.4 715,388.3 715.5,388.2 716,388.2 716.5,388.4 717,388.3 717.5,388.5 718,388.3 718.5,388.4 719,389.9 719.5,388.2 720,388.6 720.5,388.2 721,386.7 721.5,387 722,388.1 722.5,388.3 723,388.1 723.5,388.2 724,388.4 724.5,388.4 725,388.1 725.5,388.3 726,388 726.5,387.6 727,387.7 727.5,387.9 728,388.1 728.5,387.9 729,386.9 729.5,387.1 730,387.6 730.5,388.4 731,387.4 731.5,388.3 732,389.3 732.5,387.8 733,387.9 733.5,387.6 734,388.2 734.5,387.7 735,387.7 735.5,387.5 736,387.7 736.5,387.7 737,387.7 737.5,387.8 738,387.6 738.5,388.3 739,387.9 739.5,387.9 740,386.4 740.5,388.4 741,388 741.5,387.7 742,387.6 742.5,387.9 743,388.1 743.5,387.8 744,387.8 744.5,387.9 745,387.4 745.5,388 746,388.1 746.5,387.9 747,388.3 747.5,388.3 748,389 748.5,388 749,387.9 749.5,387.4 750,387.8 750.5,387.6 751,387.9 751.5,388 752,387.8 752.5,387.7 753,388 753.5,388.5 754,387.4 754.5,389.4 755,389.3 755.5,387.9 756,388 756.5,388 757,388.2 757.5,388 758,387.5 758.5,388.4 759,388.4 759.5,387.9 760,388.1 760.5,386.7 761,386.7 761.5,388.6 762,388.3 762.5,388.3 763,388.5 763.5,388.1 764,386.9 764.5,387.5 765,389.6 765.5,390.1 766,390.2 766.5,388 767,386.3 767.5,386.4 768,386.6 768.5,387.5 769,388.2 769.5,388.1 770,388.1 770.5,388 771,387.8 771.5,387.8 772,389.9 772.5,387.9 773,388.3 773.5,387.8 774,388 774.5,387.9 775,388 775.5,388 776,388.4 776.5,388.5 777,388 777.5,387.9 778,387.6 778.5,387.6 779,388.3 779.5,387.6 780,387.9 780.5,388 781,387.3 781.5,387.6 782,389.3 782.5,387.8 783,389 783.5,388.2 784,387.8 784.5,387.8 785,387.9 785.5,387.7 786,388 786.5,388 787,387.2 787.5,388.1 788,387.9 788.5,388 789,388.2 789.5,387.5 790,387.6 790.5,389.1 791,387.3 791.5,387.8 792,388.1 792.5,388 793,388 793.5,387.9 794,387.9 794.5,387.9 795,386.5 795.5,386 796,388.3 796.5,548.4 797,548.1 797.5,547.5 798,546.9 798.5,546.9 799,546.5 799.5,545.7 800,545.6 800.5,545.4 801,544.7 801.5,544.4 802,544.4 802.5,544.1 803,543.9 803.5,543.7 804,543.7 804.5,544.4 805,544.5 805.5,543.2 806,543.2 806.5,542.5 807,542.6 807.5,542.6 808,542.5 808.5,542.2 809,540.8 809.5,542 810,541.9 810.5,543.1 811,542.7 811.5,541.7 812,541.3 812.5,541.3 813,541.4 813.5,542.7 814,542.4 814.5,541.1 815,540.9 815.5,540.7 816,541 816.5,540.8 817,540.8 817.5,540.7 818,541.2 818.5,540.5 819,540.2 819.5,540.4 820,540.3 820.5,540.5 821,540 821.5,539.9 822,540" fill="none" stroke-width="1.8"/>
<polyline points="486,536.3 486.5,536.2 487,536.2 487.5,537.1 488,537 488.5,536.2 489,536.4 489.5,536 490,536.1 490.5,535.9 491,537.1 491.5,536.1 492,535.9 492.5,536.2 493,536.2 493.5,536 494,535.9 494.5,536 495,536.5 495.5,535.9 496,536.4 496.5,537.2 497,536.6 497.5,535.8 498,534.3 498.5,530.5 499,525.2 499.5,518.6 500,512.4 500.5,506.3 501,501.3 501.5,496.2 502,492.4 502.5,489 503,486.6 503.5,483.1 504,480.6 504.5,478 505,475.7 505.5,473.5 506,471.7 506.5,469.4 507,467.5 507.5,465.7 508,464 508.5,462.4 509,461.6 509.5,459.5 510,458 510.5,457.2 511,456.2 511.5,454.9 512,453.5 512.5,452.3 513,451.4 513.5,450.5 514,449.7 514.5,448.8 515,448 515.5,447.2 516,446.7 516.5,445.9 517,445.2 517.5,444.6 518,444.1 518.5,443.5 519,443 519.5,442.5 520,442.1 520.5,441.4 521,439.5 521.5,438.9 522,440.6 522.5,439.7 523,438.8 523.5,439.1 524,438.7 524.5,438.5 525,437.9 525.5,436 526,435.6 526.5,435.1 527,437 527.5,436.7 528,436.7 528.5,436.2 529,435.1 529.5,434.4 530,435.9 530.5,436.1 531,436.3 531.5,436 532,434.8 532.5,434.8 533,433.9 533.5,434.1 534,434.3 534.5,434.4 535,433.8 535.5,433.1 536,433.5 536.5,433.4 537,433.6 537.5,433.2 538,432.7 538.5,433 539,432.8 539.5,432.4 540,432.6 540.5,432.2 541,432.1 541.5,432 542,431.9 542.5,432.2 543,431.4 543.5,432.1 544,431.7 544.5,431.4 545,431.5 545.5,431.1 546,430.8 546.5,430.9 547,430.6 547.5,430.7 548,430.6 548.5,431.2 549,428.8 549.5,429 550,430.9 550.5,430.7 551,430.4 551.5,430.3 552,430.4 552.5,430.8 553,430.3 553.5,430.3 554,430.6 554.5,430 555,430.2 555.5,430 556,429.9 556.5,429.5 557,429.4 557.5,429.5 558,429.8 558.5,429.7 559,431.4 559.5,430.9 560,431 560.5,429.4 561,429.2 561.5,430 562,428.6 562.5,428.9 563,428.9 563.5,429.2 564,429.2 564.5,429 565,429.4 565.5,428.9 566,429.1 566.5,430.2 567,428.4 567.5,428.5 568,430.1 568.5,429.6 569,428.4 569.5,428.5 570,428.3 570.5,428.7 571,430.3 571.5,428.2 572,428.4 572.5,428.4 573,428 573.5,427.7 574,427.9 574.5,428.1 575,428.1 575.5,427.5 576,427.7 576.5,427.6 577,428 577.5,427.6 578,428.7 578.5,427.6 579,427.8 579.5,427.9 580,427.7 580.5,427.8 581,427.8 581.5,427.1 582,427.7 582.5,427.4 583,427.1 583.5,427.4 584,427.6 584.5,427.7 585,427 585.5,427.5 586,427.8 586.5,427.7 587,426.3 587.5,427.7 588,426.1 588.5,425.2 589,425.6 589.5,427.4 590,427.2 590.5,426.9 591,427 591.5,427.2 592,426.9 592.5,427 593,427.2 593.5,426.7 594,424.9 594.5,426.7 595,426.6 595.5,426.6 596,426.3 596.5,426.8 597,425.9 597.5,426.5 598,426.6 598.5,426.7 599,427.8 599.5,427 600,426.5 600.5,426.6 601,424.9 601.5,425.4 602,426.6 602.5,427.2 603,427.7 603.5,427.9 604,427.5 604.5,426.3 605,426.5 605.5,424.8 606,424.5 606.5,425.3 607,426.5 607.5,426.3 608,424.7 608.5,424.6 609,425 609.5,426.5 610,426.4 610.5,425.2 611,425 611.5,426.5 612,426.7 612.5,426.1 613,426.1 613.5,426.2 614,426.2 614.5,426.6 615,425.9 615.5,426.2 616,426.1 616.5,426.7 617,426.4 617.5,426.2 618,426.4 618.5,425.8 619,426.7 619.5,425.9 620,425.4 620.5,426.3 621,426.2 621.5,426.4 622,426.4 622.5,424.7 623,424.5 623.5,426.1 624,426 624.5,426.2 625,426.3 625.5,426.2 626,426.1 626.5,424 627,426.1 627.5,425.6 628,425.9 628.5,426.2 629,426.3 629.5,426 630,426.1 630.5,426.1 631,426.2 631.5,425.9 632,425.7 632.5,426 633,426.4 633.5,425.7 634,425.9 634.5,425.8 635,426.5 635.5,425.7 636,425.8 636.5,425.8 637,425.5 637.5,425.6 638,426.1 638.5,426.1 639,425.8 639.5,426.3 640,425.3 640.5,425.5 641,425.6 641.5,427 642,425.6 642.5,424.4 643,425.9 643.5,426.2 644,427.8 644.5,425.8 645,425.8 645.5,426.1 646,426.3 646.5,426 647,425.8 647.5,426 648,426 648.5,425.7 649,426.1 649.5,425.9 650,426.1 650.5,425.5 651,425.3 651.5,425.7 652,425.9 652.5,423.8 653,424.1 653.5,426.2 654,425 654.5,424.9 655,424.6 655.5,426.1 656,424.2 656.5,425.8 657,425.8 657.5,425.8 658,426 658.5,426.8 659,425.7 659.5,425.6 660,425.7 660.5,425.5 661,425.6 661.5,425.5 662,425.5 662.5,425.4 663,426.9 663.5,427 664,426.1 664.5,425.8 665,425.6 665.5,425.5 666,425.7 666.5,426.1 667,425.9 667.5,426.7 668,427.4 668.5,425.9 669,426.2 669.5,426.7 670,426.8 670.5,426.9 671,425.5 671.5,425.5 672,425.8 672.5,425.3 673,425.4 673.5,426 674,424.4 674.5,424.6 675,424.4 675.5,425.8 676,426.1 676.5,425.6 677,424.4 677.5,425.6 678,424.7 678.5,425.6 679,425.3 679.5,423.9 680,423.9 680.5,423.9 681,425.5 681.5,425.7 682,425.1 682.5,426.8 683,427.2 683.5,425.4 684,425.5 684.5,425.5 685,425.5 685.5,425.3 686,426.1 686.5,425.7 687,424.4 687.5,424.3 688,425.6 688.5,425 689,425.8 689.5,425.5 690,425.7 690.5,425.7 691,425.8 691.5,425.7 692,425.8 692.5,425.9 693,425.6 693.5,426.2 694,425.7 694.5,425.6 695,425.4 695.5,423.9 696,424 696.5,423.8 697,426 697.5,426.8 698,427 698.5,426.6 699,426 699.5,425.2 700,426 700.5,425.4 701,424.9 701.5,425.9 702,425.5 702.5,425.4 703,425.7 703.5,425.6 704,425.6 704.5,425.7 705,425.4 705.5,425.6 706,425.3 706.5,425.6 707,425.3 707.5,423.5 708,423.7 708.5,423.6 709,425.6 709.5,425.1 710,425.7 710.5,425.4 711,424.9 711.5,425.2 712,425.4 712.5,425.6 713,425.5 713.5,425.2 714,425.3 714.5,425.2 715,425.6 715.5,425.5 716,425.7 716.5,425.1 717,425.5 717.5,426.1 718,425.7 718.5,425.5 719,425.3 719.5,425.9 720,427 720.5,425.3 721,425.3 721.5,425.6 722,425.6 722.5,425.6 723,425.9 723.5,425.3 724,425.5 724.5,424.3 725,424.3 725.5,424 726,425.4 726.5,425.5 727,426 727.5,424.3 728,425.5 728.5,425.8 729,425.3 729.5,425.6 730,425.1 730.5,425.6 731,427.4 731.5,427.4 732,427.1 732.5,425.6 733,425.5 733.5,425.8 734,425.7 734.5,425.2 735,425.4 735.5,425.4 736,424.6 736.5,424.5 737,424.5 737.5,426.4 738,425.5 738.5,426 739,425.6 739.5,425.1 740,423.8 740.5,423.9 741,423.8 741.5,425.6 742,425.5 742.5,425.4 743,425.8 743.5,425.5 744,425.4 744.5,427.1 745,425.5 745.5,425.8 746,425.6 746.5,425.3 747,425.2 747.5,423.8 748,424.5 748.5,425.4 749,425.7 749.5,425.1 750,425.2 750.5,425.4 751,424.8 751.5,425.1 752,425.3 752.5,425.7 753,425.9 753.5,425.6 754,425.6 754.5,423.3 755,423.3 755.5,425.2 756,425.3 756.5,425.5 757,425.2 757.5,425.5 758,425.3 758.5,427.1 759,425.6 759.5,425.2 760,425.9 760.5,425.7 761,425.2 761.5,425.8 762,425.2 762.5,425.8 763,425.6 763.5,425.1 764,425.2 764.5,425.4 765,425.7 765.5,425.5 766,425.5 766.5,423.9 767,425 767.5,423.9 768,424.1 768.5,425.7 769,425.3 769.5,423.5 770,423.5 770.5,423.5 771,426 771.5,423.5 772,423.8 772.5,423.8 773,425.6 773.5,425.3 774,425.7 774.5,425.3 775,425.7 775.5,425.3 776,425.5 776.5,425.5 777,425.9 777.5,424.9 778,426.1 778.5,425.3 779,425.6 779.5,425.7 780,425.7 780.5,425.8 781,425.8 781.5,426.2 782,425.9 782.5,425.6 783,425.6 783.5,425.6 784,426 784.5,426.2 785,425.9 785.5,424.8 786,425.1 786.5,425.6 787,425.6 787.5,426.7 788,427 788.5,426 789,425.7 789.5,425.2 790,425.3 790.5,425.6 791,425.7 791.5,425.3 792,425.8 792.5,425.1 793,424.9 793.5,423.9 794,425.9 794.5,426 795,425.1 795.5,425.1 796,425.7 796.5,546.6 797,546.5 797.5,544.8 798,545.5 798.5,544.2 799,544.1 799.5,544.1 800,544.2 800.5,543.9 801,543.6 801.5,543.2 802,543.1 802.5,543.9 803,543.6 803.5,543.5 804,542.1 804.5,542.2 805,542.4 805.5,542 806,541.9 806.5,542 807,542 807.5,542 808,541.5 808.5,541.4 809,541.2 809.5,541.3 810,541.1 810.5,541 811,541 811.5,540.7 812,540.4 812.5,540.6 813,540.9 813.5,540.8 814,540.7 814.5,540.3 815,539.3 815.5,540.5 816,540 816.5,540.1 817,540.3 817.5,538.9 818,538.8 818.5,539 819,539.8 819.5,541 820,541.2 820.5,539.1 821,539.6 821.5,539.3 822,539.3" fill="none" stroke-width="1.8"/>
<polyline points="486,536.6 486.5,536.4 487,536.1 487.5,536.3 488,536.2 488.5,536.1 489,536.5 489.5,536.7 490,536 490.5,536.6 491,536.2 491.5,536.3 492,536.3 492.5,536.6 493,536.3 493.5,536.3 494,536.4 494.5,537.3 495,537.2 495.5,536.3 496,534.8 496.5,535.7 497,536.3 497.5,536 498,535.9 498.5,535.3 499,534.3 499.5,532.9 500,531.6 500.5,529.2 501,526.9 501.5,524.6 502,522.3 502.5,520.2 503,518.3 503.5,516.4 504,514.8 504.5,513.4 505,511.9 505.5,510.6 506,509.4 506.5,508.5 507,507.3 507.5,506.3 508,505.2 508.5,504.3 509,503.4 509.5,502 510,501.1 510.5,500.4 511,500.1 511.5,499.7 512,498.4 512.5,497.7 513,496.9 513.5,496.3 514,495.6 514.5,495 515,493.9 515.5,493.7 516,493 516.5,492.6 517,492.3 517.5,491.4 518,491.4 518.5,490.2 519,490 519.5,489.4 520,489 520.5,488.4 521,488 521.5,487.4 522,487.2 522.5,486.7 523,486.2 523.5,485.4 524,485.1 524.5,485.2 525,484.9 525.5,484.6 526,484.1 526.5,483.8 527,483.6 527.5,483.2 528,482.9 528.5,482.6 529,482.2 529.5,481.9 530,481.7 530.5,481.5 531,481.3 531.5,481.2 532,480.7 532.5,480.4 533,480.7 533.5,480.5 534,479.9 534.5,479.6 535,479.4 535.5,479.1 536,479 536.5,478.6 537,478.7 537.5,478.5 538,478.1 538.5,478 539,477.1 539.5,478 540,476.5 540.5,475.6 541,475.8 541.5,477.1 542,476.5 542.5,478.6 543,478.6 543.5,476.4 544,475.8 544.5,475.8 545,475.9 545.5,475.8 546,475.6 546.5,474.3 547,473.8 547.5,475.6 548,475.4 548.5,475.3 549,475.1 549.5,474.8 550,474.6 550.5,474.4 551,474.9 551.5,474.4 552,473.9 552.5,474.2 553,473.6 553.5,476 554,475.9 554.5,475.6 555,473.6 555.5,472.7 556,472.4 556.5,473 557,473.7 557.5,473 558,472.8 558.5,473.4 559,473.2 559.5,472.7 560,472.4 560.5,472.4 561,472.5 561.5,471.4 562,472.7 562.5,472.4 563,472.5 563.5,472.2 564,472 564.5,470.3 565,470.6 565.5,470.7 566,471.8 566.5,472.1 567,471.6 567.5,471.7 568,471.6 568.5,471.9 569,471.6 569.5,471.4 570,472.7 570.5,472.3 571,472 571.5,471 572,471.1 572.5,470.1 573,469.9 573.5,470.9 574,470.2 574.5,471 575,469.5 575.5,471 576,472 576.5,470.9 577,470.4 577.5,470.5 578,470.5 578.5,470.6 579,469.1 579.5,469 580,468.9 580.5,470.1 581,468.4 581.5,467.7 582,469.8 582.5,470.3 583,469.7 583.5,469.8 584,469 584.5,468.6 585,469.4 585.5,469.9 586,469.5 586.5,469.4 587,467 587.5,467.5 588,469.5 588.5,469.2 589,469 589.5,469.2 590,469.2 590.5,469.2 591,469.1 591.5,469.6 592,469.2 592.5,470.2 593,469 593.5,470.3 594,470.6 594.5,470.1 595,468.8 595.5,469.3 596,466.8 596.5,468.9 597,468.7 597.5,468.6 598,468.5 598.5,469 599,468.8 599.5,468.7 600,468.8 600.5,468.7 601,468.3 601.5,468.1 602,468.8 602.5,468.4 603,468.4 603.5,468.8 604,468 604.5,467.6 605,467.8 605.5,468 606,468.2 606.5,468.5 607,469.3 607.5,468.4 608,469.7 608.5,467.8 609,468.2 609.5,468 610,467.8 610.5,467.7 611,467.5 611.5,468.9 612,467.7 612.5,467.4 613,468.2 613.5,466.2 614,468.3 614.5,467.6 615,467.5 615.5,467.8 616,467.6 616.5,467.9 617,467.9 617.5,467.8 618,467.9 618.5,469 619,467.3 619.5,468.8 620,467.5 620.5,467.1 621,467.1 621.5,465.4 622,467.5 622.5,467.2 623,467.2 623.5,467.1 624,467.1 624.5,466.9 625,467.3 625.5,465.5 626,465.8 626.5,465.6 627,467.3 627.5,466.9 628,466.7 628.5,467.2 629,466.7 629.5,466.9 630,467.1 630.5,466.5 631,468.6 631.5,468.5 632,466.8 632.5,466.7 633,466.9 633.5,468.1 634,468.5 634.5,468.6 635,466.7 635.5,466.4 636,466.6 636.5,467.9 637,468.4 637.5,467.9 638,466.9 638.5,466.6 639,466.6 639.5,466.5 640,466.5 640.5,465.5 641,465.1 641.5,465.5 642,466.9 642.5,466.3 643,466.7 643.5,466.6 644,466.6 644.5,466.2 645,468.1 645.5,468.1 646,466.9 646.5,466.4 647,466.3 647.5,466 648,466 648.5,466.1 649,466.3 649.5,467 650,467.2 650.5,466.8 651,466.5 651.5,466.2 652,468.2 652.5,465.9 653,466.5 653.5,466.5 654,466.1 654.5,465.9 655,466.2 655.5,466.3 656,466.2 656.5,466.2 657,466.2 657.5,465.8 658,466.2 658.5,465.9 659,465.3 659.5,465.9 660,465.8 660.5,466 661,466.2 661.5,465.9 662,466.4 662.5,465.8 663,465.4 663.5,466 664,465.8 664.5,465.6 665,465.8 665.5,465.7 666,465.7 666.5,466.3 667,465.9 667.5,465.8 668,466.2 668.5,465.7 669,464 669.5,465.4 670,465.7 670.5,465.3 671,465.4 671.5,465.6 672,466 672.5,466 673,465.9 673.5,464.3 674,465.5 674.5,465.8 675,466.1 675.5,467.3 676,465.5 676.5,465.6 677,465.6 677.5,465.7 678,465.5 678.5,465.8 679,467.1 679.5,467.1 680,465.4 680.5,465.7 681,465.6 681.5,465.8 682,465.6 682.5,466 683,465.7 683.5,465.3 684,465.3 684.5,465.9 685,465.5 685.5,465.5 686,465.9 686.5,465.6 687,465.3 687.5,465.4 688,465.8 688.5,466.1 689,465.8 689.5,465.5 690,465.5 690.5,465.6 691,463.3 691.5,463.8 692,464 692.5,465.9 693,465.8 693.5,466 694,465.9 694.5,465.8 695,465.4 695.5,465.5 696,464.9 696.5,465.4 697,465.5 697.5,465.3 698,465 698.5,465.8 699,465.5 699.5,465.9 700,465.6 700.5,465.8 701,465.7 701.5,465.2 702,465.3 702.5,465.3 703,465.2 703.5,467 704,466.6 704.5,466.7 705,465.1 705.5,465.6 706,465.3 706.5,465.7 707,465.3 707.5,465.8 708,465.7 708.5,465.3 709,467.3 709.5,467.2 710,467 710.5,465.1 711,464.3 711.5,464 712,464 712.5,465.2 713,465.2 713.5,465 714,463.6 714.5,463.5 715,464 715.5,464.6 716,465.4 716.5,465.3 717,465.1 717.5,465.4 718,465 718.5,465.3 719,464.7 719.5,464.6 720,465.2 720.5,465.3 721,465.5 721.5,465.2 722,467.1 722.5,465.4 723,465.2 723.5,465.4 724,464.9 724.5,464.8 725,465.1 725.5,465.4 726,465 726.5,465.3 727,464.9 727.5,465 728,465.2 728.5,465 729,466.1 729.5,464.5 730,464 730.5,463.7 731,464.9 731.5,465.6 732,466.4 732.5,465 733,464.9 733.5,465.4 734,465.4 734.5,465.4 735,465.4 735.5,464.9 736,465.5 736.5,465 737,464.7 737.5,464.9 738,465.2 738.5,464.9 739,465.1 739.5,465.2 740,465.3 740.5,465.3 741,465.1 741.5,465.1 742,464.9 742.5,465.2 743,465.1 743.5,466.8 744,466.3 744.5,466.4 745,465.4 745.5,464.8 746,464.2 746.5,464 747,465 747.5,465.3 748,465.3 748.5,465.4 749,463.3 749.5,463.4 750,463.8 750.5,465.1 751,465.3 751.5,465.1 752,465.3 752.5,464.5 753,465.4 753.5,465 754,464.8 754.5,466.4 755,466.6 755.5,466.7 756,465.2 756.5,464.9 757,465.4 757.5,465 758,465 758.5,465.1 759,465.3 759.5,465.2 760,465.1 760.5,465.1 761,465.5 761.5,465.4 762,465.3 762.5,465.3 763,465.8 763.5,465.4 764,465.3 764.5,465.2 765,465.3 765.5,464.4 766,463.6 766.5,463 767,463.2 767.5,464.8 768,463.8 768.5,463.9 769,464.2 769.5,465.4 770,465.5 770.5,465 771,464.9 771.5,465.2 772,464.8 772.5,464.7 773,464.9 773.5,465 774,464.5 774.5,465.3 775,465.1 775.5,465.2 776,464.6 776.5,464.8 777,464.8 777.5,464.9 778,464.9 778.5,465.1 779,466.5 779.5,464.7 780,465.5 780.5,464.8 781,464.7 781.5,464.4 782,464.9 782.5,465.1 783,463.2 783.5,463.7 784,463.5 784.5,464.5 785,466.5 785.5,466.2 786,466 786.5,465.2 787,465.1 787.5,464.6 788,465 788.5,465 789,464.9 789.5,464.8 790,464.9 790.5,467.1 791,467 791.5,464.5 792,462.5 792.5,464.4 793,464.5 793.5,464.6 794,464.7 794.5,464.8 795,464.8 795.5,464.8 796,465.2 796.5,545.9 797,545.8 797.5,545.5 798,543.6 798.5,543.6 799,543.3 799.5,543 800,542.3 800.5,542.7 801,542.4 801.5,541.1 802,540.2 802.5,541.7 803,541.4 803.5,541.8 804,541.2 804.5,541.5 805,541.3 805.5,541.1 806,541.2 806.5,539.4 807,539.3 807.5,540.9 808,540.5 808.5,540.3 809,540.4 809.5,540.2 810,540.6 810.5,540.3 811,538.7 811.5,538.5 812,538.7 812.5,540.1 813,539.9 813.5,539.6 814,539.4 814.5,539.5 815,539.6 815.5,539.4 816,538.5 816.5,538.4 817,538.3 817.5,539.3 818,540.1 818.5,538.9 819,538.8 819.5,539 820,538.7 820.5,538.8 821,538.7 821.5,538.8 822,538.5" fill="none" stroke-width="1.8"/>
<polyline points="486,534.7 486.5,535.4 487,537.6 487.5,537.6 488,537.9 488.5,536.3 489,536.2 489.5,536.1 490,536 490.5,534.5 491,534.8 491.5,534.7 492,536.3 492.5,536.1 493,534.7 493.5,535.1 494,536.4 494.5,536.2 495,536.2 495.5,536.2 496,536 496.5,536.1 497,536.1 497.5,536.1 498,536.2 498.5,536.6 499,536.5 499.5,536.5 500,535.9 500.5,536.3 501,535.6 501.5,535.4 502,535.2 502.5,534.9 503,534.2 503.5,533.5 504,533.7 504.5,533.3 505,532.9 505.5,532.5 506,531.8 506.5,531.3 507,530.4 507.5,529.9 508,529.8 508.5,529.4 509,529 509.5,528.5 510,527.9 510.5,527.5 511,527 511.5,526.7 512,526.4 512.5,525.8 513,525.5 513.5,525.1 514,524.8 514.5,524.5 515,524.1 515.5,524.4 516,523.6 516.5,523.3 517,523 517.5,522.7 518,522.4 518.5,522 519,521.7 519.5,521.6 520,521.4 520.5,521 521,520.9 521.5,520.7 522,520.5 522.5,520.3 523,520.2 523.5,519.8 524,519.5 524.5,519.4 525,519.3 525.5,518.9 526,518.7 526.5,518.5 527,517.9 527.5,517.8 528,518.1 528.5,517.9 529,517.7 529.5,517 530,516.9 530.5,516.7 531,517 531.5,516.7 532,516.5 532.5,516.3 533,516.2 533.5,516 534,515.8 534.5,515.8 535,515.6 535.5,515.4 536,515.2 536.5,515.1 537,514.9 537.5,514.7 538,514.6 538.5,513.9 539,513.8 539.5,513.6 540,514 540.5,513.8 541,513.6 541.5,513.6 542,513.3 542.5,513.2 543,513.1 543.5,512.8 544,512.8 544.5,512.7 545,511.9 545.5,511.9 546,511.8 546.5,512.2 547,511.9 547.5,512 548,511.8 548.5,511.8 549,511.5 549.5,511.5 550,511.4 550.5,511.2 551,511 551.5,510.9 552,511.1 552.5,510.7 553,510.6 553.5,510.6 554,510.3 554.5,509.7 555,509.5 555.5,510.1 556,510 556.5,510 557,509.4 557.5,509.7 558,509.6 558.5,509.5 559,509.4 559.5,509.3 560,509.2 560.5,509.3 561,508.6 561.5,508.4 562,508.9 562.5,508.8 563,508.7 563.5,508.6 564,508.7 564.5,508.4 565,508.4 565.5,507.9 566,507.7 566.5,507.7 567,508 567.5,507.9 568,508.2 568.5,508.3 569,508.4 569.5,507.7 570,507.7 570.5,507.6 571,507.5 571.5,507.6 572,507.6 572.5,507.3 573,507 573.5,506.8 574,506.7 574.5,507.1 575,507.1 575.5,506.9 576,506.9 576.5,506.8 577,506.8 577.5,507.2 578,507.2 578.5,506.5 579,506.4 579.5,506.4 580,506.3 580.5,506.2 581,506.7 581.5,506.7 582,506.6 582.5,506.2 583,505.9 583.5,505.9 584,505.8 584.5,505.9 585,505.8 585.5,506.4 586,506.1 586.5,506.2 587,505.7 587.5,505.5 588,505.4 588.5,505.3 589,505.5 589.5,505.3 590,505.4 590.5,505.3 591,505.4 591.5,505.2 592,505.1 592.5,505.1 593,505.4 593.5,505.2 594,505.3 594.5,504.9 595,504.9 595.5,504.8 596,504.7 596.5,504.7 597,504.8 597.5,504.6 598,504.8 598.5,504.6 599,504.4 599.5,504.3 600,504.5 600.5,504.4 601,504.4 601.5,504.5 602,502.5 602.5,502.3 603,502.5 603.5,504.3 604,503.7 604.5,504.4 605,503.1 605.5,503.4 606,503.1 606.5,504.3 607,502.1 607.5,501.8 608,504.1 608.5,504.2 609,504.8 609.5,503.8 610,503.3 610.5,503.8 611,503.4 611.5,503.9 612,501.9 612.5,501.8 613,502.1 613.5,503.6 614,503.6 614.5,503.6 615,503.4 615.5,505.4 616,503.2 616.5,503.5 617,503.7 617.5,503.1 618,503 618.5,503 619,503.7 619.5,503.1 620,502.9 620.5,503.3 621,502.5 621.5,502.8 622,503.4 622.5,504.2 623,503 623.5,503.1 624,503.1 624.5,502.9 625,503.1 625.5,503.3 626,502.7 626.5,502.8 627,502.9 627.5,503.1 628,502.9 628.5,502.8 629,502.4 629.5,502.5 630,502.9 630.5,502.6 631,504 631.5,504.1 632,503.3 632.5,502.5 633,503 633.5,503 634,502.8 634.5,502.4 635,502.5 635.5,502.4 636,503 636.5,502.6 637,503.3 637.5,503.8 638,503.2 638.5,502.4 639,504.3 639.5,502.3 640,502.2 640.5,502.4 641,502 641.5,502.4 642,502 642.5,502.4 643,502.3 643.5,500.5 644,500.3 644.5,502.2 645,500.3 645.5,499.3 646,501.7 646.5,502 647,502 647.5,502 648,502.2 648.5,501.9 649,501.2 649.5,501.7 650,502 650.5,501.7 651,501.7 651.5,501.5 652,501.9 652.5,501.5 653,501.7 653.5,500.6 654,501.6 654.5,503.3 655,501.5 655.5,501.8 656,501.6 656.5,501.7 657,501.2 657.5,501.2 658,501.4 658.5,501.6 659,501.5 659.5,501.2 660,501.6 660.5,499.8 661,501.5 661.5,501.4 662,501.2 662.5,501.1 663,499.6 663.5,499.5 664,499.2 664.5,501.3 665,501.5 665.5,501.4 666,502.6 666.5,502.4 667,502.6 667.5,501.1 668,499.5 668.5,501.5 669,501.2 669.5,500.8 670,501.4 670.5,501.3 671,501.3 671.5,501 672,501 672.5,501 673,501.1 673.5,501.1 674,499.8 674.5,500.6 675,501.6 675.5,501.3 676,501.2 676.5,500.2 677,501.5 677.5,501 678,501.2 678.5,501.1 679,502.7 679.5,502.7 680,502.8 680.5,501.3 681,502.9 681.5,503.2 682,501 682.5,501.4 683,500.9 683.5,501.3 684,501.4 684.5,499.7 685,499.4 685.5,501.2 686,501.6 686.5,499.9 687,500.2 687.5,501.4 688,501 688.5,501.5 689,501.6 689.5,502.4 690,502.4 690.5,501.6 691,500.7 691.5,501 692,500.8 692.5,501.2 693,500.3 693.5,501.2 694,500.9 694.5,500.9 695,501.5 695.5,500.9 696,500.6 696.5,501.1 697,501 697.5,500.8 698,501.5 698.5,500.9 699,501.1 699.5,500.9 700,501.2 700.5,500.8 701,500.6 701.5,499.8 702,499.8 702.5,501.1 703,502.1 703.5,502.3 704,500.4 704.5,499.6 705,500.7 705.5,501 706,500.7 706.5,500.5 707,500.7 707.5,500.9 708,500.8 708.5,500.6 709,501 709.5,501.2 710,500.9 710.5,500.1 711,500.8 711.5,500.7 712,500.2 712.5,500.3 713,500.8 713.5,500.6 714,500.6 714.5,500.4 715,500.9 715.5,500.3 716,500.3 716.5,500.5 717,500.2 717.5,500.4 718,501 718.5,500.5 719,500.9 719.5,500.9 720,500.7 720.5,500.3 721,499.4 721.5,498.9 722,500.4 722.5,500.6 723,500.8 723.5,500.5 724,500.4 724.5,500.4 725,500.4 725.5,500.6 726,500.6 726.5,502 727,500.7 727.5,500.6 728,500.2 728.5,500.2 729,500.6 729.5,501.7 730,500.3 730.5,500.4 731,500.1 731.5,500 732,498.7 732.5,499.9 733,500.5 733.5,500.5 734,500.2 734.5,498.2 735,500.6 735.5,500.5 736,500.2 736.5,500.7 737,498.6 737.5,500.5 738,498.6 738.5,498.4 739,498.4 739.5,500.9 740,500.2 740.5,500.4 741,500.4 741.5,500.3 742,500.3 742.5,500.3 743,500.5 743.5,500.1 744,500.3 744.5,499.8 745,499.9 745.5,500.1 746,498.8 746.5,498.4 747,498.7 747.5,500.4 748,501.6 748.5,501.3 749,501.6 749.5,500.2 750,500.7 750.5,500 751,500.4 751.5,500.2 752,500.1 752.5,500.5 753,499.6 753.5,499.2 754,498.9 754.5,500.3 755,500.3 755.5,500.8 756,500.4 756.5,501.6 757,502.2 757.5,500.4 758,500.5 758.5,500.4 759,500.6 759.5,500.3 760,500.1 760.5,500.2 761,500.1 761.5,500.2 762,500.1 762.5,500 763,500 763.5,501.9 764,499.6 764.5,500.3 765,500.2 765.5,500 766,500.3 766.5,500 767,500 767.5,500.2 768,500.5 768.5,500.1 769,499.8 769.5,499.9 770,500.3 770.5,500.1 771,500.3 771.5,500.2 772,500.3 772.5,500.6 773,499.8 773.5,500.7 774,500.3 774.5,500.7 775,499.9 775.5,500.2 776,500.1 776.5,501.6 777,500.2 777.5,500.2 778,500.3 778.5,498.9 779,498.8 779.5,500.2 780,500 780.5,500.1 781,499.8 781.5,498.6 782,498.4 782.5,500.1 783,499.8 783.5,500.1 784,500.3 784.5,499.9 785,499.9 785.5,500.3 786,500.3 786.5,500.2 787,499.9 787.5,499.9 788,500 788.5,498.2 789,497.8 789.5,499.8 790,500.4 790.5,500.1 791,500.4 791.5,500.3 792,500 792.5,500 793,500.3 793.5,500.3 794,500.4 794.5,500.1 795,500.2 795.5,500 796,500.1 796.5,542.8 797,542.6 797.5,543.3 798,543 798.5,543 799,541.4 799.5,542.8 800,542.4 800.5,541 801,540.1 801.5,540.1 802,540.3 802.5,540.6 803,540.4 803.5,540.1 804,540.2 804.5,539.9 805,540 805.5,539.7 806,540.2 806.5,539.9 807,538.7 807.5,538.4 808,539.5 808.5,539.4 809,539.5 809.5,539.4 810,539.3 810.5,539.3 811,539.1 811.5,539.2 812,538.9 812.5,538.8 813,539.3 813.5,540.1 814,539.2 814.5,538.8 815,539.2 815.5,539.5 816,539.6 816.5,538.6 817,538.6 817.5,538.5 818,538.4 818.5,538.6 819,538.4 819.5,538.5 820,538.5 820.5,538.5 821,538.4 821.5,538 822,538.1" fill="none" stroke-width="1.8"/>
<polyline points="486,536.2 486.5,536.7 487,536.1 487.5,536.4 488,536.6 488.5,536.4 489,536.1 489.5,536.1 490,536 490.5,536.6 491,536 491.5,536.3 492,535.9 492.5,536.7 493,535.9 493.5,536.1 494,536.4 494.5,536 495,536.3 495.5,536.1 496,536.2 496.5,537.4 497,536.6 497.5,536.7 498,536.2 498.5,536.3 499,536.1 499.5,536.7 500,536.1 500.5,536 501,536.2 501.5,535.7 502,536 502.5,535.9 503,536.3 503.5,536.4 504,535.9 504.5,535.8 505,535.7 505.5,535.6 506,535.7 506.5,535.9 507,535.9 507.5,535.3 508,535.3 508.5,535 509,535 509.5,534.8 510,534.9 510.5,534.7 511,534.4 511.5,534.3 512,534.3 512.5,534.2 513,534.1 513.5,534 514,533.8 514.5,533.8 515,533.6 515.5,533.5 516,533.4 516.5,533.3 517,533.2 517.5,533.1 518,533.1 518.5,532.9 519,532.9 519.5,532.8 520,532.7 520.5,533.1 521,533 521.5,532.6 522,531.9 522.5,532.4 523,532.3 523.5,532.2 524,532 524.5,532 525,532.6 525.5,532.4 526,531.9 526.5,531.8 527,531.9 527.5,531.6 528,531.6 528.5,531.6 529,531.4 529.5,531.4 530,531.4 530.5,531.8 531,531.3 531.5,531.6 532,531.6 532.5,531.6 533,530.9 533.5,531.1 534,531 534.5,530.9 535,530.8 535.5,530.9 536,530.8 536.5,531.2 537,530.6 537.5,530.7 538,530.6 538.5,530.5 539,530.4 539.5,530.4 540,530.4 540.5,529.8 541,530.2 541.5,530.2 542,530.2 542.5,530.3 543,530 543.5,530 544,530.6 544.5,530.3 545,530.4 545.5,529.8 546,529.9 546.5,530 547,529.8 547.5,529.7 548,529.6 548.5,529.6 549,529.5 549.5,530 550,529.3 550.5,529.4 551,529.4 551.5,529.5 552,528.8 552.5,528.9 553,528.7 553.5,529.2 554,529.4 554.5,529.7 555,529.5 555.5,529.1 556,528.6 556.5,528.7 557,528.9 557.5,528.9 558,529.1 558.5,528.8 559,528.9 559.5,528.8 560,528.8 560.5,528.6 561,528.9 561.5,529.1 562,529.1 562.5,528.6 563,528.5 563.5,528.6 564,528.4 564.5,528.1 565,528.3 565.5,528.3 566,528.3 566.5,528.4 567,528.3 567.5,528.2 568,528.3 568.5,528.3 569,528.1 569.5,528.1 570,528 570.5,528.1 571,528.1 571.5,527.9 572,527.9 572.5,528 573,528 573.5,528 574,527.8 574.5,528 575,527.9 575.5,527.8 576,527.7 576.5,527.7 577,527.8 577.5,527.7 578,527.7 578.5,527.6 579,528.2 579.5,527.6 580,528 580.5,528 581,527.5 581.5,527.4 582,527.3 582.5,527.4 583,527.3 583.5,527.4 584,527.3 584.5,527.3 585,527.3 585.5,527.2 586,527.2 586.5,527.3 587,527.4 587.5,527.3 588,527.3 588.5,527 589,527.1 589.5,527.1 590,527.2 590.5,527.1 591,526.6 591.5,526.5 592,526.9 592.5,527 593,526.9 593.5,526.9 594,527 594.5,527 595,526.8 595.5,526.9 596,526.9 596.5,526.9 597,526.7 597.5,526.7 598,526.8 598.5,526.7 599,526.6 599.5,526.5 600,526.1 600.5,526.1 601,526.5 601.5,526.1 602,526.2 602.5,526.4 603,526.3 603.5,526.4 604,526.4 604.5,526 605,526.3 605.5,525.9 606,526.4 606.5,526.4 607,526.3 607.5,526.2 608,526.3 608.5,526.2 609,526.3 609.5,526.3 610,526.4 610.5,526.2 611,526.4 611.5,526.2 612,526.1 612.5,526.1 613,526 613.5,526.1 614,526.1 614.5,525.9 615,526.1 615.5,526.1 616,525.8 616.5,526.1 617,526.1 617.5,525.3 618,525.9 618.5,525.8 619,526 619.5,525.8 620,525.8 620.5,525.9 621,525.9 621.5,525.8 622,525.8 622.5,525.3 623,525.3 623.5,525.7 624,525.7 624.5,525.7 625,525.6 625.5,525.6 626,525.7 626.5,526.4 627,526.1 627.5,526.3 628,525.6 628.5,525.6 629,525.7 629.5,525.7 630,525.7 630.5,525.7 631,525.6 631.5,525.9 632,525.8 632.5,525.6 633,525.6 633.5,525.5 634,525.4 634.5,525.6 635,525.9 635.5,525.9 636,525.9 636.5,525.4 637,525.4 637.5,525.6 638,525.7 638.5,525.7 639,525.3 639.5,525.5 640,525.3 640.5,525.3 641,525.4 641.5,525.2 642,525.2 642.5,525.3 643,525.1 643.5,524.7 644,524.9 644.5,525.3 645,525.3 645.5,524.8 646,524.7 646.5,524.6 647,525.6 647.5,524.9 648,525.4 648.5,525 649,524.9 649.5,525.2 650,525.6 650.5,525.4 651,525.1 651.5,526.8 652,526.9 652.5,525.3 653,526.4 653.5,526.8 654,524.7 654.5,524.9 655,524.7 655.5,525.5 656,524.6 656.5,526.4 657,526.6 657.5,526.3 658,524.6 658.5,524.9 659,524.9 659.5,525.3 660,525.1 660.5,524.5 661,526.4 661.5,526.8 662,526.4 662.5,524.7 663,524.4 663.5,524.5 664,525.1 664.5,523.5 665,523.3 665.5,524.7 666,525.3 666.5,524.6 667,524.9 667.5,525 668,525.2 668.5,525.7 669,524.4 669.5,524.5 670,525 670.5,525.3 671,524.9 671.5,524.5 672,524.9 672.5,524.5 673,524.4 673.5,524.5 674,525.8 674.5,525.8 675,526.3 675.5,524.5 676,524.2 676.5,524.8 677,524.4 677.5,524.4 678,524.7 678.5,524.4 679,524.5 679.5,524.6 680,524.5 680.5,524.5 681,525.7 681.5,526.3 682,525 682.5,524.7 683,524.4 683.5,524.6 684,524.6 684.5,524.2 685,524.7 685.5,524.4 686,525.4 686.5,525.9 687,524.9 687.5,524 688,524.5 688.5,524.4 689,524.7 689.5,523.6 690,524.5 690.5,525.3 691,525.7 691.5,525.5 692,524.4 692.5,524 693,524.3 693.5,523.9 694,524.1 694.5,524.2 695,524.6 695.5,524.3 696,524.1 696.5,524.2 697,524.3 697.5,524.1 698,523.8 698.5,524.2 699,524 699.5,522.6 700,522.5 700.5,522.8 701,524 701.5,523.7 702,523.6 702.5,524.4 703,524.1 703.5,522.9 704,523 704.5,522.7 705,523.8 705.5,523.9 706,524.1 706.5,523.5 707,523.6 707.5,523.5 708,522.6 708.5,522.4 709,522.1 709.5,523.8 710,523.6 710.5,523.4 711,524.1 711.5,523.7 712,524 712.5,523.3 713,523.9 713.5,523.3 714,524.4 714.5,523.3 715,526.1 715.5,525.6 716,525.6 716.5,523.9 717,523.5 717.5,524 718,524 718.5,523.8 719,523.9 719.5,524.3 720,523.9 720.5,523.6 721,524 721.5,522.2 722,522.1 722.5,522.5 723,523.5 723.5,523.7 724,523.9 724.5,525.2 725,524.9 725.5,524.4 726,523.4 726.5,525.6 727,525 727.5,524.8 728,523.5 728.5,523.9 729,523.7 729.5,523.9 730,523.7 730.5,523.5 731,523.3 731.5,523.5 732,523.7 732.5,523.4 733,523.9 733.5,521.9 734,521.7 734.5,522.1 735,523.8 735.5,523.9 736,524.5 736.5,525.2 737,524.9 737.5,523.4 738,523.7 738.5,523.8 739,523.1 739.5,523.4 740,523.4 740.5,523.7 741,523.9 741.5,523.6 742,523.5 742.5,523.6 743,523.4 743.5,522.9 744,523.6 744.5,522.4 745,523.7 745.5,523 746,523.4 746.5,525.4 747,523.9 747.5,523.4 748,523.5 748.5,523 749,523 749.5,523.5 750,523.7 750.5,524.2 751,524.5 751.5,523.3 752,523.3 752.5,524.6 753,524.5 753.5,523.7 754,523.4 754.5,522.1 755,523.2 755.5,521.8 756,522.2 756.5,523 757,523.1 757.5,523.3 758,523.2 758.5,523.5 759,522.8 759.5,523.2 760,523.7 760.5,523.4 761,523.1 761.5,521.8 762,521.6 762.5,522 763,523.4 763.5,522.9 764,523.3 764.5,523.3 765,523.3 765.5,523.3 766,523.3 766.5,523.2 767,523 767.5,523 768,523.1 768.5,524.8 769,524.6 769.5,525 770,522.9 770.5,522.7 771,522.3 771.5,521.6 772,522.2 772.5,523.4 773,523 773.5,523.2 774,523.2 774.5,523.3 775,523.1 775.5,523.3 776,523.3 776.5,523.6 777,521.6 777.5,523.1 778,521.8 778.5,522 779,522.8 779.5,523.7 780,523.3 780.5,523.4 781,523.3 781.5,523.1 782,523.1 782.5,524.2 783,524 783.5,524.4 784,523.3 784.5,522.9 785,523.1 785.5,523.5 786,523.7 786.5,521.5 787,522.3 787.5,521.5 788,522.8 788.5,523.6 789,522.9 789.5,523.5 790,523 790.5,523 791,522.8 791.5,524.5 792,523.4 792.5,521.8 793,523.1 793.5,523.3 794,521.6 794.5,523.5 795,521.8 795.5,521.8 796,522.8 796.5,541.8 797,541.8 797.5,540.7 798,540.6 798.5,541 799,540.6 799.5,540.7 800,541 800.5,540.3 801,541.4 801.5,540.9 802,540 802.5,539.9 803,539.9 803.5,539.7 804,539.4 804.5,538.5 805,538.5 805.5,539.2 806,538.5 806.5,538.8 807,539.1 807.5,539.2 808,539 808.5,538.8 809,539 809.5,539.9 810,540.1 810.5,538.7 811,538.8 811.5,538.9 812,538.9 812.5,538.5 813,538.5 813.5,538.7 814,538.6 814.5,538.6 815,539.9 815.5,538.5 816,538.3 816.5,538.2 817,539 817.5,539 818,539.2 818.5,538.2 819,537.4 819.5,537.2 820,537.5 820.5,537.9 821,538 821.5,538.2 822,538.2" fill="none" stroke-width="1.8"/>
<polyline points="486,536 486.5,536.2 487,535.9 487.5,536.8 488,536 488.5,534.6 489,534.7 489.5,536.3 490,536.3 490.5,536.1 491,536.1 491.5,536 492,535.7 492.5,535.9 493,536.3 493.5,536.3 494,536 494.5,536.3 495,535.8 495.5,536 496,536 496.5,536 497,536.5 497.5,536.6 498,536.7 498.5,536 499,536.1 499.5,535.9 500,536.1 500.5,536.1 501,536.1 501.5,535.8 502,536.3 502.5,536.1 503,536.2 503.5,536.6 504,536.6 504.5,536 505,535.6 505.5,536 506,535.5 506.5,536.1 507,536.1 507.5,536 508,535.9 508.5,535.9 509,535.7 509.5,535.6 510,535.7 510.5,536.1 511,535.5 511.5,535.6 512,535.8 512.5,535.9 513,535.9 513.5,535.7 514,536.2 514.5,536 515,536.1 515.5,535.7 516,535.8 516.5,535.3 517,535.3 517.5,535.3 518,535.6 518.5,535.7 519,535.7 519.5,535.6 520,535.6 520.5,535.6 521,535.2 521.5,535.3 522,535.7 522.5,535.2 523,535.5 523.5,535.5 524,535.5 524.5,535.5 525,534.9 525.5,535.5 526,535.4 526.5,535.4 527,535.5 527.5,535.4 528,535.4 528.5,535.3 529,535.1 529.5,535 530,535.4 530.5,535.4 531,535.7 531.5,535.4 532,535.3 532.5,535.3 533,535.2 533.5,535.4 534,535.2 534.5,535.4 535,535.3 535.5,535.4 536,535.3 536.5,535.3 537,535.2 537.5,535.1 538,535.2 538.5,535.2 539,535.2 539.5,535.1 540,535.2 540.5,534.5 541,534.7 541.5,534.7 542,535.1 542.5,535.1 543,535.1 543.5,535.2 544,535.2 544.5,534.7 545,535.1 545.5,535.1 546,535.2 546.5,535.1 547,535.1 547.5,535.1 548,535.1 548.5,535 549,535.1 549.5,535.1 550,535 550.5,535.1 551,534.4 551.5,534.9 552,534.9 552.5,534.9 553,534.9 553.5,534.9 554,535.1 554.5,534.9 555,534.8 555.5,534.8 556,534.8 556.5,534.8 557,534.8 557.5,535 558,534.7 558.5,534.9 559,534.8 559.5,534.8 560,534.6 560.5,534.8 561,534.8 561.5,534.8 562,535.3 562.5,535.4 563,534.6 563.5,534.7 564,534.6 564.5,534.5 565,534.3 565.5,534.7 566,534.6 566.5,534.7 567,534.9 567.5,534.8 568,534.6 568.5,534.6 569,534.7 569.5,534.6 570,534.7 570.5,534.6 571,534.6 571.5,534.6 572,534.6 572.5,534.7 573,534.7 573.5,534.6 574,534.7 574.5,534.7 575,534.6 575.5,534.6 576,534.8 576.5,534.7 577,534.5 577.5,534.7 578,535.1 578.5,535 579,534.5 579.5,534.5 580,534.7 580.5,534.6 581,534.6 581.5,534.7 582,534.4 582.5,534.5 583,534.5 583.5,534.5 584,534.4 584.5,534.6 585,534.4 585.5,534.4 586,534.5 586.5,534.5 587,534.5 587.5,534.6 588,534.6 588.5,534.5 589,534.4 589.5,534.5 590,534.4 590.5,534.5 591,534.4 591.5,534.6 592,534.5 592.5,534.4 593,534.5 593.5,534.4 594,534.4 594.5,534.5 595,533.9 595.5,533.9 596,534.2 596.5,534.5 597,534.3 597.5,534.8 598,534.8 598.5,534.3 599,534.5 599.5,534.4 600,534.5 600.5,534.4 601,534.9 601.5,534.8 602,534.8 602.5,534.3 603,534.3 603.5,534.3 604,534.4 604.5,534.4 605,534.9 605.5,534.8 606,534.2 606.5,534 607,533.9 607.5,534.3 608,534.3 608.5,534.3 609,534.4 609.5,534.4 610,534.3 610.5,533.7 611,533.7 611.5,533.8 612,534.4 612.5,534.2 613,534.4 613.5,534.2 614,534.4 614.5,534.5 615,534.2 615.5,534.3 616,534.3 616.5,534.3 617,534.2 617.5,533.7 618,534.2 618.5,534.3 619,534 619.5,533.9 620,534.3 620.5,534.6 621,534.2 621.5,534.3 622,534.2 622.5,534.3 623,534.1 623.5,534.3 624,534.3 624.5,534.2 625,534.3 625.5,534.1 626,534.1 626.5,533.9 627,533.8 627.5,534.2 628,533.8 628.5,533.8 629,534.2 629.5,534.3 630,534.2 630.5,534.2 631,534.3 631.5,534.2 632,534.3 632.5,534.3 633,534.2 633.5,534.2 634,533.8 634.5,533.8 635,533.8 635.5,534.2 636,534.2 636.5,534.2 637,534.1 637.5,534.2 638,534.2 638.5,534.1 639,534.2 639.5,534.2 640,534.2 640.5,534.3 641,534.2 641.5,534.1 642,534.2 642.5,534.2 643,534.1 643.5,534.2 644,534.1 644.5,534.1 645,534.2 645.5,534.1 646,534.1 646.5,534.1 647,534.1 647.5,534.1 648,534.1 648.5,534.1 649,534 649.5,534.1 650,534.1 650.5,534.1 651,534.1 651.5,534.6 652,534.1 652.5,534 653,533.9 653.5,533.9 654,534 654.5,533.9 655,534 655.5,534 656,534 656.5,533.5 657,534 657.5,534 658,534.5 658.5,534 659,534 659.5,534 660,534 660.5,533.9 661,534 661.5,533.9 662,534 662.5,533.8 663,533.9 663.5,533.6 664,533.6 664.5,533.8 665,533.8 665.5,534 666,533.9 666.5,533.9 667,534 667.5,534.4 668,534.4 668.5,533.7 669,533.8 669.5,533.9 670,533.8 670.5,533.9 671,533.8 671.5,533.3 672,533.8 672.5,534.2 673,534.2 673.5,534.2 674,533.9 674.5,533.9 675,533.9 675.5,533.9 676,533.8 676.5,534 677,532.8 677.5,532.9 678,533.9 678.5,533.5 679,534.2 679.5,533.7 680,533.8 680.5,533.6 681,534.1 681.5,534.1 682,533.9 682.5,533.5 683,533.8 683.5,533.8 684,533.7 684.5,533.6 685,532.5 685.5,533.3 686,534 686.5,532.2 687,533.7 687.5,534 688,533.9 688.5,533.8 689,534 689.5,534.1 690,534.1 690.5,532.2 691,532.6 691.5,532.8 692,534 692.5,534.5 693,535.6 693.5,535.3 694,533.7 694.5,533.7 695,534 695.5,533 696,532.8 696.5,532.9 697,534.5 697.5,533.8 698,533.9 698.5,533.8 699,533.7 699.5,533.4 700,534.3 700.5,533.8 701,533.9 701.5,534.1 702,533.6 702.5,533.7 703,533.9 703.5,532.1 704,531.9 704.5,532.4 705,533.7 705.5,533.8 706,531.9 706.5,534.1 707,533.9 707.5,533.6 708,534.1 708.5,532.4 709,533.6 709.5,533.6 710,533.2 710.5,535.4 711,535.6 711.5,533.4 712,535.5 712.5,534.5 713,533.5 713.5,533.3 714,534 714.5,533.9 715,533.7 715.5,531.6 716,531.6 716.5,532 717,533.5 717.5,533.6 718,533.7 718.5,533.6 719,533.2 719.5,532 720,531.9 720.5,533.4 721,533.6 721.5,533.6 722,533.9 722.5,533.3 723,533.7 723.5,533.4 724,534.1 724.5,533.6 725,533.5 725.5,533.7 726,533.7 726.5,533.5 727,533.8 727.5,534 728,533.9 728.5,533.6 729,534.1 729.5,535.3 730,533.4 730.5,533.6 731,533.6 731.5,533.5 732,532 732.5,531.5 733,532.4 733.5,533.8 734,533.1 734.5,535.2 735,535.2 735.5,535.5 736,534.1 736.5,534.1 737,533.5 737.5,535 738,534.7 738.5,535.1 739,533.1 739.5,533.3 740,533.5 740.5,533.6 741,533.7 741.5,534 742,533.5 742.5,533.3 743,533.5 743.5,531.6 744,531.9 744.5,534 745,534 745.5,532.3 746,531.9 746.5,533.7 747,533.9 747.5,533.6 748,533.6 748.5,533.9 749,533.5 749.5,534.1 750,533.7 750.5,534 751,533.9 751.5,534.2 752,533.3 752.5,534.2 753,534.2 753.5,535 754,535.1 754.5,534 755,533.6 755.5,533.8 756,534 756.5,533.3 757,533.9 757.5,533.8 758,532.4 758.5,531.9 759,533.6 759.5,533.4 760,533.4 760.5,534 761,533.6 761.5,533.6 762,534.1 762.5,533.7 763,534 763.5,533.6 764,533.8 764.5,533.6 765,534 765.5,533.8 766,534 766.5,533.9 767,535 767.5,533.9 768,533.6 768.5,534 769,535.4 769.5,535.5 770,535.3 770.5,533.5 771,534 771.5,534 772,533.8 772.5,533.9 773,533.4 773.5,533.9 774,533.8 774.5,533.5 775,532 775.5,531.8 776,531.9 776.5,533.8 777,533.7 777.5,533.3 778,533.5 778.5,534.1 779,533.9 779.5,533.8 780,533.7 780.5,533.3 781,533.6 781.5,533.5 782,535.4 782.5,535.1 783,533.9 783.5,532.9 784,533.8 784.5,533.8 785,534.2 785.5,533.5 786,533.5 786.5,533.7 787,535.3 787.5,533.6 788,533.3 788.5,533.8 789,532.4 789.5,532.2 790,532 790.5,534.2 791,533.7 791.5,533.6 792,533.4 792.5,533.6 793,533.1 793.5,533.4 794,533.4 794.5,533.1 795,533.3 795.5,533.2 796,533.2 796.5,540.7 797,540.3 797.5,539.3 798,539.3 798.5,538.7 799,540.1 799.5,539.8 800,539.7 800.5,539.3 801,539.3 801.5,540.2 802,539.1 802.5,539.1 803,539 803.5,538.5 804,539.1 804.5,539.1 805,539 805.5,539.8 806,539.5 806.5,539.8 807,538.5 807.5,538.6 808,538.5 808.5,538.5 809,538.4 809.5,538.4 810,538.2 810.5,538.2 811,537.8 811.5,538.3 812,537.9 812.5,538 813,537.8 813.5,539.2 814,539 814.5,538.6 815,537.9 815.5,537.7 816,536.7 816.5,536.8 817,536.5 817.5,537.7 818,537.5 818.5,537 819,536.8 819.5,536.8 820,537.4 820.5,537.7 821,537.7 821.5,537.4 822,537.5" fill="none" stroke-width="1.8"/>
<polyline points="486,535.8 486.5,535.1 487,535.3 487.5,535.4 488,535.8 488.5,535.4 489,535.6 489.5,535.6 490,535.4 490.5,536.2 491,535.2 491.5,535.8 492,534.5 492.5,535.5 493,535.6 493.5,535.8 494,535.4 494.5,534.8 495,535.4 495.5,536.1 496,535.7 496.5,535.6 497,535.8 497.5,537.3 498,537.3 498.5,537.2 499,535.7 499.5,535.3 500,535.4 500.5,537.5 501,537.1 501.5,537.4 502,535.8 502.5,534.1 503,535.4 503.5,535 504,535.1 504.5,535.8 505,535.7 505.5,535.1 506,535.6 506.5,535.5 507,535.8 507.5,536.3 508,535.7 508.5,535.2 509,535.8 509.5,536.4 510,536.3 510.5,535.1 511,535.7 511.5,535.6 512,535.4 512.5,535.4 513,536.1 513.5,535.8 514,535.6 514.5,536.4 515,535.7 515.5,535.9 516,535.1 516.5,535.1 517,535.9 517.5,535.8 518,537.5 518.5,535.4 519,536 519.5,535.6 520,536 520.5,536 521,535.7 521.5,533.6 522,535.5 522.5,535.2 523,535.8 523.5,534.6 524,535.5 524.5,536 525,536 525.5,535 526,535.9 526.5,535.2 527,535.5 527.5,536 528,535.3 528.5,538.1 529,537.7 529.5,535.9 530,536.1 530.5,536.1 531,536 531.5,535.4 532,535.2 532.5,537.3 533,537.7 533.5,537.1 534,536 534.5,535.9 535,535.7 535.5,535.8 536,537.5 536.5,537.7 537,537.8 537.5,536.9 538,535.8 538.5,535.4 539,533.5 539.5,535.2 540,535.4 540.5,535.9 541,535.5 541.5,535.8 542,535.4 542.5,535.9 543,536.1 543.5,535.5 544,534 544.5,533.7 545,533.4 545.5,535.9 546,535.9 546.5,536 547,538.1 547.5,537.5 548,537.5 548.5,535.6 549,535.8 549.5,535.6 550,535.7 550.5,535.4 551,535.2 551.5,535.2 552,535.8 552.5,535.6 553,536.8 553.5,535.9 554,536.2 554.5,535.5 555,535.3 555.5,536.1 556,535.7 556.5,535.6 557,536 557.5,535.5 558,537.6 558.5,537.5 559,538.7 559.5,535.5 560,535.9 560.5,535.5 561,535.8 561.5,535.6 562,536 562.5,534.2 563,534.4 563.5,533.8 564,535.3 564.5,534.9 565,535.8 565.5,535.3 566,536.4 566.5,535.4 567,536.1 567.5,536 568,535.5 568.5,535.4 569,535.6 569.5,536.1 570,535.1 570.5,533.7 571,534.2 571.5,535.4 572,535.5 572.5,536.2 573,535.2 573.5,534.9 574,535.6 574.5,535.7 575,535.3 575.5,535.2 576,535.5 576.5,534.9 577,535.6 577.5,533.8 578,534.5 578.5,534.1 579,535.4 579.5,535.4 580,534.7 580.5,535.5 581,536.6 581.5,536.8 582,535.5 582.5,537.4 583,536.8 583.5,535.3 584,535 584.5,535.4 585,535.2 585.5,535.1 586,535.5 586.5,536 587,536 587.5,535.2 588,535.6 588.5,535.8 589,533.9 589.5,534.2 590,535.1 590.5,535.3 591,535.4 591.5,535.7 592,532.9 592.5,533.8 593,533.2 593.5,535.6 594,536.4 594.5,535.9 595,535.2 595.5,535.5 596,535.3 596.5,536.1 597,534.8 597.5,533.7 598,533.6 598.5,533.4 599,536.3 599.5,535.1 600,535.2 600.5,536.3 601,535.7 601.5,535.7 602,534.1 602.5,534.3 603,534.2 603.5,535.5 604,535.3 604.5,535.8 605,535.6 605.5,535.7 606,536.2 606.5,535.7 607,537.6 607.5,536.6 608,536.1 608.5,535.7 609,537.1 609.5,535.9 610,534.4 610.5,533.9 611,535.9 611.5,535.7 612,535.7 612.5,535.4 613,535.9 613.5,535.9 614,536.4 614.5,535.9 615,535.6 615.5,536.4 616,536 616.5,536 617,535.9 617.5,536 618,537.5 618.5,537.8 619,537.8 619.5,536 620,536.3 620.5,536.2 621,536 621.5,533.4 622,535.7 622.5,535.1 623,536.3 623.5,537 624,537 624.5,535.7 625,536.4 625.5,536 626,535.9 626.5,537.4 627,536 627.5,535.9 628,536.4 628.5,536.4 629,536 629.5,535.7 630,536.1 630.5,535.7 631,535.2 631.5,536.5 632,537.2 632.5,535.4 633,535.7 633.5,537.1 634,536.9 634.5,535.7 635,534.9 635.5,535 636,536.3 636.5,535.9 637,535.7 637.5,535.4 638,536 638.5,535.6 639,535.7 639.5,535.6 640,535.5 640.5,536 641,534.3 641.5,536.4 642,536.4 642.5,537.3 643,536.7 643.5,535.8 644,536 644.5,536.2 645,536.2 645.5,536.2 646,535.7 646.5,536.5 647,536 647.5,534.6 648,537 648.5,536.8 649,535.7 649.5,536 650,535.9 650.5,535.6 651,536.4 651.5,535.4 652,535.3 652.5,535.4 653,536 653.5,535.9 654,535.4 654.5,535.5 655,535.7 655.5,535.3 656,536 656.5,536.3 657,535.7 657.5,535.9 658,537.1 658.5,536.3 659,537.7 659.5,536.8 660,536.9 660.5,536 661,535.8 661.5,535.3 662,535 662.5,535.5 663,535.8 663.5,535.6 664,535.3 664.5,535.4 665,536.3 665.5,535.2 666,535.5 666.5,535.4 667,536.3 667.5,535 668,535.3 668.5,535.7 669,535.8 669.5,536.1 670,536.1 670.5,535.4 671,535.8 671.5,537.1 672,535.5 672.5,536 673,534.5 673.5,536.3 674,534 674.5,536 675,534.6 675.5,535.8 676,535.9 676.5,537 677,537.3 677.5,537 678,535.2 678.5,535.8 679,536 679.5,535.4 680,535.4 680.5,535.9 681,537.2 681.5,537.7 682,535.7 682.5,534.8 683,535.6 683.5,535.4 684,535.9 684.5,535.8 685,534 685.5,534.5 686,534.6 686.5,535.8 687,534.8 687.5,534 688,535.6 688.5,534.9 689,536.2 689.5,535.8 690,535.7 690.5,535.7 691,537.8 691.5,536.1 692,535.6 692.5,537.9 693,537.9 693.5,534.9 694,535.5 694.5,536 695,534.7 695.5,536.4 696,533.4 696.5,534.2 697,534.2 697.5,536 698,533.4 698.5,533.9 699,535.7 699.5,535.7 700,534.9 700.5,535.7 701,535.4 701.5,536 702,535.9 702.5,535.9 703,535.6 703.5,535.7 704,535.7 704.5,536.1 705,536.9 705.5,536.7 706,536 706.5,536 707,535.8 707.5,536.3 708,536.5 708.5,536.2 709,535.4 709.5,536.1 710,535.8 710.5,535.6 711,535.5 711.5,535.8 712,536 712.5,536.2 713,535.9 713.5,535.8 714,535.5 714.5,535.7 715,535.1 715.5,535.9 716,535.8 716.5,536.3 717,535.5 717.5,537.9 718,537.2 718.5,536.2 719,536.1 719.5,536 720,535.5 720.5,535.4 721,535.4 721.5,535.1 722,535.6 722.5,535.4 723,535.6 723.5,535.5 724,535 724.5,535.9 725,535.5 725.5,535.8 726,535.1 726.5,533.5 727,533.6 727.5,533.9 728,535.5 728.5,536.1 729,536 729.5,535.4 730,536.8 730.5,535.6 731,536.1 731.5,535.5 732,535.9 732.5,537.9 733,537 733.5,538.3 734,535.4 734.5,534.1 735,534 735.5,534 736,535.4 736.5,535.1 737,535.9 737.5,535.6 738,535.6 738.5,536 739,536.3 739.5,534.9 740,536.1 740.5,533.9 741,533.4 741.5,534.1 742,535.6 742.5,536 743,535.7 743.5,535.8 744,535.5 744.5,535.2 745,535.9 745.5,535.5 746,534.2 746.5,534.6 747,534 747.5,536 748,535.7 748.5,535.6 749,535.1 749.5,535.7 750,535.7 750.5,535.4 751,533.9 751.5,534.1 752,536.5 752.5,535.9 753,536.9 753.5,535.7 754,535.9 754.5,536.1 755,535.8 755.5,536.6 756,538.6 756.5,537.9 757,535.6 757.5,537.1 758,536.5 758.5,536 759,535.7 759.5,535.1 760,535.4 760.5,534.1 761,533.2 761.5,535.2 762,534.2 762.5,534.8 763,535 763.5,535.7 764,532.8 764.5,535.2 765,536.9 765.5,535.6 766,534.6 766.5,536.5 767,535.1 767.5,535.8 768,535.2 768.5,536.5 769,535.1 769.5,535.4 770,536.1 770.5,535.4 771,535.8 771.5,535.9 772,535.6 772.5,535.2 773,535.3 773.5,535.5 774,535.9 774.5,536 775,535.8 775.5,535.9 776,535.1 776.5,535.8 777,535.6 777.5,535.9 778,534.8 778.5,535.3 779,535.6 779.5,536.2 780,535.8 780.5,535.7 781,535.2 781.5,535.9 782,535.2 782.5,535.6 783,535.5 783.5,535.8 784,535.4 784.5,535.6 785,535.4 785.5,535.6 786,535.8 786.5,535.7 787,535.7 787.5,535.9 788,536.3 788.5,536.1 789,535.4 789.5,534.2 790,534.5 790.5,534.2 791,534.9 791.5,536 792,536.4 792.5,535.7 793,535.7 793.5,533.7 794,534.6 794.5,536.2 795,536 795.5,534.2 796,533.8 796.5,539.5 797,539.8 797.5,538.6 798,539.6 798.5,540.1 799,540.3 799.5,539.2 800,540.2 800.5,539.2 801,538.1 801.5,539.3 802,537.4 802.5,538.2 803,538.4 803.5,538.1 804,539.4 804.5,539.2 805,538.5 805.5,537.8 806,537.9 806.5,538.6 807,536.4 807.5,535.9 808,536.1 808.5,538.4 809,537.1 809.5,537.2 810,537.3 810.5,539.3 811,539.5 811.5,538.8 812,537 812.5,536.8 813,537 813.5,537 814,536.5 814.5,537 815,536.8 815.5,537 816,537.7 816.5,534.7 817,537.4 817.5,537.7 818,536.3 818.5,537.2 819,537.5 819.5,537.2 820,537.3 820.5,536.9 821,536.5 821.5,537.3 822,537.9" fill="none" stroke-width="1.8"/>
<polyline points="486,536.2 486.5,534.8 487,536.9 487.5,536.2 488,536 488.5,538.2 489,537.7 489.5,538 490,536.3 490.5,535.9 491,535.9 491.5,536.1 492,535.9 492.5,535.5 493,536.3 493.5,536.3 494,535.8 494.5,535.8 495,536.3 495.5,536.7 496,536.5 496.5,536.5 497,535.9 497.5,536.2 498,534.4 498.5,534.2 499,536.1 499.5,535.6 500,535.7 500.5,534.6 501,534.6 501.5,534.7 502,535.3 502.5,535.7 503,536.7 503.5,536.1 504,536.3 504.5,536.3 505,536.1 505.5,535.8 506,536 506.5,538.6 507,537.6 507.5,536.8 508,536 508.5,536.1 509,536.3 509.5,536.1 510,535.9 510.5,536.2 511,535.6 511.5,536.3 512,536.3 512.5,536.4 513,537.4 513.5,537.8 514,537.7 514.5,536.1 515,536.9 515.5,536.3 516,536 516.5,536.7 517,536.3 517.5,536.8 518,535.4 518.5,536 519,536.1 519.5,535.5 520,536.3 520.5,537.1 521,536.5 521.5,535.9 522,536.8 522.5,536.6 523,536 523.5,537.2 524,537.9 524.5,536.8 525,536.5 525.5,535.6 526,536.9 526.5,536.6 527,535.6 527.5,536.2 528,536.4 528.5,535.5 529,536.3 529.5,536.5 530,536.8 530.5,537.8 531,536.3 531.5,536.7 532,536.3 532.5,536 533,535.9 533.5,535 534,535 534.5,535.5 535,536.4 535.5,535.9 536,536.3 536.5,535.9 537,536.6 537.5,536.7 538,536.8 538.5,536.4 539,537.4 539.5,536.3 540,536.5 540.5,536.4 541,537.2 541.5,536.5 542,536.6 542.5,536.4 543,536.4 543.5,536.2 544,538 544.5,539.2 545,538.6 545.5,536.5 546,536.4 546.5,537.1 547,536.3 547.5,536 548,535.5 548.5,535 549,534.8 549.5,536.1 550,536.7 550.5,536.5 551,537.5 551.5,538.1 552,536.2 552.5,533.9 553,534 553.5,534.5 554,536.2 554.5,536.5 555,536.9 555.5,536.2 556,537.5 556.5,536.6 557,536.4 557.5,536 558,536.4 558.5,536.4 559,536.8 559.5,534.3 560,534.7 560.5,536.5 561,536.9 561.5,534.9 562,536.6 562.5,536.7 563,536.8 563.5,536.5 564,536.4 564.5,536.5 565,536.9 565.5,536.3 566,536.5 566.5,536 567,536.8 567.5,535 568,534.7 568.5,534.7 569,536 569.5,536.1 570,536.2 570.5,536.1 571,535.6 571.5,536.9 572,536.3 572.5,534.5 573,534.4 573.5,536.5 574,536.2 574.5,536.1 575,536.1 575.5,536.7 576,536.3 576.5,536.3 577,536.1 577.5,536.1 578,536.7 578.5,535.9 579,536.5 579.5,536.6 580,536.4 580.5,536.2 581,535.7 581.5,536.6 582,535.7 582.5,536.4 583,535.1 583.5,535.4 584,536 584.5,535.9 585,538.3 585.5,538 586,537.3 586.5,536.3 587,538.9 587.5,538.4 588,535.8 588.5,534.9 589,535.1 589.5,534 590,536.2 590.5,536.8 591,535.7 591.5,536.2 592,536.2 592.5,536.1 593,536.8 593.5,536.8 594,534.5 594.5,535.9 595,536.8 595.5,536.6 596,536.3 596.5,536.6 597,536.6 597.5,536 598,536.2 598.5,536.4 599,535.6 599.5,534.4 600,534.2 600.5,534.6 601,535.8 601.5,536.4 602,534.7 602.5,534.6 603,536.4 603.5,536.5 604,536.1 604.5,538.1 605,537.9 605.5,536 606,536.8 606.5,538.1 607,538.2 607.5,538.2 608,536.4 608.5,536 609,536.1 609.5,536.7 610,537.3 610.5,538 611,537.6 611.5,535.5 612,536.3 612.5,535.9 613,535.8 613.5,537.3 614,538 614.5,538.1 615,536.4 615.5,535.9 616,536.3 616.5,536.2 617,535.6 617.5,537 618,538.1 618.5,537.8 619,536.4 619.5,535.9 620,536.1 620.5,538.8 621,536.3 621.5,537.8 622,537.8 622.5,537.7 623,536.3 623.5,537.4 624,536.2 624.5,536.1 625,536.6 625.5,536 626,535.7 626.5,535.2 627,536.5 627.5,536.5 628,536.3 628.5,536.8 629,536.7 629.5,536.6 630,535.9 630.5,536.4 631,536.4 631.5,537.1 632,536 632.5,536.3 633,536.9 633.5,536.1 634,537.5 634.5,537.1 635,536.6 635.5,536.7 636,536.7 636.5,536.5 637,536.5 637.5,535.3 638,536.1 638.5,538.6 639,537.7 639.5,536.8 640,536.6 640.5,534.1 641,534.5 641.5,536.4 642,535.7 642.5,536.2 643,533.8 643.5,534.4 644,534.2 644.5,536.6 645,536 645.5,535.8 646,535.9 646.5,537.1 647,537.5 647.5,535.2 648,533.8 648.5,533.8 649,535.8 649.5,535.4 650,535.8 650.5,535.4 651,536.2 651.5,535.8 652,536 652.5,536.2 653,535 653.5,534.5 654,536.3 654.5,536.3 655,536.2 655.5,534.1 656,536.2 656.5,536.1 657,535.9 657.5,536.5 658,536.8 658.5,535.1 659,536.2 659.5,536.5 660,538 660.5,538.3 661,537.9 661.5,536.4 662,536.8 662.5,536.7 663,536.2 663.5,536.7 664,535.9 664.5,537.3 665,537.7 665.5,538 666,536.1 666.5,536.3 667,536.4 667.5,536.3 668,535.9 668.5,538.1 669,535.8 669.5,536.8 670,536.8 670.5,536.1 671,535.9 671.5,538 672,537.7 672.5,537.9 673,536.4 673.5,536 674,538.3 674.5,536.1 675,536.7 675.5,536 676,537.9 676.5,536.4 677,536.3 677.5,534.3 678,534.2 678.5,536.1 679,536 679.5,537.8 680,538.4 680.5,537.8 681,536.5 681.5,536.7 682,536 682.5,535.4 683,536.1 683.5,536.5 684,536.9 684.5,535.7 685,537.9 685.5,537.6 686,536 686.5,535.7 687,536 687.5,536.4 688,536.6 688.5,535.1 689,536.3 689.5,535.9 690,534.1 690.5,534.5 691,535.1 691.5,535.8 692,536.1 692.5,535.5 693,536.2 693.5,535.8 694,537.8 694.5,536.1 695,534.6 695.5,535.9 696,536.1 696.5,536.2 697,535.5 697.5,535.9 698,536 698.5,536 699,535.1 699.5,534.1 700,536.3 700.5,536 701,535.7 701.5,536.2 702,535.8 702.5,535.2 703,534.6 703.5,535.4 704,535.7 704.5,535.9 705,536.1 705.5,535.8 706,535.4 706.5,535.9 707,535.9 707.5,537.9 708,537.5 708.5,535.4 709,535.9 709.5,537.3 710,537.1 710.5,535.4 711,536.4 711.5,536.2 712,536 712.5,535.8 713,536.5 713.5,536.7 714,536.8 714.5,535.9 715,535 715.5,534.4 716,535.9 716.5,536 717,536.2 717.5,536 718,536 718.5,535.9 719,536.5 719.5,536.4 720,536.5 720.5,535.9 721,536 721.5,536.4 722,536 722.5,535.8 723,536.3 723.5,535.7 724,536.1 724.5,536.6 725,536.4 725.5,535.9 726,536.5 726.5,536.1 727,536.7 727.5,536.6 728,536.3 728.5,536.1 729,536.1 729.5,539 730,535.6 730.5,537.3 731,538.4 731.5,536.8 732,536.6 732.5,533.7 733,534.7 733.5,536 734,536.4 734.5,536.5 735,536.6 735.5,536.2 736,536.9 736.5,536.7 737,536 737.5,536.2 738,536.2 738.5,536.4 739,535.2 739.5,534.3 740,534.3 740.5,536.2 741,537 741.5,536.5 742,537.1 742.5,534.8 743,534.6 743.5,534.3 744,536.2 744.5,536.3 745,535.6 745.5,536.3 746,536.3 746.5,536.6 747,538.2 747.5,538.3 748,537.7 748.5,536.2 749,537 749.5,536.5 750,536.9 750.5,538.4 751,536.6 751.5,536.7 752,536.2 752.5,536.2 753,536.1 753.5,536.4 754,536.6 754.5,536.2 755,536.8 755.5,537 756,536 756.5,536.8 757,536.4 757.5,536.5 758,536.3 758.5,536.8 759,536.5 759.5,536.2 760,536.2 760.5,535.9 761,534.9 761.5,535.5 762,535.5 762.5,536.2 763,536 763.5,536.8 764,536.6 764.5,535.7 765,537.6 765.5,536.4 766,537 766.5,536.4 767,537.1 767.5,536.4 768,535.7 768.5,536.2 769,535.8 769.5,536.1 770,536.3 770.5,536.3 771,534.2 771.5,534.6 772,534.1 772.5,536.4 773,536.3 773.5,534.4 774,536.7 774.5,536.4 775,536.2 775.5,536 776,536 776.5,535.9 777,536.6 777.5,536.3 778,535.8 778.5,536.6 779,536.1 779.5,535.8 780,536.9 780.5,534.5 781,535.9 781.5,536.3 782,536.4 782.5,536 783,535.4 783.5,538.1 784,535.9 784.5,536.2 785,536 785.5,535.9 786,536.1 786.5,536 787,535.9 787.5,534.6 788,535.8 788.5,536.1 789,536.3 789.5,535.7 790,535.9 790.5,536.3 791,536.3 791.5,536 792,534.6 792.5,536.4 793,536.5 793.5,536.6 794,536.8 794.5,536.4 795,535.8 795.5,536.2 796,535.9 796.5,540 797,540 797.5,540.8 798,541.3 798.5,541.1 799,539.2 799.5,537.2 800,539.3 800.5,538.4 801,538.9 801.5,539 802,538.1 802.5,539.3 803,538.9 803.5,538.8 804,540.2 804.5,537.9 805,537.7 805.5,538.1 806,536.6 806.5,536.5 807,538.7 807.5,537.9 808,537.8 808.5,537.9 809,537.4 809.5,537.1 810,536.5 810.5,537.9 811,538.1 811.5,537.5 812,537.9 812.5,537.8 813,538.2 813.5,538.8 814,537.7 814.5,538.4 815,537 815.5,538.4 816,538.1 816.5,536.8 817,537.2 817.5,537 818,537.6 818.5,537.1 819,537.3 819.5,536.8 820,537.5 820.5,536.6 821,538.2 821.5,537.8 822,538.1" fill="none" stroke-width="1.8"/>
<polyline points="486,535.4 486.5,535.4 487,535.8 487.5,533.5 488,535.3 488.5,535.1 489,533.4 489.5,534.1 490,535.3 490.5,535.7 491,535.7 491.5,535.1 492,535.1 492.5,535.6 493,535.5 493.5,535.4 494,537.3 494.5,535.8 495,535.4 495.5,535.1 496,533.6 496.5,533.3 497,533.6 497.5,535.4 498,535.1 498.5,535.2 499,535.2 499.5,535.6 500,535 500.5,535 501,535.1 501.5,535.5 502,535.5 502.5,535.3 503,535.5 503.5,535.7 504,535.2 504.5,534.9 505,535.2 505.5,534.7 506,535.3 506.5,535 507,535.2 507.5,535.1 508,535 508.5,535.3 509,535.1 509.5,534.9 510,534.7 510.5,535.3 511,534.7 511.5,535.9 512,537.2 512.5,534.6 513,535.4 513.5,537.1 514,536.4 514.5,535.3 515,535.2 515.5,535.4 516,535 516.5,535.6 517,535.2 517.5,535.1 518,537.2 518.5,537.4 519,536.1 519.5,534.1 520,535.4 520.5,535 521,534.7 521.5,535 522,536.3 522.5,534.7 523,535.5 523.5,534.9 524,534.7 524.5,535 525,534.7 525.5,534.7 526,535 526.5,534.9 527,537.1 527.5,537.3 528,535 528.5,535.5 529,533.3 529.5,533.5 530,534.5 530.5,535.4 531,536.2 531.5,535.7 532,535.4 532.5,535 533,536.1 533.5,535.4 534,535.3 534.5,536.7 535,537.8 535.5,536.9 536,535.7 536.5,535.5 537,535.5 537.5,535.4 538,536.1 538.5,535.6 539,535.1 539.5,535.7 540,536.8 540.5,537 541,535.3 541.5,535.3 542,534.4 542.5,534.8 543,534.8 543.5,535.5 544,535.3 544.5,535.2 545,534.7 545.5,535.6 546,535.3 546.5,535.3 547,535.9 547.5,535.3 548,535.3 548.5,535 549,535.1 549.5,536.1 550,535.8 550.5,536.1 551,535.3 551.5,535.7 552,536 552.5,535.8 553,537.8 553.5,537.3 554,537.1 554.5,534.7 555,535.7 555.5,535.8 556,536 556.5,536.7 557,537 557.5,534.9 558,534.9 558.5,535.7 559,536 559.5,536 560,535.7 560.5,536.4 561,533.7 561.5,534.2 562,533.4 562.5,534.4 563,536.7 563.5,536.8 564,536.9 564.5,535.5 565,535.8 565.5,536.3 566,535.9 566.5,535.3 567,534.6 567.5,535.1 568,536 568.5,535.3 569,535.7 569.5,535.7 570,535.5 570.5,535.5 571,535.3 571.5,536.4 572,535.1 572.5,535.8 573,537.4 573.5,537.3 574,537 574.5,534.8 575,534.9 575.5,536.2 576,536.6 576.5,536.8 577,535.5 577.5,535.5 578,535.7 578.5,534.5 579,534.5 579.5,534.7 580,535.6 580.5,534.5 581,536.3 581.5,536 582,535.3 582.5,535.2 583,535.4 583.5,535.1 584,535.6 584.5,535.8 585,535.8 585.5,535.1 586,535 586.5,536.9 587,537.7 587.5,536.9 588,535.6 588.5,535.6 589,535.6 589.5,535.8 590,534.8 590.5,535 591,535.2 591.5,537.4 592,537.4 592.5,535.2 593,535.6 593.5,535.1 594,534.9 594.5,534.8 595,535.2 595.5,535.1 596,534.4 596.5,534.3 597,535.3 597.5,537.1 598,537 598.5,534.7 599,535 599.5,535.8 600,535.5 600.5,535 601,536.1 601.5,536.2 602,538 602.5,535.8 603,535.7 603.5,535.6 604,535.7 604.5,535.8 605,535.8 605.5,535.8 606,534.3 606.5,535 607,535.7 607.5,535.1 608,535.7 608.5,535.7 609,535 609.5,535.4 610,534.2 610.5,535.3 611,535.9 611.5,535.4 612,535.7 612.5,535.9 613,535.5 613.5,536 614,536.2 614.5,536 615,535.9 615.5,535.9 616,535.8 616.5,536 617,535.2 617.5,534.3 618,535.9 618.5,535.7 619,536.7 619.5,535.7 620,535 620.5,535.8 621,536.1 621.5,535.4 622,535.7 622.5,537.2 623,535.7 623.5,535.5 624,536.1 624.5,536.5 625,537.4 625.5,535.2 626,535.5 626.5,536.2 627,535.6 627.5,535.8 628,535.3 628.5,536.3 629,535.5 629.5,535.6 630,535.2 630.5,535.2 631,535.6 631.5,535.7 632,535.9 632.5,535 633,535.3 633.5,536.8 634,535.7 634.5,535.3 635,535.7 635.5,535.5 636,535.7 636.5,535.5 637,535.4 637.5,535.9 638,536.2 638.5,536.1 639,536.2 639.5,536.2 640,535.7 640.5,536.4 641,536 641.5,535.3 642,535.4 642.5,535.7 643,536 643.5,535.6 644,535.3 644.5,536 645,535.3 645.5,535.8 646,535.7 646.5,535.2 647,536.4 647.5,535.7 648,535.2 648.5,535.6 649,534.9 649.5,535.7 650,535.9 650.5,536.6 651,535.6 651.5,535.3 652,535.7 652.5,536.2 653,535.8 653.5,536 654,535.9 654.5,535.8 655,535.1 655.5,535.1 656,533.7 656.5,533.8 657,535.2 657.5,536.4 658,535.4 658.5,535.6 659,536.9 659.5,537 660,537 660.5,535.1 661,535.7 661.5,535.2 662,535.2 662.5,535.3 663,533.9 663.5,533.4 664,535.5 664.5,535.6 665,534.5 665.5,535.5 666,533.4 666.5,533.9 667,533.5 667.5,534.7 668,536.6 668.5,536.6 669,538 669.5,535.8 670,535.7 670.5,535.3 671,535.4 671.5,534.9 672,533.7 672.5,535.6 673,536.2 673.5,535.2 674,535.5 674.5,535.5 675,535.1 675.5,535.8 676,535.1 676.5,535.8 677,535.6 677.5,534.3 678,533.9 678.5,534.2 679,536 679.5,535 680,535.1 680.5,535.8 681,535.9 681.5,535.7 682,535.9 682.5,535.4 683,536.1 683.5,536.9 684,536.7 684.5,536.1 685,535.9 685.5,535.4 686,536.9 686.5,535.8 687,535.2 687.5,537.3 688,537.1 688.5,537.3 689,534.9 689.5,535.3 690,535.7 690.5,536 691,534.3 691.5,534.6 692,535.1 692.5,535.5 693,535.7 693.5,535.6 694,535.9 694.5,535.5 695,535.5 695.5,535.8 696,535.3 696.5,533.2 697,533.7 697.5,535.2 698,536.1 698.5,534.8 699,536.8 699.5,537.5 700,536.3 700.5,535.5 701,534.1 701.5,534.1 702,535.4 702.5,535.8 703,535.3 703.5,535 704,535.9 704.5,535.9 705,535.2 705.5,535.6 706,535.1 706.5,535.4 707,535.4 707.5,535.8 708,535.3 708.5,537 709,538 709.5,535.7 710,537.4 710.5,537.3 711,537.4 711.5,535.7 712,535.7 712.5,535.5 713,535.3 713.5,535.8 714,535.4 714.5,535.5 715,535.7 715.5,535.7 716,537 716.5,537.5 717,535.1 717.5,535.5 718,533.7 718.5,534.1 719,535.7 719.5,535.8 720,535.1 720.5,535.7 721,535.1 721.5,536 722,535.2 722.5,535.2 723,534.2 723.5,536.2 724,534.8 724.5,535.4 725,535.2 725.5,535.4 726,535.6 726.5,535.5 727,535.2 727.5,536 728,536 728.5,536.3 729,535 729.5,535.3 730,535.7 730.5,535.6 731,535.3 731.5,535.2 732,535.1 732.5,536.3 733,534 733.5,533.8 734,535 734.5,533.6 735,533.4 735.5,535.6 736,535.2 736.5,537.2 737,537.2 737.5,537.8 738,536.2 738.5,535.5 739,535.9 739.5,535.7 740,535.9 740.5,535.7 741,535.8 741.5,535.8 742,535.7 742.5,534.2 743,536 743.5,535.5 744,535.3 744.5,534.9 745,535.6 745.5,535.7 746,534.8 746.5,535.2 747,536.8 747.5,536.5 748,535.5 748.5,535.8 749,535.4 749.5,535.6 750,535 750.5,535.5 751,534.9 751.5,534.8 752,535.2 752.5,535.6 753,535.4 753.5,535.1 754,535.7 754.5,535.5 755,535.8 755.5,533.5 756,534.4 756.5,535.9 757,535.7 757.5,535.5 758,535.5 758.5,533.6 759,534.7 759.5,535 760,535.2 760.5,535.9 761,535.8 761.5,535.4 762,535.9 762.5,535.5 763,534.6 763.5,535.7 764,535 764.5,535.7 765,535.7 765.5,535.7 766,535.6 766.5,535.4 767,535.2 767.5,535.9 768,533.9 768.5,533.6 769,535.3 769.5,535.6 770,535.6 770.5,534.8 771,535.7 771.5,535.5 772,533.4 772.5,535 773,535.8 773.5,537.7 774,537.7 774.5,534.8 775,535.3 775.5,535.4 776,535.9 776.5,535.7 777,535.3 777.5,535.4 778,536.8 778.5,536.9 779,536 779.5,535.9 780,535.8 780.5,535 781,535 781.5,535 782,535.5 782.5,535.2 783,535.6 783.5,536.8 784,536.6 784.5,536.8 785,535.2 785.5,534.9 786,535.2 786.5,535.8 787,536.3 787.5,536.1 788,535.5 788.5,535.9 789,535.1 789.5,536.2 790,535.9 790.5,536 791,535 791.5,533.8 792,534.4 792.5,535.8 793,535.6 793.5,535.6 794,535.4 794.5,535.7 795,535.2 795.5,535.9 796,536.1 796.5,538.3 797,538.5 797.5,538.3 798,538.4 798.5,538.5 799,538.2 799.5,538.2 800,538 800.5,539.7 801,537.7 801.5,536.4 802,536.4 802.5,537.4 803,537.5 803.5,537 804,536.6 804.5,537.3 805,536.9 805.5,537.9 806,536.9 806.5,537.5 807,536.9 807.5,538.4 808,538 808.5,536.7 809,537.2 809.5,536.9 810,537.4 810.5,537.5 811,537.8 811.5,537.5 812,536.6 812.5,536.9 813,536.4 813.5,536.4 814,537.4 814.5,536.7 815,536.8 815.5,536.6 816,536.1 816.5,536 817,536.7 817.5,537 818,536.8 818.5,535.6 819,534.9 819.5,534.9 820,536.6 820.5,536.2 821,536.4 821.5,536.8 822,536.8" fill="none" stroke-width="1.8"/>
<polyline points="486,537.5 486.5,535.1 487,536.7 487.5,536.1 488,535.1 488.5,536.6 489,537.2 489.5,537 490,537.3 490.5,535 491,537.2 491.5,537.7 492,536.6 492.5,536.8 493,536.4 493.5,537.2 494,537.1 494.5,537.5 495,537 495.5,537 496,537.1 496.5,536.9 497,537.1 497.5,537.1 498,537.2 498.5,536.9 499,537.2 499.5,537.3 500,536.9 500.5,537 501,537 501.5,536.6 502,536.9 502.5,537.4 503,539 503.5,538.8 504,536.7 504.5,539.5 505,539.8 505.5,537.4 506,537.2 506.5,536.9 507,537.2 507.5,537 508,537.1 508.5,537.7 509,537.5 509.5,537.1 510,537.3 510.5,537.3 511,537.1 511.5,536.7 512,537.6 512.5,537.7 513,536.9 513.5,538.3 514,537.5 514.5,536.8 515,535.4 515.5,536.9 516,537.5 516.5,536.8 517,538.7 517.5,538.8 518,536.6 518.5,536.5 519,536.9 519.5,536.5 520,536.9 520.5,537.2 521,537.2 521.5,539 522,538.6 522.5,536.9 523,537.2 523.5,537.3 524,537 524.5,536.9 525,538.7 525.5,538.6 526,538.3 526.5,537.3 527,537.2 527.5,536.7 528,536.9 528.5,537 529,535.3 529.5,535.6 530,536.1 530.5,536.9 531,536.7 531.5,537.4 532,537.1 532.5,537.2 533,536.6 533.5,536.9 534,537 534.5,537.1 535,537.8 535.5,538.7 536,537.3 536.5,537.8 537,537.6 537.5,537 538,537.3 538.5,536.9 539,536.9 539.5,537.2 540,537.2 540.5,537 541,536.8 541.5,536.6 542,536.4 542.5,536.9 543,537 543.5,537.2 544,536.3 544.5,537 545,536.9 545.5,537 546,537.5 546.5,537.5 547,537.3 547.5,537 548,536.9 548.5,537.4 549,537.6 549.5,537.6 550,537.2 550.5,537 551,537.2 551.5,537.2 552,536.7 552.5,536.8 553,538.1 553.5,536.7 554,537.2 554.5,536.6 555,536.8 555.5,536.5 556,538.4 556.5,537.1 557,537 557.5,537.6 558,536.8 558.5,536.9 559,536.9 559.5,537.7 560,538.3 560.5,538 561,536.4 561.5,537.4 562,536.8 562.5,537.2 563,537.2 563.5,537.1 564,536.7 564.5,537.7 565,536.9 565.5,536.3 566,537.6 566.5,536.1 567,535.3 567.5,537.2 568,537.6 568.5,537.7 569,539.1 569.5,539.2 570,537.5 570.5,537.2 571,536.8 571.5,537.2 572,537.7 572.5,537.7 573,537.3 573.5,537.2 574,537.9 574.5,538.7 575,538.9 575.5,536.6 576,537.1 576.5,537.5 577,536.6 577.5,538.7 578,538.9 578.5,537.6 579,537.5 579.5,537.8 580,537.5 580.5,537.5 581,536.8 581.5,536.8 582,537.8 582.5,537 583,536.9 583.5,536.3 584,537.6 584.5,538.4 585,538.5 585.5,539.3 586,536.3 586.5,537.7 587,536.9 587.5,538.4 588,538.2 588.5,536.7 589,536.9 589.5,536.8 590,536.7 590.5,537.8 591,536.8 591.5,536.4 592,536.4 592.5,537.4 593,535.3 593.5,537.1 594,537.9 594.5,539.2 595,537.2 595.5,536.8 596,535.3 596.5,535.3 597,537.2 597.5,537.8 598,537 598.5,538.7 599,539 599.5,537.5 600,537 600.5,537.2 601,537.3 601.5,537.9 602,537.4 602.5,536.7 603,538.3 603.5,539.2 604,538.9 604.5,537 605,536.8 605.5,537.1 606,537 606.5,538.7 607,538.5 607.5,538.5 608,537.4 608.5,537.2 609,537.2 609.5,537.2 610,536.9 610.5,537.8 611,538 611.5,538.9 612,537.8 612.5,538.2 613,537.5 613.5,536.9 614,536.9 614.5,536.7 615,535.7 615.5,535.5 616,536.2 616.5,537.7 617,538.6 617.5,538 618,537.6 618.5,537.2 619,537.6 619.5,537.5 620,536.9 620.5,537.4 621,537.4 621.5,537.6 622,537.5 622.5,537.9 623,537.4 623.5,536.8 624,537.2 624.5,536.7 625,537.5 625.5,536.7 626,537.9 626.5,536.9 627,537 627.5,536.8 628,536.7 628.5,536.8 629,537.1 629.5,537 630,536.9 630.5,535.3 631,536.8 631.5,537 632,539.5 632.5,536.8 633,536.9 633.5,536.6 634,536.8 634.5,537.1 635,536.8 635.5,538.3 636,538.9 636.5,538.9 637,537.2 637.5,536.5 638,537.5 638.5,536.8 639,536.5 639.5,537.3 640,537.4 640.5,536.7 641,536.6 641.5,537.1 642,536.4 642.5,537.9 643,535.2 643.5,535.7 644,535.5 644.5,536.5 645,536.5 645.5,537.3 646,537 646.5,536.5 647,536.6 647.5,535 648,537.2 648.5,536 649,535.9 649.5,536.9 650,537.1 650.5,536.3 651,535.7 651.5,535.9 652,537 652.5,536.9 653,536.7 653.5,536.7 654,535.8 654.5,537.1 655,536.8 655.5,536.3 656,537.3 656.5,537.2 657,537.1 657.5,536.6 658,536.8 658.5,535.3 659,535.1 659.5,534.8 660,537.5 660.5,536.6 661,535.8 661.5,537 662,537 662.5,536.9 663,535.2 663.5,534.9 664,535.5 664.5,536.4 665,536.9 665.5,538 666,537.3 666.5,534.9 667,536.9 667.5,537 668,537 668.5,536.6 669,537.1 669.5,535.7 670,535.8 670.5,536.3 671,537 671.5,536.6 672,537.7 672.5,537.3 673,537.2 673.5,536.9 674,537.3 674.5,536.2 675,537.5 675.5,537.2 676,536.9 676.5,537.3 677,537.1 677.5,534.5 678,535 678.5,537.1 679,536.9 679.5,536.9 680,537.3 680.5,538.2 681,537.6 681.5,536.7 682,537.1 682.5,536.6 683,537.2 683.5,537.7 684,538.2 684.5,537.4 685,537 685.5,536.5 686,537.3 686.5,537.1 687,536.9 687.5,538.1 688,536.3 688.5,537.8 689,538.1 689.5,538 690,538.5 690.5,536.6 691,538.5 691.5,537.5 692,536.6 692.5,535 693,535.2 693.5,536.6 694,536.7 694.5,537 695,537.8 695.5,536.7 696,536.9 696.5,538 697,537.4 697.5,536.4 698,537 698.5,537.4 699,537.7 699.5,537.7 700,537.4 700.5,537.4 701,536.6 701.5,536.9 702,536.7 702.5,537.5 703,537.3 703.5,537.2 704,539.3 704.5,537.3 705,537.5 705.5,537.5 706,537.5 706.5,536.8 707,537.6 707.5,537.4 708,537 708.5,537.4 709,537.6 709.5,537.1 710,536.8 710.5,536.8 711,536.6 711.5,537.1 712,537.3 712.5,537.7 713,536.7 713.5,537.2 714,537 714.5,537 715,536.4 715.5,535.3 716,537.7 716.5,537.4 717,537.2 717.5,535.7 718,537.3 718.5,536.8 719,536.8 719.5,536.7 720,537 720.5,536.5 721,536.7 721.5,537.2 722,536.8 722.5,536.2 723,536.7 723.5,535.3 724,537 724.5,536.3 725,535.8 725.5,536.8 726,537 726.5,537.4 727,536.9 727.5,536.2 728,537.6 728.5,536.1 729,536.8 729.5,537.4 730,536.7 730.5,536.7 731,536.9 731.5,536.9 732,536.6 732.5,536.7 733,537.4 733.5,536.7 734,537.1 734.5,536.6 735,537.5 735.5,537.3 736,536.9 736.5,537.2 737,537.5 737.5,536.5 738,536.5 738.5,535.1 739,534.4 739.5,536.3 740,536.3 740.5,537 741,535 741.5,536.7 742,535.6 742.5,537.1 743,537.1 743.5,536.8 744,537.4 744.5,537.2 745,536.6 745.5,536.6 746,537.3 746.5,537.1 747,536.8 747.5,536.2 748,539.3 748.5,537 749,535.3 749.5,534.2 750,537.2 750.5,536.9 751,536.7 751.5,536.6 752,535.9 752.5,537.1 753,536.8 753.5,539.1 754,538.4 754.5,538.6 755,537.2 755.5,534.9 756,535.7 756.5,535.1 757,536.4 757.5,536.3 758,537.2 758.5,536.7 759,537.2 759.5,536.7 760,537 760.5,536.8 761,535.2 761.5,537.2 762,536.9 762.5,537.1 763,536.3 763.5,537.1 764,535.2 764.5,535.1 765,536 765.5,536.3 766,537 766.5,537.1 767,536 767.5,535.8 768,535.4 768.5,536.5 769,536.1 769.5,536.9 770,537.6 770.5,538.4 771,536.5 771.5,536.9 772,536.8 772.5,536.2 773,537 773.5,536.9 774,536.8 774.5,537.6 775,536.9 775.5,537.6 776,536.5 776.5,536.3 777,536.6 777.5,537.4 778,536.6 778.5,536.3 779,538.6 779.5,538.4 780,538.7 780.5,536.7 781,537.9 781.5,538.9 782,538 782.5,536.7 783,537.2 783.5,536 784,537.3 784.5,537.7 785,537.4 785.5,536.6 786,536.7 786.5,537.1 787,537.2 787.5,537.6 788,537.5 788.5,536.8 789,535.2 789.5,535.1 790,535.7 790.5,537.3 791,536.9 791.5,536.9 792,539 792.5,538.5 793,536.1 793.5,536.9 794,538.8 794.5,538.6 795,537.4 795.5,536.8 796,536.5 796.5,539 797,539.4 797.5,537.5 798,537.8 798.5,538.2 799,538.4 799.5,538.5 800,538.1 800.5,538.4 801,538.5 801.5,538.5 802,538.2 802.5,538.4 803,538.8 803.5,538.5 804,539.2 804.5,539.3 805,539.3 805.5,539.6 806,538.1 806.5,539.4 807,538.7 807.5,539.3 808,538.6 808.5,539 809,540.6 809.5,538.2 810,540.3 810.5,540.2 811,539.8 811.5,537.8 812,538.1 812.5,538 813,536.8 813.5,537.1 814,538 814.5,538.5 815,538.3 815.5,537.7 816,537.6 816.5,538.1 817,537.2 817.5,538.3 818,538.1 818.5,538.4 819,538.2 819.5,538.3 820,536.4 820.5,535.9 821,535.7 821.5,538.2 822,537.7" fill="none" stroke-width="1.8"/>
<polyline points="486,536.8 486.5,536.6 487,536.3 487.5,537.5 488,536.8 488.5,536.8 489,534.6 489.5,537 490,536.5 490.5,537.3 491,536.9 491.5,536.7 492,536.2 492.5,536.6 493,536.6 493.5,536.7 494,533.9 494.5,534.4 495,536.5 495.5,536.9 496,534.1 496.5,537.2 497,537.1 497.5,536.3 498,537.6 498.5,536.7 499,536.6 499.5,536.8 500,536.7 500.5,536.6 501,536.2 501.5,536.4 502,536.8 502.5,536.9 503,537.2 503.5,536.5 504,536.7 504.5,536.4 505,537.1 505.5,536.5 506,536.4 506.5,536.6 507,535.9 507.5,536.8 508,536.4 508.5,537.6 509,536.3 509.5,536.5 510,536.9 510.5,536.8 511,536.9 511.5,536.4 512,536.1 512.5,537.5 513,536.6 513.5,534.7 514,536.7 514.5,535.9 515,536.2 515.5,536 516,536.5 516.5,535.9 517,538.6 517.5,536.9 518,536.9 518.5,536.6 519,536.5 519.5,534.7 520,535.1 520.5,536.4 521,535.7 521.5,536.2 522,536.8 522.5,536.1 523,536.1 523.5,536.4 524,535.7 524.5,536.8 525,536.7 525.5,538.7 526,536.6 526.5,536.1 527,536 527.5,536.7 528,536.8 528.5,536.1 529,536 529.5,536.5 530,537.7 530.5,538 531,536.8 531.5,536.5 532,536.9 532.5,534.6 533,534.6 533.5,535 534,536.9 534.5,536.9 535,536.5 535.5,536.6 536,536.2 536.5,536.9 537,536.4 537.5,535.9 538,536.5 538.5,536.3 539,535.6 539.5,536.4 540,536.9 540.5,536.8 541,535.2 541.5,535.6 542,534.9 542.5,536.2 543,536.8 543.5,536.8 544,536.2 544.5,536.6 545,535.5 545.5,535.4 546,535.5 546.5,536.4 547,536.2 547.5,536.4 548,535.1 548.5,537 549,536.6 549.5,537.2 550,534.6 550.5,536.5 551,536.2 551.5,536.7 552,537.1 552.5,537.1 553,537 553.5,536.8 554,537.2 554.5,536.2 555,537.1 555.5,536.7 556,536.7 556.5,536.1 557,536.8 557.5,537.1 558,535.9 558.5,537 559,535.8 559.5,536.1 560,536.6 560.5,537.2 561,536.6 561.5,536.8 562,536.3 562.5,536.5 563,536.6 563.5,537.2 564,536.3 564.5,536.3 565,537 565.5,538.4 566,536.6 566.5,536.7 567,536.3 567.5,535.7 568,536.9 568.5,536.6 569,536 569.5,538.5 570,539 570.5,537.1 571,537.4 571.5,536.1 572,536.7 572.5,536.7 573,536.6 573.5,538.4 574,535.5 574.5,537.3 575,536 575.5,537 576,536.7 576.5,538.2 577,538.1 577.5,536.8 578,537 578.5,537.1 579,536.7 579.5,536.3 580,536.3 580.5,537.2 581,536.7 581.5,534.5 582,534.6 582.5,534.8 583,536.2 583.5,536.7 584,537.2 584.5,536.6 585,536 585.5,537 586,537.1 586.5,537.1 587,536.7 587.5,537.6 588,536.9 588.5,537.8 589,537.2 589.5,538.6 590,538 590.5,537.8 591,536.8 591.5,536.7 592,536.6 592.5,536.8 593,536.8 593.5,536.6 594,537.1 594.5,536.5 595,536.8 595.5,536.3 596,536.9 596.5,536.9 597,537.9 597.5,538.3 598,536.8 598.5,536.7 599,536.7 599.5,537 600,536.9 600.5,538.3 601,537.5 601.5,537.8 602,536.6 602.5,536.9 603,537 603.5,536.4 604,537.1 604.5,537.7 605,536.9 605.5,536.5 606,536.7 606.5,536.7 607,536.6 607.5,537.1 608,536.1 608.5,536.9 609,537.4 609.5,537.3 610,537.2 610.5,534.6 611,537.4 611.5,537 612,538.9 612.5,538.8 613,538.5 613.5,536.8 614,537.8 614.5,536.2 615,538.3 615.5,537.8 616,537 616.5,537.1 617,536.8 617.5,536.8 618,536.5 618.5,537.1 619,536.8 619.5,537.1 620,536.7 620.5,536.9 621,537.2 621.5,537.1 622,535 622.5,534.9 623,537 623.5,536.5 624,535 624.5,535.3 625,535.7 625.5,536.5 626,536.4 626.5,536.8 627,537.2 627.5,537 628,536.7 628.5,537.2 629,536 629.5,537.1 630,536.5 630.5,536.9 631,537 631.5,535 632,536.7 632.5,537.6 633,537.3 633.5,536.8 634,536.7 634.5,537.2 635,536.5 635.5,538.6 636,539 636.5,539.3 637,536.6 637.5,536.7 638,535.9 638.5,537 639,536.1 639.5,535.2 640,535.4 640.5,536.2 641,535.6 641.5,534.6 642,535.1 642.5,535.6 643,536.9 643.5,536.5 644,537.5 644.5,537.8 645,538 645.5,536.4 646,536.4 646.5,536.4 647,536.7 647.5,537.3 648,536.3 648.5,536.4 649,533.5 649.5,534.6 650,536.7 650.5,535.6 651,536.2 651.5,536.1 652,535.9 652.5,535.9 653,536 653.5,536.5 654,536.8 654.5,536.5 655,536 655.5,536.6 656,536.5 656.5,535.2 657,536.8 657.5,536.3 658,538.3 658.5,535.6 659,536.9 659.5,536.5 660,536.6 660.5,535.8 661,536.6 661.5,536.5 662,536.3 662.5,534.4 663,534.9 663.5,534.5 664,536.1 664.5,536.9 665,536.5 665.5,536.4 666,536 666.5,536.5 667,536.5 667.5,536.2 668,537 668.5,537 669,536.3 669.5,536.8 670,537.3 670.5,536.9 671,537.1 671.5,536.3 672,536.8 672.5,536.9 673,539.6 673.5,539.4 674,536.9 674.5,536.5 675,535 675.5,535.3 676,534.2 676.5,535.9 677,536.3 677.5,537.1 678,537.1 678.5,535.6 679,535.9 679.5,535.4 680,536.7 680.5,536.9 681,537.4 681.5,537 682,536.8 682.5,537 683,537.4 683.5,536.7 684,536.6 684.5,536.6 685,537.1 685.5,536.6 686,537 686.5,536.3 687,536.7 687.5,536.8 688,537.4 688.5,537.1 689,536.6 689.5,536.5 690,536.5 690.5,536.3 691,537.3 691.5,536.4 692,537.3 692.5,536.7 693,536.6 693.5,536.7 694,537.1 694.5,536.3 695,536.8 695.5,536.6 696,536.7 696.5,536.4 697,536.3 697.5,536.6 698,535.9 698.5,537 699,536.5 699.5,536.2 700,536.6 700.5,536.2 701,536.5 701.5,536.5 702,536.9 702.5,534.9 703,534.3 703.5,536.7 704,536.8 704.5,535.9 705,536.1 705.5,536.2 706,536.4 706.5,536.4 707,536.5 707.5,536.3 708,535.8 708.5,536 709,536.2 709.5,536.3 710,536.2 710.5,535.9 711,536.3 711.5,536.9 712,536.3 712.5,536.5 713,537.1 713.5,536.3 714,537.7 714.5,536.9 715,536.6 715.5,536.5 716,537.1 716.5,536.3 717,536.5 717.5,537.3 718,536.5 718.5,536.5 719,536.4 719.5,535.9 720,537.1 720.5,536.7 721,537.1 721.5,536.6 722,536.5 722.5,536.4 723,537 723.5,536.4 724,535.5 724.5,536.7 725,536.3 725.5,536.5 726,535.5 726.5,536.7 727,537.5 727.5,536.9 728,536.7 728.5,536.7 729,536.7 729.5,536.6 730,536.5 730.5,535.1 731,537.3 731.5,536.6 732,536.9 732.5,538.1 733,536.8 733.5,536.2 734,536.4 734.5,536.4 735,536.6 735.5,536.2 736,535.8 736.5,538.1 737,538.6 737.5,538.3 738,536.4 738.5,536.8 739,536.4 739.5,536.6 740,539.2 740.5,538.2 741,538.3 741.5,536.8 742,536.3 742.5,536.4 743,536.6 743.5,536.7 744,534.8 744.5,535.3 745,537.2 745.5,535.9 746,536.8 746.5,536.6 747,537.9 747.5,538.1 748,537.2 748.5,536.7 749,537.1 749.5,536.7 750,536.8 750.5,536.5 751,536.7 751.5,536.6 752,536.7 752.5,536 753,536.2 753.5,537.1 754,537.2 754.5,535.9 755,535 755.5,535 756,535.3 756.5,536.6 757,536.9 757.5,536.1 758,536.8 758.5,538.3 759,538.1 759.5,536.8 760,536.6 760.5,536.6 761,537.1 761.5,536.7 762,537.4 762.5,537.4 763,538.3 763.5,536.2 764,536.3 764.5,536.4 765,537 765.5,536.5 766,536.2 766.5,536.9 767,537.4 767.5,538.5 768,537.4 768.5,536.5 769,537.4 769.5,536.6 770,536.8 770.5,536.6 771,536.7 771.5,536.3 772,538.8 772.5,537.2 773,535.9 773.5,536.2 774,536.4 774.5,536.2 775,536.8 775.5,536.3 776,535.5 776.5,536.1 777,535.9 777.5,536.7 778,536.5 778.5,534.7 779,534.4 779.5,536.4 780,536.5 780.5,536.4 781,536.8 781.5,536.1 782,536 782.5,535.8 783,536.6 783.5,536.8 784,536.1 784.5,536.1 785,537.3 785.5,537 786,536.9 786.5,536.6 787,536.7 787.5,536.3 788,534.8 788.5,535.9 789,534.6 789.5,536.8 790,536.3 790.5,536.6 791,536.4 791.5,536.5 792,538.2 792.5,538.4 793,536.4 793.5,537 794,536.2 794.5,536.8 795,538.2 795.5,537.3 796,536.9 796.5,536 797,536.1 797.5,538.3 798,537.6 798.5,537.9 799,538.1 799.5,537.5 800,537.7 800.5,537.6 801,538.1 801.5,538.3 802,537.3 802.5,537.8 803,538.7 803.5,538.9 804,538.3 804.5,537.8 805,537.4 805.5,537.2 806,539.1 806.5,538.5 807,538.3 807.5,537.6 808,537.7 808.5,537.3 809,537.1 809.5,538 810,537.7 810.5,537.9 811,537.4 811.5,537.2 812,537.3 812.5,536.9 813,537.3 813.5,538.8 814,537.4 814.5,537.4 815,539.2 815.5,539 816,537 816.5,536.9 817,537.4 817.5,539.2 818,536.8 818.5,537.9 819,537.6 819.5,536.9 820,537.5 820.5,537.4 821,537.5 821.5,537.5 822,537.6" fill="none" stroke-width="1.8"/>
<polyline points="486,536.2 486.5,535.6 487,535.5 487.5,535.3 488,534.9 488.5,535.1 489,535.4 489.5,537.9 490,535.3 490.5,535.4 491,535.4 491.5,536.1 492,535.8 492.5,537.9 493,537.1 493.5,535.7 494,535.9 494.5,535.5 495,535.1 495.5,535.7 496,535.5 496.5,535.8 497,535.6 497.5,536 498,535.7 498.5,535.2 499,535.6 499.5,535.3 500,536.6 500.5,535.9 501,536.1 501.5,535.9 502,536.6 502.5,535.4 503,535.6 503.5,536.4 504,535.7 504.5,535.6 505,535.7 505.5,536.6 506,536.7 506.5,536 507,535.9 507.5,536.1 508,536 508.5,535.9 509,535.6 509.5,535.6 510,534.2 510.5,535.9 511,536.4 511.5,535.7 512,535.5 512.5,535.3 513,535.6 513.5,535.3 514,536.3 514.5,535.7 515,535.6 515.5,536 516,538.4 516.5,537.4 517,535.4 517.5,535.7 518,535.1 518.5,536 519,537.5 519.5,537.1 520,536.9 520.5,536.8 521,535.4 521.5,535.6 522,535.9 522.5,536.2 523,535.8 523.5,535.9 524,537.3 524.5,538.3 525,535.5 525.5,534.4 526,534.5 526.5,535.9 527,536.7 527.5,535.7 528,536 528.5,535 529,535.9 529.5,535.8 530,536.2 530.5,535.6 531,535.3 531.5,535.9 532,534.1 532.5,534.4 533,534.8 533.5,534.9 534,537.7 534.5,536.4 535,535.2 535.5,535.5 536,536 536.5,536.2 537,535.9 537.5,535.8 538,536.5 538.5,537.2 539,536.7 539.5,535.8 540,535.7 540.5,533.8 541,535.2 541.5,535.8 542,536 542.5,536.1 543,535.8 543.5,535.8 544,534.1 544.5,534.7 545,535.4 545.5,537.3 546,535.6 546.5,535.9 547,536.4 547.5,535.5 548,537.2 548.5,537.2 549,535.6 549.5,537.4 550,537.1 550.5,537.5 551,536 551.5,536.6 552,535.8 552.5,536 553,536 553.5,536.7 554,536 554.5,535.9 555,534.5 555.5,535.9 556,534.4 556.5,534.3 557,536.2 557.5,535.7 558,536.4 558.5,536.2 559,536.8 559.5,536.3 560,536.2 560.5,536.9 561,536.3 561.5,537.8 562,537.5 562.5,538.4 563,535.7 563.5,535.7 564,535.7 564.5,534.2 565,534.4 565.5,534.3 566,536.2 566.5,535.6 567,534.2 567.5,536.1 568,535.7 568.5,535.6 569,535.5 569.5,536.1 570,537.6 570.5,537.6 571,536.5 571.5,536.2 572,536 572.5,536.6 573,536.4 573.5,535.8 574,536.4 574.5,536.7 575,536.8 575.5,536.4 576,536.2 576.5,536.2 577,536.6 577.5,535.5 578,536.5 578.5,534.7 579,534.4 579.5,535.6 580,535.4 580.5,536.2 581,536.7 581.5,535.8 582,535.7 582.5,536.5 583,536 583.5,536.4 584,535.6 584.5,536.3 585,536.7 585.5,535.6 586,535.8 586.5,535.8 587,536.2 587.5,536.5 588,535.7 588.5,536.9 589,536 589.5,533.8 590,534.6 590.5,534 591,535.9 591.5,535.8 592,536.9 592.5,535.6 593,536.5 593.5,535.7 594,535.8 594.5,534.9 595,535.1 595.5,534.4 596,535.9 596.5,536.6 597,536.6 597.5,536.1 598,535.7 598.5,534.6 599,534.9 599.5,534.6 600,536.8 600.5,536.2 601,535.8 601.5,536.1 602,536.3 602.5,536.1 603,536.1 603.5,536.7 604,536 604.5,535.8 605,536.6 605.5,536.6 606,536 606.5,536.6 607,535.9 607.5,536.1 608,535.9 608.5,536.2 609,536.6 609.5,536.5 610,536.1 610.5,536.5 611,536.6 611.5,536.8 612,536.6 612.5,536.7 613,536.5 613.5,536.1 614,536.5 614.5,536.9 615,536.9 615.5,535.4 616,536.7 616.5,536.3 617,536.6 617.5,535.9 618,536.3 618.5,535.8 619,536.2 619.5,536.6 620,536.6 620.5,537.2 621,536.2 621.5,536.1 622,536.9 622.5,535.8 623,536.5 623.5,536.6 624,536.7 624.5,537.2 625,535.9 625.5,536.7 626,536.1 626.5,536.2 627,537 627.5,537.3 628,537.3 628.5,536.1 629,536.1 629.5,536.8 630,536.5 630.5,535.5 631,536.5 631.5,536.5 632,536.2 632.5,536.6 633,535.3 633.5,536 634,534.7 634.5,535.4 635,534.8 635.5,536.3 636,535.8 636.5,536.6 637,535.9 637.5,536.1 638,536.1 638.5,537.5 639,538.5 639.5,538.5 640,536.1 640.5,535.9 641,536 641.5,535.9 642,536.2 642.5,534.5 643,535.8 643.5,536.6 644,536.1 644.5,536.9 645,536.2 645.5,536 646,536 646.5,534.1 647,534.3 647.5,534.4 648,535.7 648.5,535.8 649,536.5 649.5,536.4 650,535.6 650.5,536.4 651,536.6 651.5,536.4 652,534.5 652.5,534.6 653,535 653.5,536.9 654,535.9 654.5,536.4 655,535.9 655.5,536.9 656,535.1 656.5,534.6 657,534.7 657.5,535.9 658,537.9 658.5,537.7 659,536.1 659.5,537 660,536 660.5,536.3 661,536.1 661.5,536.2 662,534.9 662.5,533.8 663,534.7 663.5,536 664,536.2 664.5,536.1 665,536.1 665.5,536.2 666,535.9 666.5,535.6 667,534.4 667.5,535.4 668,535.6 668.5,535 669,536.2 669.5,535.8 670,537.3 670.5,537.5 671,538 671.5,536.1 672,536.8 672.5,536.4 673,536 673.5,535.1 674,535.6 674.5,536 675,535.5 675.5,537.4 676,537.7 676.5,536.1 677,536.2 677.5,537 678,538 678.5,537.9 679,535.8 679.5,536.2 680,537.1 680.5,536.9 681,536.4 681.5,536.7 682,536.2 682.5,536.7 683,535.8 683.5,536.3 684,535.9 684.5,536 685,536.2 685.5,535.8 686,535.6 686.5,536.6 687,535.6 687.5,536.9 688,535.9 688.5,536.4 689,536.4 689.5,534.3 690,536.4 690.5,536.3 691,536.5 691.5,536.6 692,536.5 692.5,535.9 693,536.2 693.5,537.6 694,536 694.5,536.4 695,536.4 695.5,536.5 696,536.4 696.5,536.4 697,536.1 697.5,536.8 698,536.5 698.5,536.2 699,536.7 699.5,536.1 700,536.4 700.5,536.6 701,535.8 701.5,537.1 702,536 702.5,536 703,537.5 703.5,537.7 704,536.5 704.5,536.8 705,536.1 705.5,536.3 706,535.5 706.5,535.6 707,536 707.5,536.2 708,536.1 708.5,536.3 709,536.1 709.5,537.6 710,538.6 710.5,536 711,536.5 711.5,535.6 712,536.2 712.5,536.9 713,536.8 713.5,535.8 714,536 714.5,535.7 715,535.7 715.5,536 716,536.2 716.5,536.4 717,535.8 717.5,535.7 718,536.4 718.5,536.6 719,535.9 719.5,536.1 720,536.6 720.5,537 721,536.1 721.5,535 722,534.8 722.5,535.5 723,536.2 723.5,536.5 724,535.7 724.5,535.3 725,536.2 725.5,535.2 726,535.3 726.5,536.9 727,536.7 727.5,536.3 728,535.9 728.5,536.6 729,537.3 729.5,537.8 730,535.6 730.5,534.1 731,533.4 731.5,535.8 732,536.4 732.5,535.8 733,535.8 733.5,537 734,537.1 734.5,536 735,535.3 735.5,535.6 736,535.8 736.5,535.9 737,535.5 737.5,535.7 738,536.2 738.5,535.5 739,536.9 739.5,536.4 740,535.9 740.5,536 741,536 741.5,536 742,535.8 742.5,536.9 743,534 743.5,534.2 744,535.8 744.5,536.1 745,535.6 745.5,535.9 746,536.1 746.5,536 747,535.8 747.5,536.3 748,536 748.5,537.9 749,537.4 749.5,535.7 750,535.7 750.5,535.9 751,536.3 751.5,536.6 752,535.9 752.5,536.5 753,536 753.5,535.5 754,534.2 754.5,534.5 755,536.2 755.5,535.7 756,535.7 756.5,535.7 757,534 757.5,534.2 758,534.8 758.5,535.7 759,535.2 759.5,535.1 760,536 760.5,535.5 761,535.9 761.5,536.8 762,537 762.5,535.7 763,535.5 763.5,538.3 764,538.3 764.5,536.1 765,536.6 765.5,535.3 766,535.8 766.5,535.7 767,536.2 767.5,535.4 768,536.1 768.5,535.3 769,534.9 769.5,536.3 770,535.5 770.5,535.8 771,536.4 771.5,536.5 772,535.4 772.5,536.1 773,536.2 773.5,535.9 774,536.5 774.5,535.7 775,537.3 775.5,537.2 776,536 776.5,535.8 777,536.3 777.5,535.8 778,535.9 778.5,537.6 779,537.3 779.5,536.4 780,536.3 780.5,536.2 781,535.6 781.5,536.6 782,535.3 782.5,536.3 783,536.1 783.5,537.9 784,537.5 784.5,537.6 785,536.3 785.5,536.1 786,538 786.5,538 787,536.9 787.5,535.4 788,536.5 788.5,536.2 789,536.2 789.5,535.6 790,536.6 790.5,535.6 791,536.6 791.5,535.8 792,535.1 792.5,534.3 793,535.6 793.5,535.9 794,535.6 794.5,535.8 795,536.6 795.5,533.8 796,534.1 796.5,537.5 797,536.9 797.5,537.2 798,537 798.5,537.1 799,536.7 799.5,537 800,537.4 800.5,536.6 801,535.5 801.5,535.1 802,535.8 802.5,536.1 803,536.6 803.5,537.1 804,536.6 804.5,535.9 805,536.3 805.5,536.3 806,537.1 806.5,536.8 807,536.9 807.5,536.1 808,536.6 808.5,537.1 809,536.9 809.5,536.3 810,536.7 810.5,536 811,536.1 811.5,535.7 812,536.4 812.5,534.7 813,534 813.5,534.4 814,536 814.5,536.1 815,535.9 815.5,535.1 816,534.3 816.5,534.5 817,536.2 817.5,536.5 818,537.4 818.5,537.5 819,536.3 819.5,536.5 820,535 820.5,535.2 821,535 821.5,536.9 822,536.6" fill="none" stroke-width="1.8"/>
<polyline points="486,536.6 486.5,537.1 487,536.8 487.5,537.3 488,536.9 488.5,535.8 489,538.8 489.5,535.9 490,538.5 490.5,538.3 491,537.1 491.5,536.7 492,536.6 492.5,537 493,537.4 493.5,537.8 494,537.7 494.5,536.3 495,536.2 495.5,538.2 496,536.7 496.5,537 497,536.3 497.5,536.3 498,535.3 498.5,537 499,535.9 499.5,536.6 500,536.5 500.5,538.5 501,536 501.5,536.6 502,537 502.5,534.6 503,534.2 503.5,535.8 504,537 504.5,536.2 505,536.3 505.5,537.4 506,538.4 506.5,538.5 507,538.6 507.5,535.7 508,536.9 508.5,536.9 509,536.1 509.5,536.6 510,536.7 510.5,536 511,536.6 511.5,537.8 512,539.1 512.5,538.1 513,536.6 513.5,535.8 514,536.5 514.5,536.8 515,536 515.5,536.2 516,536.1 516.5,535.9 517,535.9 517.5,536.8 518,535.9 518.5,535.7 519,536.2 519.5,538.4 520,536.7 520.5,536.1 521,536.3 521.5,536.7 522,536.7 522.5,536.8 523,535.2 523.5,534.4 524,536 524.5,536.8 525,537 525.5,534.5 526,534.5 526.5,536.1 527,537 527.5,536 528,537.2 528.5,536.3 529,536.1 529.5,535.7 530,536.3 530.5,536.3 531,536.2 531.5,536.4 532,535.8 532.5,535.5 533,536.4 533.5,536.8 534,536 534.5,536.6 535,536.6 535.5,536.9 536,535.7 536.5,536 537,536 537.5,536.5 538,536.4 538.5,536.6 539,535.5 539.5,536.9 540,538 540.5,536.5 541,536.5 541.5,536.1 542,536.6 542.5,536.4 543,536.4 543.5,536.5 544,536.3 544.5,535.8 545,536.3 545.5,537 546,534.4 546.5,536.4 547,536.6 547.5,537.1 548,536.2 548.5,534 549,536.6 549.5,536.1 550,536.5 550.5,536.6 551,536.2 551.5,536.3 552,536.8 552.5,536.9 553,536.5 553.5,536.6 554,537.5 554.5,538 555,537.8 555.5,536.5 556,537 556.5,536 557,536.8 557.5,536.4 558,536.4 558.5,537.4 559,537.8 559.5,537.3 560,535.5 560.5,534.4 561,536.4 561.5,536.6 562,536.8 562.5,534.8 563,533.9 563.5,536.6 564,536.4 564.5,536.8 565,536.2 565.5,535.9 566,536.4 566.5,536.7 567,536.7 567.5,536.6 568,536.4 568.5,536.5 569,537.2 569.5,537.6 570,536.8 570.5,537 571,536.3 571.5,537.1 572,536.5 572.5,537.8 573,538.7 573.5,536.6 574,537.1 574.5,538.1 575,536 575.5,535.4 576,535 576.5,536.9 577,536.5 577.5,536.2 578,535.7 578.5,536.9 579,536.3 579.5,538.3 580,538.6 580.5,536.1 581,535.9 581.5,536.6 582,536.1 582.5,536.4 583,536.1 583.5,535.9 584,535.8 584.5,536.4 585,536.8 585.5,536.7 586,536.4 586.5,537 587,536.2 587.5,536.8 588,536.3 588.5,536.2 589,536.8 589.5,536.6 590,536.7 590.5,535.9 591,536.9 591.5,536.8 592,536.3 592.5,536.7 593,536.9 593.5,536.2 594,536.1 594.5,536.3 595,535.6 595.5,536.6 596,536.8 596.5,536.6 597,536.6 597.5,536.8 598,536.3 598.5,535.8 599,536.4 599.5,536.9 600,536.5 600.5,536.2 601,536.7 601.5,536.5 602,536.2 602.5,536.3 603,536.2 603.5,536.5 604,535.9 604.5,536.4 605,537.9 605.5,537.7 606,537.7 606.5,536.4 607,536.6 607.5,536.2 608,536.3 608.5,536 609,536.2 609.5,534.4 610,535.1 610.5,535.3 611,536.2 611.5,536.6 612,536.7 612.5,537.7 613,537.3 613.5,538.1 614,536.6 614.5,535.4 615,536.1 615.5,536.4 616,536.2 616.5,536 617,536.4 617.5,535.9 618,536.5 618.5,536.3 619,536.2 619.5,536.2 620,535.8 620.5,535.9 621,536.9 621.5,536.2 622,537.4 622.5,538.3 623,537.6 623.5,536.5 624,536.9 624.5,536.3 625,536.8 625.5,536.6 626,536.9 626.5,536.5 627,536.1 627.5,535.5 628,536 628.5,536.1 629,536.7 629.5,536.7 630,535.9 630.5,536.7 631,535.9 631.5,536 632,535.8 632.5,536.5 633,536.2 633.5,536.9 634,534.7 634.5,536.7 635,535.9 635.5,536.8 636,536.5 636.5,536.5 637,536.2 637.5,536.2 638,536.6 638.5,537 639,535.9 639.5,536.2 640,536.1 640.5,535.8 641,535.9 641.5,536.2 642,538 642.5,538.7 643,536.8 643.5,536.1 644,536.8 644.5,536.2 645,534.7 645.5,534.8 646,535.5 646.5,536.5 647,535.9 647.5,536.8 648,536.9 648.5,536.9 649,536.1 649.5,536.5 650,536.5 650.5,537.1 651,536.7 651.5,537.1 652,536.2 652.5,536.4 653,536.2 653.5,535.7 654,536.8 654.5,536.5 655,536.4 655.5,534.6 656,533.9 656.5,534.3 657,536.2 657.5,535.2 658,536.1 658.5,536 659,535.8 659.5,536.6 660,535.9 660.5,536.8 661,537.8 661.5,536.8 662,536.1 662.5,537.1 663,537.3 663.5,537.6 664,537.8 664.5,537.6 665,536.8 665.5,536.7 666,535.7 666.5,536.1 667,536.5 667.5,536.7 668,536.4 668.5,535.8 669,536.7 669.5,537.2 670,535.6 670.5,536.8 671,537.1 671.5,536.7 672,538 672.5,536.7 673,536.3 673.5,536.6 674,536.3 674.5,536.3 675,536 675.5,536.1 676,536.9 676.5,536.1 677,535.6 677.5,537.6 678,536.1 678.5,536.1 679,538.2 679.5,538.3 680,536 680.5,536.9 681,536.2 681.5,535.9 682,535.3 682.5,536.7 683,536.2 683.5,536.4 684,536 684.5,536.4 685,536.3 685.5,536.7 686,538.3 686.5,537.8 687,539.2 687.5,536.5 688,536 688.5,536.4 689,536.4 689.5,536.4 690,536.3 690.5,536.3 691,536.6 691.5,536.5 692,536.5 692.5,535.6 693,535.6 693.5,535.9 694,536.1 694.5,536 695,535.9 695.5,536.4 696,537 696.5,535.3 697,535.8 697.5,536.1 698,536.2 698.5,536.6 699,536.5 699.5,535.6 700,536.9 700.5,536.2 701,536.4 701.5,536.4 702,536 702.5,536.6 703,535.6 703.5,536.9 704,536.5 704.5,536.6 705,536.7 705.5,536.3 706,536.9 706.5,536.2 707,536 707.5,536.5 708,535.9 708.5,536.3 709,536.6 709.5,536.8 710,536.5 710.5,536.2 711,536.4 711.5,534.6 712,534.8 712.5,536.2 713,536.1 713.5,536.1 714,535.9 714.5,537 715,536.8 715.5,536 716,536.8 716.5,538.1 717,536.1 717.5,536.2 718,536.5 718.5,536.9 719,536.8 719.5,536.4 720,536.8 720.5,536.5 721,535 721.5,535.6 722,535.3 722.5,536.8 723,536.2 723.5,536.4 724,536.9 724.5,536.4 725,537.6 725.5,536.1 726,536.6 726.5,536.1 727,536.6 727.5,536 728,536.3 728.5,536.9 729,536.4 729.5,536.2 730,536.6 730.5,536 731,535.8 731.5,536.1 732,536.6 732.5,536.5 733,537.3 733.5,537.4 734,536.3 734.5,537.1 735,536.1 735.5,538.2 736,537.7 736.5,536.5 737,536.6 737.5,536.3 738,536.2 738.5,536.1 739,536.3 739.5,536.6 740,536.6 740.5,536.6 741,535.9 741.5,535.9 742,535.8 742.5,536.2 743,536.5 743.5,535.9 744,536 744.5,536.3 745,535.9 745.5,536 746,536.5 746.5,536.1 747,535.8 747.5,536.1 748,536.2 748.5,536.9 749,536.6 749.5,537.2 750,535.6 750.5,536.5 751,536.6 751.5,536 752,535.9 752.5,536.3 753,535.9 753.5,535.6 754,535.5 754.5,535.5 755,535 755.5,536.3 756,535.7 756.5,536.2 757,536.2 757.5,536.3 758,536.4 758.5,536.3 759,536.7 759.5,536.4 760,535.7 760.5,537 761,537.2 761.5,536.3 762,536 762.5,536.5 763,537.7 763.5,538.1 764,536.4 764.5,536.3 765,536 765.5,537.3 766,537.3 766.5,535.9 767,536.7 767.5,535.7 768,536.3 768.5,536.7 769,536.5 769.5,536.8 770,536 770.5,536.5 771,536.7 771.5,536.6 772,536.6 772.5,535.8 773,537.9 773.5,537.8 774,536.2 774.5,534.3 775,534.6 775.5,535.9 776,536.1 776.5,536.6 777,536.7 777.5,536.5 778,536.1 778.5,535.8 779,536 779.5,536.8 780,536.3 780.5,536.3 781,536.4 781.5,536.6 782,535.9 782.5,536.1 783,536.6 783.5,536.4 784,536.8 784.5,536.7 785,536.1 785.5,535.2 786,536.6 786.5,536.1 787,536.8 787.5,537.2 788,536.2 788.5,536.9 789,536.9 789.5,536.7 790,536.6 790.5,537.2 791,538 791.5,538 792,537 792.5,536.9 793,536.4 793.5,535.9 794,536 794.5,537.2 795,536.6 795.5,534.7 796,534.7 796.5,536.8 797,536.7 797.5,537.3 798,536.6 798.5,536.8 799,536.6 799.5,536.9 800,537.3 800.5,535.6 801,536 801.5,535.4 802,536 802.5,537.9 803,538.5 803.5,538.1 804,536.6 804.5,535.2 805,536.1 805.5,536.1 806,536.6 806.5,536.6 807,537.2 807.5,537.1 808,536.1 808.5,537.1 809,537 809.5,536.8 810,536.4 810.5,536.4 811,535.5 811.5,536.5 812,536 812.5,536.5 813,536.9 813.5,536.2 814,535.6 814.5,535.8 815,535.1 815.5,536.8 816,536 816.5,536.6 817,535.9 817.5,535.8 818,536 818.5,536.4 819,536.5 819.5,536.5 820,536.1 820.5,536.6 821,536.3 821.5,535.1 822,536.4" fill="none" stroke-width="1.8"/>
<line x1="5.6" y1="232.2" x2="5.6" y2="338.8" stroke-width="3"/>
<line x1="17.3" y1="354" x2="43.7" y2="354" stroke-width="3.4"/>
</g>
<text x="18.9" y="312.1" font-size="29">1nA</text>
<text x="8.7" y="403.4" font-size="29.5">50ms</text>
<text x="200.4" y="83.4" font-size="35.5">control</text>
<text x="517.8" y="266.8" font-size="36.3">NaHS (200 µM)</text>
</svg></body></html>
